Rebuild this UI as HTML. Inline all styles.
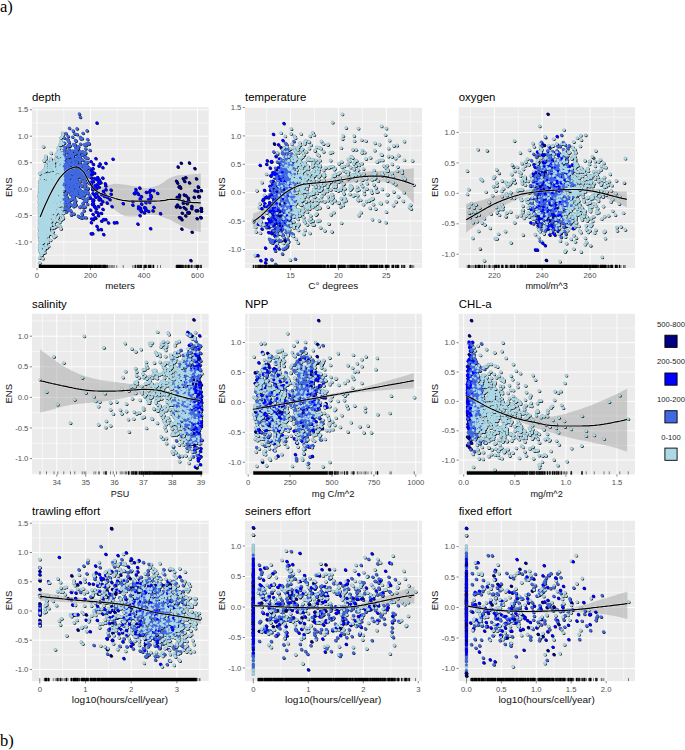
<!DOCTYPE html>
<html><head><meta charset="utf-8"><title>ENS partial effects</title><style>
html,body{margin:0;padding:0;background:#fff;}
body{width:685px;height:750px;overflow:hidden;font-family:"Liberation Sans",sans-serif;}
svg{display:block;}
text{font-family:"Liberation Sans",sans-serif;}
.t{font-size:7.7px;fill:#505050;}
.lg{font-size:7.6px;fill:#222;}
.ti{font-size:11.4px;fill:#000;}
.ax{font-size:9.9px;fill:#111;}
.ay{font-size:9.5px;fill:#111;}
.s{font-family:"Liberation Serif",serif;font-size:16.5px;fill:#000;}
polyline{fill:none;stroke:none;}
.q0{marker-start:url(#n0);marker-mid:url(#n0);marker-end:url(#n0);}
.q1{marker-start:url(#n1);marker-mid:url(#n1);marker-end:url(#n1);}
.q2{marker-start:url(#n2);marker-mid:url(#n2);marker-end:url(#n2);}
.q3{marker-start:url(#n3);marker-mid:url(#n3);marker-end:url(#n3);}
.r0{marker-start:url(#s0);marker-mid:url(#s0);marker-end:url(#s0);}
.r1{marker-start:url(#s1);marker-mid:url(#s1);marker-end:url(#s1);}
.r2{marker-start:url(#s2);marker-mid:url(#s2);marker-end:url(#s2);}
.r3{marker-start:url(#s3);marker-mid:url(#s3);marker-end:url(#s3);}
.p0{marker-start:url(#m0);marker-mid:url(#m0);marker-end:url(#m0);}
.p1{marker-start:url(#m1);marker-mid:url(#m1);marker-end:url(#m1);}
.p2{marker-start:url(#m2);marker-mid:url(#m2);marker-end:url(#m2);}
.p3{marker-start:url(#m3);marker-mid:url(#m3);marker-end:url(#m3);}
</style></head><body>
<svg width="685" height="750" viewBox="0 0 685 750">
<defs>
<marker id="m0" markerUnits="userSpaceOnUse" markerWidth="5" markerHeight="5" refX="2.5" refY="2.5" overflow="visible"><circle cx="3.02" cy="3.02" r="1.5" fill="#000" fill-opacity=".9"/><circle cx="2.45" cy="2.45" r="1.42" fill="#ADD8E6" stroke="#000" stroke-width=".25" stroke-opacity=".6"/></marker>
<marker id="m1" markerUnits="userSpaceOnUse" markerWidth="5" markerHeight="5" refX="2.5" refY="2.5" overflow="visible"><circle cx="3.02" cy="3.02" r="1.5" fill="#000" fill-opacity=".9"/><circle cx="2.45" cy="2.45" r="1.42" fill="#4169E1" stroke="#000" stroke-width=".25" stroke-opacity=".6"/></marker>
<marker id="m2" markerUnits="userSpaceOnUse" markerWidth="5" markerHeight="5" refX="2.5" refY="2.5" overflow="visible"><circle cx="3.02" cy="3.02" r="1.5" fill="#000" fill-opacity=".9"/><circle cx="2.45" cy="2.45" r="1.42" fill="#0000FF" stroke="#000" stroke-width=".25" stroke-opacity=".6"/></marker>
<marker id="m3" markerUnits="userSpaceOnUse" markerWidth="5" markerHeight="5" refX="2.5" refY="2.5" overflow="visible"><circle cx="3.02" cy="3.02" r="1.5" fill="#000" fill-opacity=".9"/><circle cx="2.45" cy="2.45" r="1.42" fill="#000080" stroke="#000" stroke-width=".25" stroke-opacity=".6"/></marker>
<marker id="n0" markerUnits="userSpaceOnUse" markerWidth="5" markerHeight="5" refX="2.5" refY="2.5" overflow="visible"><circle cx="2.5" cy="2.5" r="1.3" fill="#ADD8E6"/></marker>
<marker id="n1" markerUnits="userSpaceOnUse" markerWidth="5" markerHeight="5" refX="2.5" refY="2.5" overflow="visible"><circle cx="2.5" cy="2.5" r="1.3" fill="#4169E1"/></marker>
<marker id="n2" markerUnits="userSpaceOnUse" markerWidth="5" markerHeight="5" refX="2.5" refY="2.5" overflow="visible"><circle cx="2.5" cy="2.5" r="1.3" fill="#0000FF"/></marker>
<marker id="n3" markerUnits="userSpaceOnUse" markerWidth="5" markerHeight="5" refX="2.5" refY="2.5" overflow="visible"><circle cx="2.5" cy="2.5" r="1.3" fill="#000080"/></marker>
<marker id="s0" markerUnits="userSpaceOnUse" markerWidth="5" markerHeight="5" refX="2.5" refY="2.5" overflow="visible"><circle cx="2.5" cy="2.5" r="1.35" fill="#ADD8E6" stroke="#000" stroke-width=".2" stroke-opacity=".35"/></marker>
<marker id="s1" markerUnits="userSpaceOnUse" markerWidth="5" markerHeight="5" refX="2.5" refY="2.5" overflow="visible"><circle cx="2.5" cy="2.5" r="1.35" fill="#4169E1" stroke="#000" stroke-width=".2" stroke-opacity=".35"/></marker>
<marker id="s2" markerUnits="userSpaceOnUse" markerWidth="5" markerHeight="5" refX="2.5" refY="2.5" overflow="visible"><circle cx="2.5" cy="2.5" r="1.35" fill="#0000FF" stroke="#000" stroke-width=".2" stroke-opacity=".35"/></marker>
<marker id="s3" markerUnits="userSpaceOnUse" markerWidth="5" markerHeight="5" refX="2.5" refY="2.5" overflow="visible"><circle cx="2.5" cy="2.5" r="1.35" fill="#000080" stroke="#000" stroke-width=".2" stroke-opacity=".35"/></marker>
</defs>
<clipPath id="c0"><rect x="32.0" y="107.2" width="176.7" height="160.8"/></clipPath>
<rect x="32.0" y="107.2" width="176.7" height="160.8" fill="#EBEBEB"/>
<g clip-path="url(#c0)">
<path d="M63.8 107.2V268.0M117.2 107.2V268.0M170.8 107.2V268.0M32.0 255.2H208.7M32.0 228.8H208.7M32.0 202.3H208.7M32.0 175.9H208.7M32.0 149.4H208.7M32.0 123.0H208.7" stroke="#fff" stroke-width=".6" stroke-opacity=".9" fill="none"/>
<path d="M37.0 107.2V268.0M90.5 107.2V268.0M144.0 107.2V268.0M197.5 107.2V268.0M32.0 242.0H208.7M32.0 215.5H208.7M32.0 189.1H208.7M32.0 162.7H208.7M32.0 136.2H208.7M32.0 109.8H208.7" stroke="#fff" stroke-width=".95" fill="none"/>
<path d="M40.1 213.9L41.6 210.4L43.1 206.9L44.6 203.5L46.1 200.3L47.6 197.2L49.1 194.2L50.6 191.2L52.1 188.4L53.6 185.8L55.1 183.3L56.6 180.9L58.1 178.5L59.6 176.4L61.1 174.4L62.6 172.8L64.1 171.2L65.6 169.8L67.1 168.5L68.6 167.5L70.1 166.8L71.6 166.1L73.1 165.6L74.6 165.2L76.1 164.9L77.6 165.1L79.1 165.8L80.6 166.9L82.1 168.3L83.6 169.8L85.1 172.1L86.6 174.8L88.1 177.4L89.6 179.6L91.1 181.8L92.6 183.7L94.1 184.9L95.6 185.7L97.1 186.2L98.6 186.5L100.1 186.6L101.6 186.6L103.1 186.4L104.6 186.1L106.1 185.7L107.6 185.2L109.1 184.8L110.6 184.5L112.1 184.2L113.6 184.0L115.1 183.8L116.6 183.7L118.1 183.9L119.6 184.1L121.1 184.2L122.6 184.4L124.1 184.6L125.6 184.8L127.1 185.0L128.6 185.3L130.1 185.6L131.6 185.8L133.1 186.1L134.6 186.3L136.1 186.5L137.6 186.8L139.1 187.0L140.6 187.2L142.1 187.5L143.6 187.7L145.1 187.8L146.6 187.9L148.1 187.9L149.6 187.7L151.1 187.5L152.6 187.1L154.1 186.7L155.6 186.3L157.1 185.8L158.6 185.2L160.1 184.4L161.6 183.6L163.1 182.6L164.6 181.5L166.1 180.3L167.6 179.3L169.1 178.4L170.6 177.6L172.1 177.1L173.6 176.6L175.1 176.1L176.6 175.6L178.1 175.3L179.6 175.2L181.1 175.1L182.6 175.1L184.1 175.0L185.6 174.8L187.1 174.7L188.6 174.6L190.1 174.6L191.6 174.4L193.1 174.3L194.6 174.1L196.1 173.9L197.6 173.8L199.1 173.7L200.6 173.6L200.8 173.5L200.8 232.0L200.6 232.0L199.1 231.7L197.6 231.4L196.1 231.1L194.6 230.7L193.1 230.4L191.6 230.0L190.1 229.6L188.6 229.0L187.1 228.4L185.6 227.8L184.1 227.2L182.6 226.5L181.1 225.7L179.6 224.9L178.1 224.0L176.6 223.2L175.1 222.5L173.6 221.7L172.1 220.8L170.6 220.0L169.1 219.3L167.6 218.8L166.1 218.4L164.6 217.8L163.1 217.2L161.6 216.5L160.1 216.0L158.6 215.5L157.1 215.3L155.6 215.2L154.1 215.0L152.6 214.8L151.1 214.7L149.6 214.6L148.1 214.5L146.6 214.5L145.1 214.6L143.6 214.9L142.1 215.2L140.6 215.6L139.1 215.9L137.6 216.2L136.1 216.3L134.6 216.4L133.1 216.5L131.6 216.5L130.1 216.5L128.6 216.5L127.1 216.3L125.6 216.2L124.1 215.7L122.6 215.1L121.1 214.2L119.6 213.3L118.1 212.3L116.6 211.3L115.1 210.1L113.6 208.9L112.1 207.7L110.6 206.5L109.1 205.6L107.6 204.8L106.1 204.0L104.6 203.2L103.1 202.4L101.6 201.3L100.1 200.0L98.6 198.5L97.1 196.7L95.6 194.9L94.1 193.1L92.6 191.0L91.1 188.5L89.6 185.6L88.1 182.8L86.6 179.7L85.1 176.6L83.6 174.1L82.1 172.5L80.6 171.0L79.1 169.9L77.6 169.1L76.1 168.9L74.6 169.1L73.1 169.5L71.6 170.0L70.1 170.6L68.6 171.3L67.1 172.3L65.6 173.5L64.1 175.0L62.6 176.5L61.1 178.2L59.6 180.1L58.1 182.4L56.6 184.8L55.1 187.4L53.6 190.0L52.1 192.8L50.6 195.8L49.1 199.0L47.6 202.2L46.1 205.6L44.6 209.1L43.1 212.7L41.6 216.4L40.1 220.3Z" fill="#999" fill-opacity=".42"/>
<g class="p0"><polyline id="a0" points="63,218.6 54,204.3 59.4,190.1 51.1,199.1 45,228.6 60.3,226.6 46.7,184.3 46.4,209.8 41.9,187.4 47.2,193.6 59.8,160.8 40.5,217.9 41.7,207.6 52.4,193.4 42.2,213.8 50.5,191 60.6,172.9 46.6,210.2 39.9,228.5 40.2,203.1 59,153.6 59.2,151 45.5,214.5 60.4,178.4 59.2,148.5 47.3,211.5 42,214 44.6,183.3 39.9,239.2 47.9,211.4 45.3,221.2 46.1,223 45,205.6 40.7,193.8 47.4,228.1 41.1,177.8 59.1,150.2 43.5,206.8 51.8,177.5 54.3,227.7 42.5,219.5 48.1,209.9 58.7,180 48.8,218.1 54.6,215.8 42.1,214 47.1,232.6 60.7,196.8 52.5,181.4 48.1,191.6 39.8,215.3 39.7,181.5 40.3,222.2 46.2,201.8 42.9,198.5 46.5,216.9 51.4,207.1 43.9,215.4 39.8,221.5 55,220.8 45.6,210.6"/></g>
<g class="p1"><polyline id="a1" points="68,165.1 64.2,153.1 72.2,178.4 79.9,189.8 82.3,197.9 65.8,163 75.1,146.3 76.9,189.9 75.9,204.5 74.3,198 84.3,153.6 87.6,139.4 79.7,191.5 74.1,164.5 80.3,117.2 80.1,169.3 79.1,154.1 72.6,179.7"/></g>
<g class="p2"><polyline id="a2" points="160.4,213.5 146.1,210.2 94.6,206.1 135.8,189.5 99.3,183.1 93.5,200.1 140,198.9 107,202.9"/></g>
<g class="p3"><polyline id="a3" points="199.2,196.4 179.1,197 188.6,200.9"/></g>
<g class="p0"><polyline id="a4" points="40.8,182.7 41.4,210.2 46.6,223.6 47.2,194.9 40.7,225.5 56,183.7 44.6,213.7 40.6,203.1 49.9,192.1 61.7,167 46.1,211.7 58.3,149.3 62.8,167.8 54,218.8 45.4,216.4 54.1,189.4 61.9,158.7 48.5,170.1 43.3,207.7 40.3,220.3 61.2,170.8 50.9,181 42.5,223.7 53.7,192.3 45.2,221.6 58,210.9 44.8,217.9 43.4,221.3 63.5,185.8 43.5,206.7 42.8,212 44.9,186.6 40,216.5 54.6,222 52.4,217.3 39.4,207.8 47.3,216.8 47.3,209.9 53.6,178.8 52,199.5 61,174.1 41,216.9 47.9,196.2 61.1,175.2 41.3,240.6 54.7,196.9 47.7,232 43.9,196.9 52.7,182.1 51.3,176.7 47.8,198.6 40.3,217.7 52.1,216.5 46.7,209.4 39.4,209.8 47.9,189.7 56,214.1 60,183.4"/></g>
<g class="p1"><polyline id="a5" points="64.3,177.4 70.5,186.5 66.1,177 72.5,180.8 76,158.8 83.9,168.4 72.5,163.8 68.5,190.7 69.8,175.1 65.2,175 80.5,144.1 66.4,175.3 84.7,199.3 69.5,145.7 87.5,162.3 64.6,159.6 82.7,170.8 70.8,177.3 70,169.6 65.8,188 63.8,190.8 73.2,189.5 86,163.8 79.7,152.7 68.6,189.1 76.5,174.5"/></g>
<g class="p2"><polyline id="a6" points="90.5,210 111,190 101.5,221.1"/></g>
<g class="p3"><polyline id="a7" points="191.6,208.5 185.6,215.7 186.9,203.6"/></g>
<g class="p0"><polyline id="a8" points="61.3,187.5 62.4,136.8 43.6,176 42.1,205.8 54.3,203.6 50.3,192.9 41,221 39.9,182.7 40.6,226.8 50.5,164.5 58,217.6 39.4,228.5 45.1,190 40.5,204.9 44.7,188.7 58.7,211.7 45.6,203.8 42.5,214.9 41.1,211.3 50.3,206.1 63.2,170.6 60.2,176.4 43.6,205.1 45.2,221.5 48.1,176.7 55.5,171 50.8,167.8 43,216.4 41.6,220.7 54.6,206.9 39.5,220.1 44.8,194.9 49,206.3 63.1,194.1 41,238.8 41.2,201.2 41.4,221.2 53.7,218.2 49.8,206.8 47.4,229.2 57.2,188.9 63,186.9 40.7,223.1 55,210.7 43.2,183 54.9,183.6 43.1,193.7 48.2,178.2 41.6,217.3 50,215.9 59,181.2 50.2,196.2 40.9,200.4 45.7,211.1 45.9,217.5 54.6,194.9 49.1,212.8 61.3,203.6 45.6,210.9 46.5,229.6 56.5,175.6 53.9,174.9 44.2,209.4 46.3,204.9 40.4,188 40.9,209.9 55.5,226.7 54.3,219.2 51.2,201.4"/></g>
<g class="p1"><polyline id="a9" points="67.4,178.1 67.3,181 65.5,158 72.7,156.2 80.8,166.1 65.3,171.8 67.7,146.4 73.9,163.8 74.8,203.2 66.4,199.1 80.4,172.4 71.4,152.2 64.6,203.6 82.5,174.8 68.8,178.4 73.8,168.7 74.5,191.8 63.9,164.8"/></g>
<g class="p2"><polyline id="a10" points="149.2,191.9 151,196.7"/></g>
<g class="p3"><polyline id="a11" points="187.9,212.7 187.9,212.7"/></g>
<g class="p0"><polyline id="a12" points="48.7,229.4 59.1,171.7 62.3,166.1 49.2,214.1 45.1,193.8 46.7,170.4 60.7,190.7 60.4,187.5 42.5,200.7 62.9,148.2 43.4,196.9 52.8,204.8 41.2,191.3 48,204 43.7,224.5 46.4,203 47.3,226.2 50.4,174.6 56.9,199.6 48.8,200 45.6,237.8 43.3,235 48.3,205.7 53.8,190.7 47,241 44.8,202.2 52.3,201.4 44.4,219.9 40.6,217.7 41.2,224.9 40.3,182.5 52.8,210.9 58.1,188.9 44.4,160.3 47.3,188.8 43.7,214.8 48.8,202.6 48.6,182.8 48.6,197.7 52.9,209.2 41.8,206.5 42.1,229.9 45.6,201.1 50.9,217.8 56.1,192 44.7,252.5 47.6,189.6 46.4,194.4 61.7,167.5 59.6,185.4 42,199.1 50.3,175.4 57.3,183.7 48.1,242.2 59,194 59.4,170.1 45.3,229.9"/></g>
<g class="p1"><polyline id="a13" points="70.4,194.4 69.2,161.2 76.4,179.4 75.4,192.3 64,182.2 72.9,156.5 70.8,188.1 80.8,138.8 68.7,177.7 68.1,136.4 66,133.6 77.3,165.8 68.4,156.6 75.5,194.9 79.6,156.2 64.1,198.1 85.7,157.5 67.6,181.5 73.6,144.4 71.2,176.7 75.3,186.3 68.5,203.4"/></g>
<g class="p2"><polyline id="a14" points="138.5,206.7 112.9,159.1 92.6,189.7 144.4,207.6 92.9,193.6 97.9,196.6 96.6,193.3 96.8,184.7 91.8,174.6"/></g>
<g class="p3"><polyline id="a15" points="176.4,181.1 179.3,217.4"/></g>
<g class="p0"><polyline id="a16" points="60.5,152.7 58.5,178.5 48.8,228.4 48.5,204 44.1,204.6 44.3,214.1 45.6,207.2 51.2,206.4 61.8,169.7 42,254.9 57.5,193.7 44.4,200.5 57.2,168.3 55.7,206.5 46.6,214.1 55.2,195.7 41.4,229.1 60.2,177.4 45.8,156.3 43.7,191.9 48.5,215.8 44.9,213.1 42.9,234.3 45.9,189.2 60.6,176.6 52.5,197.9 46.9,189.5 45.2,221.2 57.3,201.1 53.9,224.2 45.5,208.8 43.8,221.8 45.8,225.9 48.2,219.2 43.6,239.2 62.1,186.3 47.5,203.1 61.9,194.4 62.4,153.7 60.1,161 45.3,201.4 44.6,209.7 46.9,190.8 41.7,194.8 42.8,231.1 41.7,201.7 54.3,201.5 46,217.3 48.6,195.5 39.3,197 44.1,228.4 61.3,186 42.6,229.4 48.3,211.7 42.3,181.9 48.5,201.6"/></g>
<g class="p1"><polyline id="a17" points="76,194 74.7,165 68.3,170.5 76,174.4 63.8,165.1 72.9,196.8 66.6,208.4 72.4,172 79.6,166.4 66.5,179.1 67.2,186 70.2,188.7 78.2,216.1 73,167.6 79.6,174.5 88.9,175.8 70.4,169.7 67.3,189.6 69.3,151.5 72.8,180.9 78,159.8 76.1,188.3 76.8,192.3 84.8,191 71.9,153.5"/></g>
<g class="p2"><polyline id="a18" points="145.7,209.8 90.5,198 92.4,187.4 93.2,219.4 132.7,205.1 98.9,199.8 139.9,215.6 105.6,185.7"/></g>
<g class="p3"><polyline id="a19" points="201.2,208.4 201.2,208.4"/></g>
<g class="p0"><polyline id="a20" points="56.8,192.1 43.2,217.9 58,155.2 58.3,191.1 44.4,202.7 41.7,210.6 62.3,216.1 50.9,186.8 53.7,188.7 44.5,202.7 48.7,215.7 47.8,198.2 57.5,191.6 41,225.2 44.5,197.3 40.5,210.4 56.9,204.9 43.6,211 57.9,177.1 46.6,206.4 57.3,199.2 60,194.6 49.7,177 43.4,216.5 50.6,193.3 48.7,198.3 40.9,200.6 44.1,214.5 43.4,146.8 48.2,223.4 49.7,195.4 59.2,148.3 60.3,211.2 46.3,221.5 62.2,196.5 60.9,144.9 56.9,195.6 39.4,210.8 57.2,185.5 40.6,206.4 48.2,162.2 54,194.7 48.2,214.7 46.5,183.3 44,187 43.6,228.6 47.4,176.6 46.6,199.6 40.6,182.4 46.6,210.4 40.4,222.5 59,176.3 46.7,205.8 60.8,162.7 42.4,221.2 56.3,190.8 53.6,184.8 39.5,195.5 44.5,206 40.4,201.2 44.2,227.3 39.5,200.2"/></g>
<g class="p1"><polyline id="a21" points="67.8,139.6 73,168 77.8,174.5 72.1,187.3 73.9,154.2 79.6,166.2 63.9,169.5 78.7,188.6 76.1,192.4 68.1,176 69.8,171.9 70.1,181.3 75.6,190.9 77.1,193.5 72.4,173.8 75.4,185.1 79.7,197"/></g>
<g class="p2"><polyline id="a22" points="96.9,123 93.3,181.6 103.4,191.2 101.5,194.6 95.5,197.2 92.9,203.5 137.4,193 140.9,200.7 94.7,217.9"/></g>
<g class="p3"><polyline id="a23" points="179.4,195 176.2,206.8"/></g>
<g class="p0"><polyline id="a24" points="45.5,206.6 40.8,236.6 44,190.5 47.6,188.9 57.2,189.3 46.2,199.8 39.9,197.8 62.2,172 47.9,215.2 42.6,172.9 49.2,200.8 57.5,192.9 43.3,203.7 41.5,247.5 43.9,235.7 60.8,173.9 44.1,227.3 43.2,212.8 59,171.8 57.7,159.9 58.2,172.1 61.3,195.2 52.5,234.3 61.1,213 50.3,206.3 47.9,179.8 46.4,222.9 53.3,190.6 45.2,224 43,201 42.5,202.3 42.8,201.4 49.5,201.3 49.5,180.6 56.3,204.8 44.2,218.2 46.3,203.5 50.7,214.9 51.6,203.7 44,190.1 42.1,216 47.3,241.7 47.4,210.9 41.3,245.4 46.5,225.9 57.5,162.6 52.3,190.5 44.6,214.8 43.5,206.3 49,174.3 48.3,205.9 56.1,183.5 45.4,195.2 47.8,221.3 42.3,215.6 46,187.9 50.9,221.4 42.1,217.9 54,168.3 53.5,195.3 47.5,184.4 45.9,195.1 44.3,221 59.2,208.8 40.1,223.5 51.6,191.8 46.3,201 58.8,200.6 60.6,184.1 40.7,225.5 40.8,206.1 52.2,193.9 63.5,178.1 45.5,211"/></g>
<g class="p1"><polyline id="a25" points="76.1,184.9 71.6,168.6 77.6,159.6 83.6,164.7 85.9,172.4 66.8,163.9 71.3,186.4 78,166.7 80.7,190.7 67.7,168.2 74.4,179 77,175.2 84.4,172.4 74.4,183.6"/></g>
<g class="p2"><polyline id="a26" points="111.9,206.6 105.7,219.4"/></g>
<g class="p0"><polyline id="a27" points="47.8,192.6 57.4,168.5 42.1,205.3 50,199.8 43,183.8 45.9,222 60.5,197.6 62.8,184.8 54.7,208.1 49.1,222.4 58.5,225.5 46.7,209.2 42.9,205.9 40,249.7 51.2,216.1 48.3,174.6 57.8,184.1 62.8,170.9 40.9,246.5 56,180.7 46.5,193 47.6,193.8 43.5,189.3 52,228.2 48.5,191.4 44.4,213.9 49.9,203.7 40.1,214.7 43.8,212.2 53.1,196.3 54.4,203.7 63.6,182.6 59.7,185.3 55.5,179.6 59.2,151.2 41.7,210.2 50.8,158.8 47.6,181.1 53.2,197 53.5,181.5 49,203.8 46.5,221.9 48.5,202.8 41.1,180.5 50.4,196.3 56.6,193.7 41.4,210.9 45.6,176.3 44.1,210.1 45.9,165.7 44.4,193.3 44.5,182.1 45.4,200.7 40.8,220.8 45.8,178.7 55.9,191.7 41.6,233.3 39.4,215.8 50.2,190.4 47.9,195.5 40.8,219.2 57.3,165.1 43,212.9"/></g>
<g class="p1"><polyline id="a28" points="68.1,175.9 66.3,181.1 72.4,157.3 72.6,179.7 65.4,167.4 74.7,176.3 65,147.5 78.3,183.6 74.8,179.2 71.2,214.9 68.5,175.1 77.1,180.3 82.9,168.7 76.9,176.8 65.8,178.1 77.4,167.4 85.6,200.7 69.4,152.8 82.8,169.6 84.4,200.8"/></g>
<g class="p2"><polyline id="a29" points="139.7,187.9 141.5,204.1 152.9,210.8 94.2,195 91.6,181.9 150.2,198.9"/></g>
<g class="p3"><polyline id="a30" points="200.8,217.5 200.8,217.5"/></g>
<g class="p0"><polyline id="a31" points="43.4,225.6 42.4,209.9 59.5,179.8 42.7,192.2 41.7,220 47,209.9 50.2,216.7 43.4,240.9 47,226.7 43.9,193.2 61,204 59.7,222.3 42.1,235.2 45,193.8 44,227.1 46.4,236.2 53.1,194.9 58,181.6 43.6,219.8 42.6,211.4 51.2,180.5 47.2,201.1 55.6,193.3 49.6,200.7 43.5,217.6 51.8,186.6 43.3,222.5 46.7,196.6 49.4,200.6 45.2,191.4 55.3,172.8 45.2,202.9 43,209.9 56.5,160.7 46.1,212.4 41.6,182.9 42.8,203.2 58.9,167.8 42.8,243 42.2,205.4 46.4,227.8 55.1,203.7 40.9,214.8 40.5,214.9 42.4,232.9 55.9,158.8 48.6,230.8 43.4,205 41,202.1 57.8,183.2 56.7,176.2 39.3,236.4 45.8,194.8 44.2,172 48.6,207.5 55.4,177 53.8,207 56.7,199 60.6,193.7 40.3,252.1 62,179.2 49.8,220.2 41.3,185.2 54.9,206 48.4,239.4 43.1,188.9 43.8,230.2"/></g>
<g class="p1"><polyline id="a32" points="76.5,171.4 72.3,153.5 75.5,173.6 65.4,182.1 65.5,199.7 66.4,152.4 72.2,156.6 81,192.3 73.1,130.9 72.4,155.2 86.5,200.6 64,198.1 72.6,179.2 65.8,175.9 75.1,201 64.4,143 80.3,189.9 65.8,175.8"/></g>
<g class="p2"><polyline id="a33" points="94.5,207 96.7,179.5"/></g>
<g class="p3"><polyline id="a34" points="188.2,200.8 186,195.8 178,166.9"/></g>
<g class="p0"><polyline id="a35" points="59.3,204.6 53.9,205.9 41.3,221.5 50.1,191.2 47.5,195.9 40.1,219 46.4,210.2 50.3,217 42.9,220.1 56.3,208.1 41.3,190.9 52.3,191 39.7,250.8 50.9,205.6 44.5,227.7 59.4,162.2 45.8,244.8 48.9,166.7 46.8,212.5 43.6,206.8 54.4,205.1 57,189.7 42.6,205.2 41.1,202.5 48,206.7 54.5,206.6 39.5,198.7 42.1,213.9 45.5,218.5 59.8,178.5 63,164.7 50.5,240.3 41.7,200.9 57,187.9 39.4,187 41.8,212 42.3,199.5 45,201.1 39.7,201.1 44.4,217.6 41.2,210.4 46.5,196.7 54.4,169.1 47,217.2 63.2,168.4 42.9,181.6 48.8,187.1 45.9,186 55.9,183.3 47.9,198.2 43.4,224.5 44.5,209.4 53.8,203.9 41.9,206.4 60.8,174.9 43.9,216.5 46.1,204 44.4,240.8 52.6,207.1 44.5,187 48.4,210.8"/></g>
<g class="p1"><polyline id="a36" points="69.4,181.9 75.8,186.9 83.3,197.6 86.5,166.4 83.8,152.4 86.9,171.8 81.5,175.3 65.6,173.3 68.7,206.6 69.7,172 68.6,165.2 85.9,199.2 84.5,156.7 88,188.3 89.5,173 65.4,168.7 64,165.7 66.7,182.7 81.2,166.1 65.6,170.6 71.4,151.9 73.8,183 86.5,171.8"/></g>
<g class="p2"><polyline id="a37" points="98.8,166.1 95.6,217.9 100.8,182.6"/></g>
<g class="p3"><polyline id="a38" points="188.1,198 189.3,162.9 194.1,197.3"/></g>
<g class="p0"><polyline id="a39" points="46.4,169.1 47.3,197.4 39.4,224.6 54.2,162.5 40.5,185.3 42.6,232 39.7,226.4 62.2,185.7 52.7,175.9 58.4,164.4 44.3,233.5 57.3,182.4 61.3,180.2 62.2,182 43.2,201.8 57.8,199.1 48.5,215.6 40.1,211.4 51.2,221.2 47,217.7 40.8,205.7 48.9,182.2 51.3,202.2 51,205 55.3,187 49.7,209.8 44.2,200.6 59.8,205.7 53.3,188.2 60.3,199.2 43.4,187.2 46.3,188.1 45.8,193.7 51.7,163.5 45.5,171.1 53.1,200.2 47.4,216.5 41.1,250.9 59,187.8 48.6,202.7 57.2,212.4 45.1,234.9 39.6,248 46.1,201.8 50.2,177.9 46,233.2 43.2,184 42.2,199.7 42.2,201.5 41.3,183.8 42,206.8 48.5,198.3 44.6,196.8 50.5,201.5 58.5,181.8 45.1,196.4 52.3,209 50.4,163.8 43.4,202.3 45.5,219 45,189.5 54.4,218.4 40.1,227.1 44.3,249.9 39.8,189.4 45.4,201.3 54,178.9"/></g>
<g class="p1"><polyline id="a40" points="69.4,156.2 70.2,155.6 64.7,175.1 79.4,191.2 86.1,201.3 79.8,164.8 79.5,160.6 75.1,182.2 79.3,159.4 80.4,137.2 68.4,173 69.3,191.6 82.9,207.1 74.9,192.4 80,162.4 88,198.3 85.3,163.1 72.6,155.9 67.5,160.6 77.6,166"/></g>
<g class="p2"><polyline id="a41" points="96,212 145.3,207.8"/></g>
<g class="p3"><polyline id="a42" points="189,212.4 189,212.4"/></g>
<g class="p0"><polyline id="a43" points="44.7,205.6 43.3,220.6 42,185.9 49.7,180.9 46.4,228.9 54.1,185.1 41.9,228.5 63.4,172.5 61.1,183.4 48.7,232 59.3,176.9 44.7,201.7 42.3,194.5 47.2,210 60.9,194 39.8,221.4 56.5,202.3 56.5,181 43.2,200.9 41.2,218.6 39.8,197.9 57,207.3 61,159.7 48.6,201.1 44.6,247.7 55.9,171.5 39.5,196.1 43.7,197.4 42.2,240.2 45.3,227.3 40.9,207.6 47.3,201.6 39.6,248.2 39.6,258.1 59.1,203.3 43.7,185.2 43.8,177.5 60.4,159.5 48.1,212.8 45.1,189.4 40,210.6 62.8,181.5 51.1,197.7 48.5,228.1 62.6,209.4 41.5,190.4 44.4,189.3 62.3,177.3 48.3,188.6 50.7,201.7 47.7,202.3 41.7,213.5 46.3,184.9 50,183.8 46.7,247.5 53.1,189.2 59.8,188.6 55.4,211.3 51.4,203.8 48.2,195.6 42.2,200.9 44.2,206.3 41.5,226.6 45.4,206.9 47,207.4 44.2,182.3 51.9,205.4 50.9,186.1 46.2,214.9 62.7,185.7"/></g>
<g class="p1"><polyline id="a44" points="67.5,200.1 66.3,180.1 67.3,168.3 75.5,167.6 88.7,174.4 82.1,214.9 70.9,204.8 76.6,173 74.7,191.9 81.8,178.8 69.4,169.3 81.3,196 73.3,189 70.6,168.9 84.9,175.3"/></g>
<g class="p2"><polyline id="a45" points="92.9,168.4 146.3,192.2 99.3,198.1"/></g>
<g class="p3"><polyline id="a46" points="178.9,187 184.6,181.3"/></g>
<g class="p0"><polyline id="a47" points="53.1,197.3 43.4,223.5 46,219.9 46.3,225.8 45.4,221.9 40.4,199.1 42.9,187.2 47.6,220.6 53.8,198.1 52.3,204.6 63,134.9 48.3,186.2 42.5,224.5 44.2,198.6 51.3,198.2 47.5,200 57.1,186.7 44.2,205.8 42.5,195.7 42.9,210.1 41.7,216 59.5,198.1 46.4,216.6 48.5,246.3 51.5,165.9 46.7,204.8 46.1,185.3 48.3,178.3 57.7,166.3 46.5,188.9 54.8,184.2 41.9,205.2 51.2,206.2 41.1,226.5 60.2,187.8 45,192.4 48.1,227.8 40.3,219.7 49,165.2 44.7,237.7 45.3,213.3 50.3,188.7 41.7,211.6 58.1,177.6 47.1,187.1 62.9,182.8 47.6,192.6 43.5,207.1 43.2,222.6 52.3,197.4 56.4,207.1 39.6,200.9 47.2,223.4 49.4,202.4 47.8,200.8 57.3,181.2 54.3,197.3 49.6,181.1 45.5,186.1 62,154 60.8,138.1 59,166.8 40.1,192.5 62.2,154.4 61.6,176.3 48.7,167.7 54.5,213.4 42.3,193.5"/></g>
<g class="p1"><polyline id="a48" points="77.3,174.8 68.5,176.2 66.3,211.7 87.5,204.2 64.4,202.2 69.4,128.3 80,193.4 75.5,200.8 80.1,184.9 71.8,171.6 84.9,193.6 74,196.5 66,204.8 81.3,218 84.1,182.5 74.4,179.3 65.4,175.3 79.6,172.8"/></g>
<g class="p2"><polyline id="a49" points="149.5,202.2 157.5,193.2 93.3,203.6 93.1,200"/></g>
<g class="p0"><polyline id="a50" points="45.5,220.3 45.3,204.4 46.7,209.3 46.9,182.2 47.9,200.9 55.5,235.9 43.4,201.2 44.2,202.2 44.8,199.6 46.9,199.5 57.6,191.4 46.7,206.1 47.9,207.7 62,159.3 40.7,204.6 49.9,216.9 61.6,199.7 61.3,211.6 49.8,203.5 46,207.7 46.9,229.9 44.1,197.4 45.5,236.9 58.3,154.8 41.9,221 53.6,192.2 39.3,233.1 53.2,204.3 53.8,212.4 43.6,223.9 42.2,212.1 42.6,242.7 39.5,213.6 42.9,197.3 53.7,164.4 45.7,200.8 61.3,183.4 62.5,180.8 51.3,215.2 51.7,188.6 53.4,194.6 48.6,180.8 56.7,195.3 48.3,190.6 49.5,196.9 44.5,189.8 41.2,226.1 53.9,224.7 45.4,181.9 53.6,197.5 43.6,241.8 51.2,205.9 43.1,178.2 51.2,225.6 43.5,231.5 43.8,177.7 63.2,205.7 60.6,171.9 45.8,228 40.9,198.4 50.9,209.1"/></g>
<g class="p1"><polyline id="a51" points="84.7,167.5 77,157.4 65.4,196.2 78.1,186.4 70.4,154.7 73.3,171.5 90,150.3 68.4,165.6 84.3,174.9 79.3,114 74.6,162.3 86,217.7 77.2,180.9 71.6,183.4 79.8,171.6 75.4,205.6 68.2,209.8 66.7,196.7"/></g>
<g class="p2"><polyline id="a52" points="91.1,233.8 148.5,211.3 134.2,193.4 96,208.7 105.2,183.8 102.9,209.2 103.6,234.4 95.8,158.6 148.3,199.7"/></g>
<g class="p3"><polyline id="a53" points="177.1,197.2 194.8,190.7"/></g>
<g class="p0"><polyline id="a54" points="62.9,204.1 48.6,232 58.2,199 46.3,208 57.4,153.5 39.6,217.4 46,196.9 43.5,225.3 41.1,191.5 46.6,187.4 39.6,240.2 46.3,183.5 56.6,189 46.7,185.9 45.6,174.7 52.6,206.8 60.1,183.2 40.1,183.4 50.5,178.7 42.4,199.4 40.7,212 49,197.9 61.1,194 44.2,184.7 40.8,237.9 51.1,203.2 52.1,196 46,212.9 47.1,219.1 54.4,161.5 49.2,211.2 53.1,212.5 41.2,214.6 45.3,242 45.5,175 45.7,200.8 52.4,191.7 48.8,206.1 48.8,225.1 40.8,191.2 45.1,209.9 40.6,235.8 57.9,192.2 56.9,196.2 60.2,191.9 60.9,186.9 59.7,192.3 42.6,195.6 44.9,198.9 43.6,220.6 39.3,195.1 47.8,195.7 41,222.6 53.3,193.7 41.4,205.4 42,180.6 55.5,195.5 43.6,213.7 57.7,186.6 48.9,185.8 40.5,209.1"/></g>
<g class="p1"><polyline id="a55" points="65.8,166.8 76.6,182 79.9,151.7 68.1,166.8 81.8,173.6 63.9,161.2 70.6,160.4 69.9,210.1 67.7,170 68.7,168 72.9,190.5 73.3,154.8 86,166 67.3,178.5 85.9,157.6 69,179.7 82.4,192.1 76.2,175.6 73.7,158.8 85.1,182.2 84.9,207"/></g>
<g class="p2"><polyline id="a56" points="91.2,222.6 101.3,213.2 100.3,199.1 114.2,222.8 150.5,228.6 104.3,196.3"/></g>
<g class="p3"><polyline id="a57" points="178.5,199.1 198.6,196.8"/></g>
<g class="p0"><polyline id="a58" points="43.2,225.4 40,222.5 43.4,201.7 60.8,215.3 43.6,200.6 42.6,223.9 45.5,217 46,212.3 46.3,231.4 50.7,208.7 39.7,244.5 40.6,206.6 44.2,195.4 40.9,181.2 42.4,180.3 61.5,196.5 44.4,217.7 44.8,194.1 57.3,154.2 43.8,202.4 45.2,185.5 44.1,221 48.3,218.2 48.2,184 61,174.4 47.1,197.3 56.7,207.9 44.2,229.3 50.8,163 41.7,191.3 52.4,198.3 46.2,184.9 42.5,202.4 46.1,227.8 47.8,191 50.2,197.7 45.3,230.3 51.3,202.2 53.6,208 42.9,201.8 52.6,193.6 40.9,217.4 51.6,191.9 45,207.5 51.3,193.6 45.8,201.1 61.3,178.8 45.3,196.3 46,205.3 41.8,176.6 47.4,220.7 47.5,196.7 61.9,156 57.4,184.2 41.4,189.5 63,172.4 45.5,235.3 57.9,174.8 56.3,207.3 45.3,196.1 52.4,197.2 61.6,143.3 51.4,183.9 62,177.4 45.8,205.9 49.8,220 47.2,178.2 56.2,184.1 47,186.9"/></g>
<g class="p1"><polyline id="a59" points="68.4,184.2 81.7,174.9 68.6,178.2 70,170.2 74,172.8 87.6,191.9 66.4,178.3 77,128.8 89.5,195.5 77.6,172.5 67.8,182.2 81.4,159.9 72.7,198.3 76.8,162.8 68.3,204.3 66.7,202"/></g>
<g class="p2"><polyline id="a60" points="91.6,218.9 95,185.8 99,187"/></g>
<g class="p3"><polyline id="a61" points="180.8,218 197.5,191.2"/></g>
<g class="p0"><polyline id="a62" points="54.8,189.2 49.6,224.3 42,206.3 47,228.1 54.8,216.8 57.7,189.8 45.1,206.2 61.4,219.8 43.3,252.9 45.2,194 45.3,211.4 42.6,183.1 45.2,199.9 46,184.9 44.5,200.6 50,222.9 63,168.7 47.6,209.9 40.4,217.4 51.8,234 49.6,192 44.9,191.3 43,208.2 47.3,211.6 40.6,188.5 40.9,192.4 43.3,247.1 44,208.7 45.2,211.5 56.6,192.8 57.2,188.5 49.1,217.6 61.4,193.1 46.9,220.9 48.8,206.8 42.2,213.5 53.2,194.7 47.9,196.1 55.6,188.3 46.5,197.7 48.1,213.3 51.9,173.1 44.8,218.1 41.6,231.4 55.5,178.8 43.5,210.8 48.9,205.4 55.2,183.4 49.4,192.3 47.7,219.8 55,187.7 39.5,204.5 49.2,171 44.4,190.8 60.3,191.1 50.7,175.5 44.5,170.3"/></g>
<g class="p1"><polyline id="a63" points="72.8,192.7 68.3,166.2 70.3,199.7 70.1,161.2 73.5,176.8 71.1,192.8 84.3,144.8 81.1,165.7 66,175 88.9,183.3 69.6,152.3 63.9,170.8 63.8,170.5 68.5,160 81.6,195 73.4,165.6 64.6,170.4 86.1,169.7 90,171.9 75.6,181.1 68.9,179.1 72.9,160.4"/></g>
<g class="p2"><polyline id="a64" points="107.3,197.2 94.4,173.1 93.3,164.2 91.7,171 91.5,178.1 141.3,196.5"/></g>
<g class="p3"><polyline id="a65" points="183.3,201.1 183.9,207.4 181.1,163.1 180.4,188 187,202.9"/></g>
<g class="p0"><polyline id="a66" points="46.1,239.4 48.7,213.2 48.1,185.3 60.3,184.1 51.1,153.3 46.8,217.2 52.8,167.6 48.5,202.7 40.9,208.4 41.1,214.4 62,173.5 54.2,177.6 47,187.8 57.1,180.8 43.8,249.6 49.3,180.3 39.3,194 61.1,180.2 42.8,218.3 42,235.4 56.7,219.9 42.9,224.5 53.1,235.2 44.5,220 57.9,210 51.3,174.8 48.6,169.5 61.7,161.7 46.8,221.4 45,233 47.9,236.5 47.7,217.7 55,211.4 51.5,170.5 61.5,142.3 62.6,190.4 57.5,187.6 60,169.9 45.4,196.3 57.6,181 56.1,172.3 40.7,231.1 54.9,207.5 50.7,185.1 41.7,211.1 60.5,188.6 40.6,192.3 45.7,213 60.8,173.7 44.4,210.5 41.4,252.9 48.6,179.5 49,227.8 57.5,180.2 42.6,206 49.7,195.7 45.9,207.4 63.3,153.1 39.6,218.5 39.7,225.8 52.6,206.2"/></g>
<g class="p1"><polyline id="a67" points="64.5,147.3 82.4,152.2 83,133.2 77.2,181.5 66.2,173.1 81.2,170.7 68.2,141 82.8,193.6 73.9,213.9 68.1,177.7 70.5,170.3 65.5,165.8 81.5,175.8 72.5,193.8 81.2,171.1 74.4,170.2 67.2,171.7 81,168.4 78.5,146.7 70.2,176.7 75.4,153.9"/></g>
<g class="p2"><polyline id="a68" points="91.3,184 98.3,215.6 99.5,180 101.1,204.1 92.8,201.2 96.1,187.7"/></g>
<g class="p3"><polyline id="a69" points="177.4,182.9 185.8,209"/></g>
<g class="p0"><polyline id="a70" points="49.6,207.8 44.5,176.5 56.3,155.5 40.2,195.5 44.7,249.4 44.7,223.6 54.6,190.3 40.4,197.7 54.8,198.4 41.2,255.3 45,230.2 41.6,221.6 55.2,173.1 48.5,234.5 46.8,202.5 54.6,190.3 47.3,210.3 61,190.1 49.7,209.6 45.5,185.4 46.5,195.6 45.1,194.4 49.8,226.2 45.7,208.3 53,178.6 43.2,197 60,175.7 43.1,214.7 48.8,213.3 45.2,199.1 40.4,230.9 51.2,190.9 40.5,173.5 53.6,175.9 39.4,202.4 62.8,165.1 47.6,216.2 42.4,179.6 50,195.5 62.1,181.5 46,178.1 44.3,218 50.8,208.6 48.3,234.9 49.9,233.8 47.3,208.4 61.8,159.4 42.1,196.4 54.1,191 39.5,207.3 49.8,209.2 40.6,190.6 55,215.7 48.2,211.8 60.9,141.3 55.2,172.1 47.2,177.3 46.6,198.5 48.8,204.1 58.8,210.5 56.6,198 54.4,203.8 57.2,189.9"/></g>
<g class="p1"><polyline id="a71" points="83.8,182.5 72.3,199.1 82.4,155 79.1,196.7 71.9,184.1 64.8,163.4 64.1,154.6 78.1,165.5 72.8,158.3 76.4,158.6 72.7,174.1 66.8,186.4 74.7,203 76.7,151.7 64,175.2 64.1,179.6 72.3,165.3 64.6,149.4 76.5,188.2 65.6,182.2 83.4,217.6 70.6,168.4 89.9,172.9"/></g>
<g class="p2"><polyline id="a72" points="105.8,163.2 97.7,177.4 98.4,206.4"/></g>
<g class="p3"><polyline id="a73" points="198.2,187 198.2,187"/></g>
<g class="p0"><polyline id="a74" points="61.3,160.4 47.3,202.1 47.9,204.9 59.9,213.1 47.4,215.7 52.3,166.2 60.2,196 48.4,233.1 52.6,190 43.4,180.7 55.2,197.4 53.5,183.1 49,201.7 61.5,180.4 46.7,209.9 56.1,194.7 39.7,208.8 53.7,182.5 55.9,191.2 44.9,213.3 45.5,186.6 54.7,175.5 55.7,178.9 43.6,215.8 42.6,209.4 62.4,190 61,172.5 46.7,209.8 56.7,180.9 47.5,207.3 48.3,174.6 52.8,187.5 45.9,165.1 45.6,207 46,175.5 45.9,223.8 45.7,231.9 47.9,193.2 44.7,207.2 51,193.2 40.9,235.8 39.9,195.5 44.1,161 43.2,213.9 46.9,215.7 48.4,193.7 45,210.2 48,219.5 47.3,215.9 53.6,198.8 47.8,187.5 51.6,198.7 60.4,188.4 43,194.2 43.4,203.6 42.3,187.2 50.5,213 50.4,197.7 40.7,196.8 50.7,191.9 57.5,196.9"/></g>
<g class="p1"><polyline id="a75" points="74.3,179.6 69.1,152.9 78.5,156.3 68.3,161.8 72.6,205.2 87.6,193.3 66.3,178.9 73.2,171.3 66.5,169.1 70.5,169 64.3,156.7 80.9,174.2 68,176.6 83.8,169.3 66.7,186.9 68.2,155.7 85.6,162 82.4,177.5 74.1,176.2 72.2,173.2 72.3,177.6 73.4,183.8 80.6,176.7 73.4,162.3"/></g>
<g class="p2"><polyline id="a76" points="99.3,181.1 94.5,178.4 96.9,226.3"/></g>
<g class="p3"><polyline id="a77" points="181.8,219.6 196,210.8"/></g>
<g class="p0"><polyline id="a78" points="53.3,211.6 61,186 42.9,231.6 45.6,177.9 51.3,195.4 49.6,201.8 53.8,211.3 43.2,199.4 50.9,160.4 48.6,206.3 61.1,196.8 52.3,190.6 45.6,213.6 45.6,195.2 46.3,197.2 49,230.8 57.9,190.8 50.5,204.5 60.9,190 46.6,219.7 40.9,242.9 42.7,236.5 40.8,197.3 62.8,171.2 42.1,219.8 58,198.6 43,209.7 43.2,193.5 46.6,228.8 48.5,232.2 62.7,189.3 63.4,182.9 47.9,197.4 51.1,189.1 49.3,163.2 41.5,231.2 45.2,187.1 43,175.8 46.3,192.5 57.7,220.9 41.3,200.4 47.9,233.6 49.9,194.4 45.9,191 55.1,185.8 55.5,192.1 42.5,203.3 53.1,200.7 60.7,204 59.7,144.9 62.1,185.5 41.4,219.8 60.3,177.8 52.9,166.1 48.6,195 53.6,194.6 39.3,197.3 53.1,210.8 46.2,216.5 40,239 53.3,185.6 40.9,246.7 62.6,172.6 58.2,147.9 51.6,209.7 60.2,182.1"/></g>
<g class="p1"><polyline id="a79" points="85.7,191.4 83.5,176.2 87.3,168.2 72.8,160.7 64.9,178.8 70,181.1 86.3,145.3 69.9,183.4 66.9,198.7 71.9,192.6 81.3,194.2 78.1,148.8 87.6,189 85.9,182.3 69,163.3 72.5,137.1 76.8,163.8 64.1,151.4 75.2,151.7 64.9,170.2 79.1,217"/></g>
<g class="p2"><polyline id="a80" points="96.5,188.5 150.5,190.1"/></g>
<g class="p3"><polyline id="a81" points="201.2,211.1 201.2,211.1"/></g>
<g class="p0"><polyline id="a82" points="39.6,220.4 40.8,182.8 40.9,192.4 62.2,164.2 44.1,200.4 42.3,213.1 63.5,160.4 40.9,215.6 44.1,227 51.1,203.3 48.4,201.8 44.7,217.6 45.2,203 51.9,209.6 40.2,187.1 41.2,190.1 51,206.2 49.7,192.4 57.3,189.2 48.5,194.3 61.7,202 43.9,195.6 42.2,211.7 62.4,204 42.3,233.3 50.2,208.5 46.1,200.3 54.9,177.9 45.4,187.2 47.4,219.7 42.5,251.2 56.2,190.1 46.5,192.1 52.6,196.5 58.7,185.8 63.1,181.1 51.7,213.8 43.3,177.5 55.7,181.7 47.5,162.1 42.3,191.8 47.4,207.2 44.6,248.7 58.3,170.2 52.2,173.8 42,222.9 44.2,219.8 40.5,201.8 41.7,196.9 45.6,224.7 46.1,200.3 44.5,204.2 57.1,177.8 55.2,188.8 42.9,237.7 63,173.5 42.4,205.4"/></g>
<g class="p1"><polyline id="a83" points="64.4,168.5 75.8,148.8 68.7,185.7 68.7,165.7 85,153.7 78.1,171.6 74.9,200.3 80.7,173.4 80,181.6 74.2,186.8 82.7,172.4 77.2,134.5 77.6,188.1 68.6,145.3 66.5,189.2 67.4,191.4 76.5,189 69.2,149.5 72.2,194.8 73.6,174.1 78.1,176.1 86.4,166.9 64.5,172.4 74.7,168.1 73.2,195.6 80.1,175.7"/></g>
<g class="p2"><polyline id="a84" points="102.6,201.6 135.6,192.3 92.6,233.6 91.8,172 91.1,170.3"/></g>
<g class="p3"><polyline id="a85" points="190.8,260.5 201.2,190.4"/></g>
<g class="p0"><polyline id="a86" points="56.8,190 39.9,185.9 58.2,198.5 45.1,215.7 59.2,185.2 47.1,206.5 49.5,203.5 45.7,200.2 41.5,236 40.9,202.8 43.5,178.1 45.6,215.5 52.6,204.7 56.6,199.1 45.3,215.4 62.4,180.1 55.2,201.4 46.7,208.8 59.1,182.8 56.7,182.6 48.1,189.3 47.9,201.6 53.9,237.2 54.4,199.2 56.8,185.1 39.5,191.1 42.8,234.5 47.9,193.3 45.7,213.7 47.7,188 63.2,175.7 39.8,229.5 47.3,196.9 50.4,182.3 53.4,178.3 50.7,224.8 41.5,221.8 41.7,231 48.2,187.2 47.7,218.3 58.6,164.6 42.6,212.4 39.5,190 59.7,154.2 42.2,215.3 39.7,206.2 45.3,198 39.6,263 60.9,171 47.4,195.1 43.6,193.3 61.2,160.5 46.2,198.5 62.6,165.7 61.9,174.6 53.1,193.4 47.8,224 44.8,181.6 45.3,232.4 58.2,188.5 44.7,210.6 54.8,178.5 63.5,213.3 62.9,156.5"/></g>
<g class="p1"><polyline id="a87" points="68.8,206.3 66.9,186.9 73.6,180 73.9,172.7 74,166.9 87.4,188.2 76.4,176.4 88.8,143.3 72.8,166.1 63.9,190.6 69.5,156.9 80.5,171 74.6,133.9 89.5,176.8 78.4,183.1 64,166.3 84.2,174.7 73.1,167.4 82.1,170.5 66.8,169.5 82.7,160.2"/></g>
<g class="p2"><polyline id="a88" points="100,163.9 92.3,204.5"/></g>
<g class="p3"><polyline id="a89" points="179.9,207.3 177.5,205 197,218.6"/></g>
<g class="p0"><polyline id="a90" points="53.3,177.6 50.6,197.9 42.9,216 49.4,192.5 62.4,169.3 40.6,184.8 61.2,180.9 62.7,181.4 42.2,216 63.3,185.9 52.8,196.5 45.3,223.2 39.9,205 53,192.4 47.3,202.6 41.9,211.9 44,230.6 51.5,198.5 49.3,212.5 41,244.2 62.4,168.4 42.6,226.1 51.5,211.2 48.9,211.8 43.3,223.6 49.9,185.2 43.6,235.5 51.5,209.6 54.3,191.9 58.8,184.4 63.1,217.9 43,222 62.8,173.3 45.9,210.3 44.4,231.6 41.1,211 61.9,197.4 48.1,178.7 61.5,186.4 43.5,216.6 53.9,179.9 42.9,195.5 60.5,179.1 51,173.7 63.5,159.3 44.1,199.8 47.2,193.2 47.1,199.5 40.8,197.6 39.7,202.5 49.4,205.5 44.1,227.5 47.9,226.3 57.6,189.3 49.4,208.6 49.9,208.9"/></g>
<g class="p1"><polyline id="a91" points="71.3,184.2 70.7,177 78,146.9 65.1,176.3 69.3,161.3 65.3,168.5 84,210.7 75.5,176.1 70.6,165 64.3,173.5 69.3,176 82.2,138.6 64.1,200.8 69.1,142.2 63.8,185.1 70.4,163.3 75.9,181.2 66.5,165.1 64.3,174 64.5,173 68.6,178.3 70.4,173.1 69,182.2 67.7,157.4 66.9,179.4 72.1,185.8 89.1,144"/></g>
<g class="p2"><polyline id="a92" points="138.4,208.6 111,194.1 93,214.2 132.7,201.6 108.3,222.8"/></g>
<g class="p3"><polyline id="a93" points="184.1,194.9 183.1,203.1"/></g>
<g class="p0"><polyline id="a94" points="59.9,155.8 48.8,165.4 62.6,172.6 50.6,202 58.1,204.5 41.5,210.8 62.1,170.9 43.3,209.9 57.9,189.5 45.8,245.4 57.5,178.5 48.5,226 45.9,158.6 61.5,168.2 59.1,156.9 40.8,213 45.8,170.6 59.1,176.8 46.4,215.1 43.4,190.4 50.6,216.4 60.4,168.2 58.2,199.2 43.3,224.4 48.5,203.2 43,199.5 46.9,212.6 46.4,193 49,211.4 57.3,180.4 62.9,208.8 47.7,235.5 43.3,199.7 41.4,235.2 47.7,216.6 39.8,195 40.2,211.5 48.1,181.6 44.9,196.5 50.6,187.7 52.8,231.8 43.3,189.1 40.3,191.6 60.9,228.7 61.2,205.2 49.3,180.3 41.4,196.4 61,180.2 59.5,191.1 39.7,246.3 48.2,186.3 54.2,161.1 61.3,165.8 39.5,228.3 55.1,187.8 48.7,214 63.1,143.8 45,236.8 41,226.1"/></g>
<g class="p1"><polyline id="a95" points="83.9,166.9 86.6,143.8 87.7,158.2 75,144.5 88,172.7 81.7,185.6 74.6,159.5 77.9,171.4 71.1,199.8 84.3,195 82.9,203.4 75.5,140.3 65.9,194 68.1,175.7 71.2,153.3 71.9,193.6 85.2,168.2 82.1,213.6 76.3,166.7 67.3,173.9 68.9,182.6 71.2,177.3 65.4,157.2 85,188.2 75.3,184.4 85.4,185 70.1,145.8 68.6,183.3 81.4,206.2"/></g>
<g class="p2"><polyline id="a96" points="103.6,219.4 98.8,182.3"/></g>
<g class="p0"><polyline id="a97" points="62.6,133.1 46.2,167.5 39.6,221.4 41.6,218.2 60.6,186.2 44.5,169.4 57.1,178.7 42.8,207.3 39.9,231.8 44.5,194.8 48.8,203.5 53.4,204.2 49.5,203 50.3,207.5 43.7,209 55.2,190.4 55.3,196.1 48.6,188.2 50.9,202.4 44,190.1 47.1,188 47,203 57.6,197.6 44.3,202.3 44.2,209.7 43.7,174.9 60.2,183 62.5,171.4 47.8,220.7 42.8,189.9 63,169.3 57.2,179 42.3,231.4 45.4,216.7 57,193.6 46,185.1 57.6,217.1 59.5,200.9 52.9,176.2 43.8,217.7 57.1,200.2 40.3,217.9 49.7,199.2 42.2,215.2 39.5,202.8 40.3,201.2 54,167.9 40.6,182.3 39.6,211.5 47.4,202.2 54,181 44.4,234.2 55.7,185.2 44.4,190.7 57.9,198 45.3,205.3"/></g>
<g class="p1"><polyline id="a98" points="66.2,175.2 70.6,190.3 67.6,187.9 65.6,188.2 70.4,171.5 83.2,169.1 78.5,185 67.6,151.2 71.4,190.1 76.7,162.4 64.2,174.1 79.9,166.4 66.7,166.8 72.6,150.9 64.4,138.1 71.7,182.1 85.3,173.6 88.1,173.9 88.8,167.5 85,180 75,170.2 83.7,178.2 86.5,175.9 74.9,193.3 64.4,183.6"/></g>
<g class="p2"><polyline id="a99" points="104.7,194.6 150.7,195.3 140.3,208"/></g>
<g class="p3"><polyline id="a100" points="189.3,182.8 188.5,201.6 182.1,213.1 181.7,229 194.8,168.5 183.1,178.7"/></g>
<g class="p0"><polyline id="a101" points="42.2,213.7 48.9,192.9 40.7,232.6 50.4,196.8 55.2,208.9 43,196.4 41,225 55.5,170 53.2,189.1 46.2,236.3 49.5,213.8 52.7,199.8 46.6,216.1 56.1,192 51.3,169.9 40.5,199.7 40,215.9 57.4,187.1 52.7,182.6 50.9,232.8 63.2,157.6 39.6,201.7 62.2,196.8 48.3,185.9 42.1,199.6 55.2,187.3 51.8,208.2 42.3,216.4 57,218.9 62,188.6 45.6,209.9 40.4,206.9 41.1,250.2 58.7,202.7 62.5,172.4 57.7,175.9 43.3,213.6 57.6,188.6 60.5,209.1 46.5,220.6 60.3,168.3 49.1,193.6 52.9,189.6 42,200 43.3,230.1 60,159.9 42.8,258.6 40.6,216 57.3,200.4 48.7,194.4 46.7,247.6 39.8,213.7 40,213.5 58.8,206.2 54.6,180.9 50.1,221.1 55.2,192.8 63,171.3 62.2,175.4 40.6,231.4 53.1,200.9"/></g>
<g class="p1"><polyline id="a102" points="67.7,167.2 64.2,161.5 83.8,166.1 80.2,157.7 73.6,206.4 65.6,163.1 78.1,171.9 65.1,165.7 64.8,203.5 68.8,201.4 64.8,194.2 73.2,172.6 81.7,186.3 68.7,183.3 76.9,195.3 67.6,187.3 74.5,179.9 85,186.5 73.1,159.7 68,171.1 67.7,177.5 76.5,180.8"/></g>
<g class="p2"><polyline id="a103" points="145.7,202.4 109.8,199.5 137.8,224 97.9,212.9 141,211.4 153.8,207.2"/></g>
<g class="p3"><polyline id="a104" points="179.8,186.7 179.8,186.7"/></g>
<g class="p0"><polyline id="a105" points="54.6,206.8 43.2,207.3 39.5,235.2 43.3,212.4 47.6,232.6 54.2,216.9 48.9,209.3 46.4,207.7 46.9,191.8 39.5,233.8 48.1,190.5 58,168.1 56.4,154.4 43.4,217.5 40.9,187.8 42.8,222.7 40.4,196.6 49,223.2 49.5,202.5 62.2,191.3 46,216.6 49,186 42.5,171.8 45.6,185.5 44.5,188.6 41.3,186.1 61.9,193.1 46.7,204.2 44.9,184.7 39.7,173.6 45.7,220.7 63.1,201.7 42.5,196.6 48.4,198.9 63.5,158.7 62.6,161.4 57.1,189.6 44.9,203.6 51.8,162.4 60.2,179.4 54.3,165.8 42,233.4 53.9,173.2 58.1,164.5 53.5,191.1 52.9,206.2 59.7,180.6 47.4,233.1 41.9,240.9 40.3,215 63.6,162.2 50.1,213.5 55.5,197.1 49.1,183.7 42.1,216.1 49.4,208.9 42,181 42.7,226.7 63.1,178.6 44.4,214.8 39.5,228.8 44.1,200.4"/></g>
<g class="p1"><polyline id="a106" points="73.5,180.3 70.2,173.2 65.7,208.8 69.5,200.6 65.2,168.5 67.6,187.4 80.4,165.5 67.6,182 87,130.8 70.9,211.2 75.7,159.6 75.3,169.9 78.4,196 87.4,172.2 85.6,152.7 75.7,170.4 85.6,148.8 65.1,169.3"/></g>
<g class="p2"><polyline id="a107" points="102.7,167.6 105.9,189.6 91,161.6 153.6,190.5 91.5,174.3 101.2,229.4 102.7,178"/></g>
<g class="p3"><polyline id="a108" points="185.7,177.6 197.5,210.5 191.8,206.2"/></g>
<g class="p0"><polyline id="a109" points="41.1,187.8 53.6,190.1 53.2,212.6 47.7,214.3 56.2,205.5 40.9,213.1 42.8,246.6 41.9,215.5 48.9,187.3 48.6,228.1 47.7,191.8 42.6,212.9 61.6,156.3 58.8,203.6 57.4,211.6 46.6,210 41.4,252.8 47,198.4 48.1,193.7 53.9,169.9 46.2,242.8 48.4,202 46.6,208.8 47.6,220.9 54.6,206.7 53,219.6 45.6,229.9 40.9,246.4 46.6,185.2 40.7,211.5 44.6,203.3 51,203.2 43.2,213.3 57.7,172.2 54.6,178.5 44.9,196 47.9,200.6 40.1,214.3 53.8,168.6 63.1,197.1 42.2,205 60.3,153.9 44.7,207.5 42.6,201 54.7,168.8 40.5,249.4 40.6,242.2 57.7,181.1 52.3,197.6 59.8,192.7 62.6,159.3 46.9,185.7 57.8,152.6 39.8,227"/></g>
<g class="p1"><polyline id="a110" points="76.8,149.7 87,166 71.2,170.6 66.8,166.5 82.2,155.1 75,193.8 76.7,150.5 73.2,168.2 71.6,193.7 77.6,187.2 78.8,189.1 65.5,184 81.1,173.4 76,141 74.8,177.3 84.1,173.5 82.5,151.6 69.3,151.3 79.7,207.3 73.3,177.7 78.1,177.4 72.7,160.3 68.1,140.2 64.7,208.7 83.3,170.4"/></g>
<g class="p2"><polyline id="a111" points="99.9,199.3 144.1,212.7 138.3,194.3 116.7,222.4 98.1,229.5 94.3,189 94.5,188.9 123.1,203.4 141.1,210.5"/></g>
<g class="p3"><polyline id="a112" points="192,232.1 196.3,178.8"/></g>
<g class="p0"><polyline id="a113" points="63.4,188.9 63.4,188.9"/></g>
<g class="p1"><polyline id="a114" points="78.1,153 78.1,153"/></g>
<use href="#a0" class="q0"/>
<use href="#a1" class="q1"/>
<use href="#a2" class="q2"/>
<use href="#a3" class="q3"/>
<use href="#a4" class="q0"/>
<use href="#a5" class="q1"/>
<use href="#a6" class="q2"/>
<use href="#a7" class="q3"/>
<use href="#a8" class="q0"/>
<use href="#a9" class="q1"/>
<use href="#a10" class="q2"/>
<use href="#a11" class="q3"/>
<use href="#a12" class="q0"/>
<use href="#a13" class="q1"/>
<use href="#a14" class="q2"/>
<use href="#a15" class="q3"/>
<use href="#a16" class="q0"/>
<use href="#a17" class="q1"/>
<use href="#a18" class="q2"/>
<use href="#a19" class="q3"/>
<use href="#a20" class="q0"/>
<use href="#a21" class="q1"/>
<use href="#a22" class="q2"/>
<use href="#a23" class="q3"/>
<use href="#a24" class="q0"/>
<use href="#a25" class="q1"/>
<use href="#a26" class="q2"/>
<use href="#a27" class="q0"/>
<use href="#a28" class="q1"/>
<use href="#a29" class="q2"/>
<use href="#a30" class="q3"/>
<use href="#a31" class="q0"/>
<use href="#a32" class="q1"/>
<use href="#a33" class="q2"/>
<use href="#a34" class="q3"/>
<use href="#a35" class="q0"/>
<use href="#a36" class="q1"/>
<use href="#a37" class="q2"/>
<use href="#a38" class="q3"/>
<use href="#a39" class="q0"/>
<use href="#a40" class="q1"/>
<use href="#a41" class="q2"/>
<use href="#a42" class="q3"/>
<use href="#a43" class="q0"/>
<use href="#a44" class="q1"/>
<use href="#a45" class="q2"/>
<use href="#a46" class="q3"/>
<use href="#a47" class="q0"/>
<use href="#a48" class="q1"/>
<use href="#a49" class="q2"/>
<use href="#a50" class="q0"/>
<use href="#a51" class="q1"/>
<use href="#a52" class="q2"/>
<use href="#a53" class="q3"/>
<use href="#a54" class="q0"/>
<use href="#a55" class="q1"/>
<use href="#a56" class="q2"/>
<use href="#a57" class="q3"/>
<use href="#a58" class="q0"/>
<use href="#a59" class="q1"/>
<use href="#a60" class="q2"/>
<use href="#a61" class="q3"/>
<use href="#a62" class="q0"/>
<use href="#a63" class="q1"/>
<use href="#a64" class="q2"/>
<use href="#a65" class="q3"/>
<use href="#a66" class="q0"/>
<use href="#a67" class="q1"/>
<use href="#a68" class="q2"/>
<use href="#a69" class="q3"/>
<use href="#a70" class="q0"/>
<use href="#a71" class="q1"/>
<use href="#a72" class="q2"/>
<use href="#a73" class="q3"/>
<use href="#a74" class="q0"/>
<use href="#a75" class="q1"/>
<use href="#a76" class="q2"/>
<use href="#a77" class="q3"/>
<use href="#a78" class="q0"/>
<use href="#a79" class="q1"/>
<use href="#a80" class="q2"/>
<use href="#a81" class="q3"/>
<use href="#a82" class="q0"/>
<use href="#a83" class="q1"/>
<use href="#a84" class="q2"/>
<use href="#a85" class="q3"/>
<use href="#a86" class="q0"/>
<use href="#a87" class="q1"/>
<use href="#a88" class="q2"/>
<use href="#a89" class="q3"/>
<use href="#a90" class="q0"/>
<use href="#a91" class="q1"/>
<use href="#a92" class="q2"/>
<use href="#a93" class="q3"/>
<use href="#a94" class="q0"/>
<use href="#a95" class="q1"/>
<use href="#a96" class="q2"/>
<use href="#a97" class="q0"/>
<use href="#a98" class="q1"/>
<use href="#a99" class="q2"/>
<use href="#a100" class="q3"/>
<use href="#a101" class="q0"/>
<use href="#a102" class="q1"/>
<use href="#a103" class="q2"/>
<use href="#a104" class="q3"/>
<use href="#a105" class="q0"/>
<use href="#a106" class="q1"/>
<use href="#a107" class="q2"/>
<use href="#a108" class="q3"/>
<use href="#a109" class="q0"/>
<use href="#a110" class="q1"/>
<use href="#a111" class="q2"/>
<use href="#a112" class="q3"/>
<use href="#a113" class="q0"/>
<use href="#a114" class="q1"/>
<path d="M40.1 217.1L41.6 213.4L43.1 209.8L44.6 206.3L46.1 203.0L47.6 199.7L49.1 196.6L50.6 193.5L52.1 190.6L53.6 187.9L55.1 185.3L56.6 182.8L58.1 180.4L59.6 178.2L61.1 176.3L62.6 174.6L64.1 173.1L65.6 171.7L67.1 170.4L68.6 169.4L70.1 168.7L71.6 168.1L73.1 167.5L74.6 167.1L76.1 166.9L77.6 167.1L79.1 167.8L80.6 169.0L82.1 170.4L83.6 171.9L85.1 174.3L86.6 177.3L88.1 180.1L89.6 182.6L91.1 185.1L92.6 187.4L94.1 189.0L95.6 190.3L97.1 191.4L98.6 192.4L100.1 193.2L101.6 193.9L103.1 194.6L104.6 195.1L106.1 195.6L107.6 196.0L109.1 196.5L110.6 197.0L112.1 197.5L113.6 198.0L115.1 198.5L116.6 198.9L118.1 199.4L119.6 199.7L121.1 200.0L122.6 200.3L124.1 200.5L125.6 200.7L127.1 200.9L128.6 201.1L130.1 201.2L131.6 201.2L133.1 201.2L134.6 201.2L136.1 201.2L137.6 201.2L139.1 201.2L140.6 201.2L142.1 201.2L143.6 201.2L145.1 201.2L146.6 201.2L148.1 201.2L149.6 201.2L151.1 201.2L152.6 201.2L154.1 201.2L155.6 201.1L157.1 201.0L158.6 201.0L160.1 200.9L161.6 200.7L163.1 200.6L164.6 200.4L166.1 200.1L167.6 199.7L169.1 199.5L170.6 199.3L172.1 199.3L173.6 199.3L175.1 199.3L176.6 199.3L178.1 199.5L179.6 199.9L181.1 200.4L182.6 200.8L184.1 201.2L185.6 201.5L187.1 201.8L188.6 202.1L190.1 202.3L191.6 202.5L193.1 202.6L194.6 202.6L196.1 202.7L197.6 202.7L199.1 202.8L200.6 202.8L200.8 202.8" stroke="#fff" stroke-width="2.2" stroke-opacity=".5" fill="none" stroke-linejoin="round"/>
<path d="M40.1 217.1L41.6 213.4L43.1 209.8L44.6 206.3L46.1 203.0L47.6 199.7L49.1 196.6L50.6 193.5L52.1 190.6L53.6 187.9L55.1 185.3L56.6 182.8L58.1 180.4L59.6 178.2L61.1 176.3L62.6 174.6L64.1 173.1L65.6 171.7L67.1 170.4L68.6 169.4L70.1 168.7L71.6 168.1L73.1 167.5L74.6 167.1L76.1 166.9L77.6 167.1L79.1 167.8L80.6 169.0L82.1 170.4L83.6 171.9L85.1 174.3L86.6 177.3L88.1 180.1L89.6 182.6L91.1 185.1L92.6 187.4L94.1 189.0L95.6 190.3L97.1 191.4L98.6 192.4L100.1 193.2L101.6 193.9L103.1 194.6L104.6 195.1L106.1 195.6L107.6 196.0L109.1 196.5L110.6 197.0L112.1 197.5L113.6 198.0L115.1 198.5L116.6 198.9L118.1 199.4L119.6 199.7L121.1 200.0L122.6 200.3L124.1 200.5L125.6 200.7L127.1 200.9L128.6 201.1L130.1 201.2L131.6 201.2L133.1 201.2L134.6 201.2L136.1 201.2L137.6 201.2L139.1 201.2L140.6 201.2L142.1 201.2L143.6 201.2L145.1 201.2L146.6 201.2L148.1 201.2L149.6 201.2L151.1 201.2L152.6 201.2L154.1 201.2L155.6 201.1L157.1 201.0L158.6 201.0L160.1 200.9L161.6 200.7L163.1 200.6L164.6 200.4L166.1 200.1L167.6 199.7L169.1 199.5L170.6 199.3L172.1 199.3L173.6 199.3L175.1 199.3L176.6 199.3L178.1 199.5L179.6 199.9L181.1 200.4L182.6 200.8L184.1 201.2L185.6 201.5L187.1 201.8L188.6 202.1L190.1 202.3L191.6 202.5L193.1 202.6L194.6 202.6L196.1 202.7L197.6 202.7L199.1 202.8L200.6 202.8L200.8 202.8" stroke="#000" stroke-width="1.2" fill="none" stroke-linejoin="round"/>
<path d="M39 268.0v-3.0H88.25v3.0zM88.5 268.0v-3.0H93.75v3.0zM94 268.0v-3.0H97.25v3.0zM97.5 268.0v-3.0H101.75v3.0zM102.25 268.0v-3.0H106.25v3.0zM106.75 268.0v-3.0H107.5v3.0zM108.25 268.0v-3.0M109.75 268.0v-3.0M111 268.0v-3.0M112 268.0v-3.0M113 268.0v-3.0M114.25 268.0v-3.0M116.75 268.0v-3.0M123.25 268.0v-3.0M132.75 268.0v-3.0M134.25 268.0v-3.0M135.25 268.0v-3.0H136v3.0zM137.25 268.0v-3.0H138.75v3.0zM139.5 268.0v-3.0H140.5v3.0zM140.75 268.0v-3.0H141.75v3.0zM143.75 268.0v-3.0H144.75v3.0zM145 268.0v-3.0H146.5v3.0zM148 268.0v-3.0H148.75v3.0zM149 268.0v-3.0H149.75v3.0zM150 268.0v-3.0H151.25v3.0zM152.75 268.0v-3.0H154v3.0zM157.5 268.0v-3.0M160.5 268.0v-3.0M176 268.0v-3.0H176.75v3.0zM177 268.0v-3.0H181.25v3.0zM181.5 268.0v-3.0H182.5v3.0zM182.75 268.0v-3.0H183.5v3.0zM184 268.0v-3.0M184.75 268.0v-3.0M185.25 268.0v-3.0H186.25v3.0zM187 268.0v-3.0M187.75 268.0v-3.0H189.5v3.0zM190.75 268.0v-3.0M191.25 268.0v-3.0H192.25v3.0zM194 268.0v-3.0M194.75 268.0v-3.0M195.75 268.0v-3.0H196.5v3.0zM196.75 268.0v-3.0H197.75v3.0zM198 268.0v-3.0H198.75v3.0zM199.25 268.0v-3.0M200.5 268.0v-3.0H201.5v3.0z" stroke="#000" stroke-width=".5" fill="#000"/>
</g>
<text class="t" text-anchor="end" x="28.4" y="244.6">-1.0</text>
<text class="t" text-anchor="end" x="28.4" y="218.1">-0.5</text>
<text class="t" text-anchor="end" x="28.4" y="191.7">0.0</text>
<text class="t" text-anchor="end" x="28.4" y="165.2">0.5</text>
<text class="t" text-anchor="end" x="28.4" y="138.8">1.0</text>
<text class="t" text-anchor="end" x="28.4" y="112.3">1.5</text>
<text class="t" text-anchor="middle" x="37.0" y="278.2">0</text>
<text class="t" text-anchor="middle" x="90.5" y="278.2">200</text>
<text class="t" text-anchor="middle" x="144.0" y="278.2">400</text>
<text class="t" text-anchor="middle" x="197.5" y="278.2">600</text>
<path d="M32.0 242.0h-2.2M32.0 215.5h-2.2M32.0 189.1h-2.2M32.0 162.7h-2.2M32.0 136.2h-2.2M32.0 109.8h-2.2M37.0 268.0v2.2M90.5 268.0v2.2M144.0 268.0v2.2M197.5 268.0v2.2" stroke="#333" stroke-width=".6" fill="none"/>
<text class="ti" x="32.0" y="101.2">depth</text>
<text class="ax" text-anchor="middle" textLength="29.7" lengthAdjust="spacingAndGlyphs" x="120.0" y="289.1">meters</text>
<text class="ay" text-anchor="middle" transform="translate(11.7 187.2) rotate(-90)">ENS</text>
<clipPath id="c1"><rect x="245.0" y="107.2" width="177.1" height="160.8"/></clipPath>
<rect x="245.0" y="107.2" width="177.1" height="160.8" fill="#EBEBEB"/>
<g clip-path="url(#c1)">
<path d="M266.7 107.2V268.0M314.5 107.2V268.0M362.4 107.2V268.0M410.2 107.2V268.0M245.0 263.7H422.1M245.0 235.3H422.1M245.0 206.9H422.1M245.0 178.5H422.1M245.0 150.1H422.1M245.0 121.7H422.1" stroke="#fff" stroke-width=".6" stroke-opacity=".9" fill="none"/>
<path d="M290.6 107.2V268.0M338.5 107.2V268.0M386.3 107.2V268.0M245.0 249.5H422.1M245.0 221.1H422.1M245.0 192.7H422.1M245.0 164.3H422.1M245.0 135.9H422.1M245.0 107.5H422.1" stroke="#fff" stroke-width=".95" fill="none"/>
<path d="M253.1 213.4L254.6 213.0L256.1 212.5L257.6 211.9L259.1 211.3L260.6 210.5L262.1 209.7L263.6 208.7L265.1 207.5L266.6 206.3L268.1 204.9L269.6 203.5L271.1 202.2L272.6 200.7L274.1 199.3L275.6 197.9L277.1 196.6L278.6 195.3L280.1 194.1L281.6 192.9L283.1 191.7L284.6 190.7L286.1 189.7L287.6 188.7L289.1 187.8L290.6 186.9L292.1 186.1L293.6 185.4L295.1 184.8L296.6 184.1L298.1 183.5L299.6 183.0L301.1 182.4L302.6 182.0L304.1 181.7L305.6 181.4L307.1 181.2L308.6 181.0L310.1 180.8L311.6 180.7L313.1 180.5L314.6 180.3L316.1 180.1L317.6 179.9L319.1 179.7L320.6 179.5L322.1 179.3L323.6 179.1L325.1 178.9L326.6 178.7L328.1 178.5L329.6 178.2L331.1 178.0L332.6 177.7L334.1 177.4L335.6 177.1L337.1 176.8L338.6 176.5L340.1 176.1L341.6 175.8L343.1 175.5L344.6 175.1L346.1 174.8L347.6 174.5L349.1 174.1L350.6 173.8L352.1 173.5L353.6 173.2L355.1 172.9L356.6 172.7L358.1 172.5L359.6 172.3L361.1 172.1L362.6 171.9L364.1 171.7L365.6 171.6L367.1 171.4L368.6 171.3L370.1 171.3L371.6 171.2L373.1 171.2L374.6 171.2L376.1 171.1L377.6 171.1L379.1 171.0L380.6 171.0L382.1 170.9L383.6 171.0L385.1 171.1L386.6 171.3L388.1 171.5L389.6 171.6L391.1 171.6L392.6 171.4L394.1 171.1L395.6 170.8L397.1 170.5L398.6 170.2L400.1 169.9L401.6 169.7L403.1 169.5L404.6 169.3L406.1 169.1L407.6 168.9L409.1 168.8L410.6 168.6L412.1 168.4L413.6 168.3L413.8 168.2L413.8 203.8L413.6 203.5L412.1 201.7L410.6 199.9L409.1 198.2L407.6 196.6L406.1 195.1L404.6 193.7L403.1 192.4L401.6 191.2L400.1 190.1L398.6 189.0L397.1 187.9L395.6 186.8L394.1 185.9L392.6 185.0L391.1 184.2L389.6 183.5L388.1 182.9L386.6 182.4L385.1 182.1L383.6 181.8L382.1 181.5L380.6 181.5L379.1 181.4L377.6 181.3L376.1 181.3L374.6 181.3L373.1 181.2L371.6 181.2L370.1 181.2L368.6 181.2L367.1 181.2L365.6 181.3L364.1 181.4L362.6 181.5L361.1 181.6L359.6 181.7L358.1 181.9L356.6 182.0L355.1 182.1L353.6 182.3L352.1 182.5L350.6 182.7L349.1 182.9L347.6 183.1L346.1 183.3L344.6 183.4L343.1 183.6L341.6 183.8L340.1 183.9L338.6 184.1L337.1 184.3L335.6 184.5L334.1 184.6L332.6 184.8L331.1 184.9L329.6 185.1L328.1 185.2L326.6 185.3L325.1 185.4L323.6 185.4L322.1 185.5L320.6 185.6L319.1 185.7L317.6 185.7L316.1 185.8L314.6 185.9L313.1 186.0L311.6 186.0L310.1 186.1L308.6 186.2L307.1 186.3L305.6 186.5L304.1 186.7L302.6 186.9L301.1 187.3L299.6 187.8L298.1 188.3L296.6 188.9L295.1 189.6L293.6 190.3L292.1 191.0L290.6 191.8L289.1 192.8L287.6 193.8L286.1 194.9L284.6 196.0L283.1 197.2L281.6 198.6L280.1 199.9L278.6 201.4L277.1 202.8L275.6 204.4L274.1 206.0L272.6 207.7L271.1 209.3L269.6 211.0L268.1 212.7L266.6 214.5L265.1 216.3L263.6 218.2L262.1 220.0L260.6 221.6L259.1 223.3L257.6 224.9L256.1 226.4L254.6 227.9L253.1 229.3Z" fill="#999" fill-opacity=".42"/>
<g class="p0"><polyline id="b0" points="282.9,207.5 298.3,196.5 374.1,173.2 288,189.3 283.2,188.4 284.4,203.5 289.1,195.7 313.5,171.9 351.8,176.9 280.6,230.3 293.9,165.6 307.1,178.7 290.5,178.6 297.3,212.6 301.1,186.3 300,196 281.3,181.8 316.8,209.1 364.6,152.5 335,175.1 295.5,203.5 295,158.5 285.8,191.4 308.8,200.7 286.3,193 319,155.6 316.4,169.3 276.1,238 294.8,150.4 358.4,128.4 288.5,176.4 298,225.7 309.1,181.8 332.3,152.2 388.5,148.4 298.3,187.6 306.3,168.6 286.6,205.3 378.1,181.1 356.7,171.3 283.2,194.9 302,196.7 324.6,201.8 301.4,174.4 320.5,227.7 291.7,160.2 302.6,210.1 298,219.3 292.6,197.5 278.6,215.7 290,175.5 331.9,231.8 289.9,185.2 315,150.5 285.3,194.9 283.1,173"/></g>
<g class="p1"><polyline id="b1" points="286.7,144.8 276.6,237.6 277.1,179 286.2,193.1 278,174.2 283,189 284.2,206.3 281.4,210.1 277.3,203.7 284,201.5 289.2,181.6 281.9,197.2 276.1,217.5 282.7,194.7 280.8,227 280.5,205.9 277.6,197.6 287.9,234.9 276.7,215.7 281.9,181.5 285.3,181.7 277.7,188.6 287.1,199.8 288.2,181.6 279.4,178.4"/></g>
<g class="p2"><polyline id="b2" points="276.2,211.3 278.5,144.8 271.8,214.2 275.5,218.7 278.1,167.9 280.4,200.3"/></g>
<g class="p3"><polyline id="b3" points="279.1,205.6 278.5,221.3 278.6,189.2"/></g>
<g class="p0"><polyline id="b4" points="358.3,169.7 298.6,147 309.1,207.1 382.7,175 387.2,171 289.1,180.4 303.8,191.3 320.2,166.5 305.3,179.6 278.5,192.5 280.5,172.2 296.5,213.1 309.9,174.6 292.2,165 354.4,141.1 304.6,144.1 380.1,203.3 282.3,191.3 387.2,165.6 374.7,150.5 305.9,201.9 287.2,203 343.7,201.5 289.9,181.8 283,164 292.1,184.9 287.4,186.4 288.5,194.5 286.7,183.5 295,201.4 281,133.1 311.5,193.1 283.4,163.1 287.7,169.6 302.5,208.5 280.3,172.1 372.3,219.6 288.7,204.1 308.3,141.7 291.8,196.5 291.3,189.7 303.6,217.5 303.1,181.7 297.9,164.9 285.2,230.9 281.5,201.3 335.3,174.2 326.6,190.1 279.5,206.2 328.2,196.6 286.8,178.5 281.6,192.2 288.1,174.7 299.7,204.2 332.5,179 271.2,225.8 279.8,194.4 298.4,153.1 264.5,195.5 297.3,192.5"/></g>
<g class="p1"><polyline id="b5" points="279.6,174.2 284,170 286.3,220.6 288.9,228.3 271.4,208.4 279.6,180.1 284,212 275.8,204.4 284.2,203.9 281.9,189.5 287,193.3 277.1,190.9 286.1,196.9 288.1,220.1 290.4,188.5 283.1,160.3 281.8,193.8 279.4,229.6"/></g>
<g class="p2"><polyline id="b6" points="261.9,229 277.8,180.4 275,241.3 290.9,163.1 283.9,123.4 277,188 277.4,194.2 261.7,208.5 276.4,221.2"/></g>
<g class="p3"><polyline id="b7" points="281.4,223.1 280.1,219.6 282.3,182.9"/></g>
<g class="p0"><polyline id="b8" points="325.4,191.5 317.4,154.5 316.7,147.3 371.7,192.9 388.3,156.4 365.8,141.1 271.5,189.4 364.3,194.2 314.4,176 301.8,195.7 289.6,229.5 286.5,193.6 295.4,159.4 282.3,201.3 287.8,171.3 381.5,126.2 292.6,189.5 303.5,210.6 289.9,154.8 289.2,183.4 286,226.7 409.4,207.4 324.2,174 281.8,189.9 284.4,181.3 347.6,164.5 307.9,159.3 299.9,180.8 281.9,203.8 279,209.5 381.1,154.5 297.5,185.2 285.9,220.6 346.1,127.9 287,190.4 302,196 286.9,217 306.3,151.8 350.6,185.8 289,205.4 330.6,189.8 289.8,182.1"/></g>
<g class="p1"><polyline id="b9" points="283.9,165.4 285.5,220.4 284.4,216.8 287.9,188 281.2,214.5 284.1,220.9 283.7,168.8 284.6,211.2 273.5,187.3 272.6,219.5 277.6,203.8 279.7,205.9 276.7,223 290.9,192.7 283.4,208.3 283.7,182.7 285.2,172.4 278.1,209.8 280.7,189.4 284.8,197.2 282.7,181.3 287.2,227.2 281.9,161.4 273.7,202.1 285.4,211 278,207.5 272.5,212 282.1,184.4 293.1,186.8 291.8,169.1 291.9,182.4 291.2,174.7 285,198.5 278.6,195.8"/></g>
<g class="p2"><polyline id="b10" points="288.8,184.6 274.3,189.3 263.5,199.2 284.3,205.4 287.6,220.4 274.1,197 272.2,211.3 268.8,223.5 281.2,179.3 276.5,220.1 268.6,232.4 272.1,214.3"/></g>
<g class="p3"><polyline id="b11" points="286.7,179.6 283.1,208.3"/></g>
<g class="p0"><polyline id="b12" points="354.1,136 296.2,176.1 330.6,160.4 290.6,170.2 281.1,209 298.1,243 296.4,165.4 281.6,223.5 284.8,151.4 291,191.4 301.5,191.6 313.7,190.4 316.9,168 377.6,191.8 286.9,210.5 308,177.4 302.2,187.4 286.1,199.3 379.2,220.8 362.3,150.5 375.3,177.8 299.8,213.3 305.3,191.5 319.3,169.4 291.3,128.9 374.1,170.5 371.2,190.6 318.4,165.6 351.5,156.8 305.7,206.7 312.6,163.4 283.7,179.7 353.2,195.8 293.8,204.2 282.6,181 287.4,223.3 382.1,172.5 330.3,153 295.8,182.9 363.4,204.6 387,175.4 360.5,200.1 300.5,161.8 285.8,208.6 293.3,182.8 287.1,183.7 296.9,214.4"/></g>
<g class="p1"><polyline id="b13" points="288.7,241.4 283.9,203.4 284.7,186.4 282,195.5 268.9,211.5 287.9,181.8 281.1,180.8 281.3,208.3 281,191.2 275.3,251 286.1,208.7 291,200.5 287,230.5 282.1,163.1 284.6,189 284.3,208.4 274.5,215.4 291,206.1 280.1,172.9 278.3,212 291.9,175 286.3,173 281.2,225.2 283.8,222.7 277.4,207.4 286.4,213.7 275.5,171.3 286.2,169.4 279,181.9 289.1,178.2"/></g>
<g class="p2"><polyline id="b14" points="279.5,176.3 275.5,228.2 282.4,181.6 266.6,164.3 291.8,163.4 273.2,230.5 270.7,175.9 262.8,200.6 275.9,156.5 282.3,190"/></g>
<g class="p3"><polyline id="b15" points="282.9,226 285.2,176 279.6,179.4"/></g>
<g class="p0"><polyline id="b16" points="293,167.4 382.3,174.2 287.5,222.6 335.1,168.6 301.8,171.9 305.5,182.4 312.5,205 299.1,210 335.6,190 278.4,197.1 296.2,177 295.3,158.3 295.5,224.8 292,187 293.3,171.4 282.9,196.1 313.7,175.4 333.3,179.9 306.5,179.5 261.9,182.4 290.5,197.6 306.7,205.4 303.8,234.3 359.2,165.2 343.2,135.9 278.6,184.8 332.6,122.4 288.4,188.3 302.4,178 292.4,195.8 307.3,224.7 370,208.2 288.7,188.8 288,201.7 287.9,242.4 295.9,203.2 302.5,197.6 287.1,151.2 283.5,173.2 286,162.7 289.8,162.9 363.4,168.9 310.1,136.2 292.3,175.9 315.3,184.9"/></g>
<g class="p1"><polyline id="b17" points="283.6,195.6 273.1,240.6 280.1,177.6 278.8,207.6 287.3,163.3 278,197.3 282.9,205.8 287.2,190.1 276.7,210.9 274.9,191 279.4,205.5 281.6,164.2 282.7,173.9 283.2,216.8 284.2,237.9 291.5,203.2 281.1,217.4 273.1,186.8 285.4,205 276.8,228.8 282.6,191.5 276.6,205.5 283.2,193.9 287.1,202.1 287.5,164 279.3,206.3 289.9,218.7 285.6,205 281.1,199.1 290.9,164.2 279.4,186"/></g>
<g class="p2"><polyline id="b18" points="274.8,185.7 277.7,193.1 258.3,224.3 273.1,174.4 277.5,196.9 289.1,160.6 271.7,233.6 278,194.6 276.9,223.1 273.2,208.4"/></g>
<g class="p3"><polyline id="b19" points="277.1,195.4 281.3,175.3 276,213.4 281.9,219.9"/></g>
<g class="p0"><polyline id="b20" points="288.3,187.6 318.6,179.9 338.1,173.9 319.1,147.6 260.3,233.1 387.6,169.5 291.2,179 341.8,167.2 289.6,186 320.9,190.4 314.9,173.7 313.7,181.9 294.7,136.5 293.1,186.7 339.5,177.7 303,152.9 286.8,183 289,194.9 302,212 328.9,183.7 341.3,180.2 294.8,175.2 300.5,197 296.4,159.5 295.4,199.5 352.6,157.9 292.1,180.4 284.3,167.1 277.4,234.2 295.6,176.2 344.8,188.7 311,145.1 286.3,201.8 294,166.3 282.1,215.2 338.4,182.1 314.8,205.4 289.3,209.8 337.9,202.6 286.4,183.6 288.1,174.8 313,221 296.7,187.2 398.4,196.7"/></g>
<g class="p1"><polyline id="b21" points="292.2,205.5 285.9,166.1 288.8,161.4 289.6,174 284.7,194 273.4,213.1 288.6,188.5 282,148.8 292.3,216.2 283.5,205.2 286.3,179.2 277.6,189.3 287,176.1 280.3,205.5 281,221.9 278.4,189.1 293.7,193.2 285.6,189.9 278.1,221.8 280.2,220.9 275.6,176.6 275.9,208.1 279,177.3 295.5,183.1 284.8,210.5 286.5,176.2 278.1,173 275.2,213.8 291.3,207.2 278.8,192.3 278.9,194.7 282.3,203.5 287.9,170.4 278.8,194.1 284,153.9 283.1,169.7"/></g>
<g class="p2"><polyline id="b22" points="284.3,220.9 266,259.5 276.3,173.3 288.5,188.7 267.2,226.6 291.2,180.9"/></g>
<g class="p3"><polyline id="b23" points="281,211.8 283.1,212.2 278.3,176.7 286,200"/></g>
<g class="p0"><polyline id="b24" points="314.7,197 350.7,187.5 295.2,204.5 300.3,145 290,194 300.3,167.4 319.5,190.9 295.1,161 282.7,183.1 323.4,143.9 347.7,179.3 343.1,191.9 299,174.7 280.7,192.5 282.1,207.6 318.5,171.9 283.2,236.8 295,159.1 284.5,181.5 372,199.2 327.3,191.3 313.9,197.3 283.3,215.4 361.2,183.9 386,176.2 347.9,173.6 277.1,194.5 278.7,219.4 291.7,234.9 294.9,181.2 284.8,175.9 312.7,178.1 299.3,160.1 288,235.6 354.8,195 377,162.1 283.8,182.4 308.6,157.9 282.8,200 300,203.1 287.7,227.7 284.1,196 316.2,204.2 288.9,149.9 385.5,167.8 283.5,184.4 316.7,171.5 290.2,167.8 366.4,178.6 296.4,190.2"/></g>
<g class="p1"><polyline id="b25" points="288.2,202.4 271,219.1 275.3,207.5 290.5,199.1 283,204.7 291.3,222.5 290.7,222.7 288.3,172.6 280.6,211 285.7,195.3 287.6,190.8 283.6,172.4 288.1,202.2 285.4,211.1 291.7,155.9 287.1,206.5 295.7,156.5 284.5,169.8 273.9,231.3 282.4,190.1 276.5,232.6 269.3,239.1 282.3,235.3 272.5,230.6 282.8,217.4 287.6,245.6 281.6,233.4 287.7,239.6"/></g>
<g class="p2"><polyline id="b26" points="264.5,190.3 276.4,192.5 281.6,213.8 287.7,203.3 273.4,134.2 257.8,255.5 273.4,213.9 270.1,168 282.9,140.4 269.8,221.5"/></g>
<g class="p3"><polyline id="b27" points="280.1,192.5 280.8,218.9"/></g>
<g class="p0"><polyline id="b28" points="290.9,212.3 286.5,226.4 312.2,166.8 301.6,150.4 313.7,189.2 355.8,175.4 304.9,230.3 284.7,207.4 284.5,180.3 288.8,183.9 293.7,169.4 328.9,223.9 294.6,136.6 307.1,189 295.5,156.6 304.1,154.9 290.2,259.9 293.9,227.1 289.1,175.2 281.4,169.2 266.4,174.2 293.5,199.3 397.3,171.1 334.3,180.6 285.6,217.5 358.2,200.4 319.6,220.5 367.1,183.6 333,197.6 285.5,178.5 284.3,208.8 277.4,231 304.5,192 303.9,181.8 293.9,180.1 256.1,231.8 313.2,165.5 413.7,185 292.8,172.3 265.2,224.2 288.9,179.8 341.4,223.1 323.5,151.7 288.2,202.5 351.4,188.6 283.2,183.6 310.8,218.7 302.3,185.5 341.3,198.6 298.2,175.5"/></g>
<g class="p1"><polyline id="b29" points="277.4,154.3 288.2,196.8 285.9,218.7 277.7,200 278.1,216 290.1,177.1 280.3,207.6 289.5,156.8 285.2,195.6 279.1,173.9 288,180.2 271.2,240.1 275.6,264.2 280.7,208.4 275.1,193.8 275.2,188.5 287.9,167 285.7,177.2 269.5,224.5 272.5,243 274.5,199.8 290.1,188.7 285.8,218.9 280.5,186.4 288,179.2 270.6,207.2 285,200.2 287.3,190 283.6,193.6 280.4,173.7 287.5,196.7 280.9,200.7 280,208.4 278.5,184.8"/></g>
<g class="p2"><polyline id="b30" points="271.7,161.4 281.6,210.1 279.6,199.9 269.9,186.3"/></g>
<g class="p3"><polyline id="b31" points="280,183.2 283.1,192.6"/></g>
<g class="p0"><polyline id="b32" points="280,179.2 260.5,221.1 297,228.2 354,169.4 280.1,177.5 290.3,223.2 338.9,203 342.5,138.9 290.5,172.3 341.6,162 293.5,201.9 320.9,148.6 338.3,190.5 292.3,184.6 298.4,230.2 287.9,182 372.1,179.8 314.6,191.8 386.3,128.5 304.6,177 361.8,153.1 318.7,190.7 357.9,164 307.3,183.9 281.1,167 332.5,194.9 280,204.1 298.9,179 356,165.9 259.2,207.4 285.5,193.4 289.1,174.8 405,178.9 303.8,164.4 281.8,182.6 309.5,208.9 283.6,248.6 293,187.8 286.5,182.9 298.8,224.2 297.3,216.1 319.6,207.5 289.1,179 291.7,198.2 288.4,210.4 321.5,196.4 292.4,168.7 313.6,183 288.5,232.1 284.4,156.3 312,179 291.9,172.5 296.7,164.7"/></g>
<g class="p1"><polyline id="b33" points="274.8,236 272.4,204 283.1,186.2 288,200.6 278.3,177.9 274.1,184.9 280.7,215.1 275.5,206.8 279.2,188.7 284.6,182.7 291.1,194.2 270.5,208.5 287.5,209.7 281.8,198.1 281.9,235.1 289.5,178.6 278.5,200.7 290.9,184.7 274.6,215.7 291.7,198.3 290.9,205.5 287.9,199.2 285.9,198.3 287.7,156.6"/></g>
<g class="p2"><polyline id="b34" points="278.7,199.8 272.3,232.7 275,235.7 266.7,197 270.4,190.5 275.2,219.2 288.9,188.6 281.8,201.4 286.7,213.8 289.2,196 269.8,211.1 271.8,232.1 280.1,205.8"/></g>
<g class="p0"><polyline id="b35" points="283.5,168.6 294.1,165.9 315.9,214.9 303.1,176.8 350.3,189.8 274.9,205.8 393.7,191.9 309.3,148.4 317.6,199.1 331.9,194.3 288.2,181.6 295.7,180.3 292,177.9 287.8,234.8 303.3,211.4 321.4,141.4 281.4,167.7 310.6,179.3 281.5,211.6 282,216.4 304.9,162.6 285,192.9 291.6,158.2 300,175.2 277.4,152.8 319.5,208.3 290.9,201.1 382.2,189.3 302.4,190.4 290.5,149 275.3,200.6 291.2,173.4 327.9,206.9 288.9,196.6 308.4,169 287.5,223.5 295.6,213.8 287.4,213.4 304.9,164.1 284.4,201.7 306.8,206.5 287.8,162.4 266.6,212.9 301.3,171.9 276.8,172.3 308.2,196.5 294.7,201.9 313.9,225 280,197.6 295.9,179.4 327.5,186.9 288.5,196.1 292,200.8 392.2,164.2 293.6,221.8 397.7,167 339.9,178.3 362.4,180"/></g>
<g class="p1"><polyline id="b36" points="279.8,187.9 282.9,195.5 281.9,189.4 290.6,196.8 278.3,202.2 288.2,200.4 287.8,217.9 282.5,202.7 279.7,187.8 283.3,199.6 285.9,213.7 284.3,195 280.7,179 273.4,231 285.2,156.2 283,199.8 289.8,165 283,222.6 276,196.5 278.1,208.7 274.9,186 279.4,174.6 281.3,199.4 288.7,172.5 277.3,162 285.8,213.9 282.5,203.8 289.8,178.2"/></g>
<g class="p2"><polyline id="b37" points="279.8,224.6 281.5,208.5 272.5,195.4"/></g>
<g class="p3"><polyline id="b38" points="285,199.5 285,199.5"/></g>
<g class="p0"><polyline id="b39" points="370.4,157.8 387.4,180.9 314.6,191.1 309.7,159.7 298,177.2 291.3,195.9 373.9,184.9 286.8,147.2 307.8,186.3 366.4,201.5 296.4,185.4 282.6,149.5 283,175.7 301,134.1 291.1,183.2 297.5,177.3 309.3,205.4 266,205.2 348,174.5 304.8,170.3 345.7,171.7 289.3,169.4 292.8,160.8 352.1,187.5 343.8,183.9 312.3,173.1 280.9,170.3 324.3,175.7 349.7,177.8 278.9,204.9 299.5,162.4 296.1,185.2 291.9,190.8 323.9,176.5 295.1,207.7 299.2,198.1 386.3,212 284.5,194.8 315.7,160.3 291.1,225.7 299.4,160.4 283.9,184.7 279.3,160.3 385.4,135 290.8,175.5 281.1,192.8 305.4,164.4 293.9,227.8 356.8,190.4 291,181 281.1,187.1 353.9,174.8 305.5,175.5 333.8,212.6"/></g>
<g class="p1"><polyline id="b40" points="285.8,219.7 289.7,210.2 280.1,188.6 274.5,221.7 288.2,226.3 294.2,216.5 283.8,148 282.1,182.2 279.9,214.2 280.4,158.9 286,215.8 281.5,186 280.3,210.9 285.5,143.3 276,194.7 284.5,217.4 287.3,180.1 293,234.3 293.9,211.6 285.8,214.4 268.3,206.7 283.6,221.9 292.5,199.5 289.2,218.2 288.7,161.8 278.7,225.8"/></g>
<g class="p2"><polyline id="b41" points="280.5,205.6 271.1,161.9 277.6,215.9 265.6,197.4 282.8,221.9 275.4,217.1 271.2,194.7 271.6,219 275.3,172.6"/></g>
<g class="p3"><polyline id="b42" points="285,240.9 285,240.9"/></g>
<g class="p0"><polyline id="b43" points="319.9,160.5 311.7,182.6 395.5,158.4 295,156.8 280.1,159.7 270.4,215.6 300.8,199.9 283.9,165.7 316.9,173 281.4,167.3 307.1,167.6 284.2,208.2 344.3,166.2 376.4,191.7 298.8,179.3 355.8,180.4 331.6,199.5 285.9,177.3 307.6,159.6 307.7,166 331,214.7 340.6,190.1 283.8,176.6 412.4,160.8 293.3,193.6 299.2,210.7 292.6,186.6 284.3,186.9 287.8,160.5 283,203.2 279.7,209.2 296.1,167.1 261.1,221.8 295.5,197.9 410.6,205 292.5,168.5 301.9,173 332.8,166.5 332,202.7 285.8,228.5 283.3,201.1 299.8,179 295.4,181.8 292.7,174.7 305.1,222.6 299,179 301.8,177.3 293.3,213.9 285.9,166.7 333.6,186.8 284.8,173.6"/></g>
<g class="p1"><polyline id="b44" points="285.5,198.6 280.5,196.6 286.8,196.5 282.6,153.6 283.1,199.9 289.8,208.7 279.7,196.3 284.2,208.7 282.7,203.8 285,218.5 283.9,183.3 286.8,209.1 281.6,183.5 290.3,178.4 284.9,193.8 276.4,204.5 289.7,204.1 279.5,198.1 283.1,236 290.8,180.7 279.7,208.4 280.5,219.7 275.2,193.5 275.9,188 271.7,259.7 283.1,200.2 277,176.6 279.9,196.5 286.7,166 283.1,169 275.7,213.5 277.6,184.8 288.4,210.3"/></g>
<g class="p2"><polyline id="b45" points="278.9,248.7 280.5,165.1 276.1,211.8 264.8,203.6"/></g>
<g class="p3"><polyline id="b46" points="282.4,196.5 281.6,209.4"/></g>
<g class="p0"><polyline id="b47" points="305.7,140.8 302.1,163.7 304.5,196.9 333.2,175.8 284.1,191.2 352.1,175.4 356.5,160.8 279.7,233.9 299.2,197.6 313.6,193.8 292.5,189.8 283.5,219 300.1,186.8 345.9,200.6 381.1,203.6 303.2,180.7 302.7,181.1 282.2,164.7 353.5,168.5 330.8,166.8 256.8,190.7 341.2,148.1 304.5,191.7 290.3,165.8 259.1,222.9 288.9,188.7 312.5,224.8 313.7,162.6 379.4,144.6 284.2,198.4 298.5,163.3 357.6,195.5 357.3,187.1 295.7,174.1 293.5,226.1 281.6,193.1 293.6,176.2 344.5,200 283.8,147.7 298.4,200.2 396,201.8 282.6,172.8 293.3,195.9 373.2,174.1 291.3,186.2 357.7,199.5 280.7,234 401.9,170.6 344.8,198.3 291.8,197.4 329,167.8 273.1,185"/></g>
<g class="p1"><polyline id="b48" points="277.6,193.7 283.3,228.1 288.3,203.9 276.5,200.7 282.9,174.6 284,216.4 274.2,194.9 278.5,241.3 289.2,190.7 278.1,173.2 279,179 290.4,155.9 292.4,195.6 282.9,201.8 286.1,197.9 289.4,182.9 284.7,226.8 290.8,201.5 285.4,190.6 281.7,196.5 275.5,168.1 278.4,210.1 288.1,194.2 272.9,218.2 287.4,196.6 290.8,172.9 279.2,220.5 283.3,165.8"/></g>
<g class="p2"><polyline id="b49" points="279.3,167.9 268.6,219.1 279,192.3 264.3,206.1 278.2,211 266.2,223.4"/></g>
<g class="p3"><polyline id="b50" points="282.9,198 273.8,189.3 284.4,203.5 278.9,209.2"/></g>
<g class="p0"><polyline id="b51" points="307.8,184.9 280.5,174.9 341.1,188.2 334.2,169.5 311,160.1 274.1,193.4 284.3,182.6 269.9,214.7 278.7,186 392,173.5 397.1,145.4 299.8,142.9 294.5,147.7 285.4,198.5 294.5,212 296.8,170.1 387.7,171 317.1,193.2 318.7,187.6 338.7,163.8 404.3,141.5 322.2,185.8 307.5,172.4 279.4,190.9 327.5,185.7 316.9,213.8 323.9,180.5 280.4,187.2 280.5,195.6 302.2,175.6 289.5,188.6 284.8,209.7 334.9,200.6 387.7,194.6 295,173.9 296.3,180.6 290.6,162.7 302.7,166.2 315.9,186.7 358.8,215.4 391.9,156.8 301.5,170.5 295.4,193.2 292.3,179.1 379.5,160.5 278.9,200.1 309.1,142.1 304,220.8 303.6,199.8 386.7,201.5 342.9,184.5"/></g>
<g class="p1"><polyline id="b52" points="283.5,174.8 283.1,234.9 280.8,240.8 274.5,184.9 281,190.6 283,171.7 285.5,188.4 288.4,183.9 273.7,151.9 289.1,161.4 292.4,175.9 291.2,181.7 284.2,202.8 281,195.4 280.4,210.1 286.9,188.3 280.4,214.5 282.8,164.6 284.7,179.2 285.5,156.1 269.8,194.9 279.7,217.7 283.5,205.4 278.7,207.5 279.5,226.5 285.4,163.5 279.9,198.3 283.3,216.5 290,172.4 278.8,220.2"/></g>
<g class="p2"><polyline id="b53" points="273.7,200 273.5,217.7 277.8,215.6 273.6,203.1 281.2,194.1 273.5,193.1 279.7,168.9 279.3,220.2 267.2,160.7"/></g>
<g class="p0"><polyline id="b54" points="307.3,212.1 318.8,200.7 288.2,207.2 393.4,205.4 277.7,183.7 291.1,133.8 301.1,175.7 358.6,189.7 283,217.6 283.8,200.9 369,200.9 364.1,191.2 282.6,182.7 293,155.5 288.2,183.6 361.9,163.6 289.5,194.5 310.5,221.7 312.8,132.7 350.6,167.5 292.4,207.4 352.9,175.8 403.3,177.6 278.3,218.7 302.8,188 343.1,205.3 308.6,172.9 282.3,200.6 300.6,189.7 287.3,168.5 281.1,181 351.2,156.9 335.8,184.5 288.9,174 313,173.3 395.6,184.4 314.1,170.9 278.6,184.1 281.7,196.9 288.1,165.5 301.1,158.2 309.1,204.3 282.5,211 302.1,201 352.9,149.7 342.3,114.3 296.4,211.7 283,184.6 312.8,183.8 295.8,163.8 295.6,173.5"/></g>
<g class="p1"><polyline id="b55" points="289.2,203.3 274.5,226.6 285.5,181.9 288.3,208.1 286.5,196 291,203.3 289.1,219.6 276.9,174.8 287.9,201.3 279.4,199.2 278.8,195.6 285.5,248.2 281,169.1 283.8,183.4 281.4,162.8 278.8,219.6 285.1,196 273,192.7 286.9,247.1 280.1,198.8 285.8,187.4 279.1,184.8 284.4,211.6 290.1,210.4 285.4,184.9 288.6,149.8 281.8,229.6 280.1,216.2 281.3,179.7 281.8,204.5"/></g>
<g class="p2"><polyline id="b56" points="277.2,211.8 280.3,164.3 274.6,248.9 290.1,185.1 268.2,197.7 285.5,188.9"/></g>
<g class="p3"><polyline id="b57" points="274.3,215.4 278.3,211.3 276.9,216.5"/></g>
<g class="p0"><polyline id="b58" points="284.7,187.8 301.8,168.4 290.2,176.4 339.6,172.8 284.7,227.3 314.1,135.1 309,220.1 309.8,233.3 284.8,177.7 376,187.7 358.2,174.2 313.4,180.1 348.3,171.7 293.4,190.9 295.4,180.1 285.4,193.8 289,182 323.9,193.5 382.2,175.8 324.1,175.9 398.6,155.5 303.5,177.8 285.6,186.3 382.6,160.2 278.3,193.3 284.4,210.1 276.9,243.4 294.1,157.6 364,174 308.2,159.1 294.1,172.9 290.2,206.6 305.8,186.4 281.3,182.4 282,212.8 298.7,162.5 295.6,172.2 285.4,228.9 348.2,159.4 383.8,166 361.6,140.1 293.3,175.7 288.1,207 287.7,207.4 277.6,238.4 289.6,168.6 335.7,186.8"/></g>
<g class="p1"><polyline id="b59" points="280.3,196 278.5,227.3 286.4,208.3 283.1,249.3 272.5,243.1 291.5,153.8 286.2,225.6 285.9,190 285.7,205.3 283.5,224.2 280.5,201.6 277.4,212.2 300.2,177.8 289.7,216.8 286.2,158.8 284.5,173.7 274.5,197.3 294.5,200.7 279.9,206.4 283.2,174.3 290.5,181.9 279.2,217.8 281.1,218.2 285.7,171 276.4,213.6 281.1,193.6 286.9,158.7 293.9,141.4 279.6,179.4 275.1,209"/></g>
<g class="p2"><polyline id="b60" points="271.1,222.1 275.4,200.6 281.8,187.4 265.4,248 272.8,172.6 276.8,211.5 273,181.1 269.6,202.6 267.2,206.5"/></g>
<g class="p3"><polyline id="b61" points="280.5,179.3 277.4,223.2 282.1,184.1 284.2,210.3"/></g>
<g class="p0"><polyline id="b62" points="290.5,167.3 301.8,182.7 370.8,199.6 255.6,227.3 375.5,173.2 353.9,163.7 362.5,186.4 349.7,194.3 393.2,176.4 294,179.4 298.6,181.5 319.9,165.3 311.2,194.5 294.6,199.4 318.7,176.7 287.6,204.7 286.7,190.4 304.1,185.9 324.3,183.8 293.3,236.3 350.3,187.4 317.5,221.3 263.2,225.3 290.8,187.8 317.7,163 265.7,209.9 312.3,200.9 278.2,246.2 310.6,215.8 307.5,167.3 282.1,173.2 302.3,214.3 304.6,142.5 299.8,165.1 296.1,152.4 375,174.9 293.6,183.9 277.4,183.4 288.9,210.4 334.8,175.8 291.8,187.7 291.6,204.2 283.5,200.2 313.1,159.6 288,204.9"/></g>
<g class="p1"><polyline id="b63" points="278.6,192.4 284.8,183.9 284.7,248.5 277.9,218.1 285.9,169.4 285.7,182.4 285.8,197.4 278.2,209.7 277.4,231 285.3,199.2 283.9,187.8 286.1,232.3 277.9,229.1 278,200.8 285,183 275,185.7 279.1,210.2 277.8,217.6 284.4,181.9 284.9,171.8 284.3,207.6 283.6,222.9 286.1,170.5 283.7,185.5 290.6,186.8 279.2,170.4 293.2,214.9 280.3,219.7"/></g>
<g class="p2"><polyline id="b64" points="290.4,187.1 280.4,210.7 280.7,195.3 281.2,180.9 282.2,191.7 284.1,176.8 276.9,207.4 276.7,174.1 280.8,229.8 268.8,227.4 274.7,177.8 269.4,204.7 276.5,203.2 271.7,221.8 276.4,246.2"/></g>
<g class="p3"><polyline id="b65" points="281.7,197.3 281.8,188.4"/></g>
<g class="p0"><polyline id="b66" points="286.9,193.2 276.7,213.2 318.1,172.6 382,154.9 366.7,189 294.2,179.4 274,176.8 403.9,192.6 292,195.9 292.8,180.3 292.2,177.6 290.1,177 298.1,201.6 385.9,222.5 311.6,173 373.4,204.6 278.6,201.4 321.5,200.4 285.1,199.8 302.5,149.1 305.4,195.2 314.7,184.9 280.1,197.3 286,196.3 312.6,207.3 323.3,175.1 302.2,192.6 302.5,198.5 291.7,144.2 302.9,180.4 297,213.4 294,196.8 403.2,201.2 307,208.4 330.8,181.7 359.3,174.8 291.3,163.5 282.5,188.2 324.7,230.8 293.7,207.1 308,184.1 281.1,208.5 375.6,209 282,222.4 366,159 320.9,183.3 404.3,160.1 282.9,163.5 288.9,160.3 343.9,193.7 293.5,217.1 300.8,203.9 285.2,136.3 294.9,209.9 354.8,161.8 301.7,200.7 286.1,156.7"/></g>
<g class="p1"><polyline id="b67" points="281.1,164.6 284,186.6 289.3,171.7 282.3,222.7 283.1,193.2 282.5,223 284.3,193.1 288,199.6 283.3,211.6 270.8,187.9 282.9,196.3 291.4,233.2 279.2,179.8 279.1,228.2 278,191.4 287.7,216.1 288.2,206.7 281.8,183.7 279.2,225.1 284.2,210.8 272.2,224.4 279.9,185.1 284.2,179.4 295.2,259.1"/></g>
<g class="p2"><polyline id="b68" points="274.2,224.4 284.4,181.4 283.2,210.9 271.9,175 285.7,208.2 260.1,165.3 279.3,159"/></g>
<g class="p3"><polyline id="b69" points="284,223.3 281.4,205.5"/></g>
<g class="p0"><polyline id="b70" points="320.1,174.9 284.5,183.6 295.2,213 253.3,221.5 296.7,198.7 279.7,206.3 294.5,199.2 296.6,158.8 285,215.1 299.8,202.2 411.1,208.9 285.9,165.6 291.4,167.1 315.6,174.2 372.9,198.5 307.2,192.2 283.5,243.2 291,201.8 297.9,189.5 278.5,170.4 297.7,150.1 286.5,192.8 289.2,215.4 276.2,207.4 316,165.5 253.6,220.4 293.8,225.5 323.6,170.3 308.8,177.7 291.3,202.7 294.1,168.9 282.1,193.9 289.4,170 293.1,212.6 285.2,192.7"/></g>
<g class="p1"><polyline id="b71" points="280.7,217.8 276.3,177 283.1,200.9 281.7,172.9 285,189.2 283.6,210.3 285.8,230.1 287.5,177.7 283.3,196.4 285.6,178.5 276.3,196.5 283.2,224.3 276.3,176.4 288.2,193.2 278.4,215.5 287.6,194.9 282.7,222.7 281.2,168.2 286.4,173.9 282,198.5 284.5,225.4 274.4,201.5 288,193.5 285.7,149.9 284.1,193 283.7,174.3 275.2,190.1 275.4,183.2 281.9,200.6 282.4,254 293.8,197.1 279,222.5 271.1,181.6 289.7,191.4 280.7,205.4 278.7,222.6 282.6,202.2 285.5,200.6 285.4,212.5"/></g>
<g class="p2"><polyline id="b72" points="290.8,206.5 283,198.9 274,211.4 287,215.7 283.1,211.4 273.2,210.4 277.6,194.5 265.5,262.7 275.1,174.8 282.5,227.7 279.6,176.5 283.5,177"/></g>
<g class="p3"><polyline id="b73" points="284,203 274.3,143.9 280.9,213.8 280.1,204.3"/></g>
<g class="p0"><polyline id="b74" points="287.6,217.6 291.6,180.9 316.3,190.8 281.8,186.1 287.6,229.4 285.4,208.2 280.9,213.6 328.2,144.3 301,204.8 374.9,143.2 295.4,137.9 293.3,192 299,175.8 288.8,161 340.4,206.7 290.2,167.9 292.5,171.9 361.1,212.5 299.8,215.9 301.6,205 357.3,173.2 260,203.7 282.3,203.4 313,193.7 300.4,186.5 315,150.8 296.8,217.4 303.9,186.7 387.1,194.6 325.6,167.9 319.2,176.2 294.6,158 255.1,255.4 294.1,209.5 279.2,198.8 327.8,144.9 297.3,148.2 283.1,161.2 328.1,200.6 286.9,211.1 296.8,197.7 317.4,203.5 296.2,239.3 316.5,200.2 305.9,177 356.2,149.7 289.9,193.9"/></g>
<g class="p1"><polyline id="b75" points="278.8,215.4 285.2,176.8 294.7,191.4 285.9,222.1 294.7,174.1 280,197.1 290.5,197.6 280.3,171.3 292.4,165.2 282.4,152.8 282.7,195.8 278.1,234.2 277.6,194 273.4,203.9 279.5,197.7 289.2,192.3 289.3,164.8 283,206 286.4,187.9 287.8,153.2 281.7,161 295.5,184.7 288.2,180 278.5,228.1 283.6,211.1 283.3,228 286.3,188.5 275.2,214.3 283.9,172.9 284.8,168.7 293.6,182.9 276.5,177.7 275.7,216.7 272.8,223.7"/></g>
<g class="p2"><polyline id="b76" points="272.4,184.7 262.8,217.6 287.6,196 270.4,195.7 271.8,196.2 275.4,207.7"/></g>
<g class="p3"><polyline id="b77" points="276.9,191.8 280.3,212.1 277.1,170.3"/></g>
<g class="p0"><polyline id="b78" points="286.7,212.6 301,188.6 289.4,198.6 393.8,146 280.4,215.3 402.1,172.9 290.8,185.9 309.5,194.5 322.5,193.2 393,182.4 277.8,180.1 338.2,190.8 260.4,224.4 290.1,200.4 349.6,161.2 297,180 317.5,174.1 288.8,156.6 322,188.9 298.9,199.3 278.9,195.4 303.3,171.3 324.4,184.6 320.7,184.8 283,196.7 303.5,188.4 296.9,209.7 285.1,227.2 298.5,197.8 343.5,170.5 294.3,216.3 302.6,157 374.3,179.1 389.5,140.4 289.2,218.4"/></g>
<g class="p1"><polyline id="b79" points="277.6,197.8 270.4,241.8 283.1,195 276.8,217.8 281.5,169.9 282.7,191.6 279.6,183.5 286.1,173.3 283.6,183.5 280.9,176.3 274.2,204.5 275.9,209.6 266.4,227.4 277.8,179.5 272.2,197.2 272.3,190.5 294.9,201.9 283.4,161.9 289.2,232.5 285.2,177 279.2,224.8 291.7,196.9 280.8,189.7 286.4,178.4 282.7,179.8 285.7,171.5 293.7,168.4 286.5,196.4 282.3,176.3 286.5,193"/></g>
<g class="p2"><polyline id="b80" points="279.4,178.9 282.2,172.3 273.9,225.8 260.7,260.6 278.1,210 279.7,223.3"/></g>
<g class="p3"><polyline id="b81" points="280.1,216.4 278.6,215.7 281,147.6 284,189.6 281.2,215.5 279.9,225.8"/></g>
<use href="#b0" class="q0"/>
<use href="#b1" class="q1"/>
<use href="#b2" class="q2"/>
<use href="#b3" class="q3"/>
<use href="#b4" class="q0"/>
<use href="#b5" class="q1"/>
<use href="#b6" class="q2"/>
<use href="#b7" class="q3"/>
<use href="#b8" class="q0"/>
<use href="#b9" class="q1"/>
<use href="#b10" class="q2"/>
<use href="#b11" class="q3"/>
<use href="#b12" class="q0"/>
<use href="#b13" class="q1"/>
<use href="#b14" class="q2"/>
<use href="#b15" class="q3"/>
<use href="#b16" class="q0"/>
<use href="#b17" class="q1"/>
<use href="#b18" class="q2"/>
<use href="#b19" class="q3"/>
<use href="#b20" class="q0"/>
<use href="#b21" class="q1"/>
<use href="#b22" class="q2"/>
<use href="#b23" class="q3"/>
<use href="#b24" class="q0"/>
<use href="#b25" class="q1"/>
<use href="#b26" class="q2"/>
<use href="#b27" class="q3"/>
<use href="#b28" class="q0"/>
<use href="#b29" class="q1"/>
<use href="#b30" class="q2"/>
<use href="#b31" class="q3"/>
<use href="#b32" class="q0"/>
<use href="#b33" class="q1"/>
<use href="#b34" class="q2"/>
<use href="#b35" class="q0"/>
<use href="#b36" class="q1"/>
<use href="#b37" class="q2"/>
<use href="#b38" class="q3"/>
<use href="#b39" class="q0"/>
<use href="#b40" class="q1"/>
<use href="#b41" class="q2"/>
<use href="#b42" class="q3"/>
<use href="#b43" class="q0"/>
<use href="#b44" class="q1"/>
<use href="#b45" class="q2"/>
<use href="#b46" class="q3"/>
<use href="#b47" class="q0"/>
<use href="#b48" class="q1"/>
<use href="#b49" class="q2"/>
<use href="#b50" class="q3"/>
<use href="#b51" class="q0"/>
<use href="#b52" class="q1"/>
<use href="#b53" class="q2"/>
<use href="#b54" class="q0"/>
<use href="#b55" class="q1"/>
<use href="#b56" class="q2"/>
<use href="#b57" class="q3"/>
<use href="#b58" class="q0"/>
<use href="#b59" class="q1"/>
<use href="#b60" class="q2"/>
<use href="#b61" class="q3"/>
<use href="#b62" class="q0"/>
<use href="#b63" class="q1"/>
<use href="#b64" class="q2"/>
<use href="#b65" class="q3"/>
<use href="#b66" class="q0"/>
<use href="#b67" class="q1"/>
<use href="#b68" class="q2"/>
<use href="#b69" class="q3"/>
<use href="#b70" class="q0"/>
<use href="#b71" class="q1"/>
<use href="#b72" class="q2"/>
<use href="#b73" class="q3"/>
<use href="#b74" class="q0"/>
<use href="#b75" class="q1"/>
<use href="#b76" class="q2"/>
<use href="#b77" class="q3"/>
<use href="#b78" class="q0"/>
<use href="#b79" class="q1"/>
<use href="#b80" class="q2"/>
<use href="#b81" class="q3"/>
<path d="M253.1 221.4L254.6 220.5L256.1 219.5L257.6 218.4L259.1 217.3L260.6 216.1L262.1 214.8L263.6 213.4L265.1 211.9L266.6 210.4L268.1 208.8L269.6 207.3L271.1 205.7L272.6 204.2L274.1 202.7L275.6 201.2L277.1 199.7L278.6 198.4L280.1 197.0L281.6 195.7L283.1 194.5L284.6 193.3L286.1 192.3L287.6 191.3L289.1 190.3L290.6 189.4L292.1 188.6L293.6 187.8L295.1 187.2L296.6 186.5L298.1 185.9L299.6 185.4L301.1 184.9L302.6 184.5L304.1 184.2L305.6 184.0L307.1 183.8L308.6 183.6L310.1 183.5L311.6 183.3L313.1 183.2L314.6 183.1L316.1 183.0L317.6 182.8L319.1 182.7L320.6 182.5L322.1 182.4L323.6 182.3L325.1 182.1L326.6 182.0L328.1 181.8L329.6 181.6L331.1 181.5L332.6 181.3L334.1 181.0L335.6 180.8L337.1 180.6L338.6 180.3L340.1 180.0L341.6 179.8L343.1 179.5L344.6 179.3L346.1 179.0L347.6 178.8L349.1 178.5L350.6 178.2L352.1 178.0L353.6 177.8L355.1 177.5L356.6 177.3L358.1 177.2L359.6 177.0L361.1 176.8L362.6 176.7L364.1 176.5L365.6 176.4L367.1 176.3L368.6 176.2L370.1 176.2L371.6 176.2L373.1 176.2L374.6 176.2L376.1 176.2L377.6 176.2L379.1 176.2L380.6 176.2L382.1 176.2L383.6 176.4L385.1 176.6L386.6 176.9L388.1 177.2L389.6 177.6L391.1 177.9L392.6 178.2L394.1 178.6L395.6 178.9L397.1 179.3L398.6 179.7L400.1 180.1L401.6 180.5L403.1 180.9L404.6 181.4L406.1 181.9L407.6 182.4L409.1 182.9L410.6 183.5L412.1 184.0L413.6 184.6L413.8 184.7" stroke="#fff" stroke-width="2.2" stroke-opacity=".5" fill="none" stroke-linejoin="round"/>
<path d="M253.1 221.4L254.6 220.5L256.1 219.5L257.6 218.4L259.1 217.3L260.6 216.1L262.1 214.8L263.6 213.4L265.1 211.9L266.6 210.4L268.1 208.8L269.6 207.3L271.1 205.7L272.6 204.2L274.1 202.7L275.6 201.2L277.1 199.7L278.6 198.4L280.1 197.0L281.6 195.7L283.1 194.5L284.6 193.3L286.1 192.3L287.6 191.3L289.1 190.3L290.6 189.4L292.1 188.6L293.6 187.8L295.1 187.2L296.6 186.5L298.1 185.9L299.6 185.4L301.1 184.9L302.6 184.5L304.1 184.2L305.6 184.0L307.1 183.8L308.6 183.6L310.1 183.5L311.6 183.3L313.1 183.2L314.6 183.1L316.1 183.0L317.6 182.8L319.1 182.7L320.6 182.5L322.1 182.4L323.6 182.3L325.1 182.1L326.6 182.0L328.1 181.8L329.6 181.6L331.1 181.5L332.6 181.3L334.1 181.0L335.6 180.8L337.1 180.6L338.6 180.3L340.1 180.0L341.6 179.8L343.1 179.5L344.6 179.3L346.1 179.0L347.6 178.8L349.1 178.5L350.6 178.2L352.1 178.0L353.6 177.8L355.1 177.5L356.6 177.3L358.1 177.2L359.6 177.0L361.1 176.8L362.6 176.7L364.1 176.5L365.6 176.4L367.1 176.3L368.6 176.2L370.1 176.2L371.6 176.2L373.1 176.2L374.6 176.2L376.1 176.2L377.6 176.2L379.1 176.2L380.6 176.2L382.1 176.2L383.6 176.4L385.1 176.6L386.6 176.9L388.1 177.2L389.6 177.6L391.1 177.9L392.6 178.2L394.1 178.6L395.6 178.9L397.1 179.3L398.6 179.7L400.1 180.1L401.6 180.5L403.1 180.9L404.6 181.4L406.1 181.9L407.6 182.4L409.1 182.9L410.6 183.5L412.1 184.0L413.6 184.6L413.8 184.7" stroke="#000" stroke-width="1.2" fill="none" stroke-linejoin="round"/>
<path d="M253 268.0v-3.0H253.75v3.0zM255 268.0v-3.0M255.5 268.0v-3.0H256.25v3.0zM256.75 268.0v-3.0M257.5 268.0v-3.0H258.5v3.0zM258.75 268.0v-3.0H259.5v3.0zM259.75 268.0v-3.0H261.25v3.0zM261.5 268.0v-3.0H262.25v3.0zM262.5 268.0v-3.0H263.75v3.0zM264 268.0v-3.0H267.5v3.0zM268 268.0v-3.0H322.75v3.0zM323 268.0v-3.0H325.75v3.0zM326.5 268.0v-3.0M327 268.0v-3.0H329.25v3.0zM330 268.0v-3.0H336v3.0zM337.75 268.0v-3.0H345v3.0zM345.5 268.0v-3.0H346.25v3.0zM347.5 268.0v-3.0H348.5v3.0zM349.25 268.0v-3.0H355v3.0zM355.5 268.0v-3.0H359.5v3.0zM360.25 268.0v-3.0H362.75v3.0zM363 268.0v-3.0H365v3.0zM365.5 268.0v-3.0H367.25v3.0zM369 268.0v-3.0M369.75 268.0v-3.0H372.5v3.0zM372.75 268.0v-3.0H378.25v3.0zM379 268.0v-3.0H380.25v3.0zM380.75 268.0v-3.0H383v3.0zM383.75 268.0v-3.0M385 268.0v-3.0H388.75v3.0zM389.5 268.0v-3.0M391.75 268.0v-3.0H392.5v3.0zM392.75 268.0v-3.0H394v3.0zM395.25 268.0v-3.0H396.25v3.0zM396.75 268.0v-3.0H398v3.0zM398.25 268.0v-3.0H399v3.0zM401.5 268.0v-3.0H402.25v3.0zM403.25 268.0v-3.0M403.75 268.0v-3.0H404.5v3.0zM405 268.0v-3.0M409.5 268.0v-3.0M410.25 268.0v-3.0H411.25v3.0zM412.5 268.0v-3.0M413.75 268.0v-3.0" stroke="#000" stroke-width=".5" fill="#000"/>
</g>
<text class="t" text-anchor="end" x="241.4" y="252.1">-1.0</text>
<text class="t" text-anchor="end" x="241.4" y="223.7">-0.5</text>
<text class="t" text-anchor="end" x="241.4" y="195.3">0.0</text>
<text class="t" text-anchor="end" x="241.4" y="166.9">0.5</text>
<text class="t" text-anchor="end" x="241.4" y="138.5">1.0</text>
<text class="t" text-anchor="end" x="241.4" y="110.1">1.5</text>
<text class="t" text-anchor="middle" x="290.6" y="278.2">15</text>
<text class="t" text-anchor="middle" x="338.5" y="278.2">20</text>
<text class="t" text-anchor="middle" x="386.3" y="278.2">25</text>
<path d="M245.0 249.5h-2.2M245.0 221.1h-2.2M245.0 192.7h-2.2M245.0 164.3h-2.2M245.0 135.9h-2.2M245.0 107.5h-2.2M290.6 268.0v2.2M338.5 268.0v2.2M386.3 268.0v2.2" stroke="#333" stroke-width=".6" fill="none"/>
<text class="ti" x="245.0" y="101.2">temperature</text>
<text class="ax" text-anchor="middle" textLength="49.9" lengthAdjust="spacingAndGlyphs" x="333.2" y="289.1">C° degrees</text>
<text class="ay" text-anchor="middle" transform="translate(224.7 187.2) rotate(-90)">ENS</text>
<clipPath id="c2"><rect x="458.7" y="107.2" width="176.3" height="160.8"/></clipPath>
<rect x="458.7" y="107.2" width="176.3" height="160.8" fill="#EBEBEB"/>
<g clip-path="url(#c2)">
<path d="M470.5 107.2V268.0M518.3 107.2V268.0M566.1 107.2V268.0M613.9 107.2V268.0M458.7 239.0H635.0M458.7 208.5H635.0M458.7 178.1H635.0M458.7 147.6H635.0M458.7 117.2H635.0" stroke="#fff" stroke-width=".6" stroke-opacity=".9" fill="none"/>
<path d="M494.4 107.2V268.0M542.2 107.2V268.0M590.0 107.2V268.0M458.7 254.2H635.0M458.7 223.8H635.0M458.7 193.3H635.0M458.7 162.9H635.0M458.7 132.4H635.0" stroke="#fff" stroke-width=".95" fill="none"/>
<path d="M466.1 203.8L467.6 203.6L469.1 203.3L470.6 203.0L472.1 202.7L473.6 202.3L475.1 202.0L476.6 201.6L478.1 201.2L479.6 200.8L481.1 200.4L482.6 199.9L484.1 199.5L485.6 199.0L487.1 198.6L488.6 198.1L490.1 197.7L491.6 197.2L493.1 196.7L494.6 196.3L496.1 195.8L497.6 195.4L499.1 195.1L500.6 194.7L502.1 194.4L503.6 194.0L505.1 193.7L506.6 193.4L508.1 193.1L509.6 192.9L511.1 192.6L512.6 192.3L514.1 192.1L515.6 191.9L517.1 191.6L518.6 191.4L520.1 191.3L521.6 191.1L523.1 190.9L524.6 190.8L526.1 190.6L527.6 190.4L529.1 190.2L530.6 189.9L532.1 189.7L533.6 189.5L535.1 189.4L536.6 189.2L538.1 189.0L539.6 188.9L541.1 188.7L542.6 188.6L544.1 188.4L545.6 188.3L547.1 188.2L548.6 188.1L550.1 188.0L551.6 187.9L553.1 187.8L554.6 187.7L556.1 187.6L557.6 187.5L559.1 187.4L560.6 187.4L562.1 187.3L563.6 187.3L565.1 187.2L566.6 187.2L568.1 187.2L569.6 187.1L571.1 187.1L572.6 187.1L574.1 187.1L575.6 187.1L577.1 187.1L578.6 187.2L580.1 187.3L581.6 187.4L583.1 187.5L584.6 187.7L586.1 187.8L587.6 188.0L589.1 188.2L590.6 188.4L592.1 188.6L593.6 188.8L595.1 189.0L596.6 189.2L598.1 189.3L599.6 189.5L601.1 189.7L602.6 189.8L604.1 190.0L605.6 190.2L607.1 190.4L608.6 190.5L610.1 190.8L611.6 190.9L613.1 191.1L614.6 191.2L616.1 191.3L617.6 191.4L619.1 191.4L620.6 191.4L622.1 191.4L623.6 191.4L625.1 191.4L626.6 191.4L626.8 191.4L626.8 207.3L626.6 207.2L625.1 206.5L623.6 205.8L622.1 205.1L620.6 204.4L619.1 203.7L617.6 203.0L616.1 202.3L614.6 201.7L613.1 201.0L611.6 200.4L610.1 199.8L608.6 199.2L607.1 198.6L605.6 197.9L604.1 197.4L602.6 196.8L601.1 196.3L599.6 195.7L598.1 195.2L596.6 194.7L595.1 194.3L593.6 193.9L592.1 193.5L590.6 193.2L589.1 193.0L587.6 192.8L586.1 192.6L584.6 192.5L583.1 192.3L581.6 192.2L580.1 192.1L578.6 192.0L577.1 191.9L575.6 191.9L574.1 191.9L572.6 191.9L571.1 191.9L569.6 192.0L568.1 192.0L566.6 192.1L565.1 192.1L563.6 192.1L562.1 192.2L560.6 192.3L559.1 192.3L557.6 192.4L556.1 192.5L554.6 192.6L553.1 192.7L551.6 192.8L550.1 193.0L548.6 193.1L547.1 193.2L545.6 193.3L544.1 193.5L542.6 193.6L541.1 193.8L539.6 194.0L538.1 194.2L536.6 194.4L535.1 194.5L533.6 194.8L532.1 195.0L530.6 195.2L529.1 195.4L527.6 195.7L526.1 196.0L524.6 196.4L523.1 196.8L521.6 197.3L520.1 197.8L518.6 198.5L517.1 199.1L515.6 199.8L514.1 200.6L512.6 201.3L511.1 202.1L509.6 202.8L508.1 203.6L506.6 204.3L505.1 205.1L503.6 205.9L502.1 206.8L500.6 207.6L499.1 208.5L497.6 209.5L496.1 210.4L494.6 211.5L493.1 212.5L491.6 213.6L490.1 214.6L488.6 215.7L487.1 216.8L485.6 217.9L484.1 219.0L482.6 220.1L481.1 221.3L479.6 222.4L478.1 223.6L476.6 224.7L475.1 225.8L473.6 226.9L472.1 228.1L470.6 229.2L469.1 230.3L467.6 231.4L466.1 232.5Z" fill="#999" fill-opacity=".42"/>
<g class="p0"><polyline id="c0" points="567.8,180.4 593.4,157.7 480.1,248.9 590.6,245.8 558.8,160.8 557.8,159.3 556.1,179.2 499,173.3 573.7,191 573,158.4 553,206 565.6,156.4 505.9,216.7 575.5,160.6 559.9,184.1 560.9,188.2 513.5,167 563.3,172.9 577.2,196.3 583.2,171.7 548.1,182.7 469.3,213 562.9,164.4 581.1,182.4 580.2,205.2 487.1,150.8 497.1,212.9 570.8,175.1 624.3,182.9 545.8,221.3 574.9,151.6 551.7,168.2 537.6,226.6 543.8,191.8 572,158.1 569.1,199.2 565.6,226.6 542,204.2 522.5,210.9 549.6,185 543.6,188 542.7,203.8 555.4,229.1 585.6,135.3"/></g>
<g class="p1"><polyline id="c1" points="562,175.3 548.6,219 552.5,199.7 556.6,186.3 539.4,188.1 553.9,197 565,205.6 555.8,196.9 548.5,182.1 548.7,192.1 557.9,145.2 550.7,177.7 537.3,155.7 558.6,230.4 538,203.3 533.7,154.3 547.4,201 549.8,185.7 560.4,180.1 569.4,204.9 552.5,177.1 566.8,174.7 548.2,194.8 539.1,162.3 562.9,207.4 542.9,187.9 545.4,205.2 542.1,225.7 546.1,173.5 550.4,179.7 556,196.6 550.4,195.3 554.5,187 558.2,199.6 545.9,171.2"/></g>
<g class="p2"><polyline id="c2" points="559.9,198.9 561.1,174 553.5,208.3 549.1,203.2 560,180.9 559.4,166.7 561,157 536.4,222.3 553.7,176.1 548.5,197"/></g>
<g class="p3"><polyline id="c3" points="549,186.7 549,186.7"/></g>
<g class="p0"><polyline id="c4" points="527.5,159.1 530.1,205.2 579.8,170.8 573.3,148.9 561.4,211.1 573.9,235.5 604.4,177.5 597.6,208.5 579.8,230.9 568.7,169 543.4,179.7 572.2,203.7 582.2,219.8 518.1,190.3 588,197.4 606.1,195 567.6,155.8 533.6,192.3 567.8,198 520.9,198.4 569.2,216.8 586.2,186.6 619.2,203.9 569.1,206.8 555.3,182.1 541.3,241.1 577.5,199.9 528.1,207.9 527.3,202.2 555.7,176.8 577.3,190.9 585.8,189.8 553.4,180.4 565.1,153.9 575,149.6 550,164.9 538.5,172.9 571.1,196.8 569.7,201.4 553.2,192.1 581.5,182.1 559.3,198.7 553.7,207.4 549.2,160.9 549.6,157 475.8,215.9 601.5,190.9"/></g>
<g class="p1"><polyline id="c5" points="564.6,212.8 541.8,180.3 554.1,208.1 537.6,191.1 554.9,186.9 551.3,190.3 547.4,222.6 567.9,199 550.1,152.7 538.6,179.6 561.5,179.3 556.5,161.7 544.3,207 565.5,171.6 554.9,193.8 541.9,196.4 558.2,165.2 538.1,221.9 537.7,184.4 543.6,188.4 548.3,199.8 566.2,222.1 559.2,196.9 549.1,212.8 559.2,174 556.7,214 561.3,193.4 573.1,182.9 551.8,170.1 541.6,223.4 562.5,200"/></g>
<g class="p2"><polyline id="c6" points="554.1,186.1 547.5,167.2 541.8,143.4 540.5,192 554.9,178.9 549.8,197.3 551.3,175.1 542.9,197.8 555.5,207.2 549.2,196.4 533.2,173.9 552.8,194.6"/></g>
<g class="p0"><polyline id="c7" points="591.6,207.2 574,224.5 520.8,173.3 571.1,182.7 558.2,198 616.3,180.8 591,218.4 535.9,166.2 594,203.7 533.4,184.1 583.9,200.2 575.4,195.9 585.3,238.2 557.1,186.9 520.2,152.9 594.5,233.1 559.3,187.5 569.3,152.8 615.7,193.5 535.1,191.5 546.2,221.3 534.1,146.8 565.4,237 570.7,195.4 583.9,190.1 576.5,194.6 567.4,205.1 610.8,202.1 490.9,214 573.2,189.6 601.3,166.3 546,186.9 485.9,192.1 546.8,177.5 493.5,178.2 523.1,234.9 556.9,176.3 574.7,199.5 547.9,221.3 590.2,182"/></g>
<g class="p1"><polyline id="c8" points="549,178.3 547,227.7 553.3,188.3 548,195.9 557.6,230.5 560.4,190.9 567.9,165.4 554,185.5 557.4,187.2 562.2,156.5 552.4,177.9 551.9,195.9 551.6,176.3 542.6,200.6 556,186.8 555.1,222.7 559.4,225 560.2,157.6 551.7,192 537,188.3 565.4,145.2 543.5,193.5 550,210.7 547,184.5 571.5,196.7 564.2,208.2 554.2,173 550,173.4 540.6,202.6 563.6,169.5 538.7,178.3 550.6,170.8 535.1,193.4 556.4,182.8 562.2,205.6 545.7,205.9"/></g>
<g class="p2"><polyline id="c9" points="554.2,228.2 534.5,176.6 557.6,201.2 556.5,208.3 549.7,211.1 536.5,179.3 560.4,197.6 530.9,185.9 545.1,185.3 558.3,211.1 548.7,177.8"/></g>
<g class="p3"><polyline id="c10" points="551.7,211.1 538.4,208.2 554.1,197.3"/></g>
<g class="p0"><polyline id="c11" points="549.6,214.1 554.2,179.7 533.8,185.3 574.3,227.8 569.7,208.6 582.3,193.1 579.2,204.6 558.7,218.2 553,189 546.8,211.2 523.9,179 471.3,203.5 501.9,196.4 557.2,210 501.6,191.3 512.2,164.9 576.3,225.8 554.2,180.1 578.8,226.3 580.9,232.4 623.4,213.1 531.7,215.2 578.1,199.6 591,183.5 574.1,179.1 576.2,166.6 584.7,179.6 558.4,215.1 576.2,165.3 556.1,196.7 575.9,184.3 582.8,197.2 558.1,186.4 548.7,145.8 579.8,206.4 567.3,208.5 509.8,195.7 587.9,179.3 533,218.8 498.4,209.7 573.7,249.1 541.5,164.7 589.8,210.3 511,242.7 506.2,193.6 513.9,179.8 602.3,180.2 584.6,213.5 549.2,148.2"/></g>
<g class="p1"><polyline id="c12" points="534.3,186 567.8,148.4 557.4,172 554.1,185.7 558.4,196.4 560.7,188.9 547,188.2 549.8,174 540.5,175.4 541.6,184.4 549.6,157.2 536.4,180.7 539.4,194.1 540.9,209.9 540.4,183.7 554.1,187.2 535.5,218.2 538.1,201.5 554.4,202.4 552.7,214.7 546.6,173.1 557.2,203.7 551.8,223 546.9,180 540.8,182.3 531.2,203.5 557.7,154.5"/></g>
<g class="p2"><polyline id="c13" points="545,229.8 547.8,205.6 545,189.4 552.5,215.9 562.9,207.5 540.9,194.4 551.7,224.8 565,186.6 548.9,179.6 550.7,166.6 551.7,166.4 551.9,211.1"/></g>
<g class="p3"><polyline id="c14" points="538.4,197.9 541.4,188.8"/></g>
<g class="p0"><polyline id="c15" points="590.1,225 548.5,206.5 543.8,230.2 604.3,180.9 581.1,252 562.1,187.1 556.4,195.4 591.3,189.6 545.2,214.6 561.6,184.3 522.6,212.5 598.4,200.9 589.8,207.7 584.8,179.4 484.2,218.6 597.5,192.7 467.4,194.3 579.3,214.3 545.8,227.4 574.6,182.1 538.9,197.2 563.6,194.7 552.8,208.8 555.7,176.9 587.2,169.5 547.6,154.5 561.3,197.9 557.2,184.2 594.2,183.4 560,261.4 478.6,231.2 533.8,186.2 608,185.3 588.3,175.3 574.2,165.4 556.6,165.6"/></g>
<g class="p1"><polyline id="c16" points="535.2,176.5 547.7,216 540.5,187.4 563.7,227.3 533.7,164.7 562.6,219.8 538.3,191.5 551.2,163.4 559.9,194.1 550.5,192.1 550.1,167.4 556.4,191 566.9,185.1 536.3,157 547.5,150.9 549.4,226 538.6,181 557.3,196.5 549.4,154.7 547.5,206.8 564.2,191.5 558.2,203.7 545.2,202.3 551.8,196.7 540.2,204.2 541.8,177.8 542.6,173.2 550,183.7 557.8,146.5 564.7,196.8 556.4,188.3 565.7,223 542.9,189.7 567.9,166.4 534.1,213.3 570.9,182.7 547,179.1"/></g>
<g class="p2"><polyline id="c17" points="566.3,226 541,150.6 556.6,173.9 554.1,192.6 547.6,173.8 562.8,169 548.1,193.2 545.6,171.8 538.4,216.4 542.4,154.7 540.8,173.3 560.9,233.4 548.1,182 534.5,198"/></g>
<g class="p3"><polyline id="c18" points="547.5,208.1 550.1,220.5 545.7,225.5"/></g>
<g class="p0"><polyline id="c19" points="583.2,210.8 558.9,160.7 560.6,190.7 562.6,154.4 531.6,179.6 561.6,205.9 552.1,146.2 550.8,196.9 582.2,169.5 572.8,188.4 605.8,167.6 564.5,203 549.8,161.7 570,173.6 608.5,215.8 584,172 561.9,173 555.6,163.1 563.2,184.5 521,199.4 571.7,158.7 590.5,176.3 557.8,183.4 479.6,208 574.7,192.3 563.5,186.5 563.3,159.6 563.9,130.1 587.7,168.5 581.3,140 576.2,203.4 563.4,178.6 580.2,176.8 565.5,186.5 546.6,184 564,151.7 572.6,206.7 529.4,150.2 566.8,170.9 541.7,181.8 540.3,173 571.7,207.4 568.2,201.5 570.8,190.1 575.4,215 598.1,177.3"/></g>
<g class="p1"><polyline id="c20" points="547.1,185.1 550.4,169.9 560.2,164.7 565.5,180.1 534.3,179.5 562.3,171.8 553.1,192.1 540.9,209.1 557,150.7 556.9,203.9 547.5,190.2 552.7,193.8 559.5,159.1 565.5,176.2 552.6,190.1 535.2,185.9 548.4,203.7 553,185.6 553.1,199.6 545.2,176.2 559.3,175.8 566.6,187.2 568.5,175.8 542.9,167.6 554.9,195.2 544.7,189.7 559,152.9 542.2,196.5 550.4,165.5 540.5,198.4 553.5,202.6 558.4,178.9 557.1,207.4"/></g>
<g class="p2"><polyline id="c21" points="548.8,228.1 555.3,185.5 552.8,171.4 562.5,217.3 549.6,147.8 554.5,165 553.7,214.6 553.8,152.9 558.4,213.6 569,211.1"/></g>
<g class="p3"><polyline id="c22" points="559,213.5 559,213.5"/></g>
<g class="p0"><polyline id="c23" points="564.9,252.1 525.2,165.8 528,181.2 582.4,176.3 468.6,207.2 577.3,180.2 570.5,184.5 537,162.8 566.3,211 571.6,197.1 555.6,211 566.9,188.2 579.1,178.2 542.6,188.1 575.2,196.6 555.2,183.8 583.9,171.1 525.2,180.7 552.8,153.3 571,168.9 583,183.5 557.4,231 571,173.6 592.5,198.4 507,195.4 563.9,159.9 585.3,173.9 502.6,209.2 570.7,211 528.9,164.8 559.4,228.1 574.9,180.4 477.1,221.5 572.5,221.1 548.7,199.7 568.7,152.5 560.5,200.7 503.4,188.7 482.3,180.5 580.1,213.3 580.3,146.3 601.6,219.1 595.1,179.1 532,201.3 592.2,156.7 572,178.3 548.7,159.5 547.3,214.5 589.2,177.6 580.8,171.7 556.8,152.2 559.9,183.6 569.7,172.9 482.1,223 535.3,234.5 524.8,178.8"/></g>
<g class="p1"><polyline id="c24" points="548.3,163.7 560.2,192.9 535.8,167.2 549.3,167.1 547.3,186.9 552.9,198.1 546.8,203.8 569.2,188.5 551.6,197.4 538.6,204 541.4,182.7 545.4,175.4 551.5,156.2 560.3,198.4 553.9,194.2 562.4,182.5 566,177.7 550.9,195"/></g>
<g class="p2"><polyline id="c25" points="556.7,220.8 556.6,196.9 544.6,183.2 559.3,193.8 563.3,194.4 547.9,229.1 537.3,152 558.7,220.7 549.2,177.4 548.1,220.2 556.7,165.6 568.5,170.3 546.1,216.9 566.1,174.2"/></g>
<g class="p3"><polyline id="c26" points="538.3,197.9 541,218.8"/></g>
<g class="p0"><polyline id="c27" points="534.6,207 590.9,198.7 592.5,175.7 546.9,183.2 549.6,207.2 537.2,209.3 556.9,194.3 617.2,230.7 560.1,159.1 572,204.8 615.3,214.9 554.9,197.1 565.6,171.8 484.8,224.7 577.8,214.9 470.2,217.4 572.4,216.6 536.7,184.4 576.1,183.8 571,197.4 559,200.5 551.2,202.2 589.5,161.6 558.9,189.1 543.2,160.8 566.2,154 564.9,153.2 561,170.7 537.1,193.1 564.7,179.1 523,206 565.7,216.6 625.2,229.7 553.9,169.7 572.7,194.2 563.8,162.8 545.1,186.9 561.5,200.4 611.8,185.4 565.2,192.9 570,221.8 509.7,184.5 478.9,215.1 573.3,155.4 590.4,210.1 532.1,205.4 571.5,222.1 529.2,216.9 556.4,211.8 525.7,161.9 551.5,190.1"/></g>
<g class="p1"><polyline id="c28" points="546,190 546.8,186.7 572.4,191.6 563.9,186.9 546.5,173 571.3,201.4 561.2,237.3 545.6,165.7 548.9,160.8 559.9,222.1 554.7,163.7 541.6,174.3 545.9,228.4 544.1,165 549.3,180.8 552.9,176.4 557.4,198.7 545.5,158.6 568.6,174.8 562.3,180.1 565.9,167.9 551.4,205.7 569.3,145.8 566.3,182.7 547.9,181.7 539.1,201.4 567.8,179"/></g>
<g class="p2"><polyline id="c29" points="553.9,195.6 538.8,177.5 543.9,185.9 550.8,178.4 538.1,225.6 542,184 552.5,198.9 558.6,162.5 557.7,231 558.5,155.6"/></g>
<g class="p3"><polyline id="c30" points="544.3,145.3 551.6,190.6"/></g>
<g class="p0"><polyline id="c31" points="612.5,199.6 595.9,206.2 573.4,226.1 577.4,186.5 611.2,190.8 540.7,190.7 606.8,191.9 559.8,175.8 596.1,173.9 575.4,217 588,170.5 562.2,207.9 612.6,211.1 538.6,229.7 526,199.6 568,178.6 540.4,180.5 579.9,209.9 539.6,197.4 575.5,207.1 525.1,177.1 569.2,180.1 544.7,167.6 567.8,169.4 559.8,192.3 564.9,221.2 571.2,218.5 489.2,202.5 544.7,193.6 572.3,168 567.8,190.1 552.8,203.8 575.9,192.9 530.9,175.7 555.3,168.2 603.8,163.2 517.5,190.6 575.9,152.6 579.7,209.7 576.3,237.9 537.5,160.7 548.3,157.9 556.7,195.9 602.9,197 563,184.5 534,171.4 561.9,143.9 579.7,176.1 573.7,141.9 538.4,204.6 569.8,196.5 551.9,179.4 570.7,181.2 569.2,217.6"/></g>
<g class="p1"><polyline id="c32" points="548.5,179 557.5,184.8 554,227.4 561.7,168.6 556.9,177.8 540.7,197.5 546.5,206.4 556.8,215.4 566.8,156.9 556.3,163.5 555,204.4 559.2,174.7 556.5,195.2 554.3,168 541.6,146.3 565.9,174.5 562.1,176.5 533.5,209.7 556.4,175.4 541.5,202.4"/></g>
<g class="p2"><polyline id="c33" points="550.6,166.6 557.9,176.1 554.4,173.4 553.1,227.7 552.4,193 537,207.3 538.5,202 554.1,219.4 545.4,167.3 557.3,185.2 550.3,194.2 546.5,169 563.2,171.4 533.1,212 566.8,173.2"/></g>
<g class="p3"><polyline id="c34" points="550,188 550,188"/></g>
<g class="p0"><polyline id="c35" points="605.3,238.6 570.3,209.7 564.9,175.4 605,231.3 556.1,191.1 559.6,202.9 579.3,182.7 563.9,206.9 585.1,244.6 543,208.7 569.6,190.8 514.6,222.8 584.9,160.7 548.1,193.6 576.4,222.6 591.4,181.7 545.6,227 498.4,234.1 496.9,238.7 566.1,204.4 610.1,174.3 575.3,162.2 539.4,181.6 562.9,218.8 568,169.8 587.2,203.6 562,155.9 563.2,200.3 550.7,152.9 587.1,178.7 561.6,168.6 570.7,198.1 548.1,198.4 585,188.2 574.8,189.3 560.3,185.8 568.7,174.5 568,211.2 553.1,164.8 547.4,199.5 563.7,158.6 604,167.2 584,201.6"/></g>
<g class="p1"><polyline id="c36" points="562.6,171.3 544.3,195.5 555.2,188 563.8,201.4 539.7,200.2 560.8,205.3 546.1,186 543.5,201 552.7,200.3 557.5,178.9 566.6,161 563.3,142.5 566,203 558.8,190.4 555.9,195.5 570.1,182 555.4,188.2 545.3,226.4 554.7,211.5 553.4,172.9 567.5,165.6 551.5,195 539.3,194.5 538.5,172.1 544.6,161.1 545.8,202.6 556,176.4 557.4,168.9 554.9,210 545.5,159.1 552.5,195.7 545.5,183.2 546,221.4"/></g>
<g class="p2"><polyline id="c37" points="530.8,222.7 555.4,215.3 552.6,215.7 554.1,191.6 549.8,210.1 550.8,197.1 541.2,222.8 550.2,162.7 546,179 553.5,189.5 547.8,201.6 551.8,190.1"/></g>
<g class="p3"><polyline id="c38" points="543.7,163 544.1,190.9"/></g>
<g class="p0"><polyline id="c39" points="564,191.1 602.1,257.3 543.1,180.3 496.6,182.8 564.4,167.9 524.8,177.7 553.2,145.7 574.1,194.9 541,213.3 552.9,173.1 496.8,185.9 494.5,176.5 574,194.4 583.3,171.8 574.5,214.9 586.5,242.5 490.1,228.2 493.5,186.5 571.7,194.9 537,193.3 568.4,179.6 573.4,157.1 591.2,177.8 550.7,217.9 532.9,143.5 527.9,191.4 562.3,202.7 511.1,182.6 569.1,222.9 588.6,182.8 514.4,140.9 556,163.6 575.2,241.8 501.4,209.3 557,200.6 546.3,206.1 564.1,193.5 535.2,179.1 559.8,213.5 521.8,163.5 521.5,200.3 545.4,211.2 563.3,181 572.9,192.1 565,154.8 544.2,226.2 566.3,176.5 595.7,151 561.6,219.1 522,180.9 586.7,182.4 575.6,219.8 548.8,201 590.6,226.3 543.2,187 543.1,170.2"/></g>
<g class="p1"><polyline id="c40" points="557.2,186.5 562.3,181.7 541.4,214.3 543.4,188.5 544.9,209.4 565,179.5 561.3,207.8 550,208.5 541.7,185.6 544.8,189.9 540.9,181.6 549.5,170.9 551.7,165.3 548.8,164.8 532.4,211 552.1,193.1 552.6,151.5 561.2,164.3 532.9,206.8 542.9,219.4 542.7,203 553.6,166 567.2,160 567.7,203.4"/></g>
<g class="p2"><polyline id="c41" points="550.2,226.8 544.9,173.2 546.6,173 551.7,171.5 545,194.7 540.5,189.4 548.7,208.6"/></g>
<g class="p3"><polyline id="c42" points="542.8,212.4 546.3,260.3 544.4,173.7"/></g>
<g class="p0"><polyline id="c43" points="569,205.4 568.7,183.6 555,159.5 557.3,183.8 566.5,195.7 577,207.3 553.9,233.1 539.5,199.9 547.5,169 496.2,207.2 549.4,207.9 560.7,232.4 593.6,171.6 559.2,167.7 562,214.1 556.9,197.8 541.3,150.4 569.6,204.8 542.4,211.1 595.2,166.2 554.3,191.7 589.8,230.8 571.4,180.7 568.9,208.7 576.8,201.9 541.6,167.6 540.3,147.9 522.3,183.6 502.1,181 557.5,209.4 539.4,213.9 571.4,169.2 582.8,194.4 574.8,191.7 589.4,164.3 550.6,228.1 542.4,195.8 587.3,203.8 550.1,191.9 591.6,224.8 549.6,194.7 592.9,185.7 539.5,183.9 595.2,204.3 556.9,163.3 575.2,182.1 550.1,175.7 553.2,186.7 549.6,199.7 545.1,206.3 569.6,186.7 534.7,218.4 566.7,169.1 547.1,215.4"/></g>
<g class="p1"><polyline id="c44" points="557.5,195.5 570.7,217.9 545.8,186.6 548.3,190.6 539.8,169.4 559,186.1 559.3,187.8 559.8,177.8 540.4,191.6 549.9,195.6 549.2,200.1 561.6,162.4 553.3,172.6 559.5,172.2 545.6,137.4 551.9,170.5 572,172.6 549.1,181.7 543.4,199.4 545.4,207.4 541.8,187.1 544.1,187.6"/></g>
<g class="p2"><polyline id="c45" points="537.3,249.9 549.8,234.9 569,221.4 554.8,234.9 551.5,200.1 554.2,189.6 562.7,201.2 546.1,180.1 551.3,205 545.5,175.2 557.4,197.7 553.4,233.1"/></g>
<g class="p3"><polyline id="c46" points="551.7,193.2 546.1,180.5"/></g>
<g class="p0"><polyline id="c47" points="577.1,164 616.9,227.5 574.6,179.3 556.9,227.7 547.3,193.1 534,213.9 523.3,169.3 559.6,216.9 571.8,202.4 570.9,195.3 588.3,171.1 576.4,171.6 577,201.7 589.5,175.7 553.1,179.9 507.4,186.3 587,217 572.5,218 544.4,209 554.8,175.6 557,204.4 468.8,189.5 547.4,172.4 575.8,218 550.5,152.7 473.8,208 559.9,192.6 572.4,191 541.8,169.9 571.1,188.2 599.6,196.4 566.6,179.6 568,188.8 549.2,177.4 562,196.1 532,180.5 561,179.6 514.8,182.8 569.7,220.2 565.5,193.8 541.2,180.8 517.4,167.3"/></g>
<g class="p1"><polyline id="c48" points="544.1,192.3 560.5,160.4 542.6,205.2 540.8,198.3 574.6,184.8 540.4,177.4 541.3,169.7 543.3,175.4 544.6,191 555,224.5 566.7,202.8 548.2,161.9 544.7,201.4 543.8,184.8 538.9,209.6 544.7,198.5 555.3,197.2 573.1,205.1 562.5,223.3 556.5,177.2 559.8,180.3 538.6,202 554,196.8 555.4,186.6 569.3,190.9 548.9,157.9 565.2,222.2 562.6,183.8 569.9,179.4 547.5,220.6 554,173.8 557.3,212.3"/></g>
<g class="p2"><polyline id="c49" points="534.1,164.6 547.3,196.2 549.1,190.8 564.4,200.6 552,207.8 549.9,183.5 556.4,185.2 535.3,249.9 542.7,183.9 554.3,183 542.6,243.1 551.7,163.8 541.9,172.1 548.2,225.2"/></g>
<g class="p3"><polyline id="c50" points="544.3,189.5 546.7,184.8"/></g>
<g class="p0"><polyline id="c51" points="586.9,198.3 475.9,204.7 601.8,179.5 578.5,211.7 575.3,163.2 580.7,135.6 528.5,213.3 600.9,184.9 565.6,250.7 567,225.5 576.1,222.6 625.3,158.6 484.3,260.7 525.2,185 575.8,171.2 544.3,228.3 590,161.1 520.8,215.6 545.6,174.2 619.6,196.4 570.4,186.3 575.2,193.1 559.5,210.1 554,174.1 528.2,202.6 568.4,212 570.6,208.5 575.3,170.4 574.1,187.8 542.4,197.2 544.4,168.7 516.8,216.5 571.5,202.3 572.7,147.2 513.4,179.7 553,163.5 532.5,205.6 598.2,199.2 600.8,170.1 548.9,198.1 578.7,201.1 598.6,212.4 574.5,270.1 531.2,211.9 578.5,194.6 545.7,157.5 577.1,209.2 566.5,186 604,232.2 550.6,216.6 506.7,184 565.9,170.6 569.5,152.3 590.9,182.6"/></g>
<g class="p1"><polyline id="c52" points="554.3,181.8 534.5,179 535.3,197.7 552.5,195.8 559.2,169.4 543.1,192.5 547.7,203.3 562.5,199.6 554,187.6 554.5,177.3 554.8,212.6 535.6,194.6 545.7,169.2 540.9,205.1 550.2,195.5 553,229.7 566.6,187.5"/></g>
<g class="p2"><polyline id="c53" points="559.9,205.5 548,181.6 551.6,226.5 563,167.4 554.3,209.1 554.1,186 554.5,178 545.1,245.4 551,178.6 547.1,163.1 547.1,190.3 562.1,176.9 561.2,181.5 541.7,187.1 563.4,218.8 548.4,165.3 550.5,215.7"/></g>
<g class="p3"><polyline id="c54" points="539.8,175 548.2,163.9"/></g>
<g class="p0"><polyline id="c55" points="541.3,157.8 492.5,195.5 575.1,163.2 505.4,231.4 565.1,219.5 556.1,223.3 566.4,155.5 544.9,197.6 559.8,163 538.4,160 567.2,213.8 571,202.5 554.5,174.9 596.7,213.2 592.8,186.3 557.4,205.6 598.2,192.5 546.5,167.1 578.9,188 545.7,191.1 582.5,216.5 560.3,186.3 528.7,193.1 588.2,232.2 546.8,179.2 560.2,241.1 570.2,172.7 598.5,162.1 575.2,167.8 563.3,194.3 578,192.4 562.8,182.5 545.4,158.6 585.1,211.1 570,222.9 573.6,205.3 543.9,217.3 577.6,165.7 585.5,186.1 597.9,190.6 573.4,190.4 551.6,173.4 581.9,193.2 546.4,216.7 552.7,208 545.6,180.7 510.7,192.5 556.3,179.5"/></g>
<g class="p1"><polyline id="c56" points="558.6,182.6 556.3,200.5 547,154.4 552.8,220.4 558.5,213.5 537.7,164 560.1,187 564,186.6 561.5,180.9 533,209.6 574.4,176.1 550.1,194.5 556,184.3 563.1,176.1 554.6,204.2 552.6,191.2 556.6,211.4 544.1,191.2 552.2,192.5 564.8,231.1 546.6,181.7 534.8,190.2 539.4,207.7 562.8,178.3 554.6,167.8 561.4,189.2 553.4,165.3 554.8,219.3 542.2,211.1 545,216.2 548.7,193.4 561.6,135.3 560.5,190.9"/></g>
<g class="p2"><polyline id="c57" points="531.2,209.9 536.6,182.5 538.8,219.6 533.9,183.1 551.4,209.3"/></g>
<g class="p3"><polyline id="c58" points="547.6,186.8 544.9,220.4 542.3,186 543.7,188.9"/></g>
<g class="p0"><polyline id="c59" points="539.9,187 565.5,166.9 564.6,162.2 574.6,215.9 596.2,198.3 552.4,188.4 550.1,161.4 549.3,212.2 577.8,181.4 549.6,185.7 550.4,191 534.8,214.5 495.7,190.9 581.1,216.6 559.2,199.5 533.3,186.3 525.5,216.2 581,188.8 556.7,144 546.8,224.2 558.3,178.5 562.8,161.2 538.7,237.4 574.4,193.9 562.4,172 570.9,198.7 499.3,215.1 546.3,196.6 575.4,159.1 568.9,187.5 520.4,176.1 569.2,203.4 558.6,217.3 590.8,197.1 548.9,177 564,158.5 510.6,212 578.4,186.2 547.9,194.5 556.4,211.6 537.5,183.3 569.6,208.4 595.8,194.2 598.4,172.1 570.2,190.3"/></g>
<g class="p1"><polyline id="c60" points="539.1,189.5 552.4,211.8 551.5,180.9 557.7,190.8 564.6,168.5 551.7,161.2 565.3,223.8 562,189.9 567.6,203.4 550.2,201.1 558.8,169 566.3,219.8 565.4,197.3 559.1,181.5 542,187.3 535.6,214.7 552.4,165.7 546.5,195 546.1,200.4 548.9,184.3 565.2,212 567,164.7 545.7,200.4 546.5,177 552.1,178 549.7,161.1 555.9,192.8 555.7,194.2 531.5,198.8 554.8,180.6 548.8,214.8 556.7,230 549.6,184.4 547,210"/></g>
<g class="p2"><polyline id="c61" points="543,155.6 561.6,195.2 556,198.1 568.4,171.6 545.6,193.9 543.7,213.8 539.6,220.4"/></g>
<g class="p3"><polyline id="c62" points="540.5,190.9 537.8,175.8 544.7,206.1 544.4,173.6"/></g>
<g class="p0"><polyline id="c63" points="559.2,191.1 571.1,239.2 537.2,203 547.5,173.2 589.5,203 569.5,216.4 599.4,196.1 537.7,205.4 496.6,169.7 471.4,212.3 558.9,203.2 579.4,190 578.8,181.4 587.2,220.9 586.2,225.6 596.5,193.2 574.9,182.6 548.6,194.7 543.4,196.2 544.8,180.5 558.6,194.9 564.4,144 565.4,169.1 562,209.2 467.3,171 561.7,192.2 575.3,199 557,199.3 564.5,199.4 600.4,159.9 557.5,177.6 546.4,187.1 566,208 552.4,208 590.7,176.2 601.6,183.5 576.4,213.1 563.7,217.4 560.5,162.5 531.3,212.6 539.6,126.2 563.4,214.5 567.7,221.6 572.4,171.1 556,185.1 575.1,156.5"/></g>
<g class="p1"><polyline id="c64" points="541.7,198.3 545.9,187.7 561.1,172.2 551.5,196.4 551.2,194.5 556.3,219.3 545.5,177.8 553,202.3 557.1,170.8 539.5,167.5 545.5,202.9 559.2,175.9 545.1,205.7 563.2,156.4 545.2,230.7 561.6,202.9 543.3,196.5 539.1,183.6 569.3,197.6 557.4,215 552.9,203.9 557.6,191.7 555.8,199.7 570.3,223.8 553.4,201.4 538.1,177.2 533.1,207.7 530.3,186 566,233.9"/></g>
<g class="p2"><polyline id="c65" points="561.3,183.4 560,185.4 547.1,185 569.6,166.6 542,219 561,205.9 547.5,186.2 558.5,154.6 543.5,207.4 554,165.2 537.9,187.8 555.3,170 552.3,192.7"/></g>
<g class="p3"><polyline id="c66" points="550.1,204.5 554.9,203.2"/></g>
<g class="p0"><polyline id="c67" points="577.9,201.5 574.9,177.4 577.4,138.1 556,165.5 514.7,171.2 528.2,213.2 547.3,184.6 539.6,151.6 556.3,212.5 543.9,234 548.9,185 566.1,220.2 561.9,179.7 572.3,189.2 569,226.3 546.3,173.1 537.7,164.1 540,231.6 550.8,196 546.4,222.1 576.4,165.2 564.9,150.4 590.3,202.5 541.7,149.6 593.5,216.8 542.8,169.8 523.1,210 557.1,226 541.4,216.3 556.5,193.3 520,189.9 480.8,179.3 590.4,211.5 541.2,198.2 522.3,189.7 514.3,198.3 478,149.5 595.8,230.2 556.5,228.6 546.4,164.2 544.9,136.6 589.4,181.7 535.1,197 575.2,191.4 583,191.8 545.8,182.7"/></g>
<g class="p1"><polyline id="c68" points="559.4,195.4 549,182 572.2,185.4 554.1,206.9 533.3,180.7 545.9,187.1 560,196.2 557.7,166.1 555.9,211.4 547.1,191.9 551.3,159.9 563.8,219.3 536,183.1 539.8,154.8 557.8,191.6 557.8,196.5 542.4,194.4 558.2,185.5 542.8,169.1 572.9,171.2 560.9,212.3 542.9,199.2 552.1,190.8 558.2,184.8 561.1,212.9 559.2,203.9 536.4,175.4 565.7,177.3"/></g>
<g class="p2"><polyline id="c69" points="544,200.9 559.9,202 556.6,213.8 556.4,191.1 555.4,167.4 542.4,211.2 535.8,172.3 556.7,183.4 538.4,193.9 564.6,206"/></g>
<g class="p3"><polyline id="c70" points="539.3,174.2 553.4,212.5 557.4,208.4 557.8,159.7 544.7,199.8 539,173.9"/></g>
<g class="p0"><polyline id="c71" points="586.5,229.7 527.9,199 582.1,219.1 602.7,194.5 547.8,163.9 573.4,213.8 582,187.1 566.4,220.1 555.6,219.4 538.7,211.3 472.9,222.5 472.7,238.3 559.6,172.2 561.8,165.7 590.1,177.3 556.8,200.6 501.7,204.6 555.4,189.8 587.8,185.7 561,165.4 554.6,198 562.1,170.9 556.8,169.3 553.8,165.3 595.5,195.6 489,202.1 562.2,231.3 549.8,176.1 572.6,208.6 558,193.9 589.7,206.9 572.2,201.7 578.1,186.3 585.2,191.8 519.3,171.9 559.5,185.2 547.8,203.2 584,212 523.9,218.3 540.1,143.7 596.8,174.9 606.7,182.9 534.1,184.6 571.1,227.4"/></g>
<g class="p1"><polyline id="c72" points="549.3,201 538.4,175.3 541.2,198 556.4,166.2 555.2,179.1 540.1,241.3 550.8,199.5 566.6,200.7 536,194.2 558.4,182.5 549.8,191.8 555.2,164.9 541.1,182.8 567.1,205.7 548.3,192 541.2,229.8 544.5,196.7 563.9,181.7 533.3,223.8 571.2,186.1 550.6,159.5 552.8,221.2 554.8,195.2 540.4,198.5 551.8,203.6 551.5,178 566.3,221.3 547.2,220.6 542.8,213.7 572.3,171 560.1,213.2"/></g>
<g class="p2"><polyline id="c73" points="539.6,202.5 537.3,184 547.7,211.6 559.3,188.5 558.4,215.7 549.6,189.4 551.9,203.1 545.3,199.5 557.1,136.5 554.6,183.9 556.4,186.2 557,181 558.5,186.3"/></g>
<g class="p3"><polyline id="c74" points="544.4,192.6 551.7,198.6"/></g>
<g class="p0"><polyline id="c75" points="581.3,167.8 506.6,213.1 560.9,168.5 564.1,171 541.7,177.6 532.5,178.5 510.9,197.5 532.4,197.4 561,196.3 502.8,206.7 557.7,159.7 559.6,179.7 561.8,195.2 548.5,163.3 595.7,171.3 606,186.5 561.8,166.7 553.8,154.2 566,177 548.7,181.8 505.8,182.3 565.2,213.7 592.6,195.6 579.3,186.7 566.2,183.8 577.5,189 572.2,176.3 604.2,187.2 578.1,172.3 582.2,207.7 574.2,189.6 563.1,182.3 596.8,211.5 595.1,161.4 495.1,238.6 551.2,190.4 564.9,204.9 577.6,175.5 592.6,197.2 588.2,219.2 567.7,212.3 559.1,234.3 549.7,168.3"/></g>
<g class="p1"><polyline id="c76" points="550.3,173.5 554.7,200.1 556.5,174.5 569.4,221.2 548.2,177.5 563.5,201.8 538,169.1 552.3,197.5 543.6,196.3 543.6,220.1 552.1,211.9 531.4,160.6 542.7,174.3 552.1,181.2 536,199.8 557.2,194.2 555.7,194.7 555,170.4 567.2,183.5 539.9,224.7 549.7,216 532.1,203.9 541.4,142.1 541.4,201.2 553.7,202.6 543.8,210.2 554.4,211.9 540.8,188 544,191.8 574.7,189 573.3,197.1 541,203.3 553.3,179.4 549.7,213.4 563.4,149.6 556.5,169.7 557.6,167.7"/></g>
<g class="p2"><polyline id="c77" points="543,161.8 543.8,216.5 557.7,171.4 572.2,164.9 541,189.9 544.3,166.5"/></g>
<g class="p3"><polyline id="c78" points="544.9,175.4 551.6,174.1 543.9,181.5 547.2,219.8"/></g>
<g class="p0"><polyline id="c79" points="582.6,210.2 558.8,224.9 584.4,188.2 567.2,171.9 621.1,226.7 559.3,196.6 564.9,218.2 550.6,208.3 580.5,193.3 562.5,186.1 545.6,218.6 556.3,213.4 604.5,216.6 550.9,232 529.9,192.3 577.1,178.5 546.8,184.1 574.1,189.4 508.3,184.1 567.6,230.6 540.7,152.6 589.4,177.1 475.1,211.9 552,201.5 563.5,167.8 565.7,189.2 554.2,171.1 567,161.7 511.7,174.4 574.4,176.2 575.4,188.3 553.2,156.7 567.7,189.1 556.2,173 563.7,167.6 531,190.3 565.8,221.6 589.5,186.5 603.4,206.6 541.8,215.4 568.4,194.1 561.3,155.5 558.1,160.9 557.2,196.9 544.4,197.5 598.4,181.4 577,186.9 567.5,183.2"/></g>
<g class="p1"><polyline id="c80" points="532.9,186.1 544.9,201.9 552.1,195.2 571.4,205.6 546,208.7 552.3,175.2 552.1,202.7 553.4,187.9 568.4,177.6 562.8,173.3 562.8,186.4 553,209.4 570.6,183.1 561.2,213.5 544.9,180.7 563.4,185.1 563.5,208.7 560.1,146.4 546.5,174.3 538.1,187 562.3,190.6 546.3,175.5 561.8,191.5 557.4,168.1 555.3,196.5 549,172.7 557.9,220.2"/></g>
<g class="p2"><polyline id="c81" points="544.2,154.6 561.4,190.1 552.3,160.2 535,167.2 556.3,205 561.7,158.5 564.6,180 543.1,209.7 545.3,163.1 547.1,179.8 538.6,205.7 573.1,228.4"/></g>
<g class="p3"><polyline id="c82" points="547.9,114.1 555.6,193.7 545.7,172.4"/></g>
<g class="p0"><polyline id="c83" points="553.3,176.1 551.4,203.1 556.9,184.7 560.5,206 592.6,221.2 609.3,181.4 584,216.7 575.1,160.8 541.3,221.2 554.5,182.4 572.5,213.7 566.5,243.6 577.9,199.3 577.2,192.6 560.9,207.9 573.1,194.6 555.9,172.2 553.6,139.1"/></g>
<g class="p1"><polyline id="c84" points="537.5,201.9 552,186 563.4,186.6 558.9,174.3 540.2,226.2 555.7,194.2 547.1,188.7 550.1,179.9 557.9,227.4"/></g>
<g class="p2"><polyline id="c85" points="559.3,191.6 549.4,202.9 557.3,183.4 560.2,215.1"/></g>
<g class="p3"><polyline id="c86" points="540.3,186.8 540.3,186.8"/></g>
<use href="#c0" class="q0"/>
<use href="#c1" class="q1"/>
<use href="#c2" class="q2"/>
<use href="#c3" class="q3"/>
<use href="#c4" class="q0"/>
<use href="#c5" class="q1"/>
<use href="#c6" class="q2"/>
<use href="#c7" class="q0"/>
<use href="#c8" class="q1"/>
<use href="#c9" class="q2"/>
<use href="#c10" class="q3"/>
<use href="#c11" class="q0"/>
<use href="#c12" class="q1"/>
<use href="#c13" class="q2"/>
<use href="#c14" class="q3"/>
<use href="#c15" class="q0"/>
<use href="#c16" class="q1"/>
<use href="#c17" class="q2"/>
<use href="#c18" class="q3"/>
<use href="#c19" class="q0"/>
<use href="#c20" class="q1"/>
<use href="#c21" class="q2"/>
<use href="#c22" class="q3"/>
<use href="#c23" class="q0"/>
<use href="#c24" class="q1"/>
<use href="#c25" class="q2"/>
<use href="#c26" class="q3"/>
<use href="#c27" class="q0"/>
<use href="#c28" class="q1"/>
<use href="#c29" class="q2"/>
<use href="#c30" class="q3"/>
<use href="#c31" class="q0"/>
<use href="#c32" class="q1"/>
<use href="#c33" class="q2"/>
<use href="#c34" class="q3"/>
<use href="#c35" class="q0"/>
<use href="#c36" class="q1"/>
<use href="#c37" class="q2"/>
<use href="#c38" class="q3"/>
<use href="#c39" class="q0"/>
<use href="#c40" class="q1"/>
<use href="#c41" class="q2"/>
<use href="#c42" class="q3"/>
<use href="#c43" class="q0"/>
<use href="#c44" class="q1"/>
<use href="#c45" class="q2"/>
<use href="#c46" class="q3"/>
<use href="#c47" class="q0"/>
<use href="#c48" class="q1"/>
<use href="#c49" class="q2"/>
<use href="#c50" class="q3"/>
<use href="#c51" class="q0"/>
<use href="#c52" class="q1"/>
<use href="#c53" class="q2"/>
<use href="#c54" class="q3"/>
<use href="#c55" class="q0"/>
<use href="#c56" class="q1"/>
<use href="#c57" class="q2"/>
<use href="#c58" class="q3"/>
<use href="#c59" class="q0"/>
<use href="#c60" class="q1"/>
<use href="#c61" class="q2"/>
<use href="#c62" class="q3"/>
<use href="#c63" class="q0"/>
<use href="#c64" class="q1"/>
<use href="#c65" class="q2"/>
<use href="#c66" class="q3"/>
<use href="#c67" class="q0"/>
<use href="#c68" class="q1"/>
<use href="#c69" class="q2"/>
<use href="#c70" class="q3"/>
<use href="#c71" class="q0"/>
<use href="#c72" class="q1"/>
<use href="#c73" class="q2"/>
<use href="#c74" class="q3"/>
<use href="#c75" class="q0"/>
<use href="#c76" class="q1"/>
<use href="#c77" class="q2"/>
<use href="#c78" class="q3"/>
<use href="#c79" class="q0"/>
<use href="#c80" class="q1"/>
<use href="#c81" class="q2"/>
<use href="#c82" class="q3"/>
<use href="#c83" class="q0"/>
<use href="#c84" class="q1"/>
<use href="#c85" class="q2"/>
<use href="#c86" class="q3"/>
<path d="M466.1 219.8L467.6 218.9L469.1 218.1L470.6 217.2L472.1 216.4L473.6 215.5L475.1 214.6L476.6 213.8L478.1 212.9L479.6 212.0L481.1 211.2L482.6 210.3L484.1 209.4L485.6 208.6L487.1 207.7L488.6 206.9L490.1 206.1L491.6 205.3L493.1 204.5L494.6 203.8L496.1 203.1L497.6 202.4L499.1 201.7L500.6 201.1L502.1 200.5L503.6 199.9L505.1 199.4L506.6 198.9L508.1 198.3L509.6 197.8L511.1 197.3L512.6 196.8L514.1 196.3L515.6 195.8L517.1 195.4L518.6 195.0L520.1 194.5L521.6 194.2L523.1 193.9L524.6 193.6L526.1 193.3L527.6 193.0L529.1 192.8L530.6 192.6L532.1 192.4L533.6 192.2L535.1 192.0L536.6 191.8L538.1 191.6L539.6 191.4L541.1 191.3L542.6 191.1L544.1 191.0L545.6 190.8L547.1 190.7L548.6 190.6L550.1 190.5L551.6 190.4L553.1 190.3L554.6 190.1L556.1 190.1L557.6 190.0L559.1 189.9L560.6 189.8L562.1 189.8L563.6 189.7L565.1 189.7L566.6 189.6L568.1 189.6L569.6 189.6L571.1 189.5L572.6 189.5L574.1 189.5L575.6 189.5L577.1 189.5L578.6 189.6L580.1 189.7L581.6 189.8L583.1 189.9L584.6 190.1L586.1 190.2L587.6 190.4L589.1 190.6L590.6 190.8L592.1 191.0L593.6 191.3L595.1 191.6L596.6 191.9L598.1 192.3L599.6 192.6L601.1 193.0L602.6 193.3L604.1 193.7L605.6 194.1L607.1 194.5L608.6 194.9L610.1 195.3L611.6 195.7L613.1 196.1L614.6 196.5L616.1 196.8L617.6 197.2L619.1 197.6L620.6 197.9L622.1 198.3L623.6 198.6L625.1 198.9L626.6 199.3L626.8 199.3" stroke="#fff" stroke-width="2.2" stroke-opacity=".5" fill="none" stroke-linejoin="round"/>
<path d="M466.1 219.8L467.6 218.9L469.1 218.1L470.6 217.2L472.1 216.4L473.6 215.5L475.1 214.6L476.6 213.8L478.1 212.9L479.6 212.0L481.1 211.2L482.6 210.3L484.1 209.4L485.6 208.6L487.1 207.7L488.6 206.9L490.1 206.1L491.6 205.3L493.1 204.5L494.6 203.8L496.1 203.1L497.6 202.4L499.1 201.7L500.6 201.1L502.1 200.5L503.6 199.9L505.1 199.4L506.6 198.9L508.1 198.3L509.6 197.8L511.1 197.3L512.6 196.8L514.1 196.3L515.6 195.8L517.1 195.4L518.6 195.0L520.1 194.5L521.6 194.2L523.1 193.9L524.6 193.6L526.1 193.3L527.6 193.0L529.1 192.8L530.6 192.6L532.1 192.4L533.6 192.2L535.1 192.0L536.6 191.8L538.1 191.6L539.6 191.4L541.1 191.3L542.6 191.1L544.1 191.0L545.6 190.8L547.1 190.7L548.6 190.6L550.1 190.5L551.6 190.4L553.1 190.3L554.6 190.1L556.1 190.1L557.6 190.0L559.1 189.9L560.6 189.8L562.1 189.8L563.6 189.7L565.1 189.7L566.6 189.6L568.1 189.6L569.6 189.6L571.1 189.5L572.6 189.5L574.1 189.5L575.6 189.5L577.1 189.5L578.6 189.6L580.1 189.7L581.6 189.8L583.1 189.9L584.6 190.1L586.1 190.2L587.6 190.4L589.1 190.6L590.6 190.8L592.1 191.0L593.6 191.3L595.1 191.6L596.6 191.9L598.1 192.3L599.6 192.6L601.1 193.0L602.6 193.3L604.1 193.7L605.6 194.1L607.1 194.5L608.6 194.9L610.1 195.3L611.6 195.7L613.1 196.1L614.6 196.5L616.1 196.8L617.6 197.2L619.1 197.6L620.6 197.9L622.1 198.3L623.6 198.6L625.1 198.9L626.6 199.3L626.8 199.3" stroke="#000" stroke-width="1.2" fill="none" stroke-linejoin="round"/>
<path d="M467.25 268.0v-3.0M468.25 268.0v-3.0H469.5v3.0zM470.25 268.0v-3.0M471.25 268.0v-3.0M472.75 268.0v-3.0M473.75 268.0v-3.0M475 268.0v-3.0H476.25v3.0zM477 268.0v-3.0M477.75 268.0v-3.0H480.25v3.0zM480.75 268.0v-3.0M481.75 268.0v-3.0H482.5v3.0zM484 268.0v-3.0H485v3.0zM486 268.0v-3.0M487 268.0v-3.0M488.75 268.0v-3.0H489.5v3.0zM490.25 268.0v-3.0M491 268.0v-3.0M492.5 268.0v-3.0M493.5 268.0v-3.0M494.25 268.0v-3.0H495.25v3.0zM495.5 268.0v-3.0H497.25v3.0zM498 268.0v-3.0H499.5v3.0zM501.25 268.0v-3.0H503v3.0zM503.5 268.0v-3.0M505.25 268.0v-3.0H507.5v3.0zM508.25 268.0v-3.0M509.75 268.0v-3.0M510.25 268.0v-3.0H511.25v3.0zM511.5 268.0v-3.0H512.5v3.0zM513.25 268.0v-3.0H515v3.0zM516.75 268.0v-3.0M517.25 268.0v-3.0H518.25v3.0zM519.25 268.0v-3.0M519.75 268.0v-3.0H523.5v3.0zM524 268.0v-3.0M524.5 268.0v-3.0H526.25v3.0zM527 268.0v-3.0H583.5v3.0zM583.75 268.0v-3.0H588.75v3.0zM589 268.0v-3.0H591.75v3.0zM592 268.0v-3.0H597v3.0zM597.25 268.0v-3.0H598.75v3.0zM599.5 268.0v-3.0M600 268.0v-3.0H606.25v3.0zM606.75 268.0v-3.0M607.75 268.0v-3.0H608.75v3.0zM609.25 268.0v-3.0M610 268.0v-3.0M610.5 268.0v-3.0H612v3.0zM612.25 268.0v-3.0H613v3.0zM615 268.0v-3.0H616.5v3.0zM616.75 268.0v-3.0H617.5v3.0zM619 268.0v-3.0H620v3.0zM621 268.0v-3.0M623.5 268.0v-3.0M624.25 268.0v-3.0M625.25 268.0v-3.0" stroke="#000" stroke-width=".5" fill="#000"/>
</g>
<text class="t" text-anchor="end" x="455.1" y="256.8">-1.0</text>
<text class="t" text-anchor="end" x="455.1" y="226.3">-0.5</text>
<text class="t" text-anchor="end" x="455.1" y="195.9">0.0</text>
<text class="t" text-anchor="end" x="455.1" y="165.5">0.5</text>
<text class="t" text-anchor="end" x="455.1" y="135.0">1.0</text>
<text class="t" text-anchor="middle" x="494.4" y="278.2">220</text>
<text class="t" text-anchor="middle" x="542.2" y="278.2">240</text>
<text class="t" text-anchor="middle" x="590.0" y="278.2">260</text>
<path d="M458.7 254.2h-2.2M458.7 223.8h-2.2M458.7 193.3h-2.2M458.7 162.9h-2.2M458.7 132.4h-2.2M494.4 268.0v2.2M542.2 268.0v2.2M590.0 268.0v2.2" stroke="#333" stroke-width=".6" fill="none"/>
<text class="ti" x="458.7" y="101.2">oxygen</text>
<text class="ax" text-anchor="middle" textLength="42.4" lengthAdjust="spacingAndGlyphs" x="546.6" y="289.1">mmol/m^3</text>
<text class="ay" text-anchor="middle" transform="translate(438.4 187.2) rotate(-90)">ENS</text>
<clipPath id="c3"><rect x="32.0" y="313.8" width="176.7" height="160.6"/></clipPath>
<rect x="32.0" y="313.8" width="176.7" height="160.6" fill="#EBEBEB"/>
<g clip-path="url(#c3)">
<path d="M42.4 313.8V474.4M71.2 313.8V474.4M100.1 313.8V474.4M128.9 313.8V474.4M157.8 313.8V474.4M186.6 313.8V474.4M32.0 473.9H208.7M32.0 443.3H208.7M32.0 412.7H208.7M32.0 382.1H208.7M32.0 351.5H208.7M32.0 320.9H208.7" stroke="#fff" stroke-width=".6" stroke-opacity=".9" fill="none"/>
<path d="M56.8 313.8V474.4M85.7 313.8V474.4M114.5 313.8V474.4M143.4 313.8V474.4M172.2 313.8V474.4M201.1 313.8V474.4M32.0 458.6H208.7M32.0 428.0H208.7M32.0 397.4H208.7M32.0 366.8H208.7M32.0 336.2H208.7" stroke="#fff" stroke-width=".95" fill="none"/>
<path d="M40.1 349.5L41.6 350.6L43.1 351.7L44.6 352.8L46.1 353.8L47.6 354.9L49.1 356.0L50.6 357.0L52.1 358.1L53.6 359.2L55.1 360.3L56.6 361.4L58.1 362.5L59.6 363.6L61.1 364.6L62.6 365.6L64.1 366.5L65.6 367.4L67.1 368.2L68.6 369.1L70.1 369.9L71.6 370.6L73.1 371.3L74.6 372.0L76.1 372.7L77.6 373.3L79.1 373.9L80.6 374.5L82.1 375.1L83.6 375.7L85.1 376.2L86.6 376.7L88.1 377.1L89.6 377.6L91.1 378.0L92.6 378.3L94.1 378.7L95.6 379.0L97.1 379.3L98.6 379.6L100.1 379.9L101.6 380.2L103.1 380.4L104.6 380.6L106.1 380.9L107.6 381.0L109.1 381.2L110.6 381.4L112.1 381.5L113.6 381.7L115.1 381.9L116.6 382.1L118.1 382.3L119.6 382.5L121.1 382.7L122.6 382.9L124.1 383.1L125.6 383.3L127.1 383.6L128.6 383.8L130.1 384.0L131.6 384.1L133.1 384.3L134.6 384.4L136.1 384.6L137.6 384.7L139.1 384.8L140.6 385.0L142.1 385.1L143.6 385.3L145.1 385.5L146.6 385.8L148.1 386.0L149.6 386.3L151.1 386.6L152.6 386.9L154.1 387.2L155.6 387.4L157.1 387.7L158.6 388.0L160.1 388.4L161.6 388.8L163.1 389.3L164.6 389.9L166.1 390.4L167.6 390.9L169.1 391.4L170.6 391.9L172.1 392.4L173.6 392.9L175.1 393.3L176.6 393.8L178.1 394.2L179.6 394.6L181.1 395.1L182.6 395.5L184.1 395.8L185.6 396.2L187.1 396.6L188.6 396.9L190.1 397.2L191.6 397.5L193.1 397.8L194.6 398.1L196.1 398.3L197.6 398.6L199.1 398.8L200.0 398.9L200.0 402.1L199.1 402.0L197.6 401.8L196.1 401.5L194.6 401.3L193.1 401.0L191.6 400.7L190.1 400.4L188.6 400.1L187.1 399.8L185.6 399.4L184.1 399.0L182.6 398.6L181.1 398.2L179.6 397.8L178.1 397.4L176.6 397.0L175.1 396.5L173.6 396.1L172.1 395.6L170.6 395.2L169.1 394.8L167.6 394.4L166.1 394.1L164.6 393.7L163.1 393.3L161.6 393.0L160.1 392.8L158.6 392.6L157.1 392.6L155.6 392.5L154.1 392.6L152.6 392.6L151.1 392.7L149.6 392.8L148.1 392.9L146.6 393.1L145.1 393.2L143.6 393.5L142.1 393.7L140.6 394.1L139.1 394.4L137.6 394.8L136.1 395.2L134.6 395.7L133.1 396.0L131.6 396.4L130.1 396.7L128.6 397.1L127.1 397.4L125.6 397.7L124.1 398.0L122.6 398.3L121.1 398.6L119.6 398.9L118.1 399.1L116.6 399.4L115.1 399.6L113.6 399.9L112.1 400.1L110.6 400.4L109.1 400.6L107.6 400.9L106.1 401.1L104.6 401.3L103.1 401.5L101.6 401.7L100.1 401.8L98.6 402.0L97.1 402.1L95.6 402.2L94.1 402.4L92.6 402.5L91.1 402.7L89.6 402.8L88.1 403.0L86.6 403.1L85.1 403.3L83.6 403.4L82.1 403.5L80.6 403.7L79.1 403.8L77.6 404.0L76.1 404.2L74.6 404.4L73.1 404.6L71.6 404.8L70.1 405.1L68.6 405.3L67.1 405.6L65.6 405.9L64.1 406.2L62.6 406.6L61.1 407.0L59.6 407.4L58.1 407.8L56.6 408.3L55.1 408.7L53.6 409.2L52.1 409.6L50.6 410.0L49.1 410.4L47.6 410.8L46.1 411.1L44.6 411.5L43.1 411.8L41.6 412.2L40.1 412.5Z" fill="#999" fill-opacity=".42"/>
<g class="p0"><polyline id="d0" points="169.9,401.3 196,385.9 180.3,400.3 123,377.4 116.6,401.9 177.8,418.2 173.2,385.5 189.7,388.7 193.5,380.7 190.2,392.3 189.6,413.7 187,451.1 195.3,415.8 182.4,371.7 120.3,410.1 195.5,332.6 187.1,393.9 188.4,369 188.6,419.9 175.7,403.8 193,397.6 181.1,375 170.8,404.2 186.8,372.6 200.5,415.1 197.6,396.8 179.7,368.5 186.5,354.3 183.1,390.6 199.1,387.6 192.2,429 178.9,426.8 189.1,425.7 189.6,352.9 183.2,395.3 170.2,402.1 188.2,435 181.3,402.8 198.7,397.2 195.4,389.2 177.2,415.5 180.1,370.4 178.9,429.2 182.6,385.3 188.4,390.3 190.8,385.4 200.2,413.8 171.8,423.2 161.8,408.8 193.1,428.1"/></g>
<g class="p1"><polyline id="d1" points="196.3,386.1 193.4,441 197.1,383.8 192.8,406.8 196.2,438.2 193,429.2 192.9,428.3 198.5,397.7 199.2,429.3 194.8,375.5 185.1,355.4 188.8,396.9 198.2,373.1 192.8,418.1 198,390.5 175,402 192.3,393.3 189,393.8 190.8,335.5 181.7,403.6 181.4,404 201,409.3 184,377.2 192.5,428.6 193.9,428.6 198.6,428.8 195.6,405.1 190.2,419.5"/></g>
<g class="p2"><polyline id="d2" points="199.5,382.3 193.6,393.5 196.8,419.5 198.7,378.1 195.6,418.6 190.7,407.6"/></g>
<g class="p3"><polyline id="d3" points="200.2,413.4 195.6,400.6 196.4,406.1 190.4,412.6 191.6,444 193.9,417.7"/></g>
<g class="p0"><polyline id="d4" points="144.6,369.7 196.7,429.1 149.3,403 155.2,377.5 153.1,370.6 188.1,417.6 164.2,419.9 185.8,455.7 159.8,384.1 196.4,391.3 192.4,426.2 169.6,364.7 159.9,362.3 185.1,382.1 174.1,362.2 187.5,413.2 173.5,393 190.4,421.8 147.5,399.3 185.3,409.2 189.6,420.7 198,371.4 182.6,374.5 190,443.1 187,408.6 196.7,378.8 170.3,386.8 188.8,416.7 185.9,441.5 155.2,371.3 153,394.4 187.1,405.2 195.3,420.2 133.3,386.4 190,401.6 181.1,363.5 162.7,390.4 184.5,408.8 185.1,404 176,370.2 164.8,385.8 170.1,404.9 174.9,405 176.4,424.5 188.1,403.4 191.6,371.2 189.9,458.9 187.2,392.3 166.4,410.4 192.7,369.2 200.4,391.5 183.5,417.5 137,381.7 146.7,379 188.5,404.8 195,409.4"/></g>
<g class="p1"><polyline id="d5" points="193.7,393.5 198.2,366.9 188.7,392.2 192.7,412.6 189.4,423.1 192.8,430.2 194.6,392.7 198.3,411.2 196.4,438.7 196.3,438.4 174.1,405.4 194.8,340.1 195.4,359.9 190.6,428.2 191.9,428.5 189.8,432.3 197.1,386.6 199.1,395.8 191.6,401.5"/></g>
<g class="p2"><polyline id="d6" points="199.2,382.9 191.6,395.4 187.8,332.2 199.1,394.3 199.2,434.1 200.8,448.2 199.6,335.7 198.4,430.9 189.5,383.9 198.8,375.8 193.5,390.5 198.2,364.9"/></g>
<g class="p3"><polyline id="d7" points="194.2,424.5 196.9,437.2 196.2,402.3"/></g>
<g class="p0"><polyline id="d8" points="191.6,412 198.4,436.2 197.4,392.9 157.2,378.4 193.5,415.2 182.3,361.1 171.2,413.7 194.3,431 143.2,369.7 184.2,402.3 191,371 139.1,377.7 151.8,394.6 176.3,414.7 193.5,412.2 198.5,402.7 173.1,453.9 189.2,442.7 190.3,350.4 183.4,430.6 173,393.9 201.1,407.4 175.6,359.4 187.3,380.1 136.6,413.7 173.8,424 159.4,395.2 187.3,414.8 187.6,377.9 185.7,359.6 189.2,361.2 171.4,381.9 159.4,354.1 163.9,383.6 169.7,369.8 169.6,397.1 184.1,415.5 200.1,375.1 193.4,418.1 174.5,383.4 182.5,395.6 197.5,439 196.2,429.1 199.7,395.8 169.4,381 187.9,390.7 192.3,339 181.1,373.6 190,358.8 188.1,397.3 155.4,370.2 182.7,405.4"/></g>
<g class="p1"><polyline id="d9" points="197.9,393.3 188.4,398.9 195.5,426.8 199.2,388.8 191.1,386.5 189,402.5 176.7,387 187.5,383.8 196.4,427.4 186,380.6 192.5,403.2 195.2,398.5 185.6,394.2 199.5,397.4 198.9,438.1 193.6,372 190.3,378.4 185.2,408.6 195.7,422.6 187.5,444.7 197.9,416.2 197.9,393.4 191.8,420.8 193.1,423.1 198.4,407.3"/></g>
<g class="p2"><polyline id="d10" points="197.3,347.6 191.9,382.3 195.8,378.4 194.7,366.8 200.9,399.4 185.5,408.9 196.4,351.9 193.2,404.6 189,421.9 195,378.7 196.4,349.5 195.9,418.4"/></g>
<g class="p3"><polyline id="d11" points="199.7,387.2 199.7,387.2"/></g>
<g class="p0"><polyline id="d12" points="199.6,419.2 198.2,394.6 163.4,367.4 179.6,422.3 188.2,374.8 144.1,417 158.8,399.2 179.8,414.5 152.2,378 196.4,373.5 197.6,429.3 121.7,389.4 170.7,383.1 195.6,359.3 190.3,356.1 199.1,413.4 85.8,392.8 159.9,406.9 189.8,389.5 195.5,377.2 182.6,439.6 153.5,385.7 191.1,405.3 192.4,378.1 157.9,374.2 158.5,408.7 180.7,395.7 173.3,371.4 160.1,386 171,367.4 182.3,392.1 147.4,388.7 164.6,427.6 192.2,371 191.3,425.1 159.1,394.4 126.4,404 193.6,369.5 166.5,443.4 173.8,451.2 196.5,399.6 196.8,422.3 181.5,399.3 162.5,364.8 191.5,406.6 175,428 189.3,426.3 173.8,411.4 156.9,385.9 121.7,413.8 185.3,430.9 170.7,356.3 177.5,401.1"/></g>
<g class="p1"><polyline id="d13" points="201.2,424.5 190,427.7 174.5,383.4 195.5,384.5 194.6,420.2 184.6,367.7 200.6,384.6 183.7,380.8 190.3,361.1 174.9,379.5 198,395.6 195.1,441 190.8,417.6 198.4,402.5 198.9,385.2 197.9,369.7 175.1,401.3 193.9,388.9 199.4,369 198.7,367.7 197.5,379.6 193.5,450.5 189.5,390.2"/></g>
<g class="p2"><polyline id="d14" points="197.2,396.1 196.7,405.4 200.5,399.3 196.7,408.2 197.1,377.2 197.3,401.7 194.8,407.8 194.9,383.9 196.4,353.4 199.7,402.1"/></g>
<g class="p3"><polyline id="d15" points="195.9,409.7 193.8,417.2 193.8,319.7 197.8,382.9"/></g>
<g class="p0"><polyline id="d16" points="187.8,408.2 189.1,394.9 182.9,415.1 180.5,402.2 195.9,380.9 151.7,418.6 172.5,404.5 199.2,408.1 173,386.2 187.7,398.2 169.4,403.3 199,399.3 145.8,395.1 162.1,389.5 199.4,424 134.2,412 167.7,372.9 164.2,408.1 156.2,400.8 167.5,342.1 198.3,424 180.4,378.3 188.6,413.7 194.1,356.5 191.3,426.6 143,373.9 106.3,421.3 193.5,402.1 185.7,386.2 176.7,355.8 180,378.8 192.6,395 194.3,403.1 185,389.1 166.4,345.4 163.1,382.3 199,429.3 154.8,390.8 152.9,387.5 189.7,404.2 171.9,429.2 181.4,409.1 196.3,382.3 189.1,381.8 180.9,407.5 172.1,451.8 191.2,415 193.4,381.1 186.8,370.6 183.8,382.8 198.6,394.4"/></g>
<g class="p1"><polyline id="d17" points="196.7,372.7 193.9,360.4 188.6,388.7 191.8,376.8 196.4,418 200.7,391.2 193.8,380.9 190.3,391.8 194,417.7 178.1,352.5 198.1,429.5 191.1,389.2 196.2,400.7 196.1,402.6 177.2,407.1 194.7,439.3 191.9,348.3 177.5,394.6 197.5,379.7 186.3,420.1 194.9,401.8 187.5,441.7 192.3,426.4 185.1,417.3 195.9,406.7"/></g>
<g class="p2"><polyline id="d18" points="200.3,353.2 200.8,423.9 199,386.6 197.1,405 198.2,427.8 194.5,391.1 195.9,418.3 196.6,367.7 198.1,460.8 195.9,410.4 199.9,409.1 197.7,370.3 193,409.4 194.6,450.2"/></g>
<g class="p0"><polyline id="d19" points="183.5,445.1 169.2,402.2 195.3,415.4 157.3,423.2 178.8,420.3 141.7,391.2 196.1,357.1 195.5,405.9 182.1,383.2 167.7,373.7 186.3,393.6 156.7,384.1 197.1,383.2 188.4,382.3 184.4,404.9 192.7,405.8 155.7,386.7 156.8,376.5 192.1,456.4 174.5,354.4 167.3,394.1 175.1,355.2 170.9,383.7 172.1,434.8 164.2,374.5 196.1,368.5 180.2,397.1 189.3,416.7 193.4,371.8 174.3,423.5 194.8,380 180,372.3 189.8,426 110.5,409.8 192.4,372 186.8,420.1 201.3,415.2 181.3,363.1 167.9,393.7 187.5,422.1 154,393 193.7,407.7 179.7,397.3 195.1,406.6 180.6,391 198.5,419.2 157.5,332.1 157.4,411 192.4,391 197.1,378.6 46.5,392 194.7,403.1 170.9,367.7"/></g>
<g class="p1"><polyline id="d20" points="173.2,447.1 188.3,443.8 195.8,341.3 190.9,444.3 195.7,416.7 199.7,413.6 200,414.3 197.4,373.7 192.8,391.4 181.3,395.3 196.3,369.7 198.4,402.6 188.5,382.7 177.4,393.8 191,352.4 196.7,395.4 193.4,382.3 183.2,435.8 192,426 199.6,417.3 197.8,352.6 179.2,456.7 195.2,439.4 197.9,354.1 189.5,405 186.7,362.4 194.7,387.2 196.7,389.7"/></g>
<g class="p2"><polyline id="d21" points="189.2,345.3 200.5,420.4 196.9,395.6 197.8,398.4 191.2,390 199.6,425.5 191.3,374.8 197.8,402.2 196.9,417.7"/></g>
<g class="p0"><polyline id="d22" points="151.9,384.6 161.5,398.8 172.1,366.4 199.6,376.1 168.7,398.6 190.1,417.8 173.9,450.9 163.4,341.8 191.6,374.1 189.2,406.8 183.7,379 172.1,357.2 154.5,373.4 181.7,403.5 195.2,371.8 190.2,391.8 187.8,407.5 182.6,420.2 186.9,397.6 193.4,381.6 182.5,424.6 158.9,388.6 185.6,432.9 187,405.6 181.7,404.4 172.9,433.8 192.3,426.3 132.3,398.7 189.4,407 186.3,373.7 188.9,373.8 173.2,375.5 148.5,390.5 179.6,390.6 165.8,424.2 165.2,370.3 188.8,369.8 186.3,432 141.6,386.3 136.5,375.8 192.9,359.2 156.5,373.4 194.7,425.8 193.6,402.4 177.5,381.8 178.7,405.1 185,390.9 152,397.1 189.8,358.9 149.5,382.4"/></g>
<g class="p1"><polyline id="d23" points="196.3,404 191,344.1 188,419.8 198,403.7 190.4,334.2 194.7,388 196.8,426.7 191.9,395.4 191.8,400 191.3,397 200.7,360.9 192.1,437.5 185.8,424.3 199.1,405.2 195.2,404.9 193.1,405.9 187.9,389 195.6,391.4 198.1,414.7 187.6,379.7 195.4,398.5 194.6,391.6 193.7,405.7 192.6,393.9 186.7,392.2 197.3,437.1 182.1,386.6 187.6,404.4 196.9,401.8 188.7,397.8 194.4,373.1 188.7,335.2"/></g>
<g class="p2"><polyline id="d24" points="200.9,408.5 192.7,409.3 197.6,395.9 198.8,370.2 195.9,355.1 193.7,377.9"/></g>
<g class="p3"><polyline id="d25" points="191.9,398.6 196.7,411.6"/></g>
<g class="p0"><polyline id="d26" points="194.9,339.3 182.4,440.6 175.5,369.3 192.4,420.3 174.3,403.4 192.1,420.8 195.4,419.3 194.7,381.7 183.6,414 171.6,367.2 176.9,384.3 174,359.1 177.1,398.2 178.9,418.5 192.8,391.2 200.3,412.4 180.7,373.2 136.6,372 171,383.4 177.1,376.4 173.5,379.4 198,405.7 179.2,393.8 171.2,372.6 183.9,404.3 180.6,382.7 128.3,419.4 191.2,403 166.5,397.4 84.2,336.2 189.1,406.1 182.3,406.7 172.9,396.7 198.9,456.5 177.7,383.8 185.1,394.7 197.8,372.6 183.4,399.8 157,385.6 189.4,379.2 171.4,404.4 175.7,418.9 198.4,389.9"/></g>
<g class="p1"><polyline id="d27" points="174.5,403.9 193.4,404.7 197.1,447.8 193.9,365 188.3,410.8 191.8,417.9 190.2,407.2 174.5,400 196.4,368.3 193.2,411.9 189,399.3 191,397.2 193.7,381.6 193,402.9 195.7,388.2 190,364.3 183.1,355.3 180.3,375.5 192.9,390.3 194.4,419.1 196.1,430.2 189.9,358.2 196.5,424 198.2,411.4 189.5,381.2 179.2,394.4 190.5,429.5 190.9,412.7 188.8,388.8 199,404.1 197.5,418.6 196.1,411.8 199,395 199.5,404.9 197.5,401.2 198.1,377.5 196.8,434.7"/></g>
<g class="p2"><polyline id="d28" points="199.2,416.2 196.6,398.9 198,458.6 198.3,356.1 198.2,409.9 193.2,397.3 199,415.9 199.1,399.1 194.3,433.4 199.8,393"/></g>
<g class="p0"><polyline id="d29" points="154.4,389 193.6,371.6 184,417.2 182.6,376.2 167.4,392.7 173.7,394.7 159.9,356.3 188.8,423.9 195,391.8 180.6,405.7 184.6,400.6 198.1,452.9 197.1,442.6 189,403.1 192.7,427.7 176.1,386.5 187.3,378.4 184.5,390.9 196.9,411.2 193.6,440 189.1,404.5 191.2,379.6 171.9,363.4 192.3,412.3 94,396.6 131,386.7 179.8,396.4 166.2,347.1 186.7,412.2 189.5,412.1 193.4,400.3 186.9,416.1 180.1,395.4 178.3,404.5 188,348.9 193,405.3 196,404.8 182.6,393.6 181.4,371.8 189.1,367.7 70.4,422.9 186.3,408 165,370.8 142.4,417.8 193.7,410.4 196.4,345.1 163.9,415.4"/></g>
<g class="p1"><polyline id="d30" points="189.3,371.3 191.3,413.9 178,405.9 194.4,394.2 193.3,387.3 188.7,358.3 200.9,418 195,393.8 201,411.6 193.7,392.1 199.1,394.8 187,397.7 191,380.4 189.6,404.1 192.9,398.9 199.1,441.2 196.2,411.1 185.6,411.4 200.4,410.7 189.2,372.3 198.6,423.5 197.9,363.6 198.2,344.8 195.9,401.1 195.9,406.1 194.2,406 191.2,431.5 196.1,348.8 193.9,413.6"/></g>
<g class="p2"><polyline id="d31" points="197.4,347.9 197.7,390.2 195.2,467 191.3,406.4 193,410.3 200,382.7 199.9,408.6 201.2,421.2 201,415.8 197.4,388.6 194.3,391.9 198.7,398.4"/></g>
<g class="p3"><polyline id="d32" points="193.6,376.4 195.1,438.4"/></g>
<g class="p0"><polyline id="d33" points="147.4,367.7 169.4,420.2 161.4,374.1 135.5,393.3 158.8,399.1 193.6,419 113.2,414.1 171.9,435.2 178.7,401.6 164.9,410.4 143.6,377.5 166.7,398.1 126.4,411.4 180.1,413.6 186.1,384.3 149.7,394.1 185.7,393.1 166.2,424.3 187.2,405.9 183.7,398.2 171.3,394.7 175.6,382.7 165.3,368.2 169,376.7 185.2,397.1 189.1,421.1 145.7,383.9 151,385.6 181.9,378.7 192.9,399 191.9,378.9 196.1,392.4 192,381.8 179.1,445 196.9,372.9 194.1,410.1 183.8,426.7 170.9,376 166.3,373.2 143.5,409.8 167.5,406.4 176.6,414.2 177.7,409.6 198.5,373.7 194.8,386.9 192.4,452 158.9,392.6 197.6,441 188.4,369.5"/></g>
<g class="p1"><polyline id="d34" points="178.2,391.6 195.8,412.3 199.2,436.9 199.4,435.4 196,353.2 195.7,394.1 177,375.7 185.8,386.9 198,414.1 197.9,430.3 189.2,410.4 189.2,402.1 194.7,350.5 196.4,421.8 188,422.1 194.1,389.5 199.8,389.6 196.6,438.9 192.5,386.5 199.7,438.7 186.9,433 180.6,423.6 197.2,414.7 191.8,425 193.9,401.4 192.8,408 188.1,424.4 189.4,409.9 175.5,410.3 194.5,404.4"/></g>
<g class="p2"><polyline id="d35" points="197.1,368.7 197.5,442.3 190.9,369 197.2,417.2 195.8,425.2 198.2,399.3 194.7,365 198.7,419.7 198.6,383.6 190.6,394.3"/></g>
<g class="p3"><polyline id="d36" points="193.5,391.8 193.5,391.8"/></g>
<g class="p0"><polyline id="d37" points="191.5,381.1 195.9,382.1 177.4,418.3 190.6,387.8 195.3,414.8 163.1,372.6 149.7,380.9 174,387.5 169.2,384.9 176.3,435 176.6,390.4 178.6,362.2 162.7,417.7 171.5,404.9 199.8,428.2 188.2,362.2 183.5,390.7 175.5,367.3 183.1,412.8 185.8,357.4 175,392.7 179.4,392.4 183.7,358.6 199.8,411.3 185.1,391.3 98.5,406.6 195.3,409.3 186.2,373.4 152.3,419.1 129.1,431.9 176.4,342.7 175.3,361.5 152.9,375.3 190.2,426.3 189.2,432.7 173.5,416.4 179.7,423 161,414.8 175.5,423.7 184.5,414.5 170.8,355.1 161.8,392 183,413 173.4,446.1 110.5,402.7 173.7,394.9"/></g>
<g class="p1"><polyline id="d38" points="194.6,372.6 198.7,411.8 180,364.1 200.5,370.3 177.5,395.9 193.3,456.5 198.2,406 193,412.4 185.2,371.2 190.7,363.1 179.6,378.5 178.5,401.2 194.4,402.7 186.9,399.5 190.2,428.9 195.5,377.5 179.9,366.6 191.2,439 194.5,400.2 199.1,386.3 199,440.5 200.1,346.6 192.8,427.2 190.6,392.4 179.4,424.6 188.2,434.7 199.1,403.6 181.2,394 188.7,409.5 197.5,432 196,381"/></g>
<g class="p2"><polyline id="d39" points="198.6,387.4 199.3,428.4 200.3,393.8 197.1,442.9 195.7,388.3 200.9,420.5 196.2,396.1 197,407.1 195.6,402.8 200.4,451.2 194,393.3 194,365.7"/></g>
<g class="p3"><polyline id="d40" points="194.1,404.4 194.1,404.4"/></g>
<g class="p0"><polyline id="d41" points="197.2,397.3 174.2,362.5 177.9,371 189.6,387.4 174.5,402.4 187.2,430.3 187,422.4 159.5,374.8 167.4,385.7 164.4,378.1 184.5,418.2 190.5,413.4 155.6,352.3 174.9,418.1 150.5,345.2 172.5,424.4 125.1,343.4 188.6,378.7 195.4,368.7 166.3,409.3 103.9,347.7 176.9,421.3 177.8,397.8 175.4,403.2 179.1,397.4 153.1,393.6 187.1,405.1 176.5,422.2 189.4,369.7 164.5,381.6 186.2,396.6 188,430.8 178.8,425.5 154.2,409.3 128.8,390.7 173,396.4 104.9,393.4 192.7,418.3 176,388.8 183.4,425.3 196.3,374.6 194.7,404.6 63.7,363.1 193.5,413.7 196.1,394.2 183.4,364.4 177.4,392.9 189.6,431.6 196.2,386.7 134.9,382.7 133.6,419.1 195.5,392.9 174.8,423.5 187.3,431.2 173,414.7 192.6,438.3 180.3,392.9 196.2,443 195.4,398.3 191.4,362.5 158.2,410.7 183.9,436.1"/></g>
<g class="p1"><polyline id="d42" points="197.2,403.4 199.1,406.2 192,437.7 192.7,413.2 184,422.5 198,398.5 194.3,410.7 189.4,413 192.7,375.1 194.8,411.6 184.5,397.7 196.8,419.5 197.9,374.1 195,409.9"/></g>
<g class="p2"><polyline id="d43" points="200.8,456.4 199.2,408 197,383.3 198,385.7 198.8,408.6 196.2,386.1 194.5,396.6 198.1,387.6 197.8,382.5"/></g>
<g class="p3"><polyline id="d44" points="194.8,438.5 196.7,467.8 197.4,392.9 192.4,336.2 194.7,398.6"/></g>
<g class="p0"><polyline id="d45" points="179.9,409.9 167,375 191.6,401.9 175.8,376 198.1,348.4 178.3,373.4 195.2,416.9 196.4,384.7 186.7,428 190.2,386.7 188.4,397.2 192.7,384 180.8,384 183.2,380.6 192.1,404.9 181.1,397.8 195.5,379.4 196.5,378 40.1,380.1 146.3,362.2 189.7,404.3 105.7,427.4 162.7,385.2 197.6,374 185.4,393.6 191.3,433.4 179.4,419.4 193.6,399 161.1,436.7 195.5,421.6 172.3,412.9 178.4,376.7 185.7,393.1 184.4,411.2 179.1,341.5 197.8,427.4 179.8,419.4 178.8,380.9 164.8,420.3 198.6,422.3 191.2,405.4 184.9,433.7 186.7,417.5 149.7,401.1 197.7,436.1 160.7,347.1 186,395.7 193,374.6 194.3,400.8 194.1,415.7"/></g>
<g class="p1"><polyline id="d46" points="179,390.2 188.3,357.4 173.7,400.5 193.7,388.2 189.9,417.9 197.5,403.4 200.6,406.4 190.1,370 186.7,433 183.5,393.4 181.9,386.6 194.8,378.5 183.7,411.8 194.4,402.1 198.1,414 181,420.9 199.3,457.8 196.5,400.5 190.5,412.4 194,409 197.5,417.3 199.2,415.9 196,398.6 194.2,394.5 198.8,383.5 200.1,375.6 195.8,392.8"/></g>
<g class="p2"><polyline id="d47" points="199.1,391.8 194.8,382.2 189.7,404.5 198.7,421.4 200.9,373.6 184.7,382 196.6,428.2 199.4,397.1 197,409 201.2,426.4"/></g>
<g class="p3"><polyline id="d48" points="193.7,408 192.1,378.9 193.1,357.1"/></g>
<g class="p0"><polyline id="d49" points="168.5,375.1 180.4,382.6 182.7,382.8 193.4,383 189.9,426.8 162.3,413.3 181.6,394.7 189.3,448.4 192.2,443.8 188.6,411.3 74.6,399.7 182.8,397.3 183.9,413.9 192.5,438.9 179.5,461.5 191.5,387.2 188.5,438.8 171.7,379 171.2,363.2 196.3,395.2 137,384.1 161.4,344.2 189.1,423.1 190.1,376 148.3,402.9 177,385.5 178.6,390.2 188.8,463.3 135.7,351.7 148.3,397.7 195,426 181.9,366.3 190.7,373.1 183.3,412.3 182.8,432.8 191.8,449.1 190.7,431 181.4,375.4 182.9,408.7 195.1,393.5 159.8,405.5 175.2,367 136,383.1 181.5,428.8 188.3,379.9 163.1,389.9 165.7,350.3"/></g>
<g class="p1"><polyline id="d50" points="193.6,368 193.1,415 185.4,362.4 199.4,400.1 185.1,362.5 196.4,433.5 197,395.8 184.6,419.8 198.3,435.8 193.3,358.6 185.7,384.3 182.8,410.9 200.1,365 195.7,402.1 193.5,430.7 193.6,402.7 186.2,403.3 193.3,411.9 173.2,413.1 200.2,369.5 194.9,435.7 184.7,392.6 187.4,380.7 192.1,381.3 193.3,391.4 190,388.1"/></g>
<g class="p2"><polyline id="d51" points="191.8,430.6 199.4,425.7 198.4,434.7 195.2,422.3 199.4,384.8 193.3,424.8 198.4,455.2 189.9,394.3 201.6,402.3 193.1,381.4 195.6,426.7 200.4,464.6"/></g>
<g class="p3"><polyline id="d52" points="197.1,400.8 197.1,402.2 196.2,388.1 195.2,397.6 193.6,380.7"/></g>
<g class="p0"><polyline id="d53" points="182.2,414.8 168,408.2 178.5,408.5 179.5,398.1 192.6,374.5 194.9,419.2 194.8,386.4 180.5,390.4 188.3,379.2 190.8,412.3 176,452.6 157.8,405 198.9,394.9 164.4,364.5 182,395.7 192.8,396.4 196.1,421.9 176.4,415.7 82.3,377.7 194.1,386.3 194,387.4 193.7,357.7 187,403.3 188.3,439.1 161.8,381.8 177.7,389.8 201.1,406.8 189.2,371.7 192.3,387.5 191.1,372 175.9,368.2 141.9,393.4 176.8,397.2 183,366.1 156.5,398 163.7,421.1 194.8,364.1 188.1,404.2 189.7,437 197.8,392.4 189.5,372.6 177.3,434 194,443.3 176,413.3 185.2,399.3 172.7,409.5 180.3,438.8 179.2,402.3 198.1,388.4 185.4,354.5 144.6,396.4"/></g>
<g class="p1"><polyline id="d54" points="195.8,401.3 191.4,396.4 191.5,436.8 198.3,441.8 191.4,384.1 195.5,384.5 187.2,354.9 192.8,399.5 198.9,418.5 176.4,440.7 196.3,422.7 193.6,393 198.9,375.1 188.6,444.1 183.2,403.9 175.1,386.8 187.4,403.6 195.3,412.9 176.4,391.1 198.7,427 173.8,359.6 195.8,415.9 185.5,426.3 192.3,442.5 192.7,399.6"/></g>
<g class="p2"><polyline id="d55" points="201.6,440.2 199.7,440.8 194.1,380 191.2,424.5 196,392.9 194.8,369.1 196.8,356.2 198.3,433 199,393.4 201.5,396.2 197.3,431.9 200,407.6 196.6,382.4"/></g>
<g class="p3"><polyline id="d56" points="196.4,380.2 196.4,380.2"/></g>
<g class="p0"><polyline id="d57" points="190.5,392.3 176.4,374.8 150.8,398 145.3,383.7 175,395.6 157.2,390.8 201.7,373.5 183.9,373.4 186.9,402.6 185.9,382.1 181.4,378.4 198.8,438.8 181.4,419.4 110.5,425.8 156.8,355 187.9,371.8 165.2,362.9 190.6,387.8 156,402.7 181.6,388.6 186.7,405.2 139.4,412.9 180.7,383.2 168,371 187.9,416.8 99.6,401.9 57.6,404.5 191.3,441.1 170.8,388.7 164.7,383.1 198.5,441.1 173.4,434.1 200.8,419.2 173.2,432.7 190.4,418.7 162.5,413.1 196.7,436.4 190.8,387.4 192,427.9 168.3,423.1 192.7,439 182.5,432.5 192.9,415.6 186.7,402.1 192.4,370.8 187,334.3 188.6,359.8 183.8,389.4 166.3,438.4 196,382.8 149.7,343.4 189.7,401.7 170,381.1 192.8,394.6 191.3,432.2 180.8,395.7 165.6,356.6 174,434.9 175.5,389 179.8,398.6 183.2,407.5 175.8,409.2 191.1,387.8"/></g>
<g class="p1"><polyline id="d58" points="185.8,420.8 196.9,396.8 193.1,378.9 188.1,419.3 189.7,365.2 185.3,410.3 191.7,406.4 198.7,400 181.8,390.1 189.9,380.8 190.9,440 193.9,384.6 191.3,417.3 194.1,346 190.5,391 193.5,403.7"/></g>
<g class="p2"><polyline id="d59" points="194.7,392.3 188.6,399.9 197.6,417.4 201.6,409.4 197.7,367.8 198.1,394"/></g>
<g class="p3"><polyline id="d60" points="197.9,386.4 196.5,402.1 194.4,444.9 193.8,379.7 195,447.3"/></g>
<g class="p0"><polyline id="d61" points="194.3,430 195.9,363.2 190.8,406.2 184.9,409.6 197.7,387.9 190.4,402.4 197.2,371.5 181.7,416 180.5,382.5 170.2,409.7 164.4,387.6 181.2,411.7 164.8,347.9 188.3,368.6 151.9,383.7 197.1,422.6 187.7,411.5 194.8,438.9 53.9,356.7 163.1,439.1 174.9,352.8 183.3,436.4 176.4,376.2 189.9,400.4 182,442.5 182.7,392.1 186.6,410.9 176.4,431.1 196.1,396.6 171.1,368.3 198.9,409.2 193.2,429.5 194.7,391.4 182.3,389.2 170.6,363.9 173,386.6 140,400.3 191.6,388.8 183.5,406 185.4,363.8 199.6,373.2 174.9,395.9 163.4,365.3 178.3,433.5 194,381.2 195.7,414.5 157.1,393.6 197.5,421 181.8,368 175,418.1 152.1,343.1"/></g>
<g class="p1"><polyline id="d62" points="197.6,387.9 189.9,422 191.7,379.5 197.4,399.6 197.8,391.9 196.7,424.1 191.2,388.1 186.6,378.5 197.1,455.3 188.5,352.5 194,382.8 191.4,425.1 184.4,402.3 199.1,430.8 198.9,421.4 191,391.5 194.5,401 195.2,370.4 193.9,385.2 195.5,360.8 190,402.1 193.6,393.1 191.5,370.5 195.7,417.5 196.8,417 197.5,378.4"/></g>
<g class="p2"><polyline id="d63" points="188.8,365 198.8,404.1 198.8,359.5 199.9,387.6 194.7,429.6 199.1,384.3 199.3,365.3 195.1,354"/></g>
<g class="p3"><polyline id="d64" points="199.5,358.4 197.4,397 195.8,391.8 193.6,394.8 195.5,434.9"/></g>
<g class="p0"><polyline id="d65" points="187.4,401.4 173.2,398.2 178.3,455 186.7,415.3 179.1,355.1 190.2,393.5 184,431.2 168.2,417.8 178.4,368.7 198.6,382.7 162.5,345.1 156.8,354 166.9,402.2 193,391.7 194.2,422 179.1,394.8 197.6,372.1 163.1,417.6 196.1,385.7 143.4,408 194.8,438.4 184.4,422.7 174.4,361.6 199.9,423.4 189.8,359.7 176.2,382.3 176.7,420.3 193.5,379.8 189.9,392.1 184.9,396 194.7,337.5 193.5,418.4 189.6,384.2 164.7,394.6 187.1,388.7 197.1,418.7 200.4,443.5 183.7,406.8 146.4,365.7 162.3,394.5 125.6,371.6 194.3,352 194.3,402.4 187.4,378.1 195.3,384 188.3,400.6 179.1,380 174.6,361.2"/></g>
<g class="p1"><polyline id="d66" points="192.4,384.3 194.7,436.3 185.1,430.1 191.4,400.5 195.7,414.7 195.2,360.8 191.7,428.7 194.8,377.7 200.6,353.3 189.8,384.9 187.1,427.3 193.4,412.8 199.8,396.2 194.5,415.6 183.5,412.9 193.9,387.7 195,391.5 184.5,406.3 191.4,414.6 198.2,396.8 191.3,407.8 194.4,417.7 197.3,414.6 193.8,386 196,404.7 196.4,413.4"/></g>
<g class="p2"><polyline id="d67" points="195.8,391.8 196,406.9 197.6,366.2 196.6,417.9 199.3,412.4 199.3,382.9 198.2,404.9 195.2,401.5 199.5,403.6 201,405.8 198.1,401.9 199,364.4 201.1,384.7 196.3,362.3"/></g>
<g class="p3"><polyline id="d68" points="196.2,383.9 196,411.1"/></g>
<g class="p0"><polyline id="d69" points="170.7,367.2 131.8,349 181.2,435.1 192.8,392.6 191.8,407.7 135.6,368.5 191.2,383.8 174.8,378.5 196.5,386.2 178.4,351.8 191.5,390.8 192.4,404.4 181.1,378.8 179.5,413.3 196.8,417.5 167.5,362.8 187.5,391.8 169.9,392.5 164.8,422.9 186.6,367 188,395 187.3,383.4 185.1,366.1 190.2,406.6 172.1,388.8 145.2,375.8 158.1,400 188.4,408.3 153.8,408.7 184.3,408.7 141,349.5 190.4,416.6 134.9,386.6 182.2,424.4 181.9,386 154.3,362.9 196.2,403 161.3,391 188.6,383.7 197.6,351.9 186.7,381.5 183.6,379.9 194.8,396.3 195.2,379.7 189.3,399.5 172,386.7 167.2,394.9 170.4,373.4 177,399.5 190.9,392.6 187.8,363.6 182.6,391.9 164.7,407 176.9,414.6 185,403.8 98.5,424.7 146.4,428.2"/></g>
<g class="p1"><polyline id="d70" points="193,374.4 181.3,435.9 191,380.4 198.4,407 194,401.5 196.6,409.4 192.7,412 199.2,380.6 187,448.3 192.3,427.3 196.6,412 187.3,406.8 193.7,407.1 191.7,433.6 191,412.5 196.3,368.1 187.2,366.6 198.5,399.8 194.7,451.8 178.8,417.8 195.5,448.3"/></g>
<g class="p2"><polyline id="d71" points="198.1,408.5 200.7,392.1 197.4,428.7 198.5,348.8 199.5,443.6 201,423.2 195.5,406 197.1,396.6"/></g>
<g class="p3"><polyline id="d72" points="194,380 195.9,386.2 193,384 199.5,382"/></g>
<g class="p0"><polyline id="d73" points="172,364 189.3,402.7 186.4,396.4 155.4,395.4 176.8,356 177.3,381.1 182,456.2 180.6,418.4 149.5,376.5 177.7,401.7 196,412.5 174.9,345.6 187.5,361.5 184.2,395.4 184,390.7 182.4,378.9 170.9,425.4 197.4,425.4 177.5,379 166,430.6 185.5,415.8 161.9,382.1 199.2,443.5 164.8,363.8 185.9,417.6 171.4,386.9 178.4,421.1 198.5,436.5 196.8,420 168.9,334.5 179.9,385.8 197,465.8 168.1,332.9 168.1,392.9 153.6,386.4 190,424.4 175.1,407.7 186.3,441.6 145.3,394.4 194.7,395.4 171.1,361.8 163.2,394 173,402.8 167.3,383 187.4,381.3 175.8,428.6 188.9,369.1 184.7,439.6 190,335.9 160.8,383.2 187.4,382.3 183.4,413 163.4,380.9"/></g>
<g class="p1"><polyline id="d74" points="193.7,413.8 182.3,405 191.1,397.5 199,428.3 188.3,399.2 196.1,405.5 187.1,360.7 189.9,365.1 200.8,404.6 188.8,425 182.5,384.8 194.7,376.7 177.9,393 186,376.1 189.1,392.6 186.4,382.6 189,394.8 192.4,347.9 180.9,350.2 200.4,345.8 196.6,434.6 201.8,440.1 177.9,386.4 198.2,378.5 189.7,447.5 178.2,403.2 186.2,363.9 195.9,405.3 198.2,414 197.2,415.6"/></g>
<g class="p2"><polyline id="d75" points="198.4,423.4 196,387 194.5,388.8 199,458.2 194.6,402 199.9,407.6"/></g>
<g class="p3"><polyline id="d76" points="198.8,394.9 198.8,394.9"/></g>
<g class="p0"><polyline id="d77" points="95.6,401.3 190,398.5 171,377.6 181.2,393 188.3,437.4 159.6,384.6 176,385.2 148.5,400.8 171.2,358.2 147.6,383.3"/></g>
<g class="p1"><polyline id="d78" points="185.9,387.3 190.1,410"/></g>
<g class="p2"><polyline id="d79" points="196,390.3 196,390.3"/></g>
<g class="p3"><polyline id="d80" points="193.7,429.5 193.8,379.8"/></g>
<use href="#d0" class="q0"/>
<use href="#d1" class="q1"/>
<use href="#d2" class="q2"/>
<use href="#d3" class="q3"/>
<use href="#d4" class="q0"/>
<use href="#d5" class="q1"/>
<use href="#d6" class="q2"/>
<use href="#d7" class="q3"/>
<use href="#d8" class="q0"/>
<use href="#d9" class="q1"/>
<use href="#d10" class="q2"/>
<use href="#d11" class="q3"/>
<use href="#d12" class="q0"/>
<use href="#d13" class="q1"/>
<use href="#d14" class="q2"/>
<use href="#d15" class="q3"/>
<use href="#d16" class="q0"/>
<use href="#d17" class="q1"/>
<use href="#d18" class="q2"/>
<use href="#d19" class="q0"/>
<use href="#d20" class="q1"/>
<use href="#d21" class="q2"/>
<use href="#d22" class="q0"/>
<use href="#d23" class="q1"/>
<use href="#d24" class="q2"/>
<use href="#d25" class="q3"/>
<use href="#d26" class="q0"/>
<use href="#d27" class="q1"/>
<use href="#d28" class="q2"/>
<use href="#d29" class="q0"/>
<use href="#d30" class="q1"/>
<use href="#d31" class="q2"/>
<use href="#d32" class="q3"/>
<use href="#d33" class="q0"/>
<use href="#d34" class="q1"/>
<use href="#d35" class="q2"/>
<use href="#d36" class="q3"/>
<use href="#d37" class="q0"/>
<use href="#d38" class="q1"/>
<use href="#d39" class="q2"/>
<use href="#d40" class="q3"/>
<use href="#d41" class="q0"/>
<use href="#d42" class="q1"/>
<use href="#d43" class="q2"/>
<use href="#d44" class="q3"/>
<use href="#d45" class="q0"/>
<use href="#d46" class="q1"/>
<use href="#d47" class="q2"/>
<use href="#d48" class="q3"/>
<use href="#d49" class="q0"/>
<use href="#d50" class="q1"/>
<use href="#d51" class="q2"/>
<use href="#d52" class="q3"/>
<use href="#d53" class="q0"/>
<use href="#d54" class="q1"/>
<use href="#d55" class="q2"/>
<use href="#d56" class="q3"/>
<use href="#d57" class="q0"/>
<use href="#d58" class="q1"/>
<use href="#d59" class="q2"/>
<use href="#d60" class="q3"/>
<use href="#d61" class="q0"/>
<use href="#d62" class="q1"/>
<use href="#d63" class="q2"/>
<use href="#d64" class="q3"/>
<use href="#d65" class="q0"/>
<use href="#d66" class="q1"/>
<use href="#d67" class="q2"/>
<use href="#d68" class="q3"/>
<use href="#d69" class="q0"/>
<use href="#d70" class="q1"/>
<use href="#d71" class="q2"/>
<use href="#d72" class="q3"/>
<use href="#d73" class="q0"/>
<use href="#d74" class="q1"/>
<use href="#d75" class="q2"/>
<use href="#d76" class="q3"/>
<use href="#d77" class="q0"/>
<use href="#d78" class="q1"/>
<use href="#d79" class="q2"/>
<use href="#d80" class="q3"/>
<path d="M40.1 380.6L41.6 381.0L43.1 381.3L44.6 381.7L46.1 382.1L47.6 382.4L49.1 382.8L50.6 383.1L52.1 383.5L53.6 383.8L55.1 384.1L56.6 384.5L58.1 384.8L59.6 385.1L61.1 385.5L62.6 385.8L64.1 386.1L65.6 386.4L67.1 386.7L68.6 387.1L70.1 387.4L71.6 387.7L73.1 388.0L74.6 388.3L76.1 388.6L77.6 388.8L79.1 389.1L80.6 389.3L82.1 389.6L83.6 389.8L85.1 390.0L86.6 390.3L88.1 390.4L89.6 390.6L91.1 390.7L92.6 390.8L94.1 390.9L95.6 391.0L97.1 391.0L98.6 391.1L100.1 391.2L101.6 391.2L103.1 391.2L104.6 391.2L106.1 391.2L107.6 391.2L109.1 391.2L110.6 391.2L112.1 391.1L113.6 391.1L115.1 391.1L116.6 391.0L118.1 391.0L119.6 390.9L121.1 390.8L122.6 390.7L124.1 390.6L125.6 390.5L127.1 390.4L128.6 390.3L130.1 390.2L131.6 390.1L133.1 390.0L134.6 389.9L136.1 389.8L137.6 389.7L139.1 389.6L140.6 389.5L142.1 389.4L143.6 389.4L145.1 389.4L146.6 389.4L148.1 389.5L149.6 389.5L151.1 389.6L152.6 389.7L154.1 389.9L155.6 390.0L157.1 390.1L158.6 390.3L160.1 390.6L161.6 390.9L163.1 391.3L164.6 391.8L166.1 392.2L167.6 392.7L169.1 393.1L170.6 393.5L172.1 394.0L173.6 394.5L175.1 394.9L176.6 395.4L178.1 395.8L179.6 396.2L181.1 396.6L182.6 397.0L184.1 397.4L185.6 397.8L187.1 398.2L188.6 398.5L190.1 398.8L191.6 399.1L193.1 399.4L194.6 399.7L196.1 399.9L197.6 400.2L199.1 400.4L200.0 400.5" stroke="#fff" stroke-width="2.2" stroke-opacity=".5" fill="none" stroke-linejoin="round"/>
<path d="M40.1 380.6L41.6 381.0L43.1 381.3L44.6 381.7L46.1 382.1L47.6 382.4L49.1 382.8L50.6 383.1L52.1 383.5L53.6 383.8L55.1 384.1L56.6 384.5L58.1 384.8L59.6 385.1L61.1 385.5L62.6 385.8L64.1 386.1L65.6 386.4L67.1 386.7L68.6 387.1L70.1 387.4L71.6 387.7L73.1 388.0L74.6 388.3L76.1 388.6L77.6 388.8L79.1 389.1L80.6 389.3L82.1 389.6L83.6 389.8L85.1 390.0L86.6 390.3L88.1 390.4L89.6 390.6L91.1 390.7L92.6 390.8L94.1 390.9L95.6 391.0L97.1 391.0L98.6 391.1L100.1 391.2L101.6 391.2L103.1 391.2L104.6 391.2L106.1 391.2L107.6 391.2L109.1 391.2L110.6 391.2L112.1 391.1L113.6 391.1L115.1 391.1L116.6 391.0L118.1 391.0L119.6 390.9L121.1 390.8L122.6 390.7L124.1 390.6L125.6 390.5L127.1 390.4L128.6 390.3L130.1 390.2L131.6 390.1L133.1 390.0L134.6 389.9L136.1 389.8L137.6 389.7L139.1 389.6L140.6 389.5L142.1 389.4L143.6 389.4L145.1 389.4L146.6 389.4L148.1 389.5L149.6 389.5L151.1 389.6L152.6 389.7L154.1 389.9L155.6 390.0L157.1 390.1L158.6 390.3L160.1 390.6L161.6 390.9L163.1 391.3L164.6 391.8L166.1 392.2L167.6 392.7L169.1 393.1L170.6 393.5L172.1 394.0L173.6 394.5L175.1 394.9L176.6 395.4L178.1 395.8L179.6 396.2L181.1 396.6L182.6 397.0L184.1 397.4L185.6 397.8L187.1 398.2L188.6 398.5L190.1 398.8L191.6 399.1L193.1 399.4L194.6 399.7L196.1 399.9L197.6 400.2L199.1 400.4L200.0 400.5" stroke="#000" stroke-width="1.2" fill="none" stroke-linejoin="round"/>
<path d="M40 474.4v-3.0M46.5 474.4v-3.0M54 474.4v-3.0M57.75 474.4v-3.0M63.75 474.4v-3.0M70.5 474.4v-3.0M74.75 474.4v-3.0M82.25 474.4v-3.0M84.25 474.4v-3.0M85.75 474.4v-3.0M94 474.4v-3.0M95.75 474.4v-3.0M98.5 474.4v-3.0M99.5 474.4v-3.0M103.75 474.4v-3.0M105 474.4v-3.0M105.5 474.4v-3.0H106.5v3.0zM110.5 474.4v-3.0M113.25 474.4v-3.0M116.5 474.4v-3.0M120.25 474.4v-3.0M121.75 474.4v-3.0M123 474.4v-3.0M125 474.4v-3.0M125.75 474.4v-3.0M126.5 474.4v-3.0M128 474.4v-3.0H129.25v3.0zM131 474.4v-3.0M131.5 474.4v-3.0H132.5v3.0zM133 474.4v-3.0H133.75v3.0zM134.25 474.4v-3.0M134.75 474.4v-3.0H137.25v3.0zM138.75 474.4v-3.0H140.25v3.0zM140.75 474.4v-3.0H142v3.0zM142.25 474.4v-3.0H144.75v3.0zM145 474.4v-3.0H148.75v3.0zM149 474.4v-3.0H150v3.0zM150.25 474.4v-3.0H151.25v3.0zM151.5 474.4v-3.0H152.5v3.0zM152.75 474.4v-3.0H160.25v3.0zM160.5 474.4v-3.0H202v3.0z" stroke="#000" stroke-width=".5" fill="#000"/>
</g>
<text class="t" text-anchor="end" x="28.4" y="461.2">-1.0</text>
<text class="t" text-anchor="end" x="28.4" y="430.6">-0.5</text>
<text class="t" text-anchor="end" x="28.4" y="400.0">0.0</text>
<text class="t" text-anchor="end" x="28.4" y="369.4">0.5</text>
<text class="t" text-anchor="end" x="28.4" y="338.8">1.0</text>
<text class="t" text-anchor="middle" x="56.8" y="485.0">34</text>
<text class="t" text-anchor="middle" x="85.7" y="485.0">35</text>
<text class="t" text-anchor="middle" x="114.5" y="485.0">36</text>
<text class="t" text-anchor="middle" x="143.4" y="485.0">37</text>
<text class="t" text-anchor="middle" x="172.2" y="485.0">38</text>
<text class="t" text-anchor="middle" x="201.1" y="485.0">39</text>
<path d="M32.0 458.6h-2.2M32.0 428.0h-2.2M32.0 397.4h-2.2M32.0 366.8h-2.2M32.0 336.2h-2.2M56.8 474.4v2.2M85.7 474.4v2.2M114.5 474.4v2.2M143.4 474.4v2.2M172.2 474.4v2.2M201.1 474.4v2.2" stroke="#333" stroke-width=".6" fill="none"/>
<text class="ti" x="32.0" y="307.8">salinity</text>
<text class="ax" text-anchor="middle" textLength="18.5" lengthAdjust="spacingAndGlyphs" x="120.0" y="496.7">PSU</text>
<text class="ay" text-anchor="middle" transform="translate(11.7 393.7) rotate(-90)">ENS</text>
<clipPath id="c4"><rect x="245.0" y="313.8" width="177.1" height="160.6"/></clipPath>
<rect x="245.0" y="313.8" width="177.1" height="160.6" fill="#EBEBEB"/>
<g clip-path="url(#c4)">
<path d="M269.1 313.8V474.4M311.1 313.8V474.4M352.9 313.8V474.4M394.9 313.8V474.4M245.0 447.3H422.1M245.0 417.4H422.1M245.0 387.4H422.1M245.0 357.5H422.1M245.0 327.6H422.1" stroke="#fff" stroke-width=".6" stroke-opacity=".9" fill="none"/>
<path d="M248.2 313.8V474.4M290.1 313.8V474.4M332.0 313.8V474.4M373.9 313.8V474.4M415.8 313.8V474.4M245.0 462.2H422.1M245.0 432.3H422.1M245.0 402.4H422.1M245.0 372.5H422.1M245.0 342.5H422.1" stroke="#fff" stroke-width=".95" fill="none"/>
<path d="M253.1 407.4L254.6 407.2L256.1 406.9L257.6 406.7L259.1 406.4L260.6 406.2L262.1 405.9L263.6 405.7L265.1 405.4L266.6 405.1L268.1 404.9L269.6 404.6L271.1 404.4L272.6 404.1L274.1 403.8L275.6 403.6L277.1 403.3L278.6 403.1L280.1 402.8L281.6 402.5L283.1 402.3L284.6 402.0L286.1 401.7L287.6 401.5L289.1 401.2L290.6 401.0L292.1 400.7L293.6 400.4L295.1 400.2L296.6 399.9L298.1 399.6L299.6 399.4L301.1 399.1L302.6 398.8L304.1 398.6L305.6 398.3L307.1 398.1L308.6 397.8L310.1 397.5L311.6 397.3L313.1 397.0L314.6 396.7L316.1 396.5L317.6 396.2L319.1 395.9L320.6 395.7L322.1 395.4L323.6 395.1L325.1 394.9L326.6 394.6L328.1 394.3L329.6 394.1L331.1 393.8L332.6 393.5L334.1 393.3L335.6 393.0L337.1 392.7L338.6 392.4L340.1 392.2L341.6 391.9L343.1 391.6L344.6 391.4L346.1 391.1L347.6 390.8L349.1 390.6L350.6 390.3L352.1 390.0L353.6 389.7L355.1 389.4L356.6 389.0L358.1 388.7L359.6 388.3L361.1 387.9L362.6 387.5L364.1 387.1L365.6 386.7L367.1 386.3L368.6 385.9L370.1 385.5L371.6 385.1L373.1 384.7L374.6 384.3L376.1 383.9L377.6 383.5L379.1 383.1L380.6 382.7L382.1 382.3L383.6 381.8L385.1 381.4L386.6 381.0L388.1 380.6L389.6 380.2L391.1 379.7L392.6 379.3L394.1 378.9L395.6 378.4L397.1 378.0L398.6 377.6L400.1 377.2L401.6 376.7L403.1 376.3L404.6 375.9L406.1 375.4L407.6 375.0L409.1 374.6L410.6 374.1L412.1 373.7L413.6 373.2L413.8 373.2L413.8 388.6L413.6 388.6L412.1 388.6L410.6 388.6L409.1 388.7L407.6 388.7L406.1 388.8L404.6 388.8L403.1 388.9L401.6 388.9L400.1 389.0L398.6 389.1L397.1 389.2L395.6 389.3L394.1 389.4L392.6 389.5L391.1 389.6L389.6 389.7L388.1 389.8L386.6 389.9L385.1 390.0L383.6 390.2L382.1 390.3L380.6 390.4L379.1 390.5L377.6 390.7L376.1 390.8L374.6 391.0L373.1 391.1L371.6 391.2L370.1 391.4L368.6 391.5L367.1 391.6L365.6 391.7L364.1 391.9L362.6 392.0L361.1 392.2L359.6 392.3L358.1 392.5L356.6 392.6L355.1 392.8L353.6 393.0L352.1 393.3L350.6 393.5L349.1 393.8L347.6 394.0L346.1 394.3L344.6 394.6L343.1 394.8L341.6 395.1L340.1 395.4L338.6 395.6L337.1 395.9L335.6 396.2L334.1 396.4L332.6 396.7L331.1 397.0L329.6 397.2L328.1 397.5L326.6 397.8L325.1 398.1L323.6 398.3L322.1 398.6L320.6 398.9L319.1 399.1L317.6 399.4L316.1 399.7L314.6 399.9L313.1 400.2L311.6 400.5L310.1 400.7L308.6 401.0L307.1 401.3L305.6 401.6L304.1 401.8L302.6 402.1L301.1 402.4L299.6 402.6L298.1 402.9L296.6 403.2L295.1 403.5L293.6 403.7L292.1 404.0L290.6 404.3L289.1 404.5L287.6 404.8L286.1 405.1L284.6 405.4L283.1 405.6L281.6 405.9L280.1 406.2L278.6 406.5L277.1 406.7L275.6 407.0L274.1 407.3L272.6 407.6L271.1 407.8L269.6 408.1L268.1 408.4L266.6 408.7L265.1 408.9L263.6 409.2L262.1 409.5L260.6 409.8L259.1 410.0L257.6 410.3L256.1 410.6L254.6 410.9L253.1 411.2Z" fill="#999" fill-opacity=".42"/>
<g class="p0"><polyline id="e0" points="260.2,391.5 293.6,408.4 262.6,382.6 329.7,406.4 286,418 303.3,424.7 282.6,408 323.8,360.4 311.9,402.3 271.8,390.3 259.4,439.3 258.3,381.1 284.2,421.7 320.3,434.7 308.1,411.4 322.4,380.9 319.6,389.5 270.2,459.9 298.9,434.5 277.8,433.3 258.7,416.9 272.7,427 323,466.7 257.2,392.4 340.3,427.3 318.6,373.6 309.4,415.4 311.1,415.8 264,401.2 335.6,378.8 293.7,345.8 271.4,369.9 258,432.3 300.6,414.6 302.4,460.1 272.6,415.8 285.3,392.4 287.6,398.8 357.2,363.6 290.9,373 266,380 288.4,415.4 295.2,410 284.9,386.5 306.8,398.5 334.7,425.2 269.1,385.2 311.2,380 307.3,421.7 289.3,395 308.4,467.3 267.9,384.4 262.1,444.2 298.4,426.2 296.1,415 304.9,407.5"/></g>
<g class="p1"><polyline id="e1" points="298.7,414.4 301.5,351.9 298.5,417.5 313.3,408.6 294.8,401.8 306.5,383.9 304.4,400.8 311.3,422.8 298.1,424.6 293.8,370.4 298.9,386.4 317.8,400.2 313.5,408.9 304.2,401.9 282.3,417.2 305.3,416 321.7,364.7 295.8,412.9 314.9,428.5 303.1,390.3 278.9,439.3 278.8,436.3"/></g>
<g class="p2"><polyline id="e2" points="303.8,410 310,376.3 277.5,428.6 318.2,375.2 319.2,376.1 257.8,395.6 269.1,407.2 306.5,421.1 299.1,397.7"/></g>
<g class="p3"><polyline id="e3" points="323.6,380.8 303.6,432.9 261.3,432.6"/></g>
<g class="p0"><polyline id="e4" points="263.3,416.5 260.4,411.4 283.7,366.3 307.3,404.8 344.8,383.3 253.8,414.5 307.4,359.1 309.2,401.9 293.1,383.2 282.1,350.3 338.1,353.5 322.8,420.1 258.7,395.5 282.2,438.3 282.4,380.4 274.4,415.6 296.8,395.3 258.8,392 279.9,359.7 287.4,446.9 284.2,439.8 312.6,380.8 276,430.5 308.8,385.5 313.9,416.8 276.7,424.2 284.5,393.9 313.3,411.9 305.4,393 272.8,406.2 283.9,427.4 282.9,418.8 303.2,397.4 279.1,361.2 309.8,419.3 305.5,440.1 310.9,401.2 259.9,415.5 282.6,376.5 265.5,438.4 264.4,421.9 285,404.9 299.3,427.3 391.3,396"/></g>
<g class="p1"><polyline id="e5" points="313.8,400.2 313,402.9 313.1,424 270.8,412.5 298.7,414.9 294.8,406.7 310,405.9 296.3,363.3 307.3,371.7 304.7,392.6 278.4,395.3 317,398 311.8,428.9 291.4,400.1 300,373.1 280.9,420.4 303.6,383.6 302.5,440.2 294.9,412.9 298.9,376.5 281.1,403.6 308,402.5 308.7,357.9 311,410.2 259.5,378.7 304.4,377.3 279.3,430.3 277.8,407.5 304.5,403.7 314.1,374 313.3,404.7"/></g>
<g class="p2"><polyline id="e6" points="266.8,370.2 314,425.3 262.3,390.3 258.8,362.8 277.2,414.2 257.7,430.5 309.1,407.4 286.2,390.8 276.8,369.7 313.9,404.9 278.5,430"/></g>
<g class="p3"><polyline id="e7" points="303.9,369.9 317.6,362.9 306,385.7 266.9,379.6"/></g>
<g class="p0"><polyline id="e8" points="276.6,442 311.1,410 303.8,385.7 307.8,402.8 305.7,379 294.9,413.1 257.6,391.1 297.6,435.3 266,427.5 264.4,374.3 301.3,403 347.2,393.4 273.2,406.1 306.1,414.1 280.1,395.6 297.3,393.6 257.7,391.7 305.8,399.4 288.2,391.6 264.4,434.3 276.8,427.5 309.9,393.1 307.3,464.1 268.8,408.8 307.4,406.1 329.3,425.4 260.1,401.6 307.6,396.5 321.1,413.9 274.6,418.2 303,386.9 257.4,440.4 283.1,429.1 315.5,402.3 281.5,423.2 302.3,458.4 281.5,387.6 332,396.5 301,406.8 273.5,358.1 300.9,372.1 304.4,415.4 304.6,360.3 281.8,454.5 260,382.9 299.8,377.7 306.7,426 271.7,411.1"/></g>
<g class="p1"><polyline id="e9" points="304,444.8 279.1,414.9 301.1,436 303.1,392.4 305.9,419.8 305.7,402.1 301.1,440.2 314.5,400.8 302.6,439.5 309,403.5 307.6,373.3 301.2,366.7 300.5,425.1 304.4,401.7 269.2,409.5 259.1,411 302.2,371.1 297.6,419.5 309,399.9 312.5,402.3 302.5,381 302.3,399.8 303.9,407.3 300.6,367.1 308.1,362.9 311.1,404.2 307.2,386.7 297.9,354.1"/></g>
<g class="p2"><polyline id="e10" points="307.6,390.1 306.4,435.3 278,380.3 262.3,352.2 314.9,393.4 278.5,409.2 307.4,414.9 295.3,454.6 289.1,399 308.3,371.1 318.8,378.7"/></g>
<g class="p3"><polyline id="e11" points="319.9,385.6 326,403.5 322.3,428.5"/></g>
<g class="p0"><polyline id="e12" points="265.7,430 280.1,402.5 300.6,437.8 305,421.7 295,378.3 290.4,393.4 322.9,362.7 289.9,383.3 263.8,366.8 280.9,407 291.6,404.7 332.4,421.7 284.3,414.3 312.9,400.5 274.6,394.4 312.7,411.4 262.7,425.1 315.3,390.1 272.9,422.8 312.7,431.6 272.8,400.7 311.8,420.3 271,422.3 254,357.1 306.1,423.4 275.4,377.8 261.4,438.1 354.6,372.1 320.2,402.5 321.5,364.9 291.8,406 303.5,441.6 279.8,351.4 310.8,381.3 265.9,431.8 281,432 283.1,362.8 283.7,397.8 265.8,441.6 319,346.6 256,435.1 313.4,365.6 260.5,414 314,403.5 282.4,418.8 274.8,415 269.2,405.5"/></g>
<g class="p1"><polyline id="e13" points="306.8,386.9 307,391.1 299.4,378.4 312.7,445.5 311.6,397.7 311.3,404 296.5,393 303.7,374.3 307.9,397 305.1,398.7 308.4,380.5 280.8,404.5 277.6,406.1 316.6,400.6 298.6,404.5 306,422.4 306.9,395.4 304.3,356.4 295.6,400.2 275.1,437.1 302.3,370 274.7,413.2 296.8,414.2 312.9,383.1 322.8,423.3 290.9,404.1 266.5,402.7 309.5,418.5 260.2,409.8 305.1,348.1 301,421.4"/></g>
<g class="p2"><polyline id="e14" points="287.3,402.8 270.2,389 266.1,364.2 278.8,431.1 264.4,393.2 300.1,404.6 276.4,400.7 277.8,395.8 280.5,401.2 316.1,375.6"/></g>
<g class="p3"><polyline id="e15" points="303.6,402.8 267.7,353.3"/></g>
<g class="p0"><polyline id="e16" points="298.9,418.4 263,404.7 276.9,439 263.5,366.6 260.2,380.6 296.5,427.7 259.4,420.4 334.5,410.3 311.4,422 274.6,409.7 269,412 275.4,363.6 277.8,391.8 266.8,382.4 260.1,406.7 255.6,427.6 296.6,383 285.9,417.4 269.4,360.4 291.4,394.1 276.7,360 313.6,435.5 258.8,412.2 261.2,381 286.7,407.1 280.4,405 281.2,404 313.7,422.4 307.4,402.9 255,439.3 311.2,410.1 302.6,435.7 265.6,428.1 280.3,410.4 276.4,409.8 318.9,416.5 264.4,411.7 281.8,411 303,431.4 286.8,412.7 258.1,410 313.6,402.5 299.8,430.4 311.8,359.3 260,418.8 271.2,422.5 259,413 329.2,424.3 331.7,382.3 255.8,388.9 305,376.7 273.6,395.2"/></g>
<g class="p1"><polyline id="e17" points="262.3,369.8 306.8,409.9 267.2,374.3 299.6,397.9 310.4,417.4 278.8,398.1 281.4,414.6 309.2,389.7 273.8,413.8 278.5,441 256,414.3 302.7,424.4 258.3,401.5 308.8,403.8 279.5,389 301.5,397.1 256.6,423 303.1,398.4 307.6,390.2 289.7,428.3 296,397.1 299.1,368.4 296.8,396.3 307.5,382.7 303.8,435.8 309.2,391.8 297.2,412.4 303.8,368.9 314.9,391.8 306,386.3 320.2,386.1"/></g>
<g class="p2"><polyline id="e18" points="322.1,393.4 271.8,420.2 307.7,406.1 289.6,394.8 311.8,446.7 265.4,400.5"/></g>
<g class="p3"><polyline id="e19" points="259.3,430.2 259.3,430.2"/></g>
<g class="p0"><polyline id="e20" points="361.8,383.3 301.9,406.7 330.1,400.5 275.8,375.6 309.9,356.5 286.6,420.7 295.8,433.7 264.3,391.5 375.8,369.5 300.1,353.3 317.4,416.6 300.8,411.4 314.4,370.6 307.3,420.7 325.8,380.8 265.6,397.5 314.8,390.9 338.7,385.3 299.2,370.2 254.7,417.2 308.5,404.7 315.5,424.7 262.2,399.3 352.5,388.1 281.4,419.2 263.6,390.6 304.1,377.2 314.3,424.7 277.9,351.5 309.2,412.5 294.9,356.4 274.3,399.5 255,406 297.8,447 265.6,409.3 275.5,364 264.7,418.3 261,384.9 300.8,398.6 274.4,442.3 316.3,362.8 307.3,393.6 290.6,373.3 315.3,396.5 274.3,427.9 274.3,393.3 294.5,378.3"/></g>
<g class="p1"><polyline id="e21" points="308.5,421.4 267.7,402.9 311,398 258.8,422.6 266,384.1 303,434.6 257.4,413.7 280.7,412.1 300.6,379.2 303.2,385.6 306.2,400.1 301.3,366 312.1,361.7 297.2,390.2 272.1,394.5 306.5,387.4 268.1,380.5 308.7,432.3 301.2,414.6 302.1,381.3 257.5,420.1 323.5,382.3 301.3,373.6 316.2,406.1 307.4,432.4 306.6,370.9 306.9,409.3 296.8,401.8 311.7,395 308.6,359.9 262.7,425.3 299.2,397.8 301.1,418.4"/></g>
<g class="p2"><polyline id="e22" points="276.9,424.5 279,417.3 273.1,411.6 301.5,413.5 283.3,403.3 262.8,386 270.9,402 303.6,372.8"/></g>
<g class="p3"><polyline id="e23" points="255.6,431.9 320.1,428.4"/></g>
<g class="p0"><polyline id="e24" points="268.7,393.6 310.1,418.8 320.2,411.9 312.7,362 308,419.7 258.4,405.1 305.7,434.4 292.2,352.6 300.2,394.1 307.1,431.8 263.8,439 414.4,397.6 279.3,368.4 359.9,426.8 336.3,378.6 262.1,370.4 306.4,413.2 305.4,342.2 301.5,379.4 271.3,412.7 274.3,424.1 301.2,362.6 285,393.9 310.7,369.9 277.8,357.1 330.5,400.1 301.4,393.1 268.7,416.5 276.8,395.8 263.8,428.8 281.5,397.9 259.5,439.3 282.3,431.1 299.9,386.7 277.5,435.2 308.3,366.5 299,420.3 263.9,387.2 353.3,355.1 272.2,407.5 305,418.9 262.9,410.7 322.6,390.5 275.5,415.7 306.1,390.8"/></g>
<g class="p1"><polyline id="e25" points="275.1,417.6 304.8,416.7 323,345.4 272.5,427.7 296.2,422.6 304.9,397.5 299.7,394.2 302.3,386.5 304.5,382.4 294.2,418.7 304.4,428.9 272.1,417.3 306.7,418.3 301.2,351.4 303.6,351.2 297.1,385.7 321.2,422.6 311.3,399.1 281.7,413.7 261.5,415.4 313.1,386.4 316.1,408.8 292.2,390.6 271.3,356.1 302.4,416.9 262.8,422.3 303.7,394.1 296.2,397.1 277.4,425"/></g>
<g class="p2"><polyline id="e26" points="308.6,391.3 279.6,430.2 307.6,389.7 301.5,409.4 305.8,416 299.3,391.8 266.8,411.3 269.8,398.7 315.8,372 319.7,418.4 280.3,428.2 263.8,408 311.7,410.2"/></g>
<g class="p3"><polyline id="e27" points="308.4,359.7 304.6,413.1 255.1,383.4"/></g>
<g class="p0"><polyline id="e28" points="255.9,415.4 275,416.8 302.4,378.7 326.6,391.3 278.8,407.1 268.8,399.7 353.6,379.3 278.9,398.6 296.4,372.8 309.1,391.7 255.9,384.8 274.3,389 300.3,411 282.4,421.2 266.2,361.9 253.7,397.3 300.7,381.1 272.9,380.9 259.2,373.2 310.8,406.2 263,423.5 265.7,408 312.4,423.7 341.8,415.5 263.5,403.2 307.1,428.2 290.8,406.6 311.9,447.4 323.7,391.5 365.2,408 377.7,414.6 311.4,428.5 315.8,434.6 321.2,439.4 278.1,401.2 310.7,389.8 320.1,426 313.6,392.7 254.2,409.6 303.6,449.4 263.8,454 266.5,439.7 302.7,405.6 299.1,388.9 284.5,439 269.1,394.8 308.7,420.9 297.1,341.4 261.9,382.8 287.4,384.6 278.9,395.5 267.8,445.1"/></g>
<g class="p1"><polyline id="e29" points="313.5,361.9 305.5,400.1 264.4,438.3 279,423.6 303.9,417 307.3,409.7 257.3,380.4 299.6,424.9 299.4,397.9 302,397.5 305.6,370.5 266.1,403.7 298,363.7 310.5,402.5 264.5,392.1 320.3,439.6 296.4,458.4 283.3,419.1 275.4,399.9 301.5,421.2 309.4,399 265.4,422.1 295.1,409.5"/></g>
<g class="p2"><polyline id="e30" points="296.6,442.9 315.3,393.9 276.5,414.3 312.2,424.1 277.8,375 265.2,401 314.3,394.5 325,397.7 274.1,450.2 302.9,395.3 299.5,402.7 312.5,430.1"/></g>
<g class="p3"><polyline id="e31" points="266.9,430.4 318.2,387.7 267.1,420"/></g>
<g class="p0"><polyline id="e32" points="304.5,394.5 301.9,396.8 266,423.7 283.3,437.3 256.8,409.6 311,386.3 278.6,363.8 313.1,350.4 314.4,407 264.9,388 286.9,429.3 265.5,410.3 265.8,426.3 287,408.5 278.2,362.6 274.3,414.5 295.1,412.7 321.7,427.1 314.4,401.2 299.1,371.5 302.3,390.6 271.3,389.7 302.6,396.8 268.1,398.5 259.8,380.7 287.1,410.9 263.7,385.8 274.1,388.6 265.7,381.3 304.5,445.5 311.7,405.4 302.1,418.4 347.9,408.5 308.7,417.7 280.7,386.8 287.4,384.8 324.5,369.5 336,418.1 310.7,379.4 298.1,385.1 319.4,414.9 274.9,383.6 283.5,360.3 300.9,393.9 344.4,400.5 263.8,423.6 283.9,366 295,394.2 329.7,384.5 297.1,442.7 325,380 347.9,431.9 271,377.4 268,412.1 287.3,420.3 263.5,405.2"/></g>
<g class="p1"><polyline id="e33" points="279.8,401.5 300.8,413.8 297.4,381.3 269.1,358 294.1,407 308.1,424.8 301.1,401.7 310.4,368.3 274.9,426.3 318.4,402.9 294.4,365.1 309.6,447.1 320.7,376.5 300.4,402.4 305.5,428.2 269.6,435.6 309.7,394.8 298.5,373.6 315.6,404.7 307.2,418.3"/></g>
<g class="p2"><polyline id="e34" points="308.1,388.9 281.5,386.1 312.3,456.2 261,406.1 264.3,372.5 260.7,398.4 274.8,383.6 299,401 258,377.9 304.6,359.5 319.9,405.3"/></g>
<g class="p3"><polyline id="e35" points="263.8,418 268.4,364.8 309.6,402.7"/></g>
<g class="p0"><polyline id="e36" points="262.6,380.7 275.6,410.7 278.9,391 377.2,358.3 329.4,423.9 268.7,390.1 278.2,399.6 315.3,415.2 315.5,342.4 329.8,462.3 269.3,355.5 284.8,390.7 267.4,380.4 275.3,381.5 299.4,379.9 293.5,355.4 282.5,412.1 278.9,435.1 317.4,414.6 263,353.8 299.4,366.8 297.3,407.3 257,424.7 367.9,426 257.7,409.5 261.5,400.9 285.5,354.3 301,389.1 258.8,387.1 329.4,430.6 308.2,403.5 285.3,425.3 352.5,376.9 303.4,391.5 303.5,360.5 270,388.6 280.4,401.9 274.8,450.6 332.8,429.6 281.4,388.2 287.7,382.9 264.2,374.5 299.8,418.4 298.8,391.1 266.9,411.4 277.8,443.3 279.5,408.1 322.7,377.5 296.1,368.1 267.2,389 307.7,392.1"/></g>
<g class="p1"><polyline id="e37" points="302.9,399.3 302.7,395.5 305,418.9 256.2,415.9 301.6,377.1 264.2,433.7 302.3,420.4 313.7,400.7 256.6,447.5 284.5,379.7 308.3,409.8 285.8,372.5 318.1,408.2 305,382.5 307.1,428.1 294.8,410.4 305.1,416.3 299.4,391.4 306.3,441.3 299.6,411.6 300.4,412.7 278.4,423.8 302.5,408.2 306.5,434 258.3,401.4 300.3,389.9 297.5,390.4 295.1,405.3"/></g>
<g class="p2"><polyline id="e38" points="304.2,391.3 274,443.8 306.5,409.2 282.6,435.5 259.6,431.9 310.6,402.2 302.6,392.9 261.8,395.3 280.4,410.9"/></g>
<g class="p3"><polyline id="e39" points="274.2,368.6 276.1,434.8"/></g>
<g class="p0"><polyline id="e40" points="299.3,385 286.1,430.1 259.2,402.2 306.8,393.9 314.9,364 371.3,432.7 265.5,446 258.2,435.9 319.2,415.1 279.4,428.8 262.8,423.7 296.9,399.2 273.2,377.4 316,402.8 270.2,429 310.3,393.5 261.8,404.4 273.6,387.2 279.8,396.5 282.2,411 268.6,427 307.1,420 306,411.9 295.4,393.1 265.3,414.9 306.1,391.9 317.7,407.2 275.6,388.2 296.4,403.5 263.9,392.9 270.3,410.4 282.1,429.5 305.9,352.9 310,398.9 314.5,365.1 264.7,343.4 256.8,390.3 304.9,384.4 265.2,451 307.2,382.1 255.1,405.3 255.4,409.9 314.5,367.7 264,365.6 266.4,375.8 273.1,388.9 288.4,415.9 283.1,404.4"/></g>
<g class="p1"><polyline id="e41" points="304.7,392.3 278.4,394.3 309.9,457 257.2,372.1 303.4,391.5 310.4,387.2 312,411.4 298.8,426.1 264.4,404.5 306.6,429 301.9,416 275.8,362.5 255.7,391.8 300.2,420.9 301.3,374.9 313,383.6 292.7,396.2 304.9,402.2 310.2,371.3 304.3,404.1 311.4,384.8 269.3,417.3 304.1,384.4 316.6,409.8 298.2,368 274.4,402 319.3,417.4 307.4,398.3 299.9,377.1 313.3,403.7"/></g>
<g class="p2"><polyline id="e42" points="277.3,398.8 312.9,390.7 273.4,369.4 315.7,409.5 286,428.5 302,397 284,405.2 323.1,384.7 313.7,380 282,414.3"/></g>
<g class="p3"><polyline id="e43" points="309.1,416.6 262.3,462"/></g>
<g class="p0"><polyline id="e44" points="301.1,425.6 308.8,368.8 325,404.4 363.9,432.7 304.2,395.8 255.3,407.1 389.9,413.3 299.8,402.8 269.7,421.4 286.6,385.1 365.2,411.4 279,365.6 267,427.5 262.5,398.3 288.4,380 261.4,374.8 256.2,422 281.3,409.9 269.6,359.7 313,399.1 308,382.6 303.7,418.4 358,371.4 273.9,440.4 314.6,367.8 284.4,443.8 256,452.1 283.6,353.9 265.7,393.7 277.4,351.6 317.9,431.4 317.3,432 297.6,412.7 298.3,403.4 304,417.8 304.6,427.9 297.2,396.5 298,391.2 318.7,373.2 310.2,390.9 278.2,379.1 297.8,418.8 274.9,435.4 325.2,439.3 316.8,409 311.9,412 276.7,380.1 291.1,402.3 316.6,400.9 282.3,416.7"/></g>
<g class="p1"><polyline id="e45" points="311.9,409.4 302.1,374.3 308.3,421.1 303.2,372.8 309.5,434.1 297.9,392.4 269.4,394.7 256.5,412.1 312.4,393.8 295.5,430.2 309.4,374.7 304,369.9 312.8,368.8 304.6,424.8 304.4,422.1 305.2,417.3 304.7,449.1 306.8,382.4 292.8,417.1 304.4,367.7 298.3,380.3"/></g>
<g class="p2"><polyline id="e46" points="264.5,368.1 267.2,415.8 276.8,394.6 278.7,375.5 256.6,380.1 285,400.7 319.4,390.7 264.7,414.9 265,413 274.4,407.2 265.5,431 280.2,381.4 309.1,404.6 309.3,413.1 310.2,394 281.6,401.3 299.8,359.5 268.6,393.7 267,419"/></g>
<g class="p0"><polyline id="e47" points="268.6,394.7 337.9,401.3 308.9,399.5 324.3,413.2 268.7,432.5 267.2,400.1 305.3,422.8 300.7,392.7 262.3,379.8 261.5,391.6 295.3,385.3 294.8,388.1 266.6,398.5 305.6,417.2 269.9,410.2 329,418.4 282,405.8 329.1,419.9 289.2,399.7 281.2,393.8 307.6,422.4 262,402.6 274.1,408.3 302.2,427.7 274.9,418.7 283.9,424.9 366,356.7 304.9,434.7 286.5,376.7 262.3,460.5 261.5,414.4 257.3,429.5 292,365.2 302.2,371.8 275.3,410.2 310.4,411.6 264.3,409.1 290.9,419.8 361.9,366.6 313.9,400.9 286.3,427.2 271.3,380.4 287.6,333.6 261.5,401.9 301.8,400.6 258.3,389.3 312.3,382.2 278.3,422 299,419.4"/></g>
<g class="p1"><polyline id="e48" points="295.2,372.3 313.5,374.7 307.8,404.7 297.3,416.6 305.9,405.7 302.3,436.8 311.6,383.8 309.7,413.7 314.7,395.8 305.4,414.1 303.9,385.4 270.8,421.7 300.9,426 299.7,403.6 305.2,389.6 278.2,371.7 301.9,427.2 285.9,418.7 297.1,401 299.5,384.9 309.2,381.9 310.7,404.5 274.1,376.4 273.9,372.3 312.2,389.4 267.4,398.7 297,390.9 307.2,406.4 257.9,401.4 298.8,385.1 285.4,407.2"/></g>
<g class="p2"><polyline id="e49" points="265.8,430.5 271.6,392.5 308.4,446.7 311.1,370.7 276,407.3 324.9,406.5 283.4,385.4 269.4,367.6"/></g>
<g class="p3"><polyline id="e50" points="274.4,405.1 282.1,406.7"/></g>
<g class="p0"><polyline id="e51" points="285.2,395.5 312.4,413.1 309.5,364.9 269.7,433.5 301.5,393.2 281.8,377.2 312.5,390.6 324.8,407.7 273.1,374.1 275.9,386.2 320.7,380.4 307,402.9 318.7,361.1 262.9,404.2 299.7,425.6 267.1,401.6 309.5,376.5 269.6,398 313,413 305.2,396.4 257.2,404.6 294.7,385 308.4,445.5 327.6,415.7 277.1,379.7 326.6,430.4 263.5,371.2 286.8,381.2 278.5,444.8 299.1,395.4 322.5,381.3 313.8,403.8 315,416.5 321.4,367.8 309.8,416.8 270.1,385.1 274.7,425.9 285.5,415.9 264.4,360 259.1,448.9 289.7,401.7 344.8,396 288.7,381.1 257.6,429.3 308.7,427.5 277.1,425.7 256.7,384.6 281.6,387.8 278.8,369.1 278.5,420.1 329.7,357.9"/></g>
<g class="p1"><polyline id="e52" points="311,401.9 292.5,396.2 302,394.5 284.4,389.7 323,381.7 296.8,389.8 319,409 302.6,392.9 299.8,367.5 266.6,376.3 306,439.1 298.3,388.7 256.8,401.6 284.8,416.7 275,370.8 306.2,418.5 298.2,429.8 308.5,416.8 260.5,400.8 269.3,371.6 302.4,416.2 268.9,400.7 308.4,463.3 317.6,408.8 264.8,403.3 308.2,413.7 267.5,399.6"/></g>
<g class="p2"><polyline id="e53" points="317.6,380.6 277.9,456 311.2,381.8 302.6,421.1 263.1,374.6 265.4,401.7 285.2,437.1 294.3,400.8 307.4,385.6 308,391.6 315.4,379.4"/></g>
<g class="p3"><polyline id="e54" points="299.7,398.6 299.7,398.6"/></g>
<g class="p0"><polyline id="e55" points="269.7,355.9 282.3,399.6 305,405.1 271.8,426.1 295.4,398.7 273.9,417.3 269.3,406.1 302.1,396.8 293.6,423.8 279.8,428.1 305.1,396.8 315.6,427.4 319.6,436.1 260.3,388 325.2,374.9 305.2,407 274.7,434.2 322.5,394.3 306,429.7 265.1,425 276.6,392.5 301.7,431.8 265,371.1 274.8,392.2 268.8,428.7 262.5,402.4 275.5,446.5 319,391.4 296,414.9 262,377.2 269,419.4 283.2,440.5 260.5,386.9 269.2,448.7 308.9,404.3 276.9,406.9 272.5,443.1 342.7,393.8 322.1,392.6 307.2,366 258.3,427.3 296.3,439.1 308.2,370.4"/></g>
<g class="p1"><polyline id="e56" points="310.9,446.3 318.8,405.5 305.3,373.6 305.2,367.6 305.3,377.6 309.2,386.8 261.4,432.3 305.5,422.7 306.3,393.6 282.8,402 314.3,402.9 298.8,398.2 268.9,395.4 282.6,411.7 297.4,401 311.2,422.8 314.8,377.6 304,454.1 308.8,392.8 287.6,401.7 306.4,405.9 312.6,360 309.8,403 258.3,408.6 313.5,398.8 307.6,393.9 307.1,357.1 302.8,382.8 298.5,394.7 285.6,441 299,375.7 303.5,387.4"/></g>
<g class="p2"><polyline id="e57" points="258.1,429.6 268.2,437.3 276.2,387 267.9,372.3 314.3,420.6 273.7,380.1 300.9,422.2 279.3,406.5 321.6,396.9 271.2,441.6"/></g>
<g class="p3"><polyline id="e58" points="255.1,372.8 261.7,400.6 275.2,385.2 317.1,356.4 255.6,412.6"/></g>
<g class="p0"><polyline id="e59" points="311.3,397.9 278.5,372.1 306.4,418.8 299.5,406.3 288.2,431 276.3,356.6 268.9,445 263,411.2 278.3,436.7 272.3,423.9 352.5,368.1 280.2,372.5 266.2,409.1 308.7,361.6 262.9,417.4 281.4,410.4 276.7,417.4 335.4,409 315.5,376.4 267.4,388 276.2,416.4 276,430 325.3,393.1 268.2,442 270.9,418.8 288.3,378.4 262,439 321,373.9 269.3,392.3 307.6,379.1 266.5,396.5 277.8,420.6 315.4,414.5 310.9,420.8 273.6,387.2 280.4,377.3 304,394.9 295.8,433.6 321.3,424.5 307.6,439.6 290.9,406.2 275.4,420.3 284.3,361.2 283.9,395.2 313.1,380.9 266.6,365.7 296.6,373.2 279.1,423.5 279.2,384.5 323.8,385.8 301.7,376.6 296.3,392"/></g>
<g class="p1"><polyline id="e60" points="261.7,410.2 300.3,426.3 294,394.2 316.9,387.4 306.9,436.9 296.4,460.6 304.3,383.3 305.1,388.2 268.3,410.7 303,378.9 301.4,382.8 276.6,409.3 298.8,430.4 265.4,391.4 299.5,393.6 284,412.2 281.2,387.9 316.4,391.1 268.2,437.1 297.2,361.1 307,426.1 270.8,417.9 274.8,385.5 306.6,376 313.3,406.8 304.8,382 290.9,405.9 311.9,365.5 310.2,423.9"/></g>
<g class="p2"><polyline id="e61" points="326.9,406.9 294,431.1 269.8,404.2 312.6,417.7 310.3,386.3 260.3,410.9"/></g>
<g class="p3"><polyline id="e62" points="308,410.1 279.7,412.7 280.4,411.5"/></g>
<g class="p0"><polyline id="e63" points="289.4,427.2 303.7,453.6 361.8,359.6 264,452 284.7,393.9 310,421.1 318.4,405.8 283.4,425 274.9,394.1 291,435.9 286.8,417.6 300,386.4 303.6,366.9 282,401.3 310.1,388.1 254.2,414.5 269,409.3 301.4,426.7 264.5,424.2 298.7,367.5 313.4,378.6 308.2,396 277.7,391.2 299.2,406 262,410.1 285.7,422.1 284.8,436.8 286.7,436.5 281.7,388.9 309.4,409.9 256.7,466.2 260,409 269.4,458.7 308.4,416.4 312.8,386.2 307.8,388.2 312.4,439.6 285.5,374.9 308.9,372.7 270.3,440.3 306.7,393.5 314,396.9 318.9,397.5 295.1,384.9 295,393.8 298.7,366.4 310.3,391.4 283.3,356.5 330.9,377.2 306.8,412.2 292.3,466.3 261,343.7"/></g>
<g class="p1"><polyline id="e64" points="299.9,429.2 262.2,399 268.1,441.7 309.5,430 302.8,392.3 304.7,384.8 264.9,446 291.6,399.1 303,390.6 301.2,390.4 269.8,392.7 299.9,412.8 271.9,357.2 301.8,417.1 304.8,386.3 295.6,371.8 302.9,394.6 302.3,408.2 272,375.3 301.5,382.6 305.4,420.3 302.6,421 256.9,376.9"/></g>
<g class="p2"><polyline id="e65" points="318.1,408.6 311.2,371.6 307.6,394.6 261.7,408.5 263.7,403.1 319.3,385.9 268.1,422.9 265.6,387.8 312.4,382 273.5,406.7 308,446.1 281,418.7 316,421.6"/></g>
<g class="p3"><polyline id="e66" points="265.5,388.2 311.6,386.3"/></g>
<g class="p0"><polyline id="e67" points="260.9,414.6 297.7,396.8 275.7,457.6 255.6,398.5 254.8,418.8 286.1,375.5 269.2,419.4 267.1,422.5 259.9,397.9 284.6,395.8 302.1,390.4 259.1,418.6 303.8,386.4 260.5,401.9 265.4,454.6 301.7,374.6 306.8,398.7 354.6,405.9 262.8,382 280.5,387.8 267.4,388 290.7,367.4 263.4,428.2 303.6,368.9 258.3,418.9 271.6,429.1 269.6,424.3 258.9,392.4 272.4,412 351.1,422.6 284.2,394.3 277.7,382.3 298.7,364.8 260.6,373.6 346.7,405.8 266.5,465.8 309.7,398.2 330.5,365.2 274.9,438.3 347.9,365.5 305.9,392.3 301.5,434 261.2,407.4 307.1,399.4 303.6,448.9 296.6,416.6 301.4,392.4 275,403.1 319.5,429.6"/></g>
<g class="p1"><polyline id="e68" points="302.7,389.2 266.6,424.2 307,446.3 260,374.7 313.5,420.7 309,370.5 296.3,384.3 260,406.7 273.9,430.4 305.7,421.3 308.2,397.9 309,421.1 306,427.8 276.1,428 307.2,389.3 313.7,415.4 296.8,394.9 299.8,363.6 301.9,388.7 258.1,408.2 309.6,377.9 313.4,393.8 305.9,378.6 301.5,357 307.8,361.5"/></g>
<g class="p2"><polyline id="e69" points="294.2,438.7 269.9,423.9 302.2,441.3 312.6,401.9 286.9,382.6 313.1,431.2 267.9,407.2 274.6,411.8"/></g>
<g class="p3"><polyline id="e70" points="318.6,320.4 323,397.5 268.6,418.6 317.7,344.4 303,426.4 268.9,426 300.5,401.2 314.3,396.2"/></g>
<g class="p0"><polyline id="e71" points="261.1,418.4 273,405 299.9,412.2 266.8,392.7 310.5,376.5 347.9,380.6 287.8,411.7 314.4,441.1 314.3,413 265,390.4 276.9,390.9 282.8,400.5"/></g>
<g class="p1"><polyline id="e72" points="307.5,428.4 308.5,387.2 299,422.5 303.8,407.4 301.6,386.6 306,410.3"/></g>
<g class="p2"><polyline id="e73" points="266.4,406.9 314.6,404.7 315.4,390.5 266.7,396.7 314.5,400.2"/></g>
<g class="p3"><polyline id="e74" points="311.1,375 282.1,412.3"/></g>
<use href="#e0" class="q0"/>
<use href="#e1" class="q1"/>
<use href="#e2" class="q2"/>
<use href="#e3" class="q3"/>
<use href="#e4" class="q0"/>
<use href="#e5" class="q1"/>
<use href="#e6" class="q2"/>
<use href="#e7" class="q3"/>
<use href="#e8" class="q0"/>
<use href="#e9" class="q1"/>
<use href="#e10" class="q2"/>
<use href="#e11" class="q3"/>
<use href="#e12" class="q0"/>
<use href="#e13" class="q1"/>
<use href="#e14" class="q2"/>
<use href="#e15" class="q3"/>
<use href="#e16" class="q0"/>
<use href="#e17" class="q1"/>
<use href="#e18" class="q2"/>
<use href="#e19" class="q3"/>
<use href="#e20" class="q0"/>
<use href="#e21" class="q1"/>
<use href="#e22" class="q2"/>
<use href="#e23" class="q3"/>
<use href="#e24" class="q0"/>
<use href="#e25" class="q1"/>
<use href="#e26" class="q2"/>
<use href="#e27" class="q3"/>
<use href="#e28" class="q0"/>
<use href="#e29" class="q1"/>
<use href="#e30" class="q2"/>
<use href="#e31" class="q3"/>
<use href="#e32" class="q0"/>
<use href="#e33" class="q1"/>
<use href="#e34" class="q2"/>
<use href="#e35" class="q3"/>
<use href="#e36" class="q0"/>
<use href="#e37" class="q1"/>
<use href="#e38" class="q2"/>
<use href="#e39" class="q3"/>
<use href="#e40" class="q0"/>
<use href="#e41" class="q1"/>
<use href="#e42" class="q2"/>
<use href="#e43" class="q3"/>
<use href="#e44" class="q0"/>
<use href="#e45" class="q1"/>
<use href="#e46" class="q2"/>
<use href="#e47" class="q0"/>
<use href="#e48" class="q1"/>
<use href="#e49" class="q2"/>
<use href="#e50" class="q3"/>
<use href="#e51" class="q0"/>
<use href="#e52" class="q1"/>
<use href="#e53" class="q2"/>
<use href="#e54" class="q3"/>
<use href="#e55" class="q0"/>
<use href="#e56" class="q1"/>
<use href="#e57" class="q2"/>
<use href="#e58" class="q3"/>
<use href="#e59" class="q0"/>
<use href="#e60" class="q1"/>
<use href="#e61" class="q2"/>
<use href="#e62" class="q3"/>
<use href="#e63" class="q0"/>
<use href="#e64" class="q1"/>
<use href="#e65" class="q2"/>
<use href="#e66" class="q3"/>
<use href="#e67" class="q0"/>
<use href="#e68" class="q1"/>
<use href="#e69" class="q2"/>
<use href="#e70" class="q3"/>
<use href="#e71" class="q0"/>
<use href="#e72" class="q1"/>
<use href="#e73" class="q2"/>
<use href="#e74" class="q3"/>
<path d="M253.1 409.3L254.6 409.0L256.1 408.8L257.6 408.5L259.1 408.2L260.6 408.0L262.1 407.7L263.6 407.4L265.1 407.2L266.6 406.9L268.1 406.6L269.6 406.4L271.1 406.1L272.6 405.8L274.1 405.6L275.6 405.3L277.1 405.0L278.6 404.8L280.1 404.5L281.6 404.2L283.1 404.0L284.6 403.7L286.1 403.4L287.6 403.1L289.1 402.9L290.6 402.6L292.1 402.3L293.6 402.1L295.1 401.8L296.6 401.5L298.1 401.3L299.6 401.0L301.1 400.7L302.6 400.5L304.1 400.2L305.6 399.9L307.1 399.7L308.6 399.4L310.1 399.1L311.6 398.9L313.1 398.6L314.6 398.3L316.1 398.1L317.6 397.8L319.1 397.5L320.6 397.3L322.1 397.0L323.6 396.7L325.1 396.5L326.6 396.2L328.1 395.9L329.6 395.7L331.1 395.4L332.6 395.1L334.1 394.8L335.6 394.6L337.1 394.3L338.6 394.0L340.1 393.8L341.6 393.5L343.1 393.2L344.6 393.0L346.1 392.7L347.6 392.4L349.1 392.2L350.6 391.9L352.1 391.6L353.6 391.4L355.1 391.1L356.6 390.8L358.1 390.6L359.6 390.3L361.1 390.0L362.6 389.8L364.1 389.5L365.6 389.2L367.1 389.0L368.6 388.7L370.1 388.4L371.6 388.2L373.1 387.9L374.6 387.6L376.1 387.3L377.6 387.1L379.1 386.8L380.6 386.5L382.1 386.3L383.6 386.0L385.1 385.7L386.6 385.5L388.1 385.2L389.6 384.9L391.1 384.7L392.6 384.4L394.1 384.1L395.6 383.9L397.1 383.6L398.6 383.3L400.1 383.1L401.6 382.8L403.1 382.5L404.6 382.3L406.1 382.0L407.6 381.7L409.1 381.5L410.6 381.2L412.1 380.9L413.6 380.7L413.8 380.6" stroke="#fff" stroke-width="2.2" stroke-opacity=".5" fill="none" stroke-linejoin="round"/>
<path d="M253.1 409.3L254.6 409.0L256.1 408.8L257.6 408.5L259.1 408.2L260.6 408.0L262.1 407.7L263.6 407.4L265.1 407.2L266.6 406.9L268.1 406.6L269.6 406.4L271.1 406.1L272.6 405.8L274.1 405.6L275.6 405.3L277.1 405.0L278.6 404.8L280.1 404.5L281.6 404.2L283.1 404.0L284.6 403.7L286.1 403.4L287.6 403.1L289.1 402.9L290.6 402.6L292.1 402.3L293.6 402.1L295.1 401.8L296.6 401.5L298.1 401.3L299.6 401.0L301.1 400.7L302.6 400.5L304.1 400.2L305.6 399.9L307.1 399.7L308.6 399.4L310.1 399.1L311.6 398.9L313.1 398.6L314.6 398.3L316.1 398.1L317.6 397.8L319.1 397.5L320.6 397.3L322.1 397.0L323.6 396.7L325.1 396.5L326.6 396.2L328.1 395.9L329.6 395.7L331.1 395.4L332.6 395.1L334.1 394.8L335.6 394.6L337.1 394.3L338.6 394.0L340.1 393.8L341.6 393.5L343.1 393.2L344.6 393.0L346.1 392.7L347.6 392.4L349.1 392.2L350.6 391.9L352.1 391.6L353.6 391.4L355.1 391.1L356.6 390.8L358.1 390.6L359.6 390.3L361.1 390.0L362.6 389.8L364.1 389.5L365.6 389.2L367.1 389.0L368.6 388.7L370.1 388.4L371.6 388.2L373.1 387.9L374.6 387.6L376.1 387.3L377.6 387.1L379.1 386.8L380.6 386.5L382.1 386.3L383.6 386.0L385.1 385.7L386.6 385.5L388.1 385.2L389.6 384.9L391.1 384.7L392.6 384.4L394.1 384.1L395.6 383.9L397.1 383.6L398.6 383.3L400.1 383.1L401.6 382.8L403.1 382.5L404.6 382.3L406.1 382.0L407.6 381.7L409.1 381.5L410.6 381.2L412.1 380.9L413.6 380.7L413.8 380.6" stroke="#000" stroke-width="1.2" fill="none" stroke-linejoin="round"/>
<path d="M253.5 474.4v-3.0H327.75v3.0zM328.75 474.4v-3.0H331.25v3.0zM331.5 474.4v-3.0H333v3.0zM334.25 474.4v-3.0H335v3.0zM335.25 474.4v-3.0H336.5v3.0zM337.5 474.4v-3.0H338.25v3.0zM338.75 474.4v-3.0M340.25 474.4v-3.0M341.75 474.4v-3.0M342.75 474.4v-3.0M344.25 474.4v-3.0H345v3.0zM346.5 474.4v-3.0H347.5v3.0zM348 474.4v-3.0M351.25 474.4v-3.0M352.5 474.4v-3.0M353 474.4v-3.0H353.75v3.0zM354.5 474.4v-3.0M357.25 474.4v-3.0M358 474.4v-3.0M360 474.4v-3.0M361.75 474.4v-3.0M364 474.4v-3.0M365.25 474.4v-3.0M366 474.4v-3.0M368 474.4v-3.0M371.25 474.4v-3.0M375.75 474.4v-3.0M377 474.4v-3.0H378v3.0zM390 474.4v-3.0M391.25 474.4v-3.0M414.25 474.4v-3.0" stroke="#000" stroke-width=".5" fill="#000"/>
</g>
<text class="t" text-anchor="end" x="241.4" y="464.9">-1.0</text>
<text class="t" text-anchor="end" x="241.4" y="434.9">-0.5</text>
<text class="t" text-anchor="end" x="241.4" y="405.0">0.0</text>
<text class="t" text-anchor="end" x="241.4" y="375.1">0.5</text>
<text class="t" text-anchor="end" x="241.4" y="345.1">1.0</text>
<text class="t" text-anchor="middle" x="248.2" y="485.0">0</text>
<text class="t" text-anchor="middle" x="290.1" y="485.0">250</text>
<text class="t" text-anchor="middle" x="332.0" y="485.0">500</text>
<text class="t" text-anchor="middle" x="373.9" y="485.0">750</text>
<text class="t" text-anchor="middle" x="415.8" y="485.0">1000</text>
<path d="M245.0 462.2h-2.2M245.0 432.3h-2.2M245.0 402.4h-2.2M245.0 372.5h-2.2M245.0 342.5h-2.2M248.2 474.4v2.2M290.1 474.4v2.2M332.0 474.4v2.2M373.9 474.4v2.2M415.8 474.4v2.2" stroke="#333" stroke-width=".6" fill="none"/>
<text class="ti" x="245.0" y="307.8">NPP</text>
<text class="ax" text-anchor="middle" textLength="42.7" lengthAdjust="spacingAndGlyphs" x="333.2" y="496.7">mg C/m^2</text>
<text class="ay" text-anchor="middle" transform="translate(224.7 393.7) rotate(-90)">ENS</text>
<clipPath id="c5"><rect x="458.7" y="313.8" width="176.3" height="160.6"/></clipPath>
<rect x="458.7" y="313.8" width="176.3" height="160.6" fill="#EBEBEB"/>
<g clip-path="url(#c5)">
<path d="M489.2 313.8V474.4M540.4 313.8V474.4M591.5 313.8V474.4M458.7 445.4H635.0M458.7 416.1H635.0M458.7 386.7H635.0M458.7 357.4H635.0M458.7 328.0H635.0" stroke="#fff" stroke-width=".6" stroke-opacity=".9" fill="none"/>
<path d="M463.7 313.8V474.4M514.8 313.8V474.4M565.9 313.8V474.4M617.0 313.8V474.4M458.7 460.1H635.0M458.7 430.8H635.0M458.7 401.4H635.0M458.7 372.0H635.0M458.7 342.7H635.0" stroke="#fff" stroke-width=".95" fill="none"/>
<path d="M466.1 393.6L467.6 394.4L469.1 395.2L470.6 396.0L472.1 396.7L473.6 397.5L475.1 398.3L476.6 399.1L478.1 399.9L479.6 400.8L481.1 401.6L482.6 402.5L484.1 403.3L485.6 404.1L487.1 404.9L488.6 405.7L490.1 406.4L491.6 407.1L493.1 407.8L494.6 408.4L496.1 409.1L497.6 409.7L499.1 410.3L500.6 410.9L502.1 411.5L503.6 412.1L505.1 412.7L506.6 413.2L508.1 413.7L509.6 414.2L511.1 414.7L512.6 415.2L514.1 415.6L515.6 415.9L517.1 416.3L518.6 416.6L520.1 416.9L521.6 417.2L523.1 417.4L524.6 417.5L526.1 417.6L527.6 417.6L529.1 417.6L530.6 417.5L532.1 417.4L533.6 417.3L535.1 417.3L536.6 417.3L538.1 417.3L539.6 417.2L541.1 417.2L542.6 417.2L544.1 417.2L545.6 417.1L547.1 417.0L548.6 416.8L550.1 416.6L551.6 416.4L553.1 416.2L554.6 416.0L556.1 415.8L557.6 415.6L559.1 415.3L560.6 415.0L562.1 414.7L563.6 414.3L565.1 413.9L566.6 413.4L568.1 413.0L569.6 412.5L571.1 412.0L572.6 411.6L574.1 411.1L575.6 410.6L577.1 410.2L578.6 409.7L580.1 409.2L581.6 408.7L583.1 408.1L584.6 407.6L586.1 407.1L587.6 406.6L589.1 406.0L590.6 405.5L592.1 404.9L593.6 404.2L595.1 403.6L596.6 402.9L598.1 402.3L599.6 401.6L601.1 401.0L602.6 400.3L604.1 399.7L605.6 399.1L607.1 398.4L608.6 397.8L610.1 397.1L611.6 396.5L613.1 395.8L614.6 395.1L616.1 394.4L617.6 393.6L619.1 392.9L620.6 392.1L622.1 391.3L623.6 390.5L625.1 389.7L626.6 388.9L627.1 388.6L627.1 451.8L626.6 451.6L625.1 451.1L623.6 450.5L622.1 450.0L620.6 449.4L619.1 448.9L617.6 448.5L616.1 448.0L614.6 447.6L613.1 447.2L611.6 446.8L610.1 446.5L608.6 446.1L607.1 445.8L605.6 445.4L604.1 445.1L602.6 444.8L601.1 444.4L599.6 444.1L598.1 443.7L596.6 443.4L595.1 443.1L593.6 442.8L592.1 442.4L590.6 442.1L589.1 441.8L587.6 441.4L586.1 441.1L584.6 440.8L583.1 440.6L581.6 440.3L580.1 440.0L578.6 439.7L577.1 439.4L575.6 439.1L574.1 438.7L572.6 438.4L571.1 438.0L569.6 437.7L568.1 437.3L566.6 436.9L565.1 436.6L563.6 436.2L562.1 435.8L560.6 435.4L559.1 435.0L557.6 434.5L556.1 434.0L554.6 433.5L553.1 433.0L551.6 432.6L550.1 432.2L548.6 431.8L547.1 431.4L545.6 431.0L544.1 430.6L542.6 430.1L541.1 429.7L539.6 429.2L538.1 428.7L536.6 428.2L535.1 427.7L533.6 427.1L532.1 426.5L530.6 425.9L529.1 425.3L527.6 424.6L526.1 424.0L524.6 423.4L523.1 422.8L521.6 422.3L520.1 421.8L518.6 421.2L517.1 420.7L515.6 420.1L514.1 419.6L512.6 419.0L511.1 418.5L509.6 418.0L508.1 417.5L506.6 416.9L505.1 416.4L503.6 415.8L502.1 415.3L500.6 414.7L499.1 414.1L497.6 413.4L496.1 412.8L494.6 412.2L493.1 411.5L491.6 410.8L490.1 410.1L488.6 409.4L487.1 408.6L485.6 407.9L484.1 407.0L482.6 406.2L481.1 405.3L479.6 404.5L478.1 403.7L476.6 402.8L475.1 402.0L473.6 401.2L472.1 400.5L470.6 399.7L469.1 398.9L467.6 398.1L466.1 397.4Z" fill="#999" fill-opacity=".42"/>
<g class="p0"><polyline id="f0" points="494.2,391.6 472.1,405.6 476.6,426.5 546,424.8 478.6,401.8 476.6,408.7 516.2,371.1 493.6,394.9 545.9,455.7 475,350.7 518,421.4 473.5,381.1 473.7,419.2 485.1,428.7 498,426.9 479.6,405.6 501.1,406.5 478.1,397.2 499.8,448.9 472.8,394.9 494.5,416.4 514.7,414.1 486.9,398 517.8,409.6 471.9,419.4 474.6,396.7 519.7,412 507.4,408.3 531.3,418.6 495.7,443.2 493.5,399 505.2,406.9 473.1,398.3 504.3,439.6 473.8,378.1 474.7,431.7 504.9,415.5 475.6,438 498.6,440.2 500.7,436.5 486.8,386.4 471.8,418.6 471.1,366.8 537.5,410.6 497.5,366.9 500.2,428 498.2,455.2 485.2,436.1"/></g>
<g class="p1"><polyline id="f1" points="469.4,423.2 484.7,442.7 469.9,400.1 472.1,419.4 480.4,420.2 470.7,357.7 478.3,414.3 470.3,413.6 471.3,417 474,417.5 469.5,366.2 472,362.6 475.6,413.3 474.6,406.4 470.8,390.9 475.2,420.4 470.2,373.3 472,417.3 474.4,411.8 481.5,367.9 481,387.6 475.4,406.8 472.6,400.6 468.4,432.4 475.9,430.5 475.3,398.5 469.7,377.4 477.5,375.1 472,410.5"/></g>
<g class="p2"><polyline id="f2" points="468.9,417.8 469.1,381.2 469.6,405.6 473.2,395.3 469.2,416.1 470.6,377.7 470.5,408 467.5,406.8 470.6,366.6 467.8,407.2"/></g>
<g class="p3"><polyline id="f3" points="469.8,405 469.4,402 471.6,410.2"/></g>
<g class="p0"><polyline id="f4" points="491,404.1 560.9,391.5 518,429.8 472.2,410.6 477.2,428.2 487.6,434.3 488.8,397.7 494.1,374.3 505.5,421.8 495.6,424.5 474.2,412.1 628.2,419.1 529.9,397.6 473.7,387.4 474.5,412.3 493.7,389.1 529.8,415.5 475.9,402.8 483.6,411.3 539.1,455.5 586.2,435.9 509.1,410.4 472.6,396.8 471.6,404.3 500.4,413.6 472.4,367.5 594.2,435.3 522.7,413.8 482.7,399.7 505.6,418.8 472.6,404.6 475.7,399.8 474.9,400.1 486.5,349.6 500.3,428.8 511.9,421.6 472.4,395.2 479.9,427.1 539.3,390.9 543,416.1 488.2,415.9 481,396.5 516.2,448.2 472.1,372.2 494.3,418.4 478.1,389 534.4,450.9 494.8,433.8 472.7,380.2 511.3,404.6"/></g>
<g class="p1"><polyline id="f5" points="475.4,391.9 474.1,411.7 469,409.1 470.7,374.2 469.7,380.9 473.1,380.6 468.5,388.3 469.1,392.4 475.9,407 476.2,401.1 474.7,431 477.3,409.6 476.8,395 473.2,403.6 484.6,369.3 473.2,347.9 471.9,403.7 478.3,387.4 469.1,399.9 474.1,429.3 468.6,405.4 473,420.7 472.2,405.6 474.3,392.6 474,409.3 470.9,351.1 471.5,400.4"/></g>
<g class="p2"><polyline id="f6" points="473.4,420 468.9,367.4 470.5,346.3 469.4,377.4 470.9,449.1 471.3,385.5 471.5,361.2 469.3,414 467.4,366.6 468.1,390.2 468.7,374.6"/></g>
<g class="p3"><polyline id="f7" points="468.1,388.9 470.3,439"/></g>
<g class="p0"><polyline id="f8" points="471,373 489.9,415.8 472.4,393 474.7,398.9 476.3,414.4 504.5,417.4 471,373.2 491.5,454.4 554.5,400.2 520.3,402.7 490.9,397 491.1,435.6 477.1,381.4 472.2,376.5 487.5,439.4 484.3,403.8 485.4,386.4 485.2,415.2 474.4,393.9 489.5,391 489.8,419.6 472.3,391.7 494.1,398.1 480.2,392.2 494.4,420.7 520.5,404 526.4,392.4 571.6,448.6 488.9,405.7 476.4,396.7 481.5,401 539.4,442.9 493.8,386.4 497.2,392.7 478.6,392 491.3,404.1 492.6,407.8 540,465.2 504.8,451.3 477.4,421.8 471.4,381.9 494.2,401.3 479.4,395.6 495.8,432.8 496.4,377.8 502.1,392.1 515.6,401.9 473,385.7 492.2,416.5 500,445.2 543.9,429.7 485.8,404.4"/></g>
<g class="p1"><polyline id="f9" points="468.8,408.1 473.4,391.8 469.1,416.4 475.1,372.7 469,415.8 471,398.5 478.7,370.6 470.1,408.9 474.7,390.4 470.7,356.8 472.8,389.4 476.1,377.5 470.3,405 468.1,415 477,394 471,420.6 470.3,406.1 468.4,397.3 471,402.8 476.5,413.1 470.6,430.9"/></g>
<g class="p2"><polyline id="f10" points="468.9,393.1 470.3,438.5 468,402.7 469.6,368 469.5,388.2 471.6,398.8 471.9,407.7 472,379.6 467.4,411.7 469,424.5 472.2,380.3 471.4,369.5"/></g>
<g class="p3"><polyline id="f11" points="469,408.9 468.9,374.4 467.4,445.5 471.2,416.6 468.3,407.4"/></g>
<g class="p0"><polyline id="f12" points="471.8,394.8 491.8,410.1 480.4,355.3 477.1,383.5 511.2,376 522.8,438.3 521,435.3 482.6,431.5 472.3,367.5 495.5,401.5 486.7,400.3 475.7,414.3 531.7,406.3 477.3,411.2 494.9,383.6 492.1,422.1 478.3,408.3 488.9,374 519.3,439.5 480.3,370.6 518.2,408.5 507,441.6 506.7,428.6 498.3,412.8 478.4,440.9 518.7,434.5 477.2,431.4 486.5,366.7 477.6,376.8 488.8,456.5 504.5,415 489.6,390.9 474.9,413.8 474.4,424.7 498,432.7 539.2,434.2 557.8,465.4 502,378.2 524.5,409.5 477,445.3 481,432.4 503.1,434.9 511.9,412.2 479.3,435.4 513.1,437.6 474.7,393.6 494.4,404.6 487.3,384.7 484.3,392.5 493.9,415.2"/></g>
<g class="p1"><polyline id="f13" points="470.5,412.9 471.2,342.5 470.4,384.3 471.1,396.3 475.4,362.4 470.1,410.3 475.2,396.7 480.3,407.3 471.4,408.6 469.1,427.9 477.7,390.6 478.2,364.8 469.9,388.8 469.6,405.6 477.5,436.3 471.6,429.4 475.6,407 474.7,411.6 477.5,390.3 479.6,397.1 473.9,354.3 469.1,408 470.4,390.4"/></g>
<g class="p2"><polyline id="f14" points="468.7,395.6 468.6,398.7 471.9,420.4 468.2,417.1 468.4,423.4 468.3,421 469.7,371.7 473,375.2 470.4,391.4 469.5,347.4 473.4,413.5 469.4,418.7 470.5,394.7 467.7,413.1 472.3,413.9"/></g>
<g class="p3"><polyline id="f15" points="469.6,386.2 469.7,385.8"/></g>
<g class="p0"><polyline id="f16" points="510.3,425.1 480,391.2 479.2,421.7 498.2,391.6 485.7,383.7 494.1,425.9 513.4,364.4 516,400.9 485,426.9 499.5,458.1 478,393.4 479.1,452.7 488.3,411.3 556.1,428.2 502.8,401.6 475.9,393.8 491.1,409.8 484.3,401.1 486.8,390.7 520.4,373.4 498.4,393.9 514.7,431.3 476.8,371.1 475,399.4 483,419 478.3,429.4 474.3,416.2 475,367.8 475.9,372.3 491.6,410.3 491.9,417.6 503.5,428.9 502.2,431.4 472.3,420.4 488.7,409.7 523,447.2 508.3,401.7 494.6,392.2 501.9,458.6 494.9,469.9 477.8,371.1 530.7,395.5 486.8,386.3"/></g>
<g class="p1"><polyline id="f17" points="474,397 473.4,368.4 478.7,405.1 479.6,403.5 469.9,369.1 468.4,398.6 473.3,425.2 468.8,343.4 477,399.3 474.5,394.4 469.4,417.3 473.3,416 477.1,411.6 477.3,410.3 469.5,381.7 471.8,373.4 480.8,400.4 473.6,378.6 470.3,378 473.6,376 470.9,383.6 475.5,412 473.6,366.6 478.9,390.4 471.1,414.5 471.2,400.7 472.1,421.8 468.3,393.9"/></g>
<g class="p2"><polyline id="f18" points="471.7,403.2 467.9,396.4 472.1,364.4 470.4,388.9 470.4,407.5 471.1,385.1 467.7,401.1 469.6,410.8 469.5,363.3 470.6,377 469.1,369.4 468.2,419.1 467.4,392.5 467.8,375.9"/></g>
<g class="p3"><polyline id="f19" points="468.9,419.2 469.6,420.4 468.5,376.8 468.2,392.6 469,365.6"/></g>
<g class="p0"><polyline id="f20" points="491.1,392.2 498.9,404.4 545.1,439.4 497.8,409.4 479.6,400.8 486.2,410.2 482.8,418.9 483.1,403 550.9,451.3 483,375.5 497.7,450.7 496.3,412 488.6,364.4 519.1,434.7 495.8,449.1 482.1,399.3 496.1,427.8 555,391.6 493.8,419 489.9,416.3 502.7,426.5 471.8,408 504.7,451.4 478,380.2 506.3,418.3 536.2,433.3 476,420.9 477.3,389 490.7,436.2 491.9,414 504,452.4 505.8,423.2 492.1,449.8 473.4,395.4 504.1,426.6 473.9,364.6 571,429.2 497.3,420.9 537.9,450.4 541.9,415.8 517,425 492.3,395.4 484.2,392.9 509.6,412.8 512.7,413.9 474.4,412.4"/></g>
<g class="p1"><polyline id="f21" points="472.5,422.3 484.5,431.5 473.4,410.6 468.8,414.9 472.4,389.4 472.8,424.2 472.8,394.3 470.5,387 469.9,393.7 470.3,430.1 470.7,383.4 483.9,402.6 470.1,411.1 472.4,402.9 476.8,396.8 470.2,395.8 473.1,405.3 477.9,427.9 474,428.6 471.5,379.1 471.3,384.3 471.6,398.2 476,405.4 470.3,413.8 468.9,385.8 469.6,403.7 468.3,371.5 474.4,404.9"/></g>
<g class="p2"><polyline id="f22" points="469.3,405.5 470.5,356.8 467.3,393.4 468.4,375.2 471.8,428.5 468.3,391.6 470.6,388.8 468.1,381 468.1,386.4 469.4,372.3 469.4,368.5 470,402.9 467.5,386.8"/></g>
<g class="p3"><polyline id="f23" points="469.8,408.8 470.4,386.2 469.5,425"/></g>
<g class="p0"><polyline id="f24" points="497.2,414.9 483.5,403.6 517.7,383.3 476.3,366.9 477.9,404.3 511.8,406.9 609.3,401.9 504.5,439.8 534.2,450.3 496.6,402.8 539.1,464.9 513.2,399.4 517.5,400.4 619.7,395.5 485.1,386.2 487.9,414.4 470.4,393.6 483.5,386.9 488.1,414.6 512.9,435.5 524.8,442.1 471.5,420.1 474.7,382.7 507.9,449.4 481.3,438.3 510.1,434.1 497.9,395.5 473.4,374.5 472.7,412.7 486.3,439 510,413.6 495.3,404.1 485.4,405.5 486.8,386.5 486.6,439.7 496.7,392.6 491.4,411.8 511.4,434.4 487.2,397.6 499.4,403.2 544.5,454.9 474.4,372.6 480.4,378.9 485.1,412.9 491.2,364.2 481.6,405.2 494,428.7"/></g>
<g class="p1"><polyline id="f25" points="471,386.7 474,397.8 471.2,414.1 470.6,405.1 475.2,386.6 470.2,362 482.3,380.7 472.2,409.9 470.4,400 477.5,379.9 473.5,434.3 472.1,363.3 472.3,391.1 480.2,404.6 469.3,396.6 469.3,402.9 469.3,385.2 471.4,423.4 474.6,373.6 475.4,414.4 470.3,419 480.5,405.1 474.6,395 476.3,362.7 469.2,392.9 473.1,378.7 476.8,407.7 473.5,423.4 470.8,380.6 471.7,416.6"/></g>
<g class="p2"><polyline id="f26" points="468.8,370.1 471.2,434.5 468.1,404.3 469.1,378.1 468.7,371.9 470.7,379.4 469.5,388.2 472.5,342.1 469.9,413 467.4,389 474.1,390.8 468.9,424.6"/></g>
<g class="p3"><polyline id="f27" points="471.9,411.5 471.9,411.5"/></g>
<g class="p0"><polyline id="f28" points="531.9,431.9 525.8,418.2 490.3,427.7 511.9,403.9 510.5,408.3 558.3,393 477.9,406.3 474.6,408.9 542.2,462.1 501.1,388.8 472.9,397.4 482.7,415.7 516.9,405.8 488.5,400.2 484,403.8 472.3,395.6 486.6,411.8 491.7,397.1 533,375.4 490.5,394.5 478.2,386.2 527.6,417 510.2,433.5 477.8,402.6 502.2,415.2 537.7,439 471.2,391.7 509.8,417.1 565,426.9 509.3,385.6 483.6,430.4 473,400 523.8,430.6 483.5,386.2 549.9,426.7 485.4,439.2 481.3,411.4 529.9,434.9 488.6,447.7 526.2,435.6 486,380.3 512.8,412.4 539.3,467.8 518.9,412.2 482.9,431.7 501.1,380.2 475.3,405.6 487.9,405.3 547.6,410.5 477.9,346.1 472.1,365.2 497.5,412.9"/></g>
<g class="p1"><polyline id="f29" points="470.8,389.3 469.1,370.9 471.1,390.6 477,389 470.5,388.7 473,394.9 470,429.9 470.6,367.1 477,380.3 472.4,412.2 468.8,393.9 472.6,401.1 471,393.2 474,399.2 474.9,358.9 477.3,378.8 472.3,396 471,359 471.7,397.7 473.9,358.4 471.8,387 473.9,411 476.7,387.2 471.6,414.5 473.3,429.8 476.7,435.7 473.1,388.7"/></g>
<g class="p2"><polyline id="f30" points="472.8,398 470.3,392.9 472.7,404.7 467.8,419.2 469.3,413.6 468.9,429.5 469.9,385.1 476,398.7 473.3,393.3"/></g>
<g class="p3"><polyline id="f31" points="468,378.8 470.7,435.9"/></g>
<g class="p0"><polyline id="f32" points="501.8,398.8 497.9,418 493.5,393.3 491.4,439.5 521.2,431.4 484.1,427.6 493.5,408.4 487.3,390.1 511.7,440.9 547.4,434.2 471.7,416.7 524.8,452.1 484,431.9 526.2,455.8 538.5,422.5 475.4,395.2 503.2,386.5 481.5,409.7 519.2,430.2 493.4,403 479.2,406.5 477.7,426.8 554,460 488.2,405.1 535.4,380 493.2,398.5 485.2,424.2 521.4,427.8 492.4,406.9 532.8,429.4 482.6,395.8 549.1,440.8 481.5,412.4 488,424.6 488.9,437.2 556.1,423.9 492.8,404 485.5,425.7 501.3,430.5 491.1,383.5 501.1,408.9 486.3,383 486.5,423 479.7,393.8 472.3,415.8 472.9,386.6 512.1,407.8 479.3,403.4 527.3,417.6 472.1,376.6 488.6,417.3 502.6,418.6 507.2,440.7 488.6,384.4 481.2,414.3 519.2,414.7 470.8,379.3 472.4,397.6"/></g>
<g class="p1"><polyline id="f33" points="471.7,433 470.4,409.7 470.7,429.5 476.7,384.2 469.1,417.4 477.3,376.8 481.4,343.7 472.1,395.7 471.3,424.7 473.7,381.2 471.9,391.1 475.3,426.1 473.6,402.9 479,385.7 469.8,407.2 473.4,420.2 471.3,412.4 471.4,345.1"/></g>
<g class="p2"><polyline id="f34" points="467.7,407.9 468.8,417.8 469.2,396.6 470.4,391.7 471.9,392.1 475.8,402 469.2,359.9 468.6,393.5 471.4,443 472,404.2 468.1,382.3 471.3,381.6"/></g>
<g class="p3"><polyline id="f35" points="470.2,411 467.6,415.4"/></g>
<g class="p0"><polyline id="f36" points="529.8,448.8 489.9,414.9 493.8,423 511.2,422.8 504.1,420.7 519.4,428 471.8,385.6 480.3,425.3 485.2,366.6 473.8,386.3 473.9,400 508.9,453.2 477.3,412.1 552.7,420.2 499.3,417.7 492,408 497.4,420 476,394.1 482.3,411.6 494.2,426.5 486.2,421.6 488.4,389.4 480.4,424.2 478.7,421.4 496,428.3 470.9,400.3 526.5,413.4 474.5,420.5 529.5,428 530.1,429.9 473.5,407.7 552.3,406.2 549.7,440.1 481.7,409.3 502.8,403.7 473.5,356.1 561.6,405.2 506.8,431.5 475.2,378.5 490.8,424.7 550.9,407.8 488.9,417.5 472.5,394.2 496.3,415.1 499.6,397.3 493.5,398 489,409.6 489.1,433.2 514.8,416.7 480,397 473.5,467.3 473.4,402.7 475.4,417.7"/></g>
<g class="p1"><polyline id="f37" points="471.2,392.9 473.2,407.1 473.2,398.3 474.6,401.2 471.8,402.8 476.9,368.3 472.1,386.1 479.9,443.7 469.7,381.8 471.3,393.6 474.2,382.5 479.9,414.2 470.4,413.8 479.7,371.1 473.3,429.7 469.7,393.9 478,402.7 473.2,394 469.4,416.1 481.3,390.9 473.8,428 469.4,431.2"/></g>
<g class="p2"><polyline id="f38" points="472.7,425.3 469.8,370.5 467.2,384.2 474.1,395 467.7,375.4 468.9,395.5 469.9,404.7 469.2,413.9 467.7,392.8"/></g>
<g class="p3"><polyline id="f39" points="469.1,407.2 470.9,442.2 467.9,424.4 469.3,384.7 469.8,394.8 470.4,387.9"/></g>
<g class="p0"><polyline id="f40" points="486.7,381.9 473.7,407.1 514.7,416.8 509.2,422.2 475.2,404.2 489.3,388.9 498.9,395.1 476.3,384.7 472.8,387.1 495.8,407.8 492.6,390.4 481.6,400.8 480.6,400.4 503.6,410.6 495.8,417.8 478.8,390.6 476.3,384.3 478.8,442.8 503.8,450.3 477.5,442.3 488.9,411 487.5,404.5 473.4,435.4 471.6,385.3 531.1,403.1 495.8,420.7 494.4,409 479.3,395 475.8,406.6 481.1,404 498.1,417.9 476.1,387.2 483.1,459.3 491,397.6 533.2,437.6 506.7,429.8 471.3,386.2 497.4,429.7 475.6,425.3 519.4,423.6 531.9,432.9 484.4,408.3 480.4,391.1 472.3,393.1 491.1,434.4 473.2,383.5 498.6,404.8 498.8,407.5 484.4,405.1"/></g>
<g class="p1"><polyline id="f41" points="479,418 473.1,409.4 476.1,411.7 478.1,395.3 469.9,372.8 474,388.4 482.2,401.2 475.1,370.4 468.9,383.7 473,411 473.2,392.2 481,399.5 469.4,397.3 478.2,414.4 470.4,396.3 473.7,401.2 474.1,385.2 471.8,400 471.6,429.9 472.1,403.6 472.4,400.6 470.1,415.9 471.9,412.6 477,373.3 479.6,379.3 472.8,414.6 469.1,390.6 468,391.4 472,412.1 471.7,403.2"/></g>
<g class="p2"><polyline id="f42" points="469.5,377.4 468.9,391.8 468.6,366.8 471.4,355.7 471.5,375.4 469.2,375.9 471.7,390.9 467.6,410.5 467.3,390.5 474.4,403.1 468.8,394.4"/></g>
<g class="p0"><polyline id="f43" points="547.6,438.6 475.1,425.9 473.7,347.5 475.7,394.1 473.2,394.5 485.7,384.3 489.4,396.3 481.6,411.5 520.2,432.2 503.9,437.7 470.6,415.8 470.7,379.8 494.9,388.8 521.5,446.1 472.5,438.4 481.5,412.4 480.9,393.2 475.4,399.4 477.8,449.6 487.5,384.2 475.2,439.4 486.1,406.8 489.3,413.5 491.8,432.6 472.7,414.4 497.8,398.6 490.1,395.8 483.4,452.6 485.3,378.6 478.1,380.9 515.2,398.6 536.2,436.7 485.8,443 484.5,427 520.8,429.8 488,408.6 507.9,403.3 510.4,434.5 506,358.3 524.6,433.3 532.2,438.9 498.9,376.2 563.3,408 473.4,376.7 514.7,426.5 493.7,407.7"/></g>
<g class="p1"><polyline id="f44" points="470.7,394.1 469.3,384 470.9,390.1 470.6,439.4 471.6,406.9 469.3,390.7 474,411.5 474.7,382.3 476,373.1 470.6,396.1 472.3,370 468.7,395.8 469.4,385.2 471.1,406.9 479.3,401.5 479.6,428.2 471,388.1 471.5,380.6 475.5,402.2 469.7,391.2 474.4,451.4 468.6,400.2 472.7,417.2 470.4,423.3 472,418.6 471.5,373 469.8,380.7 468.9,364.5 469.5,380.7 476.5,393.4 468.7,444.2"/></g>
<g class="p2"><polyline id="f45" points="469.1,359.4 470.3,413.9 471.3,404.3 468.4,399.5 467.3,395.3 472,387.2 468.1,361.2 468.1,401.6 467.6,402.8 468.5,375.9"/></g>
<g class="p3"><polyline id="f46" points="468.9,438.6 471.5,415.4 471.3,416.7"/></g>
<g class="p0"><polyline id="f47" points="473.8,386.3 559,417.8 494.5,444.1 506,406.8 506.9,433.5 497.1,415.2 558.4,432.6 519.5,401.4 508.3,421.4 527.3,433.8 536.3,415.5 501.9,351.5 512.6,404.4 530,405.7 496.1,420.9 513.6,435.4 475.3,408.5 479.7,422.2 504.3,423.8 470.8,383.7 502.4,393.4 495.4,388.9 477.3,411.2 481.9,379 488.5,393.9 475,379.6 500.3,440.3 471.6,418.5 479.2,458.7 470.7,411.4 476.5,385.3 504.3,435 477.9,385.1 479.3,408.3 501.6,448 503.4,420.9 495.6,406.2 478.1,424.8 542.6,455.9 499.4,400.5 482.6,375.7 493.7,411.1 482.2,408.5 525.3,400 475.3,387.9 478.4,405 486.3,425.3 473.3,398.2 491.4,378.2 501.9,406.9 473.5,402.1 503,342.9 471.2,386.4 504.2,419.1"/></g>
<g class="p1"><polyline id="f48" points="471.3,410.8 469.8,382.1 469.1,418.1 468.7,386.2 471.1,399.5 475.3,389.1 475.4,381.8 472.3,395.4 471.4,394.5 470.4,418.9 470.3,375.9 474.1,390.3 470.4,400.9 469,417.7 475.5,380.8 474.7,397.1 471.4,401.1 471.7,419.2 473.9,431.5 474.5,374.3 473.7,426.2 477.6,398.3 472,389.8 470.1,386.5 477.9,396.1 471.7,419.7 472.5,403.7 469.7,424.4"/></g>
<g class="p2"><polyline id="f49" points="468.2,374.3 474.3,381.6 469.1,416.2 470.5,426.3 469.4,402 467.6,385.9"/></g>
<g class="p3"><polyline id="f50" points="467.8,427.3 470.1,408.8"/></g>
<g class="p0"><polyline id="f51" points="479.2,391.1 537.4,403.5 481.7,401.9 491.2,411.9 519.4,458.2 472.2,425.2 493.6,436.9 510.8,390.3 497.1,430.7 523.9,413.3 490.6,371.9 559.1,444.8 488.6,441.3 479,429.3 490.5,421 482.6,390.6 499.6,411.5 477.4,430.4 503,426.9 547.4,416.5 515.4,399.5 471.4,408.5 477.8,405.6 482.7,439.1 505.8,420.2 525.6,385.7 488.6,403.8 480.4,412 476.2,416.8 513.2,396.2 483.8,422.5 502.7,421.3 512.6,379.6 494.9,382.3 586.2,431.1 490.3,408.2 536.5,412.3 478.3,386.7 517.9,437.7 508.3,421.6 477.4,374.8 472.3,386.9 480.4,421.8 524.3,407.5 509.3,420.6 482.8,377.5"/></g>
<g class="p1"><polyline id="f52" points="470.8,424.2 473.4,424.5 469.9,391.4 474.5,370.5 469.2,421.8 471.5,357 481.5,405.5 475.2,406.2 473.5,380.6 477.4,412.6 471.2,413.4 471.2,385.5 475.3,387.5 472.1,420.2 473.7,417.5 475.3,394.3 473.8,402.7 476.6,434.8 472.1,417.7 468.6,443.2 471.6,392 472,407.5 474.3,437.1 470.7,401.4 472.9,395.9 470.5,395.1 470.6,417 471.7,416.5 477.6,411.8 475.7,390.4"/></g>
<g class="p2"><polyline id="f53" points="469,342 470.5,378.2 475.3,372.9 467.5,412.4 470.1,369 472.9,429.3 470.1,382.4 468.5,417.8 471.3,370.6 467.9,399.7 472.2,372.3"/></g>
<g class="p3"><polyline id="f54" points="470.9,375.2 469.7,447.7 470,402"/></g>
<g class="p0"><polyline id="f55" points="477.5,431.8 505.1,430 488.6,399.9 491.1,403.8 482.8,426.4 490.6,399.3 491.5,400.3 581.7,446 471.9,407.5 479.6,400.2 500.8,372.2 509.4,398.4 476,403.3 476.3,416.4 489.1,447.7 505.3,429.4 488.4,394.8 505.1,405.1 502.3,418.4 470.6,384.5 513.4,390.5 539.5,400.9 480.4,397.8 483,378.7 474.6,402.7 479.7,419.3 482,447.3 478.5,403.7 472.3,398 492.1,394.1 474.9,423.1 471.6,418.4 484.5,375.3 507.1,404.2 476.2,413.2 480.2,425.1 472.5,408.5 502.6,426.9 566.3,375.6 472.2,386.4 502.8,380.8 528.5,415.7 482.3,381.2 519,425.3 479.2,397.3 491.6,427.6 500.3,386.1"/></g>
<g class="p1"><polyline id="f56" points="470.5,411.8 476.8,419.5 477.4,376 470.9,427.5 477.4,396.3 475.6,360.7 472,414.4 475,398.7 470.7,370.9 469.5,415.3 471.6,428.2 470.9,373 468.8,395.5 475.6,384.9 473.3,403.4 470,394.1 478.5,420.4 473.6,367.4 473.4,402.2 469.8,410.8 474.3,420.3 474.8,373.8 472.4,411 479.8,389.2 469,366.6 472.5,388.3 469,391.8"/></g>
<g class="p2"><polyline id="f57" points="469.3,381.8 471.3,436.2 468.3,399.5 469.7,393.1 469.8,413 468,396 471.7,381.8 468.9,403.6 470.5,396.8 469.5,387.3 472.4,393.9 470.2,351.1 473.5,361.5 468.8,375.9"/></g>
<g class="p3"><polyline id="f58" points="469.9,402.9 469.7,389.9"/></g>
<g class="p0"><polyline id="f59" points="504,433.1 487.8,399.5 470.5,425.4 492.5,391.3 509.7,456 471.8,435.3 486.3,427 487.3,384.8 476.7,401 476.2,403.6 514.2,406.4 480.7,404.1 473,430.4 479.2,408.7 470.5,389.6 582.2,415.9 493.4,423.8 486.4,381.9 536.4,432.2 478.5,402.7 521.1,426.1 492.3,421.2 496.4,395.1 503.8,381.6 493.9,395.8 499.1,397.2 532.9,446.9 474.9,397.6 479.1,402.4 484.9,391.6 494.7,352.7 495.3,455.1 486.9,377.4 478.5,453 533.5,458.7 474.9,437.3 480.5,440.7 541.2,400.9 473.8,414.1 488.6,419.2 533.2,420.4 538.1,439.2 496.1,412 472.4,384.3 491.5,436.5 494.4,429.2"/></g>
<g class="p1"><polyline id="f60" points="470.4,382.6 475.1,395.6 472,415.6 469.2,434.1 470.4,388.5 472.6,367.1 478.1,368.5 470.1,373.3 471.4,380 474.2,380.2 473.6,394.6 473.3,423.4 468.5,394.2 479.8,441.8 468.6,391.8 472.4,354.7 472.6,413.3 480.8,426.9 473.8,421.8 468.9,384.9 470.2,405.6 472.7,435 471.6,379 475.7,438.3 471.5,436.4 470.8,385.3 469.5,398.9 469.4,380.9 471.3,381.8 470.6,424.4 469.6,397 469.5,393.4 481.8,390.9 481.6,394.3 469.3,389.8 473.9,395.9"/></g>
<g class="p2"><polyline id="f61" points="468.2,404.2 469.2,390.9 468.1,411.2 469.1,394.5 470.7,387.5"/></g>
<g class="p3"><polyline id="f62" points="469.7,402.3 471.4,320.4 469.6,388.6"/></g>
<g class="p0"><polyline id="f63" points="476,388.7 506.6,412.9 536.4,450.8 473.1,369.7 479.7,418.9 496.3,424.3 522.2,412.2 498.5,451.3 504.6,437.3 475.2,392.6 489.7,393.4 488.1,409 490,404.2 470.5,413.3 567,461.5 513.5,407.4 472,391 483.9,390.9 508.6,415.9 490,391.3 478.3,416.9 472.9,454.2 513,453 493.3,439.1 604,439.1 504.9,407.8 494.3,434.1 525.9,405.4 477.1,426.7 476.1,391.3 481.5,409.9 470.4,390.9 480.4,402.3 479,365.6 473.4,424.2 474.8,411.8 485,415 547.4,412.7 483.2,368.3 490.5,398.8 483,398.5 488.2,404.8 479.9,429.4 504.2,426.3 487.5,409.3 564.3,421.3 479.4,392.1 476,388.8"/></g>
<g class="p1"><polyline id="f64" points="472.6,349.9 476.4,381.2 471.5,351.1 471.5,411.4 470.2,373.2 469.8,394 468.1,390.6 474.5,384 482.5,385.5 469.1,385.4 477.7,376 471,424.7 482.9,390.8 480.6,428.1 474.8,363.2 474.5,371 472,432.2 477.6,401.8 472.5,398.5 474.5,402.9 472.9,411.9 470.7,366.3 470.6,449.5 468.6,407.6 470.4,372.1 475.9,394.2 469.2,362.6 475.9,388.1 481.8,397.7 471.8,434.6"/></g>
<g class="p2"><polyline id="f65" points="467.6,412.3 469.5,384.1 469.2,403.9 468.1,398.1 471.2,383.6 467.3,401.7 470.8,379.1 469.6,379.6 468.8,428"/></g>
<g class="p3"><polyline id="f66" points="469.3,335.7 467.8,397.7 469.4,437.9"/></g>
<g class="p0"><polyline id="f67" points="519.7,416.8 493.2,407.6 480.9,422.2 516.6,411.2 477.7,423.5 488.1,407.3 487.3,407.6 491.3,421.2 482.2,421.9 495.3,366.1 471.6,395.7 478.2,368.3 494.1,392.6 490.9,386.2 507.8,393.3 492.3,419.6 473.2,409.9 475.8,402.8 501.9,409.3 485.4,420.2 483.6,429.8 482.8,395.8 479.8,386.6 504.6,404.5 485.7,391.6 498.8,415.5 480.5,420.4 473.7,409.5 477.5,408.9 480.6,398.8 481.8,383.6 473.3,420.1 481.8,427.8 517.7,387.3 485.8,419.2 519.6,414.8 487.9,405.8 503.5,407.2 474.7,415.6 497.1,403 499.2,429.8 544.2,416.5 471.2,373.5 485.2,428.9 526,438.3 494.3,411.9 556.5,441.1 474,389.7 532.4,425.4 483.4,425.2 473.5,418.1 503.8,380 488.7,385.4 474.1,416.7 534.3,436 472.7,413.1 488.5,436.2"/></g>
<g class="p1"><polyline id="f68" points="470.9,434 478.3,408.1 474.7,381.3 471.3,349.5 478.2,395 474.3,371 473.6,391 477.6,421.2 468.1,390.5 478.5,411.1 470.1,375.7 472.9,395.1 469.7,397.8 474.9,390.8 474.6,375.9 469.6,393.6 467.9,408.9 470.9,398.7 474.6,403.4 476.5,413.8 472.5,404.3"/></g>
<g class="p2"><polyline id="f69" points="470.7,386 468.1,383.5 470.8,414.8 470.3,398.3 471.4,382.4 472.1,398.9 468.1,378.8 469.7,403"/></g>
<g class="p3"><polyline id="f70" points="469.1,354.6 469.7,419.5 467.4,437 470.1,413.2"/></g>
<g class="p0"><polyline id="f71" points="504.4,435.6 564.9,383.3 525.1,431.3 477.5,420.6 483.6,414.1 470.8,379 479.8,399.6 538.1,411.7 540.8,417.5 470.8,402.7 470.9,408.1 489,431.8 474.9,419.9 473.8,389.7 513.5,438.3 478.2,375.8 500.9,407.3 502.8,441.7 477.7,368 491.7,418.8 490.2,380.9 473.9,404.9 470.9,387.3 480.4,419.6"/></g>
<g class="p1"><polyline id="f72" points="472.5,382.9 471,391.3 468.2,372 472.1,345.3 471.3,391 467.9,418.7 475.9,415.8 470,398.9 470.7,387.5 469.1,383.8 469.3,404.2 470.5,410.8 472.2,400.4 468.3,383.2"/></g>
<g class="p2"><polyline id="f73" points="470.6,387.3 468.3,425.7 473.2,373.1 469,403.7 467.7,371 470.9,408.1 470.2,408.6 470.6,415.4 469,413.2"/></g>
<g class="p3"><polyline id="f74" points="468.3,366.7 468.3,366.7"/></g>
<use href="#f0" class="q0"/>
<use href="#f1" class="q1"/>
<use href="#f2" class="q2"/>
<use href="#f3" class="q3"/>
<use href="#f4" class="q0"/>
<use href="#f5" class="q1"/>
<use href="#f6" class="q2"/>
<use href="#f7" class="q3"/>
<use href="#f8" class="q0"/>
<use href="#f9" class="q1"/>
<use href="#f10" class="q2"/>
<use href="#f11" class="q3"/>
<use href="#f12" class="q0"/>
<use href="#f13" class="q1"/>
<use href="#f14" class="q2"/>
<use href="#f15" class="q3"/>
<use href="#f16" class="q0"/>
<use href="#f17" class="q1"/>
<use href="#f18" class="q2"/>
<use href="#f19" class="q3"/>
<use href="#f20" class="q0"/>
<use href="#f21" class="q1"/>
<use href="#f22" class="q2"/>
<use href="#f23" class="q3"/>
<use href="#f24" class="q0"/>
<use href="#f25" class="q1"/>
<use href="#f26" class="q2"/>
<use href="#f27" class="q3"/>
<use href="#f28" class="q0"/>
<use href="#f29" class="q1"/>
<use href="#f30" class="q2"/>
<use href="#f31" class="q3"/>
<use href="#f32" class="q0"/>
<use href="#f33" class="q1"/>
<use href="#f34" class="q2"/>
<use href="#f35" class="q3"/>
<use href="#f36" class="q0"/>
<use href="#f37" class="q1"/>
<use href="#f38" class="q2"/>
<use href="#f39" class="q3"/>
<use href="#f40" class="q0"/>
<use href="#f41" class="q1"/>
<use href="#f42" class="q2"/>
<use href="#f43" class="q0"/>
<use href="#f44" class="q1"/>
<use href="#f45" class="q2"/>
<use href="#f46" class="q3"/>
<use href="#f47" class="q0"/>
<use href="#f48" class="q1"/>
<use href="#f49" class="q2"/>
<use href="#f50" class="q3"/>
<use href="#f51" class="q0"/>
<use href="#f52" class="q1"/>
<use href="#f53" class="q2"/>
<use href="#f54" class="q3"/>
<use href="#f55" class="q0"/>
<use href="#f56" class="q1"/>
<use href="#f57" class="q2"/>
<use href="#f58" class="q3"/>
<use href="#f59" class="q0"/>
<use href="#f60" class="q1"/>
<use href="#f61" class="q2"/>
<use href="#f62" class="q3"/>
<use href="#f63" class="q0"/>
<use href="#f64" class="q1"/>
<use href="#f65" class="q2"/>
<use href="#f66" class="q3"/>
<use href="#f67" class="q0"/>
<use href="#f68" class="q1"/>
<use href="#f69" class="q2"/>
<use href="#f70" class="q3"/>
<use href="#f71" class="q0"/>
<use href="#f72" class="q1"/>
<use href="#f73" class="q2"/>
<use href="#f74" class="q3"/>
<path d="M466.1 395.5L467.6 396.3L469.1 397.0L470.6 397.8L472.1 398.6L473.6 399.4L475.1 400.2L476.6 401.0L478.1 401.8L479.6 402.6L481.1 403.5L482.6 404.3L484.1 405.2L485.6 406.0L487.1 406.8L488.6 407.5L490.1 408.3L491.6 409.0L493.1 409.6L494.6 410.3L496.1 411.0L497.6 411.6L499.1 412.2L500.6 412.8L502.1 413.4L503.6 414.0L505.1 414.5L506.6 415.1L508.1 415.6L509.6 416.1L511.1 416.6L512.6 417.1L514.1 417.6L515.6 418.0L517.1 418.5L518.6 418.9L520.1 419.3L521.6 419.7L523.1 420.1L524.6 420.4L526.1 420.7L527.6 421.0L529.1 421.3L530.6 421.6L532.1 421.9L533.6 422.2L535.1 422.5L536.6 422.8L538.1 423.1L539.6 423.5L541.1 423.8L542.6 424.2L544.1 424.5L545.6 424.8L547.1 425.0L548.6 425.2L550.1 425.3L551.6 425.5L553.1 425.6L554.6 425.7L556.1 425.8L557.6 425.9L559.1 426.0L560.6 426.0L562.1 426.0L563.6 426.0L565.1 426.0L566.6 426.0L568.1 426.0L569.6 426.0L571.1 426.0L572.6 426.0L574.1 426.0L575.6 426.0L577.1 426.0L578.6 426.0L580.1 426.0L581.6 426.0L583.1 425.9L584.6 425.9L586.1 425.9L587.6 425.8L589.1 425.8L590.6 425.7L592.1 425.6L593.6 425.5L595.1 425.3L596.6 425.1L598.1 425.0L599.6 424.8L601.1 424.6L602.6 424.4L604.1 424.2L605.6 423.9L607.1 423.7L608.6 423.4L610.1 423.1L611.6 422.8L613.1 422.5L614.6 422.2L616.1 421.9L617.6 421.6L619.1 421.3L620.6 421.0L622.1 420.6L623.6 420.3L625.1 419.9L626.6 419.5L627.1 419.4" stroke="#fff" stroke-width="2.2" stroke-opacity=".5" fill="none" stroke-linejoin="round"/>
<path d="M466.1 395.5L467.6 396.3L469.1 397.0L470.6 397.8L472.1 398.6L473.6 399.4L475.1 400.2L476.6 401.0L478.1 401.8L479.6 402.6L481.1 403.5L482.6 404.3L484.1 405.2L485.6 406.0L487.1 406.8L488.6 407.5L490.1 408.3L491.6 409.0L493.1 409.6L494.6 410.3L496.1 411.0L497.6 411.6L499.1 412.2L500.6 412.8L502.1 413.4L503.6 414.0L505.1 414.5L506.6 415.1L508.1 415.6L509.6 416.1L511.1 416.6L512.6 417.1L514.1 417.6L515.6 418.0L517.1 418.5L518.6 418.9L520.1 419.3L521.6 419.7L523.1 420.1L524.6 420.4L526.1 420.7L527.6 421.0L529.1 421.3L530.6 421.6L532.1 421.9L533.6 422.2L535.1 422.5L536.6 422.8L538.1 423.1L539.6 423.5L541.1 423.8L542.6 424.2L544.1 424.5L545.6 424.8L547.1 425.0L548.6 425.2L550.1 425.3L551.6 425.5L553.1 425.6L554.6 425.7L556.1 425.8L557.6 425.9L559.1 426.0L560.6 426.0L562.1 426.0L563.6 426.0L565.1 426.0L566.6 426.0L568.1 426.0L569.6 426.0L571.1 426.0L572.6 426.0L574.1 426.0L575.6 426.0L577.1 426.0L578.6 426.0L580.1 426.0L581.6 426.0L583.1 425.9L584.6 425.9L586.1 425.9L587.6 425.8L589.1 425.8L590.6 425.7L592.1 425.6L593.6 425.5L595.1 425.3L596.6 425.1L598.1 425.0L599.6 424.8L601.1 424.6L602.6 424.4L604.1 424.2L605.6 423.9L607.1 423.7L608.6 423.4L610.1 423.1L611.6 422.8L613.1 422.5L614.6 422.2L616.1 421.9L617.6 421.6L619.1 421.3L620.6 421.0L622.1 420.6L623.6 420.3L625.1 419.9L626.6 419.5L627.1 419.4" stroke="#000" stroke-width="1.2" fill="none" stroke-linejoin="round"/>
<path d="M467 474.4v-3.0H521.75v3.0zM522 474.4v-3.0H523.25v3.0zM523.5 474.4v-3.0H526.75v3.0zM527 474.4v-3.0H527.75v3.0zM528.5 474.4v-3.0M529.25 474.4v-3.0H530.25v3.0zM530.5 474.4v-3.0H533.75v3.0zM534 474.4v-3.0H534.75v3.0zM535.25 474.4v-3.0M536 474.4v-3.0H536.75v3.0zM537.25 474.4v-3.0H538.75v3.0zM539 474.4v-3.0H540.25v3.0zM540.5 474.4v-3.0H541.5v3.0zM541.75 474.4v-3.0H543.25v3.0zM543.75 474.4v-3.0H545.25v3.0zM546 474.4v-3.0M547 474.4v-3.0H548v3.0zM549 474.4v-3.0M549.5 474.4v-3.0H550.25v3.0zM550.75 474.4v-3.0M552 474.4v-3.0H553v3.0zM553.75 474.4v-3.0H555.25v3.0zM556 474.4v-3.0H556.75v3.0zM557.5 474.4v-3.0H559.25v3.0zM560.75 474.4v-3.0H561.75v3.0zM563.25 474.4v-3.0M564.25 474.4v-3.0M565 474.4v-3.0M566.25 474.4v-3.0M567 474.4v-3.0M570.75 474.4v-3.0H571.75v3.0zM581.5 474.4v-3.0H582.5v3.0zM586.25 474.4v-3.0M594.25 474.4v-3.0M604 474.4v-3.0M609.25 474.4v-3.0M619.75 474.4v-3.0M628.25 474.4v-3.0" stroke="#000" stroke-width=".5" fill="#000"/>
</g>
<text class="t" text-anchor="end" x="455.1" y="462.7">-1.0</text>
<text class="t" text-anchor="end" x="455.1" y="433.4">-0.5</text>
<text class="t" text-anchor="end" x="455.1" y="404.0">0.0</text>
<text class="t" text-anchor="end" x="455.1" y="374.6">0.5</text>
<text class="t" text-anchor="end" x="455.1" y="345.3">1.0</text>
<text class="t" text-anchor="middle" x="463.7" y="485.0">0.0</text>
<text class="t" text-anchor="middle" x="514.8" y="485.0">0.5</text>
<text class="t" text-anchor="middle" x="565.9" y="485.0">1.0</text>
<text class="t" text-anchor="middle" x="617.0" y="485.0">1.5</text>
<path d="M458.7 460.1h-2.2M458.7 430.8h-2.2M458.7 401.4h-2.2M458.7 372.0h-2.2M458.7 342.7h-2.2M463.7 474.4v2.2M514.8 474.4v2.2M565.9 474.4v2.2M617.0 474.4v2.2" stroke="#333" stroke-width=".6" fill="none"/>
<text class="ti" x="458.7" y="307.8">CHL-a</text>
<text class="ax" text-anchor="middle" textLength="32.3" lengthAdjust="spacingAndGlyphs" x="546.6" y="496.7">mg/m^2</text>
<text class="ay" text-anchor="middle" transform="translate(438.4 393.7) rotate(-90)">ENS</text>
<clipPath id="c6"><rect x="32.0" y="520.7" width="176.7" height="160.4"/></clipPath>
<rect x="32.0" y="520.7" width="176.7" height="160.4" fill="#EBEBEB"/>
<g clip-path="url(#c6)">
<path d="M62.6 520.7V681.1M108.4 520.7V681.1M154.1 520.7V681.1M199.8 520.7V681.1M32.0 654.9H208.7M32.0 625.6H208.7M32.0 596.4H208.7M32.0 567.1H208.7M32.0 537.9H208.7" stroke="#fff" stroke-width=".6" stroke-opacity=".9" fill="none"/>
<path d="M39.8 520.7V681.1M85.5 520.7V681.1M131.2 520.7V681.1M176.9 520.7V681.1M32.0 669.5H208.7M32.0 640.2H208.7M32.0 611.0H208.7M32.0 581.8H208.7M32.0 552.5H208.7M32.0 523.2H208.7" stroke="#fff" stroke-width=".95" fill="none"/>
<path d="M40.1 592.1L41.6 592.4L43.1 592.7L44.6 592.9L46.1 593.2L47.6 593.4L49.1 593.7L50.6 593.9L52.1 594.2L53.6 594.4L55.1 594.6L56.6 594.9L58.1 595.1L59.6 595.3L61.1 595.5L62.6 595.7L64.1 595.9L65.6 596.1L67.1 596.3L68.6 596.5L70.1 596.7L71.6 596.9L73.1 597.1L74.6 597.2L76.1 597.4L77.6 597.6L79.1 597.8L80.6 597.9L82.1 598.1L83.6 598.2L85.1 598.4L86.6 598.6L88.1 598.7L89.6 598.9L91.1 599.0L92.6 599.2L94.1 599.3L95.6 599.5L97.1 599.6L98.6 599.8L100.1 599.9L101.6 600.1L103.1 600.2L104.6 600.4L106.1 600.5L107.6 600.6L109.1 600.8L110.6 600.9L112.1 601.1L113.6 601.2L115.1 601.4L116.6 601.6L118.1 601.7L119.6 602.0L121.1 602.2L122.6 602.4L124.1 602.7L125.6 603.0L127.1 603.3L128.6 603.6L130.1 603.9L131.6 604.2L133.1 604.6L134.6 604.9L136.1 605.3L137.6 605.7L139.1 606.2L140.6 606.6L142.1 607.0L143.6 607.4L145.1 607.8L146.6 608.1L148.1 608.5L149.6 608.9L151.1 609.3L152.6 609.6L154.1 610.0L155.6 610.3L157.1 610.6L158.6 610.9L160.1 611.2L161.6 611.4L163.1 611.7L164.6 611.9L166.1 612.1L167.6 612.4L169.1 612.6L170.6 612.8L172.1 613.1L173.6 613.3L175.1 613.5L176.6 613.8L178.1 614.0L179.6 614.2L181.1 614.4L182.6 614.6L184.1 614.8L185.6 615.0L187.1 615.2L188.6 615.3L190.1 615.5L191.6 615.6L193.1 615.8L194.6 615.9L196.1 616.1L197.6 616.2L199.1 616.4L200.6 616.5L200.8 616.6L200.8 624.0L200.6 623.9L199.1 623.5L197.6 623.0L196.1 622.6L194.6 622.2L193.1 621.7L191.6 621.3L190.1 620.9L188.6 620.5L187.1 620.1L185.6 619.7L184.1 619.4L182.6 619.0L181.1 618.8L179.6 618.5L178.1 618.2L176.6 618.0L175.1 617.8L173.6 617.5L172.1 617.3L170.6 617.1L169.1 616.8L167.6 616.6L166.1 616.4L164.6 616.2L163.1 615.9L161.6 615.7L160.1 615.4L158.6 615.2L157.1 614.9L155.6 614.6L154.1 614.3L152.6 613.9L151.1 613.5L149.6 613.2L148.1 612.8L146.6 612.4L145.1 612.0L143.6 611.6L142.1 611.2L140.6 610.8L139.1 610.4L137.6 610.0L136.1 609.6L134.6 609.2L133.1 608.8L131.6 608.5L130.1 608.2L128.6 607.8L127.1 607.5L125.6 607.2L124.1 607.0L122.6 606.7L121.1 606.4L119.6 606.2L118.1 606.0L116.6 605.8L115.1 605.6L113.6 605.5L112.1 605.3L110.6 605.2L109.1 605.0L107.6 604.9L106.1 604.8L104.6 604.7L103.1 604.5L101.6 604.4L100.1 604.3L98.6 604.2L97.1 604.1L95.6 604.0L94.1 603.9L92.6 603.8L91.1 603.7L89.6 603.6L88.1 603.5L86.6 603.5L85.1 603.4L83.6 603.3L82.1 603.2L80.6 603.1L79.1 603.0L77.6 603.0L76.1 602.9L74.6 602.8L73.1 602.7L71.6 602.6L70.1 602.5L68.6 602.4L67.1 602.3L65.6 602.2L64.1 602.1L62.6 602.0L61.1 601.9L59.6 601.8L58.1 601.7L56.6 601.6L55.1 601.5L53.6 601.4L52.1 601.4L50.6 601.3L49.1 601.2L47.6 601.1L46.1 601.0L44.6 600.9L43.1 600.8L41.6 600.7L40.1 600.6Z" fill="#999" fill-opacity=".42"/>
<g class="p0"><polyline id="g0" points="146.6,619.8 144.4,615.8 75,585.5 146.9,581.3 107.5,586.7 108.1,595 152.5,608.7 176.6,651.2 71.5,590.9 191.7,605.3 159.7,607.2 123.2,617.1 114,576.1 179.3,637.8 125.5,598.8 98.1,582.6 133.5,591.5 125.8,619 99.4,602.2 145.9,651 175.5,630.7 176.4,607.5 166.7,625.8 128.5,611.6 169.3,595.6 167.7,635.9 130.2,641.3 39.8,595.2 123.3,580.3 64.2,587.7 48.8,608.4 119.4,569.8 135.3,617.1 125.4,608.6 177.5,610.3 160.2,613.3 150.9,652.6 138,561.3 170.5,623.5 141.9,587.5 117.7,565.7 122.2,616.9 167,639.6 182,628.6 188.5,626 99.3,586 106,571.7 172,623.1 56.5,596.5 181.4,625.3 123.1,593.7 39.8,559.5 172.5,631 127.1,611.8 149.5,610 45.2,605.8 141,584.4 148.8,632.9 137.5,626.3 176.9,644.1"/></g>
<g class="p1"><polyline id="g1" points="132.1,592.4 178.3,636.6 132.3,589.2 155.5,638.2 149.6,580.3 127.5,616.2 165.9,611.8 143.9,604 139.7,603.1 159.5,637.7 134.6,613.7 157.1,586.4 152,588.4 83.8,566 140.7,599.1 164.4,587.1 145.9,627.7 116.5,608.6 119.7,625.1"/></g>
<g class="p2"><polyline id="g2" points="102.7,613.9 97.3,606.1 99.3,574.3 168.9,649.7 112.6,640 129.5,624.1 39.8,567.6 48.3,581.7 150.5,637.2"/></g>
<g class="p3"><polyline id="g3" points="122.2,621.7 39.8,589.4"/></g>
<g class="p0"><polyline id="g4" points="186.9,619.8 125.3,580.2 153.7,602.2 169.8,604.2 185,619.6 145.2,618.2 46.6,604.7 66.7,635.8 178.8,615.2 143.6,596.9 85.8,626.4 186.6,636.1 39.8,621.5 175.1,612.6 70.4,614.8 147.4,595 174.7,622.3 145.9,652.3 180,600.1 169.6,590.9 126.4,625.7 162,592.5 97.5,583.5 184.8,607.6 189,583.5 124.6,602.1 149.9,626.4 150.6,589.6 185.1,581.5 189.8,614.2 149,620.4 134.8,593.9 156.9,583.6 110.7,604.3 178.3,622.5 191.6,615.1 87.2,591.9 125.4,564.9 162.3,640.8 168.1,630.1 121.3,604.3 175.5,628 154.8,629 151.2,603.8 148.6,620 171,621.6 157.1,600 134.8,597.9 106.1,613.2 144.4,607.8 168.6,611.9"/></g>
<g class="p1"><polyline id="g5" points="139.8,598 156.2,616.2 137.1,595.4 155.4,660.1 185.2,604.1 166.5,594.8 139,609.5 162.3,636.3 183.4,599.6 157,625.9 148.2,583.9 134.7,613.7 39.8,604.5 152.1,621.6 144.1,581.5 120.8,582.5 159,623 124.6,571.3 155.3,616.5 86.8,573.8 179.9,591.8 167.1,664.6 147.4,574.5 124.2,624.4 175.8,626.2 158.6,589.9 151.4,607.9"/></g>
<g class="p2"><polyline id="g6" points="134.2,562.5 122.5,585.1 145.1,650.7 126.3,611.4 113,616.7 128.9,621.2 105.8,554.3"/></g>
<g class="p3"><polyline id="g7" points="77.5,584.7 107.6,585.9 115.6,605.5 97.1,591.4 71.7,575.8"/></g>
<g class="p0"><polyline id="g8" points="172.1,624.6 170.3,590.7 152.8,632.1 181,617.3 139.3,639.8 66.2,587.3 139.4,618.7 110.9,629 108.6,623.2 160.9,604.4 188.8,607.2 136.4,601.3 170,640.7 165.8,626 160.9,624.3 178,619.4 167.1,627.2 169.2,638.3 146.7,593.8 139.1,600.5 123.5,611.5 113.1,600.5 123.8,586.2 151.3,564.6 179.7,568.8 165.5,624.2 109.5,570.1 157.2,596.3 48.6,582.9 159.4,578.3 158.9,603.1 184.7,632.8 39.8,579.6 100.6,646.1 44.3,612.5 151.6,578.7 171.3,644.7 168.6,614.9 139.1,641.6 200,618 165.5,610.8 91.5,616.1 169.4,622.1 127.4,614.1 187.1,645.7 81.5,628.1 156.9,608 170.7,601.3"/></g>
<g class="p1"><polyline id="g9" points="140.9,604.7 157.7,656.3 156.4,600.8 142.4,602.9 150.9,592.9 143.8,649 155.6,617.8 168.2,624.9 149.6,622.1 156.2,616.8 158.5,620.3 165,605 146.6,590.9 163.7,569.6 130.8,641.9 162.4,605.6 144.1,592.1 183.1,591.4 158.7,621.9 108.4,630 155.3,613 169.3,660.8 153.7,628.9 124.3,588.8 131.8,627.5 165.3,613.2 137.4,622 161,585.5 119.7,597.8 174.1,618.4 178.7,636.2"/></g>
<g class="p2"><polyline id="g10" points="148.9,622.5 39.8,625.6 163.5,595.1 140.5,602 134.9,610.7 97.2,620.2"/></g>
<g class="p3"><polyline id="g11" points="136.4,611.7 39.8,613.3 133.1,598.9 92,597 112.8,633.3"/></g>
<g class="p0"><polyline id="g12" points="154.2,582.9 167.7,635.8 165.4,613.9 175.2,606.6 136,595.8 191.6,606.6 142.6,605.3 155.9,624.8 153.4,606.3 159.9,608.2 148.7,640.3 105.4,623 168.2,601.1 148.8,588.3 131.6,630.1 162.8,616.7 190.3,621.2 84.9,581.8 159.7,616.4 159.3,614.9 143.5,603.5 102.2,592.5 94.9,603.2 82.4,627.1 154.8,613 163,595.7 175.8,646.2 145.9,590.8 185.3,637.3 136.9,604.7 144.3,589.7 183.8,584.1 169.8,629.6 115.3,617.5 160.6,623.5 57.9,578.9 154.8,617.5 81.2,641.9 135.6,616.7 181.1,629.1 133.5,579.3"/></g>
<g class="p1"><polyline id="g13" points="93.9,645.3 158,639.4 143.8,602.3 173.7,648.6 115.2,623.7 173.7,581.1 178.1,602.9 155.2,612.2 143.8,608 135.1,609.9 184.3,625.5 158.2,617.6 137.2,608.3 171.9,594.1 94.8,579.2 149.1,623 148.2,631.9 151.6,603 156.2,642.7 148.2,613.1 140.7,611.9 163.4,619.7 142.3,635.2 155.7,594.7 90.7,597 163,605.9 158.2,626.1 123.9,638.8 148,588.2 143.7,585.6 168.1,639.5 130.4,609.9 155.6,616.3 160.9,627.8"/></g>
<g class="p2"><polyline id="g14" points="143.4,598.5 127.6,613.9 153.1,616.1 126.4,608.7 148.4,596.1 73.2,614.9 126.2,552.7 125.8,599.3 151.6,607.4 141.4,623.4 84.9,599.1 154.4,615.3"/></g>
<g class="p3"><polyline id="g15" points="39.8,571.4 39.8,580.7 120.6,574.9"/></g>
<g class="p0"><polyline id="g16" points="167.1,607.6 109.6,600 159.8,603.5 145,631.2 132.8,626.5 173.3,634.8 71.6,616.4 154.5,635.4 158.6,619 96.2,609.8 165.3,597.3 146.4,578.4 184,606.9 183.1,627.5 157.6,631.1 112.2,599.5 79.3,575.1 168.7,595.2 176.8,643.8 150,639.9 143.3,622 157.6,587.6 117.9,579.2 130.9,559 138.1,615.5 156.8,631.9 157.7,613.5 129.7,587.6 156.7,611 190.9,631 152.7,631.9 100,624 169.3,587.1 178.2,600.6 162.8,621.7 195.9,623.8 93.2,593.5 105,646.8 163.8,615.1 160.5,620.4 174.3,575.5 170.2,654.5 141,596.4 139.6,585.3 184.5,637.6 95,590 139.6,631.4 167.7,606.1 162.5,610 174,599.5 174.8,624.1 148.6,585"/></g>
<g class="p1"><polyline id="g17" points="155.9,602.4 164.5,574.6 152.7,594.5 134.6,608.8 126.8,646.7 175.4,654.6 173.7,621.1 149.5,635.4 147.9,610.6 146.7,656.6 162,631.3 140.4,629.1 137.6,623.2 148.9,564.3 151.1,623.3 158.6,623.4 147.3,655.5 137.5,619 87.5,562.7 109.6,600.1 113.1,607.3 140.1,599.6 157,620.7 132.6,593.8 181.7,580.4 162,632.4 161.2,626.5"/></g>
<g class="p2"><polyline id="g18" points="133.6,585 151.6,588 141.2,621.6 173.8,608.1 39.8,609.1 126.6,609.9 155.8,607.6 95.1,576.7"/></g>
<g class="p3"><polyline id="g19" points="115.5,594 131.6,607.7 98.2,593.9"/></g>
<g class="p0"><polyline id="g20" points="119.7,608 118.2,575.9 162.2,621.5 158.1,592.8 159.3,629.2 178.4,653.1 153.5,635.7 125.6,651.2 141.3,604 131.7,570.5 156.9,621.8 148.4,598.6 135.4,594.4 155.4,628.7 154.3,630.2 167.4,619.6 185.2,572 131.1,602.1 162.5,652.8 182,639.7 180.3,596.3 176.7,629.5 81.6,589.6 169.6,607 179.5,623.1 141,599.4 182.9,615.5 151.3,577.9 171.7,645.4 157.5,613.4 105,585.7 189.2,618.4 166.2,607.4 57.6,591.5 117.8,616.9 126.6,626.1 176.2,606.9 158.4,594.2 141.8,601.8 189.1,614.1 99.5,627.7 120.2,608.7 114.4,574.7 115.5,615.1 142.6,598.3 149.4,611.5 154.6,602.1 123.1,564.3 142.9,595.6 160.2,619.1 188.2,599.5 180.1,644.5 56.5,605.5 179.3,610.7 147.2,625.2 136.9,607.1 152,599.7 195.9,598.6"/></g>
<g class="p1"><polyline id="g21" points="130.2,595.7 141.1,616.3 142.6,604.3 120.7,607.7 156.3,625.8 174.4,615 148.9,638.4 165.9,609.8 138.3,595.7 156.1,624.6 163.1,615.6 161.7,619.3 133.3,590.7 167.1,626.1 154.9,609.7 169.3,622.3 158.6,630.2"/></g>
<g class="p2"><polyline id="g22" points="160.8,608.2 71.2,592.2 148.3,606 93.1,584.1 111.8,571.6 129.3,619 145.3,619.7 105.7,575.6 156.5,635.2 145.3,643.3 103.4,578.8"/></g>
<g class="p3"><polyline id="g23" points="111,655.7 39.8,620.3 132,616.1 112.4,589.4"/></g>
<g class="p0"><polyline id="g24" points="120,616.8 135.6,603.6 123.7,594.3 39.8,625.6 168.9,627.5 163.6,596.4 169.4,607.2 169.8,604.3 144.7,625.9 176.9,620.7 46.2,596.3 164.8,613 153.4,628 184.7,603.7 135.6,619.6 156.1,575.5 164.1,599.7 114.7,565.2 156.2,616.2 178.7,659.9 162.8,611.3 74.7,614.7 178.1,622.3 173.7,632.4 172.9,634.5 137.6,585 172.8,596 116.5,590.7 181.3,643.7 129.9,617 131.4,632.9 109.9,610.9 154.4,628.4 167.8,606.6 151.9,637.7 147.2,609.9 176.4,593.3 144.4,581.3 155,571.3 102.6,623.8 159.3,626.4 172.6,620.8 170.8,594.3 140.8,595.5 146.4,631.1 174.4,597 162.1,625.6 136.4,592.7 103.7,606 133.8,623.8 179.2,600.3 131.5,562.6 158.5,594.7 170.3,661"/></g>
<g class="p1"><polyline id="g25" points="137,619.3 145.7,619.8 146.5,580.9 143.4,631.2 141.4,611.9 122.1,584.9 151.1,589.6 140.7,612.1 127.3,603.1 165.6,624.8 143.9,594.4 143.7,585.2 146.4,608.5 144.5,605 137.3,608.4 183.9,604.5 134.7,613.9 134.6,630.1 160.7,621 143.3,648.5 159.4,630.1 173,603.4"/></g>
<g class="p2"><polyline id="g26" points="86,620.1 151.5,607.1 160.3,610.5 98.9,608.9 173.2,630.6 164.1,597.2 39.8,574.8 59.2,557.3 134.1,604.5 177.5,626.9 106.3,585.4 125.3,597.5"/></g>
<g class="p3"><polyline id="g27" points="68.1,598.6 145.3,639.6"/></g>
<g class="p0"><polyline id="g28" points="82.7,644.1 186.8,641.3 146.3,642.3 147.6,598 39.8,608 119.1,616 163.9,622.3 136.7,604 180.7,613.8 167.8,588.3 159.1,628.8 159.6,644.7 120.1,646.2 126.9,627.6 160.9,654.6 194.2,616.6 167.6,627.5 168.9,600.5 133.3,602.7 190.1,586.1 156.3,580.8 137.3,626.1 152.9,600.5 130.8,584.8 74.2,622.8 179.8,621.1 128.8,609.8 178.9,630.8 125.9,633.4 115.4,602.5 142.2,584.3 106.4,581.7 137.7,577.5 178.5,633.9 192.9,615.2 181.6,609.2 86.7,631.4 141.4,595.1 153.4,568.7 126.3,606.8 187.6,591.5 105.3,602.8 158.5,584.9 162.8,621.1 186.8,611.6 178.4,607.6 139,590.4 123.4,554.3 60.5,582.5 143.4,624.9 149.5,584"/></g>
<g class="p1"><polyline id="g29" points="80.4,592.2 162.1,614.2 145.1,602.4 111.5,594.6 148.8,654.7 169.1,636.9 179.1,614.5 140.4,589 154.2,612 142.6,652 118.6,608.3 165.9,614.2 169.3,601.7 141.8,615.5 142.6,625.5 168.8,600.2 142.1,606.2 165.1,607.2 161.7,602.5 148,574.3 130.9,571.5 142.9,608.6 176.1,599.5 147.8,600.8 161.8,612.2 142,588.7"/></g>
<g class="p2"><polyline id="g30" points="122.8,641.8 139.6,580.3 106,612.9 130.9,646.1 126.4,630.4 131.3,558.8 160.7,614.4 153.1,598.2 140,635.2 104.9,586.8"/></g>
<g class="p3"><polyline id="g31" points="145.3,645.4 107.2,649.6 130.9,587.3"/></g>
<g class="p0"><polyline id="g32" points="180,612.7 186.4,625.8 177.1,639.6 176.3,647 134.6,610.7 113.7,596.8 168.4,592.9 155.4,570.2 171.6,614.7 160,641.7 184.9,602.2 163.7,609.2 174.4,571.9 186.4,597.3 157.8,618.8 186.5,597.3 158.7,587.4 189.8,636 132.7,593.5 90.8,601.2 151.9,587.9 157.1,627.6 169.1,607.7 175.2,587.3 136.9,606.8 167.1,623.1 126.7,606.6 177.2,645.6 175,599.3 99.6,593.8 136.4,602.9 172.6,611.8 169.7,629.3 160.2,626.4 162.1,626.7 146.9,597.4 161.4,601.6 160.4,634.7 153.9,586.3 114.2,590.5 181,596.6 164.5,586.5 62.7,592.1 169.4,593.3 160,563.5 192,606.9 83.4,588.8 135.6,608.2 140.5,631.8 164.8,648.6 165.8,648.1 175,624 166.6,608 161.1,592.4 134.4,608.9 141.7,633.4"/></g>
<g class="p1"><polyline id="g33" points="178.5,618.6 155.5,632.1 133.5,582.5 158.2,592.7 148,570.8 155.6,623.3 135.2,630.4 145.2,615.4 141.8,623 153.8,612.8 164.1,619.6 171,605.7 174.1,617.3 165.5,600.9 156.5,611.8 140.5,588.2 133.1,648.7 154.5,624.4 112.1,597 149.8,590.7 154.3,637.6"/></g>
<g class="p2"><polyline id="g34" points="138.5,607.7 140.5,624.8 110.2,617.8 155.9,609.3 72.5,604.9 167,593.4 155.5,629.9 39.8,615 151.6,590.9 151,602.2 112.2,640.4"/></g>
<g class="p3"><polyline id="g35" points="132.9,586 118.3,627.5"/></g>
<g class="p0"><polyline id="g36" points="150.4,617.9 145.8,635 117.7,617 195.6,602.8 107.5,616.3 49.5,582.9 167.4,631.6 139.5,614.3 105.1,572.9 172.6,610.8 147.4,597.9 147.1,646.6 168,610.1 165.3,634.7 106.7,616.5 128.7,603.9 116.2,588.6 114,591.7 120.6,599.8 45,609.2 142.9,592.3 134.4,627.7 144.1,663.2 95.7,601.1 179,607.7 152.2,609.9 141.4,613.2 124.8,563.5 108,648.5 137.4,632.9 171.3,622 39.8,596.5 192.1,616.5 151.2,608.4 170.5,614.9 178.7,640.6 151.4,600.3 148,589.3 165.1,607.3 114.4,628.4 91.9,590.3 144.5,608.4 143.2,613.8 160.4,592.7 160.1,586.9 167.2,627.1 142.4,611.4 183,615.2"/></g>
<g class="p1"><polyline id="g37" points="136.6,618.9 174.5,623.3 139.4,616.7 151.3,598.7 110.1,577.7 168.7,590 131,614 164.7,623.3 165,621.3 169.6,570 154.3,626.2 143,621.8 136.1,619.1 128.4,576.4 161.3,596.2 123.4,625.3 168.1,591.7 120.8,563.6 161.1,618.3 152.8,623 152.7,581.1 137.3,628.5 150.2,618.7 141.4,613.1 152.4,605.4 146.5,635.2"/></g>
<g class="p2"><polyline id="g38" points="100.9,577.8 128.4,566.9 149.5,579.2 139,603.4 157.7,640.7 144.6,600.4 101.2,579.7 132.5,585.1 39.8,623.7 153,591 97.6,585.8 102.9,598.4 122.2,632.7"/></g>
<g class="p3"><polyline id="g39" points="107.3,580 115.8,592.4 130.4,618.4"/></g>
<g class="p0"><polyline id="g40" points="172.5,569.3 113,609.7 75.3,604.4 188.1,628.3 132.6,606.5 148.1,616.9 116,572.6 118.7,606.6 175.6,614.7 48.1,596.2 164.8,595.8 192.8,640.5 87.9,560.2 180.8,616.9 184.5,640.9 126.3,635.6 162,616.7 166.4,584.4 124.6,617.4 125.8,580.2 141.3,628.1 144.2,604.3 151.5,599.4 159.6,605.8 170.8,619.6 110.3,572.7 176.6,610 140.4,617.5 163,597.6 149.6,580.3 137.2,621 107.8,633.2 145.7,617.2 84.2,593.6 158.1,629.9 195.1,623.2 77.6,589.3 167.8,608.4 178.2,654.1 162.2,627.8 182.8,615.8 142,613.5 143.6,629.4 142.4,595.6 127.7,634.4 113.4,643.8 127.3,627.5 112.7,563.5 194.8,622.2 169.4,598 180.6,643.5 169.4,650.3"/></g>
<g class="p1"><polyline id="g41" points="138.8,604.5 156.6,604.6 175.3,646.8 116.5,606.5 176.1,585.3 143.4,562.4 160.9,612.6 166.8,584.8 158.8,593.1 114.4,621.2 137.2,628.7 167,602.9 132.3,604.5 164,633 147.3,609.2 159.5,648.6 176.1,583.3 142.7,599.6 182.7,646.1 181.8,602 124.9,610.2 163.7,608.7 127.8,572.6 137.3,597.2 170.2,632.3 149.8,644.5 126.4,589.1 125,587.3"/></g>
<g class="p2"><polyline id="g42" points="180.5,621 117.6,581.2 75.6,598.3 144,634.2 170,587.9 168,606.9 156.3,612 147.9,638.7 142,596 39.8,606.5"/></g>
<g class="p0"><polyline id="g43" points="161.4,610.1 165.1,610.2 153.7,576.5 124.3,582.5 101.4,597.8 174.4,653.4 175.5,656.9 173.1,636.5 174.4,582.1 154.6,595.7 158,602.6 157.5,589.7 159.7,646.2 170.2,623.5 113,608.3 99.2,562.5 131.8,599.1 162.7,656.2 179.9,629.3 96.1,592.2 159.3,602.4 124.2,608.9 164,605.8 155.1,605 195.1,626.5 180.1,652.9 170.1,615.8 147.4,599.5 150.3,635 145.9,609.2 161.5,635.3 125,602.2 128.5,617.3 132.3,616.8 176.3,625.7 124.2,612.8 144.5,632.3 110.9,598.8 146.9,596.7 138.4,613.4 140.7,580.7 164.1,606 189.4,649.3 143.9,604 197.2,614.8 145.6,610.7 177.9,593 155.6,608.2 39.8,595.5 138.6,594.7 167.4,615.5 162.8,573.3 136.4,572.2 108.3,585.7 109.5,572.2 161.3,600.6 60.9,588"/></g>
<g class="p1"><polyline id="g44" points="95.7,610.7 139.2,617.2 157.9,599.9 161.3,608.8 169.1,592.6 128.2,613.8 151.4,614 78.9,569.7 145.8,607.7 127.7,576.7 159.2,628.8 149.5,578.6 137.2,609.7 176.7,605.5 177.9,622.1 163.5,607.5 150.1,612.9"/></g>
<g class="p2"><polyline id="g45" points="135.9,632.2 140.2,601.5 137,587 140.3,610.5 170.3,601.5 89.1,583.8 126.6,635.3 160.6,664.3 134,618.5 154.6,639.2 106.9,638.7"/></g>
<g class="p3"><polyline id="g46" points="148.2,605.1 140.1,589.4 99.8,601.9 133.3,605.9 111.6,606.5"/></g>
<g class="p0"><polyline id="g47" points="134.7,641.2 149.8,614.9 107.3,575.4 168.2,644.6 175,656.1 189.7,622 109,602.5 149.5,605.1 132.5,604.7 158.8,632.3 120.6,598.5 171.7,607.8 167,624.1 165.8,579.3 171.6,634.8 149.9,567.8 127.8,611.1 93.8,574.8 176.9,621.1 143.8,596.2 179.3,610 153,627.3 129.1,638.6 126.6,614.3 106.5,602.7 119,591.9 170.3,568.8 97.7,591.3 191.5,634.4 172.2,610.9 110.6,609 99.4,590.5 135.5,604.6 157.6,598.7 148.6,588.6 117.6,649.4 94,576 131.6,592.7 152.3,597 172.3,623 127,585.4 165.4,606.2 190.4,652.4 92.8,595.5 177.7,612.2 148.2,615.4 199.2,613.3 195.4,628.4 174.2,617.1 175.7,614.4 114.5,562.2 154.4,591.7 166.2,613.7 146.4,611.1 162.1,666.8 144.3,638.6 94.6,613.4 174.9,591.8"/></g>
<g class="p1"><polyline id="g48" points="164.7,654.4 171.7,619 147.3,613.3 147.1,591.8 160.1,619.9 125,597.4 159.6,577.5 153.2,632.7 134,626.4 137.9,590.1 150.8,585 125,607.7 172.6,605.4 142.3,594.4 121.8,559.5 170.4,605.7 167.4,621.3 130.5,571 107.4,580.7"/></g>
<g class="p2"><polyline id="g49" points="156.8,611.3 146.5,624.5 155,618.4 102,584.1 116.5,589.8 143.8,602.4 139,560.5 138,627.2 117.2,617.7 135.7,634.5 158.6,631.1"/></g>
<g class="p3"><polyline id="g50" points="130,578.5 107,596.9"/></g>
<g class="p0"><polyline id="g51" points="175.2,631.3 118.7,602.6 76.7,614.5 152.8,634.7 93.8,611.2 112.4,609 170.1,634.6 180.4,627.9 152.6,605.1 115.9,605.9 165.1,594 186.7,598 45.7,611.8 161.3,624.7 143.2,619.8 166.3,626.4 83.4,613.7 153.9,629.7 46.4,603.2 114.5,626.8 182.8,619.4 179.7,611.3 162.2,607.3 145.1,573.8 165.2,591.5 116.9,617 149.2,630.1 89.3,619.4 153.9,626.6 148.6,591.5 177.1,618 136,588.1 129.7,598.7 171.5,614.9 169.2,592.2 75.2,605.3 131,585.1 106.7,592.7 123.5,625.8 157,578.2 146.6,596.1 123.2,588.5 157.8,590.2 146.4,623.9 108.5,619.3 160.2,598.4 155,591 177.5,590.6 154.1,654.6 195.9,612.8 146.3,621.3 190.2,615.5 173.3,623.5 60.7,591.7 144.3,589.1 138.1,639.7"/></g>
<g class="p1"><polyline id="g52" points="134.4,589.7 163,644 150.4,589.9 140,651 163.3,604.2 156.8,634.8 166.3,632.3 169.6,629.9 142.9,611.9 168,612.7 112.8,562.4 144.2,619.8 176.5,591.1 103.8,601.7 155.8,614 160.7,583.6 154.7,618.7 152.1,590.3 180.1,608.2 128.7,589.3 177.6,594.2 159.3,603.2"/></g>
<g class="p2"><polyline id="g53" points="137.2,610.4 158.1,646.4 167.9,581.8 138.3,609.5 144.2,611.1 136.1,574.9 132.8,644 142.5,634.5 144.9,591.3 104.8,609.6 109.5,593.9"/></g>
<g class="p3"><polyline id="g54" points="111.5,528.5 111.5,528.5"/></g>
<g class="p0"><polyline id="g55" points="164.8,643.2 39.8,567.6 104,594.8 183.3,595.3 182.3,634.3 172.1,637.2 152.9,616.4 103.3,586 174.6,588.4 55.3,649.7 167.8,632.4 121.4,608.2 148.3,636 179.6,619.3 142.8,600.2 150.6,608.9 118.7,564.3 151.1,589.2 148.9,596.5 119.2,625.6 166.1,588.6 130.8,585.1 155.9,623.6 130.4,599.9 126.4,618.4 124.5,590.2 61.6,618.8 177.8,585.8 147.2,595.5 184,650 187,629 60.4,625 84.5,606 120.1,569.3 120.2,580.1 175.1,623.2 108.1,585.4 186.4,609.8 135.1,609.4 151.8,598.7 137.7,609.4 101.6,609.2 166,598 192,611.7 176.7,618.2 109.9,600.7 160.5,615.4 98.4,612.3 176.7,610.4 95.6,615.3 187.8,612.9 161,616 147.8,618.9 148.6,596.6 149.5,607.7 132.6,634 145.6,597.9"/></g>
<g class="p1"><polyline id="g56" points="159.7,626.4 158.9,589.4 165.8,628.5 145.6,656.7 150.9,625.5 156.6,608.2 116.4,618 144.1,593.7 184.1,647.9 151.3,623.2 150.3,617.3 145.8,628.2 157.7,583.3 142,616.9 170.5,620.3 169.8,632.4 176.8,650.9 159.9,592.3 146.2,614.2 166.3,622.2 162.5,627.3 156.7,612.7 180.4,651.7"/></g>
<g class="p2"><polyline id="g57" points="112.4,610.1 129.4,605.9 173.5,617.5 179.8,576.8 119.8,591.5 122.9,624.9 153.9,613.8 107.1,638.4"/></g>
<g class="p3"><polyline id="g58" points="170.2,584.5 134.5,617.2"/></g>
<g class="p0"><polyline id="g59" points="143.5,598.3 194,598.4 106.8,592.7 169.7,580.5 140.5,613 170.5,629.9 150.5,592 98.6,609.1 91.4,606 143,587.6 154.3,607.7 126.1,591.2 194.1,651.6 133.2,592.6 137.6,639.8 154.2,599.6 172.1,634.6 122,608 170.4,631.3 182.4,621.9 169,609.6 148.3,605.8 107.2,585.6 169.4,645 149.3,620.3 126.3,607.6 181.3,609.9 157.2,573.2 190.2,604.4 73.9,580.7 172.2,619.4 147.4,617.6 147,619.2 111.8,630.8 116.2,630 173,598.1 84.6,579.1 170.2,586.7 137.8,596.6 152.1,631.4 171.5,616.9 153.1,572.4 175.2,610.5 156.3,584 186.5,652 179.9,660.9 166.7,629.4 173.2,582.6 174.8,613.1 179.8,592.2 156.3,652.5 94.7,576.4 165.1,600.6 117,627.2"/></g>
<g class="p1"><polyline id="g60" points="137.3,637.3 114.4,585.8 133.8,629.3 150.8,629.3 157.9,619.2 168.8,619.6 181.9,645.7 106.8,612.5 182.7,612.4 164.9,631.1 110.1,597.9 107.4,654 142.4,591.5 142.7,634.5 126.3,612.8 140.5,631.6"/></g>
<g class="p2"><polyline id="g61" points="117.8,580.7 118.8,633.7 95.5,565.9 140.7,584 123.8,658.4 150.7,612.1 137.5,567.4 143.4,613.7 124,580.6 169.3,616.5 152.6,632.4 173.1,618.4 112.4,598.4 90.1,631.6 123.8,617.6 112.3,623.5"/></g>
<g class="p3"><polyline id="g62" points="163.5,585.5 130.8,560.8 114.8,612.2 86.2,614.8"/></g>
<g class="p0"><polyline id="g63" points="161.2,596.7 139.3,589.7 190.9,616.2 175.7,618 174.8,638 73.7,583.3 144.4,628.6 154.3,622.9 111,598.9 173.4,635.2 161.8,600.3 113.7,630.8 145,612.2 154.3,629 104.9,590.4 59.3,621.1 152.5,614.2 108.3,608.6 163.5,625.7 105.8,597.2 134.4,636.5 81.9,612.2 167.5,601.2 155.2,613.9 139.2,629.4 122.6,621.6 174.3,602.5 134.9,613.2 180.7,625.7 77.1,620.3 121.8,588.1 119.7,607.7 176.9,630.7 185.4,617.2 147.8,636.6 126.4,611 123.9,570.6 175.7,597.1 110.1,580.1 88.6,621.6 46.8,600.7 65.1,594.6 147.4,617.6 176.8,626.8 151.2,624.3 118.1,616.1 112,619.2 140.7,590.8 177,624.4"/></g>
<g class="p1"><polyline id="g64" points="133.6,585.4 125.3,619.4 167.7,600.7 142.7,612.9 155.7,639.2 171,620.6 143.1,602.7 148.1,643.5 158,613.9 141.2,577.1 166.5,622 100,567.4 154.3,625.1 163.4,619.7 153.4,587.2 138.1,619.9 178.1,599 158.8,604.6 163.6,613 160.1,615.6 166.5,633.5 155.2,656.6"/></g>
<g class="p2"><polyline id="g65" points="151.1,585.4 145.9,593.1 109.2,623.2 77.8,614.6 162.3,601.3 137.7,571.7 133.4,603.6 96.1,572.8 115.6,585.3 130.3,618.2 71.3,599.6 148.5,604.5 148.3,586 157,642.7 99.5,591.2"/></g>
<g class="p3"><polyline id="g66" points="138.2,592.8 39.8,595.4 139.8,608 155.7,585.1"/></g>
<g class="p0"><polyline id="g67" points="113.9,635.5 167.9,610.1 159.5,607.5 148.3,598 166.3,596.3 144.5,582.9 148.5,621.8 112.2,625 146.3,628.5 133.1,618 100,612.2 164.2,616.1 193.6,616.1 128.6,612.7 160.5,623.8 135.5,619 151.6,610.2 158.5,618.3 164.5,621.5 195.2,603.9 179.2,594 185.3,647.4 146.8,621.2 117.8,583.2 165.9,604.8 181.9,642 173.8,587.6 173.1,624.8 135.8,595.2 165.2,607.1 164.1,595.7 111.3,598.1 53.1,601.3 186.2,589.2 166.9,623.8 194,644.6 139.8,606.9 144.1,600.2 193.8,624.3 163.6,608.5 39.8,613.4 124.7,621.7 157.7,625 179.9,592.2 129.5,621.3 134,601.3 196.5,617.8 154.5,643.7 176.9,624.7 118.1,616.7 144.6,614.4"/></g>
<g class="p1"><polyline id="g68" points="116.2,571.1 114.3,566.7 158.6,607 155.6,605.3 39.8,609.6 135.2,585.3 150.6,631.1 165.8,613 152.9,607.2 171.6,628.3 153,611.6 100.9,546.5 167,626.6 163.3,608.8 119.7,646.2 148.3,646.6 183.2,585.4 162.3,602.4 108.9,635.8 156,619.9 159.8,647.9 152.5,626.7 138.1,611.1 127,580.8 155,646.1 138.7,603.5 144.4,600"/></g>
<g class="p2"><polyline id="g69" points="134.5,601.6 109.9,629 171.9,627.3 157.6,619.2 118,610.5 155.9,614.3 172.3,629.9 135.5,591.9 80.3,582.5 129.9,614.5 75.9,593"/></g>
<g class="p3"><polyline id="g70" points="39.8,611.2 39.8,611.2"/></g>
<g class="p0"><polyline id="g71" points="166.9,608.1 104.6,612.3 167.8,637.7 171.3,619.5 151,632.7 189.9,598 172.6,604.2 162.7,621.9 173.5,589.2 150,605.5 123.4,622.1 39.8,596.1 135,597.5 98.1,601.3 124,586.8 150.4,627.6 185.7,597.8 174.1,665.3 147.9,638.2 183.9,611.9 121.5,571.6 188.8,584.1 168.5,641.2 172.4,623.9 159.2,615.3 162.3,624.8 139.3,590.7 193.4,626 158.9,617.2 121.9,602.3 114.8,560.5 149.5,595.4 163.7,639.2 192.3,622.4 162.1,600.7 147.3,623.5 160.4,593.5 171.7,614.4 136.2,636.9 177,619.5 188.1,603.7 176,577.6 132.8,615.4 175.9,606.7 116.1,630.5 193.7,616.8 162,619.7 188.9,589.5 39.8,612 145.7,597 139.3,645.3 189.4,625.6 170.4,617.3 119.1,637.8 122.4,631 107,590.4 145.1,610.5 178.3,629 180.6,596 139,629.3 176.4,638.1"/></g>
<g class="p1"><polyline id="g72" points="159.5,612.5 174.6,626.8 137,598.2 131,618.5 157.2,597.7 157.1,605.7 117,582.8 156.4,625.9 152.8,598.1 162.7,612 134.8,590 147.2,629.8 151.3,594.8 144.1,597.5 154.9,618 182.5,632.1 155.4,591.3 134.7,582.7 155.8,588.8 172,600.8 163.4,591.3 179.1,622 152,614.1"/></g>
<g class="p2"><polyline id="g73" points="117.9,555.4 134,613.7 137.8,583.3 129.3,605.1"/></g>
<g class="p3"><polyline id="g74" points="107,590.2 112.3,623.2"/></g>
<g class="p0"><polyline id="g75" points="160.7,579.3 159.5,583.6 147.1,604.6 114.2,618.1 105.1,620 175.2,634.6 121.2,589.8 135,581.2"/></g>
<g class="p1"><polyline id="g76" points="133.9,613.9 163,605.7 173.8,634.5"/></g>
<g class="p2"><polyline id="g77" points="111.7,582.4 109.8,612 39.8,610.6 120.9,629.4"/></g>
<g class="p3"><polyline id="g78" points="39.8,603.7 77.9,629.9 136.9,624.1"/></g>
<use href="#g0" class="q0"/>
<use href="#g1" class="q1"/>
<use href="#g2" class="q2"/>
<use href="#g3" class="q3"/>
<use href="#g4" class="q0"/>
<use href="#g5" class="q1"/>
<use href="#g6" class="q2"/>
<use href="#g7" class="q3"/>
<use href="#g8" class="q0"/>
<use href="#g9" class="q1"/>
<use href="#g10" class="q2"/>
<use href="#g11" class="q3"/>
<use href="#g12" class="q0"/>
<use href="#g13" class="q1"/>
<use href="#g14" class="q2"/>
<use href="#g15" class="q3"/>
<use href="#g16" class="q0"/>
<use href="#g17" class="q1"/>
<use href="#g18" class="q2"/>
<use href="#g19" class="q3"/>
<use href="#g20" class="q0"/>
<use href="#g21" class="q1"/>
<use href="#g22" class="q2"/>
<use href="#g23" class="q3"/>
<use href="#g24" class="q0"/>
<use href="#g25" class="q1"/>
<use href="#g26" class="q2"/>
<use href="#g27" class="q3"/>
<use href="#g28" class="q0"/>
<use href="#g29" class="q1"/>
<use href="#g30" class="q2"/>
<use href="#g31" class="q3"/>
<use href="#g32" class="q0"/>
<use href="#g33" class="q1"/>
<use href="#g34" class="q2"/>
<use href="#g35" class="q3"/>
<use href="#g36" class="q0"/>
<use href="#g37" class="q1"/>
<use href="#g38" class="q2"/>
<use href="#g39" class="q3"/>
<use href="#g40" class="q0"/>
<use href="#g41" class="q1"/>
<use href="#g42" class="q2"/>
<use href="#g43" class="q0"/>
<use href="#g44" class="q1"/>
<use href="#g45" class="q2"/>
<use href="#g46" class="q3"/>
<use href="#g47" class="q0"/>
<use href="#g48" class="q1"/>
<use href="#g49" class="q2"/>
<use href="#g50" class="q3"/>
<use href="#g51" class="q0"/>
<use href="#g52" class="q1"/>
<use href="#g53" class="q2"/>
<use href="#g54" class="q3"/>
<use href="#g55" class="q0"/>
<use href="#g56" class="q1"/>
<use href="#g57" class="q2"/>
<use href="#g58" class="q3"/>
<use href="#g59" class="q0"/>
<use href="#g60" class="q1"/>
<use href="#g61" class="q2"/>
<use href="#g62" class="q3"/>
<use href="#g63" class="q0"/>
<use href="#g64" class="q1"/>
<use href="#g65" class="q2"/>
<use href="#g66" class="q3"/>
<use href="#g67" class="q0"/>
<use href="#g68" class="q1"/>
<use href="#g69" class="q2"/>
<use href="#g70" class="q3"/>
<use href="#g71" class="q0"/>
<use href="#g72" class="q1"/>
<use href="#g73" class="q2"/>
<use href="#g74" class="q3"/>
<use href="#g75" class="q0"/>
<use href="#g76" class="q1"/>
<use href="#g77" class="q2"/>
<use href="#g78" class="q3"/>
<path d="M40.1 596.4L41.6 596.6L43.1 596.7L44.6 596.9L46.1 597.1L47.6 597.3L49.1 597.4L50.6 597.6L52.1 597.8L53.6 597.9L55.1 598.1L56.6 598.2L58.1 598.4L59.6 598.6L61.1 598.7L62.6 598.9L64.1 599.0L65.6 599.2L67.1 599.3L68.6 599.5L70.1 599.6L71.6 599.7L73.1 599.9L74.6 600.0L76.1 600.1L77.6 600.3L79.1 600.4L80.6 600.5L82.1 600.6L83.6 600.8L85.1 600.9L86.6 601.0L88.1 601.1L89.6 601.3L91.1 601.4L92.6 601.5L94.1 601.6L95.6 601.7L97.1 601.9L98.6 602.0L100.1 602.1L101.6 602.2L103.1 602.4L104.6 602.5L106.1 602.6L107.6 602.8L109.1 602.9L110.6 603.1L112.1 603.2L113.6 603.3L115.1 603.5L116.6 603.7L118.1 603.9L119.6 604.1L121.1 604.3L122.6 604.6L124.1 604.8L125.6 605.1L127.1 605.4L128.6 605.7L130.1 606.0L131.6 606.3L133.1 606.7L134.6 607.1L136.1 607.5L137.6 607.9L139.1 608.3L140.6 608.7L142.1 609.1L143.6 609.5L145.1 609.9L146.6 610.3L148.1 610.6L149.6 611.0L151.1 611.4L152.6 611.8L154.1 612.1L155.6 612.5L157.1 612.8L158.6 613.1L160.1 613.3L161.6 613.6L163.1 613.8L164.6 614.0L166.1 614.3L167.6 614.5L169.1 614.7L170.6 614.9L172.1 615.2L173.6 615.4L175.1 615.7L176.6 615.9L178.1 616.1L179.6 616.4L181.1 616.6L182.6 616.8L184.1 617.1L185.6 617.4L187.1 617.6L188.6 617.9L190.1 618.2L191.6 618.5L193.1 618.7L194.6 619.0L196.1 619.3L197.6 619.6L199.1 619.9L200.6 620.2L200.8 620.3" stroke="#fff" stroke-width="2.2" stroke-opacity=".5" fill="none" stroke-linejoin="round"/>
<path d="M40.1 596.4L41.6 596.6L43.1 596.7L44.6 596.9L46.1 597.1L47.6 597.3L49.1 597.4L50.6 597.6L52.1 597.8L53.6 597.9L55.1 598.1L56.6 598.2L58.1 598.4L59.6 598.6L61.1 598.7L62.6 598.9L64.1 599.0L65.6 599.2L67.1 599.3L68.6 599.5L70.1 599.6L71.6 599.7L73.1 599.9L74.6 600.0L76.1 600.1L77.6 600.3L79.1 600.4L80.6 600.5L82.1 600.6L83.6 600.8L85.1 600.9L86.6 601.0L88.1 601.1L89.6 601.3L91.1 601.4L92.6 601.5L94.1 601.6L95.6 601.7L97.1 601.9L98.6 602.0L100.1 602.1L101.6 602.2L103.1 602.4L104.6 602.5L106.1 602.6L107.6 602.8L109.1 602.9L110.6 603.1L112.1 603.2L113.6 603.3L115.1 603.5L116.6 603.7L118.1 603.9L119.6 604.1L121.1 604.3L122.6 604.6L124.1 604.8L125.6 605.1L127.1 605.4L128.6 605.7L130.1 606.0L131.6 606.3L133.1 606.7L134.6 607.1L136.1 607.5L137.6 607.9L139.1 608.3L140.6 608.7L142.1 609.1L143.6 609.5L145.1 609.9L146.6 610.3L148.1 610.6L149.6 611.0L151.1 611.4L152.6 611.8L154.1 612.1L155.6 612.5L157.1 612.8L158.6 613.1L160.1 613.3L161.6 613.6L163.1 613.8L164.6 614.0L166.1 614.3L167.6 614.5L169.1 614.7L170.6 614.9L172.1 615.2L173.6 615.4L175.1 615.7L176.6 615.9L178.1 616.1L179.6 616.4L181.1 616.6L182.6 616.8L184.1 617.1L185.6 617.4L187.1 617.6L188.6 617.9L190.1 618.2L191.6 618.5L193.1 618.7L194.6 619.0L196.1 619.3L197.6 619.6L199.1 619.9L200.6 620.2L200.8 620.3" stroke="#000" stroke-width="1.2" fill="none" stroke-linejoin="round"/>
<path d="M39.75 681.1v-3.0M44.25 681.1v-3.0M44.75 681.1v-3.0H47v3.0zM47.75 681.1v-3.0H49v3.0zM49.5 681.1v-3.0M53.25 681.1v-3.0M55.25 681.1v-3.0M56.5 681.1v-3.0M57.25 681.1v-3.0H58.25v3.0zM59.25 681.1v-3.0M60.25 681.1v-3.0H61v3.0zM61.75 681.1v-3.0M62.75 681.1v-3.0M64.25 681.1v-3.0M65.25 681.1v-3.0M66 681.1v-3.0H67v3.0zM68 681.1v-3.0M70.5 681.1v-3.0M71 681.1v-3.0H72v3.0zM72.5 681.1v-3.0M73 681.1v-3.0H76.25v3.0zM76.5 681.1v-3.0H78.25v3.0zM78.75 681.1v-3.0H79.5v3.0zM80.25 681.1v-3.0M81 681.1v-3.0H85.25v3.0zM85.5 681.1v-3.0H88.75v3.0zM89.25 681.1v-3.0M90 681.1v-3.0H92.25v3.0zM92.5 681.1v-3.0H96.5v3.0zM97 681.1v-3.0H100.25v3.0zM100.5 681.1v-3.0H196.75v3.0zM197.25 681.1v-3.0M199.25 681.1v-3.0M200 681.1v-3.0" stroke="#000" stroke-width=".5" fill="#000"/>
</g>
<text class="t" text-anchor="end" x="28.4" y="672.1">-1.0</text>
<text class="t" text-anchor="end" x="28.4" y="642.9">-0.5</text>
<text class="t" text-anchor="end" x="28.4" y="613.6">0.0</text>
<text class="t" text-anchor="end" x="28.4" y="584.4">0.5</text>
<text class="t" text-anchor="end" x="28.4" y="555.1">1.0</text>
<text class="t" text-anchor="end" x="28.4" y="525.9">1.5</text>
<text class="t" text-anchor="middle" x="39.8" y="691.7">0</text>
<text class="t" text-anchor="middle" x="85.5" y="691.7">1</text>
<text class="t" text-anchor="middle" x="131.2" y="691.7">2</text>
<text class="t" text-anchor="middle" x="176.9" y="691.7">3</text>
<path d="M32.0 669.5h-2.2M32.0 640.2h-2.2M32.0 611.0h-2.2M32.0 581.8h-2.2M32.0 552.5h-2.2M32.0 523.2h-2.2M39.8 681.1v2.2M85.5 681.1v2.2M131.2 681.1v2.2M176.9 681.1v2.2" stroke="#333" stroke-width=".6" fill="none"/>
<text class="ti" x="32.0" y="514.7">trawling effort</text>
<text class="ax" text-anchor="middle" textLength="96.4" lengthAdjust="spacingAndGlyphs" x="120.0" y="703.1">log10(hours/cell/year)</text>
<text class="ay" text-anchor="middle" transform="translate(11.7 600.5) rotate(-90)">ENS</text>
<clipPath id="c7"><rect x="245.0" y="520.7" width="177.1" height="160.4"/></clipPath>
<rect x="245.0" y="520.7" width="177.1" height="160.4" fill="#EBEBEB"/>
<g clip-path="url(#c7)">
<path d="M280.8 520.7V681.1M335.8 520.7V681.1M390.8 520.7V681.1M245.0 652.8H422.1M245.0 622.2H422.1M245.0 591.8H422.1M245.0 561.2H422.1M245.0 530.8H422.1" stroke="#fff" stroke-width=".6" stroke-opacity=".9" fill="none"/>
<path d="M253.3 520.7V681.1M308.3 520.7V681.1M363.3 520.7V681.1M418.3 520.7V681.1M245.0 668.0H422.1M245.0 637.5H422.1M245.0 607.0H422.1M245.0 576.5H422.1M245.0 546.0H422.1" stroke="#fff" stroke-width=".95" fill="none"/>
<path d="M253.1 604.1L254.6 604.1L256.1 604.2L257.6 604.2L259.1 604.3L260.6 604.3L262.1 604.3L263.6 604.4L265.1 604.4L266.6 604.5L268.1 604.6L269.6 604.6L271.1 604.7L272.6 604.7L274.1 604.8L275.6 604.9L277.1 605.0L278.6 605.1L280.1 605.2L281.6 605.2L283.1 605.3L284.6 605.4L286.1 605.5L287.6 605.6L289.1 605.6L290.6 605.7L292.1 605.7L293.6 605.8L295.1 605.8L296.6 605.9L298.1 605.9L299.6 606.0L301.1 606.0L302.6 606.1L304.1 606.1L305.6 606.1L307.1 606.2L308.6 606.2L310.1 606.2L311.6 606.2L313.1 606.2L314.6 606.2L316.1 606.2L317.6 606.2L319.1 606.2L320.6 606.2L322.1 606.2L323.6 606.2L325.1 606.2L326.6 606.2L328.1 606.2L329.6 606.2L331.1 606.2L332.6 606.2L334.1 606.2L335.6 606.2L337.1 606.1L338.6 606.1L340.1 606.0L341.6 605.9L343.1 605.9L344.6 605.8L346.1 605.6L347.6 605.5L349.1 605.4L350.6 605.3L352.1 605.1L353.6 605.0L355.1 604.8L356.6 604.5L358.1 604.2L359.6 603.9L361.1 603.6L362.6 603.2L364.1 602.8L365.6 602.4L367.1 602.0L368.6 601.6L370.1 601.1L371.6 600.6L373.1 600.2L374.6 599.7L376.1 599.2L377.6 598.8L379.1 598.3L380.6 597.8L382.1 597.3L383.6 596.8L385.1 596.3L386.6 595.7L388.1 595.2L389.6 594.7L391.1 594.2L392.6 593.6L394.1 593.1L395.6 592.6L397.1 592.1L398.6 591.5L400.1 591.0L401.6 590.5L403.1 590.0L404.6 589.5L406.1 589.0L407.6 588.6L409.1 588.1L410.6 587.7L412.1 587.2L413.6 586.8L414.4 586.5L414.4 603.6L413.6 603.5L412.1 603.5L410.6 603.4L409.1 603.4L407.6 603.4L406.1 603.4L404.6 603.4L403.1 603.4L401.6 603.5L400.1 603.6L398.6 603.7L397.1 603.8L395.6 603.9L394.1 604.0L392.6 604.1L391.1 604.2L389.6 604.3L388.1 604.4L386.6 604.6L385.1 604.7L383.6 604.8L382.1 605.0L380.6 605.2L379.1 605.3L377.6 605.5L376.1 605.7L374.6 605.8L373.1 606.0L371.6 606.2L370.1 606.3L368.6 606.5L367.1 606.6L365.6 606.8L364.1 606.9L362.6 607.1L361.1 607.2L359.6 607.4L358.1 607.6L356.6 607.7L355.1 607.9L353.6 608.1L352.1 608.3L350.6 608.5L349.1 608.6L347.6 608.7L346.1 608.8L344.6 608.9L343.1 609.0L341.6 609.1L340.1 609.2L338.6 609.3L337.1 609.3L335.6 609.4L334.1 609.4L332.6 609.4L331.1 609.4L329.6 609.4L328.1 609.4L326.6 609.4L325.1 609.4L323.6 609.4L322.1 609.4L320.6 609.4L319.1 609.4L317.6 609.4L316.1 609.4L314.6 609.4L313.1 609.4L311.6 609.4L310.1 609.4L308.6 609.4L307.1 609.4L305.6 609.3L304.1 609.3L302.6 609.3L301.1 609.2L299.6 609.2L298.1 609.1L296.6 609.1L295.1 609.0L293.6 609.0L292.1 608.9L290.6 608.9L289.1 608.8L287.6 608.7L286.1 608.7L284.6 608.6L283.1 608.5L281.6 608.4L280.1 608.3L278.6 608.3L277.1 608.2L275.6 608.1L274.1 608.0L272.6 607.9L271.1 607.9L269.6 607.8L268.1 607.7L266.6 607.7L265.1 607.6L263.6 607.6L262.1 607.5L260.6 607.5L259.1 607.4L257.6 607.4L256.1 607.4L254.6 607.3L253.1 607.3Z" fill="#999" fill-opacity=".42"/>
<g class="p0"><polyline id="h0" points="388.2,585.8 343.2,609.2 269.9,615.4 330.4,603.5 372.2,596.7 273.4,610.4 346.2,581.3 378.7,612.3 269.9,575.6 332.9,618.7 351.8,585.1 301.7,611 281,622.5 297,587.9 342.9,598.5 278.5,593.1 324.3,634.8 326.1,587.1 283.8,615.2 376.8,630.5 313.3,605.1 345.8,623 263.3,598.7 304.7,607.4 321.4,598.1 366.7,649 346.5,587 353.3,647.5 294.3,592.8 319.5,592.8 274.4,606.4 338.8,629.7 409,585.8"/></g>
<g class="p1"><polyline id="h1" points="287.9,584.6 278.6,627.2 356.8,592.9 398.2,605.6 376.4,574.5 383.8,605.4 343.3,609.7 335.3,624 306.4,608.1 363.4,614.6 283.5,609.4 377.6,563.8 282.4,602.7 367.8,576.3 377.5,594.7 341.8,633.3 387.6,604.7 364.6,593.4 260.5,621.2 323,592.8 310,590 274.8,571.8 317.3,596.6 278.8,593.7 314.8,635.3 342.6,616.7 356.6,598.7 286.7,599 258.9,603.6"/></g>
<g class="p2"><polyline id="h2" points="319.9,616.8 358.6,574.4 297.1,605.3 294.8,603 266.9,629.8 314.8,589 288.8,565.3 386.9,609.7 309.4,597.4 324.7,595.4 279.4,624.5 271.8,618.6 356.9,599.3 298.9,633 336,628.3 340.2,583.1 369.5,606.4 324.9,586.6 323.6,624.9 389.6,562.9 350.8,604.3 325.2,610.4 370.6,600.4"/></g>
<g class="p3"><polyline id="h3" points="267,619.7 271.2,612.7 277.7,610.6 331.4,608.3 272,593.1"/></g>
<g class="p0"><polyline id="h4" points="339.3,646.7 259.1,588.9 342.3,597 390.1,653.9 374.1,595.7 259.2,591.3 273.9,614.7 394.1,602.1 281.4,587.3 361.4,616.5 346.5,582.9 361.5,608.1 371.4,584.8 291.8,579.4 361.5,595.6 339.2,606.1 269.3,605.9 330,610.8 281.8,560.3 285.7,635.7 284.8,630.9 384.8,612.2 393.1,556 293.1,621.7 349.4,608 358,619.5 275.2,598.9 399.4,622 296,619.6 375,569.8 374.5,605.6 286.9,616.7 286.3,620.1 293.3,597.9 396.5,592.7 280.6,610.1"/></g>
<g class="p1"><polyline id="h5" points="329.6,587.4 271.7,592.3 343.9,613.4 368.6,559.3 391.6,601.8 389,582.8 355.7,589.5 345.2,613.1 359,590.6 315.6,594.5 303.6,637.6 378.6,582.9 363.8,582.5 372.7,577.1 259.2,565 289.7,621.1 356.5,611.6 365.9,612 393,613.1 270.2,630.8 287.2,585.9 380.8,616.5 395.2,579.5 361.6,582.3 278.1,592.9 340,656.3 347.1,621.6 278.2,633.7 291.8,589.5 318.1,593.6 287.4,601.6 305.6,651.5 372.2,618.2"/></g>
<g class="p2"><polyline id="h6" points="348.2,622.8 387.9,607.5 325.8,622.3 300.2,581.3 260.3,569.6 345.8,585.1 347.2,583.5 297.4,592.4 262.9,594.9 274.5,619.4 292,610.2 382.8,592.8 313.7,619.6 370.7,609.6 346.8,598.3 269.6,604.6 350.7,625.2 276.6,603.9"/></g>
<g class="p3"><polyline id="h7" points="325.8,564.8 286.7,609.6 259.2,631.3"/></g>
<g class="p0"><polyline id="h8" points="350.2,624 261.6,629.1 391.7,635.8 382.2,585.1 346.2,603.9 339.8,590.9 283.9,590.4 261.5,631.9 307.4,632 376.1,591.2 368.5,623.2 261.6,607.2 284.9,623.4 267.1,585.3 306.6,632.1 355.9,626.2 343.3,606.3 338,626.9 300.4,612.4 283.9,590.5 358.6,609 275.5,601.8 279.8,597.2 285.2,625.6 271.1,564.7 317.7,594 312.1,619.9 272.8,605 364.9,557.4 320.9,612.5 295.6,654.7 367.1,609.5 287,595.4 344.1,610 363.1,635.3 345.6,591.4 372,606.2 336.9,625.5 391.7,593.7 358.7,598.2"/></g>
<g class="p1"><polyline id="h9" points="316.4,614.5 378.9,588 384.6,624.3 259.3,589.6 307.7,654.2 304.5,610.3 378.9,620.3 278.8,602.7 266.2,626 285.6,592.8 331.1,619.7 353.4,615.6 262.7,596 286.5,650.2 292.9,595.3 349.2,629.7 338,592.3 322,585.9 279.5,616.9 280.7,621.3 380.9,579.8 346.6,637.4 365.3,628.7 309.1,599 277.2,605.6 321,594.9 349.9,594.1 351.4,597.5 331.2,651.4 290.3,618.5"/></g>
<g class="p2"><polyline id="h10" points="301.6,629.3 338,610.5 347.5,603.2 314.8,615.9 299.9,622.4 377.7,613.1 276.8,635.5 282.3,620.1 278.4,604.5 358.3,616.4 392.3,622.7 293,600.3 322.1,613.3 361.1,627.2 292,592.5 292.6,564.5 392.7,616.2 331.8,618.4"/></g>
<g class="p3"><polyline id="h11" points="273.1,626.6 311.7,641.7"/></g>
<g class="p0"><polyline id="h12" points="290.5,613.8 301.1,620.6 345.1,601.5 342.6,595.7 305.7,594 268.8,645.3 309.8,599.7 261.2,593 305.6,606.4 358,609.1 315.6,594.8 291.6,605.1 261.1,594.4 331.7,574.4 303,627.2 264.6,626.9 357.3,620.2 287.8,579.9 356.4,588.4 300,612 339.3,592.2 304.3,599.7 258.6,603.9 315.2,587.4 264.4,589.2 322.6,608.1 305.3,610.9 292.5,607.9 341.4,626.2 362.4,599.3 347.9,633.1 329.4,589.9 386.1,589.8 333.3,591.5 405.8,626.2 320.6,623.2 301.2,639.2 298.7,570.6 308.5,587.8 397.6,587.3 403.9,571.2 315.1,601.5 313.2,605.4"/></g>
<g class="p1"><polyline id="h13" points="282.8,604.5 339.2,592.9 259.4,641.3 377.9,620.2 327.1,631.1 352,636.5 267.6,632.3 301.5,649.5 362.3,584.6 353.5,653 391.2,563.4 290.7,584 343.8,607.9 348.5,589 304.1,616.1 347.1,609.9 350.8,610.2 352.6,606.9 329.6,578.8 308.7,604 302.7,609.1 356.8,596.7 379.1,588.9 390.2,592.1 294.1,605.4"/></g>
<g class="p2"><polyline id="h14" points="355.3,603.6 263.2,613.2 358.1,599 346.2,644.3 319.3,575.7 343.1,618 271.4,585.1 281.5,619 315.5,622.8 361.5,599.1 321.9,569.6 262.9,587.4 327.3,595.8 345.4,569.9 280.2,604 308.3,669.8 372,553.7 286.8,632.5 359.8,634 260,584.7"/></g>
<g class="p3"><polyline id="h15" points="318.6,600.6 261.6,602.9"/></g>
<g class="p0"><polyline id="h16" points="289.7,571.4 311.1,625.6 353,586.3 287.2,568.5 408.3,616.2 349.1,596.4 284.8,591.2 333.8,629.2 302.9,663.7 345.8,591.3 375.9,608.3 315.6,575.1 361.8,618 309.2,593.5 363.6,572.4 326.5,590.8 344.5,592.7 296.6,594.4 338.6,654.9 316.1,639.4 290.2,593.9 307,583.9 380.4,562.7 273.4,619.2 364.4,589.5 269.1,599.7 363,615.3 317.6,613.5 373.4,587.5 266.7,604.6 293.5,599.4 325.7,574.2 338.6,587.8 269.9,610.7 320.7,603.2 350,600.2 271.3,647.4 276.9,617.6 268.6,594.4 391.6,602.2"/></g>
<g class="p1"><polyline id="h17" points="265,630.1 300.1,597.5 268.2,598.1 342.8,606.7 328.4,614.6 316.3,638.2 279.8,628.6 295.7,629 308.1,597.4 333.6,583.6 375,581.2 287.3,566.1 360.3,625.8 275.8,611.2 270.3,618.3 312.7,606.6 269.3,586.9 271.7,632.6 384,618.8 370.2,597.6 308.8,607.3 388.8,577.1 291.2,551.5 300.2,644.3 344.3,612.9 296.4,630.6 283.4,620.7 315.2,611.8 369,609.9 295.6,630.1 321.6,616.5"/></g>
<g class="p2"><polyline id="h18" points="326.1,592.9 332.6,630.7 335.5,608.5 342.9,624 303.2,593.4 377.9,605 288.4,602.9 269.1,596.3 364.9,609.2 266.3,626.3 303.9,634.6 380.1,580.9 335.6,606.8 317.3,603.4 312.4,593.1 376.2,590.9 282.1,586"/></g>
<g class="p3"><polyline id="h19" points="314.7,612.2 285,638.4"/></g>
<g class="p0"><polyline id="h20" points="273.5,590.1 360,621.7 406.5,625.5 354.5,570.8 360,633.1 359.7,582.1 288.1,607.9 322.3,621.7 405.2,578.9 327.6,646.3 308.3,613.4 349.9,608.6 299.5,609.6 309.3,596.1 341.1,623 346.9,604.8 298.3,581.5 297.9,589.1 291.9,606.9 327.4,598.4 289.2,582.6 258.1,593.1 372.6,620.3 358.8,622.1 402,602.4 308.6,631.2 273,616 284.8,638.5 384.5,589.9 293.2,574.2 340.9,614.5 406.9,591.6 352.8,623.7 285.9,619.2 334.3,569.4 325.1,604 308.4,628.3 308.1,619.3 353,605.6 367.3,602.1 281.2,621.6 367.8,593 280.8,611.8 352.3,618.3 334.6,608.8 260.1,577.3"/></g>
<g class="p1"><polyline id="h21" points="342.6,585.8 340.8,654.6 300.7,595.5 321.2,590.8 274.4,609.4 375.4,610.5 292.1,617.8 291.9,596.3 301.4,595.8 301.2,586.5 380.6,593.8 289.4,576.5 262.5,612.1 259.2,578 295.1,607.5 304.7,578.5 305.3,581.4 337.5,637.8 286.1,632.6 317.1,631.4 298.4,609 398.6,621.2"/></g>
<g class="p2"><polyline id="h22" points="267.2,614.6 265.2,631.9 297,611.9 267.4,614.2 264.5,568 355.1,620.7 304.3,623.5 378.4,605.8 326,620.6 279.8,585.2 286.9,635.7 289.3,594.6 319,622.5 269,608.1 340.5,635.5 273.6,597.6 347.9,580.5 385.5,571.1"/></g>
<g class="p3"><polyline id="h23" points="301.9,617.8 291.5,594.8 277.2,626.3 309.4,604.3"/></g>
<g class="p0"><polyline id="h24" points="317.8,614.8 337,607.7 329.1,575 295.9,589.2 290.7,570 284,618.8 330.8,577.7 324.1,611.7 306.1,628.2 337.1,593.7 295.3,624.4 333.7,580.6 306.3,600.3 276.1,618.4 320.7,563.9 394.4,645.5 304.4,591.4 274.3,629.9 336.5,591.6 289.9,593.1 360,594.9 408.2,602.5 345.6,622.1 304,637.3 404.6,604.6 314,581 302.8,604 314,599.2 358.5,611.4 313.6,604.8 327.1,604.3 326,594.2 302.4,580.1 409.5,596 309.8,578.4 268.4,633.9 398.8,582.9 300.3,596.7 323.1,576 291.2,570.6"/></g>
<g class="p1"><polyline id="h25" points="261,595.2 356.7,607.2 329.3,617.9 317.4,607.8 295.1,578.9 316.1,587 375.9,603.5 389.5,591.6 323.4,614.8 274.2,584 330.8,610.6 279.2,618.1 283.7,644.7 345.9,623.6 353,608.5 269.4,602.6 271.3,641.5 391.9,631.9 332.6,629.8 291.1,620.8 321.4,629.4 316.5,575.2 269.2,619.6 291.3,598.2 310.8,645.6 307,582.4 346.2,612.3 282.5,617.2 372.1,640.6 259.5,622.4"/></g>
<g class="p2"><polyline id="h26" points="265.7,600.1 344.1,623 304.5,575.4 340.7,596.1 263.3,579.9 373.6,598.7 275.6,621.7 285.9,626.4 311.2,587.8 277,620.5 324.8,602.1 354.6,603.2 296.4,590.2 377.7,620.8 320.5,611.3"/></g>
<g class="p3"><polyline id="h27" points="325.8,610.9 340.4,628.2 329.4,569.6 296.2,599 313.6,583.5"/></g>
<g class="p0"><polyline id="h28" points="281,609 368.4,609.5 288.1,588.9 262.6,587.9 285.6,606.2 360.6,587 270.8,622.7 372.9,607.6 377.6,604 335.6,630.2 268.6,576.9 377.9,559.4 304.1,578.1 397.4,588.1 264.8,592.5 267.7,602 261.4,597.1 343.2,595 281.5,589.2 337.2,590.2 342.2,599.8 324.4,647 415.6,591.8 308.3,600.6 364.2,604.6 343.8,629.6 354.9,581.3 296.6,619.7 273.7,584.8 339.5,608.6 286.2,550.9 317.4,622.8 326.7,599.2"/></g>
<g class="p1"><polyline id="h29" points="394.9,614.3 333.7,617.8 261.8,571.9 314.5,629.1 314.9,585.6 311.6,593.6 323.3,614.8 261.3,574.1 264.8,628.8 331,605.8 392.2,621.6 393.3,637.4 289.4,608.5 312.2,617.4 394.1,619.9 264.2,590.6 345.4,618.7 283.8,657.9 342.5,620 382.4,595.9 379,579 296.8,604.5 344.5,589.9 275.6,636.1 335.7,640.5 361.1,565.3 373.8,621.2 271.9,607.6 327.2,632.6 320.7,586.8 276.4,618.7 287.9,606 336.4,593.9 359.4,634.9 353.4,601.2 320.3,632.5 375.7,581.3 316.7,596.8 363.3,599.9 282.7,603"/></g>
<g class="p2"><polyline id="h30" points="325.2,601.1 305.1,616.9 262.7,598 360.9,615.4 390.5,585.2 322.7,638.9 338,612.3 322.3,602.3 277.8,587.3 366.2,587.9 293.6,617.7 290.6,602.6 303.1,612.2"/></g>
<g class="p3"><polyline id="h31" points="374.1,605.9 343.5,621 290.2,597.9 288,592.9"/></g>
<g class="p0"><polyline id="h32" points="377.1,622.7 336.8,583.4 278.3,592.4 365.5,607.4 313.4,586.3 261.9,607.1 262.9,589.9 356,565.3 383,609.3 397.7,598.6 367.1,576.7 370.7,594.7 325.8,581.7 382.1,614.1 266.7,598.6 318.8,574 288.1,643.4 315.3,581.7 289.9,588.4 326.3,631.8 270.8,632.3 263.1,596.3 346.6,614.9 362.6,639.9 328,621.4 271,611.6 401.4,620.6 318.9,623 361.2,584.9 276.2,577.6"/></g>
<g class="p1"><polyline id="h33" points="357,625.5 282.5,586.2 282.7,612.6 281.7,599.9 300.2,590.2 326.6,648.6 322.1,611.3 292,575.8 344.1,634.1 381.4,614.5 382.7,595.2 266.8,567.7 338.6,593.6 302,606.6 326.3,629.6 392.1,627.7 314.4,633 361.6,621.4 351.7,578.4 362.2,614.9"/></g>
<g class="p2"><polyline id="h34" points="336.1,613.2 286.9,561.4 353.1,598.1 261.3,585.9 259.3,603.5 299.9,553.2 300.5,588.6 272.8,573.6 325.1,651.9"/></g>
<g class="p3"><polyline id="h35" points="313.7,621.6 285.8,610.9 362.9,598.7"/></g>
<use href="#h0" class="q0"/>
<use href="#h1" class="q1"/>
<use href="#h2" class="q2"/>
<use href="#h3" class="q3"/>
<use href="#h4" class="q0"/>
<use href="#h5" class="q1"/>
<use href="#h6" class="q2"/>
<use href="#h7" class="q3"/>
<use href="#h8" class="q0"/>
<use href="#h9" class="q1"/>
<use href="#h10" class="q2"/>
<use href="#h11" class="q3"/>
<use href="#h12" class="q0"/>
<use href="#h13" class="q1"/>
<use href="#h14" class="q2"/>
<use href="#h15" class="q3"/>
<use href="#h16" class="q0"/>
<use href="#h17" class="q1"/>
<use href="#h18" class="q2"/>
<use href="#h19" class="q3"/>
<use href="#h20" class="q0"/>
<use href="#h21" class="q1"/>
<use href="#h22" class="q2"/>
<use href="#h23" class="q3"/>
<use href="#h24" class="q0"/>
<use href="#h25" class="q1"/>
<use href="#h26" class="q2"/>
<use href="#h27" class="q3"/>
<use href="#h28" class="q0"/>
<use href="#h29" class="q1"/>
<use href="#h30" class="q2"/>
<use href="#h31" class="q3"/>
<use href="#h32" class="q0"/>
<use href="#h33" class="q1"/>
<use href="#h34" class="q2"/>
<use href="#h35" class="q3"/>
<g class="r0"><polyline points="253.3,615.3 253.3,573.4 253.3,567.9 253.3,653.6 253.3,671.9 253.3,643.9 253.3,668.6 253.3,646.1 253.3,632.1 253.3,669.9 253.3,560.2 253.3,655.2 253.3,622.6 253.3,623.2 253.3,639.1 253.3,578.4 253.3,550.9 253.3,559.1 253.3,596.6 253.3,597.2 253.3,614.3 253.3,591.9 253.3,667.7 253.3,644.1 253.3,652.5 253.3,655.4 253.3,605.1 253.3,572.9 253.3,669.7 253.3,632.2 253.3,595.3 253.3,553.9 253.3,657.2 253.3,621.3 253.3,636 253.3,674.6 253.3,599.3 253.3,576.4 253.3,604.6 253.3,624.2 253.3,597.5 253.3,642.9 253.3,575.4 253.3,641.6 253.3,565.9 253.3,674.5 253.3,605.6 253.3,666.6 253.3,602.9 253.3,606 253.3,655.7 253.3,575.7 253.3,660.8 253.3,627.3 253.3,629.1 253.3,562.9 253.3,670.9 253.3,602.9 253.3,648.5 253.3,608.1"/></g>
<g class="r0"><polyline points="253.3,644.9 253.3,659.6 253.3,588.4 253.3,616.1 253.3,656.2 253.3,621.4 253.3,601.2 253.3,591.9 253.3,573.1 253.3,549.9 253.3,608.5 253.3,643.2 253.3,598.8 253.3,619.7 253.3,610.5 253.3,565.4 253.3,635.4 253.3,572.6 253.3,670.5 253.3,630.4 253.3,649 253.3,578.3 253.3,578 253.3,555 253.3,569.5 253.3,656.6 253.3,663.5 253.3,655.1 253.3,585.1 253.3,586.1 253.3,598.5 253.3,644.6 253.3,557.8 253.3,577.2 253.3,565.5 253.3,593 253.3,656.2 253.3,665.4 253.3,548.1 253.3,581.9 253.3,652.8 253.3,643.6 253.3,602.9 253.3,554.4 253.3,570.8 253.3,653.8 253.3,572.4 253.3,611.6 253.3,545.2 253.3,609.7 253.3,669.2 253.3,595.6 253.3,588.8 253.3,583.5 253.3,546.2 253.3,659.8 253.3,627 253.3,558.7 253.3,548.3 253.3,627.4"/></g>
<g class="r0"><polyline points="253.3,549.8 253.3,569.2 253.3,590.6 253.3,664 253.3,628.5 253.3,668 253.3,670.2 253.3,562.2 253.3,658 253.3,623.2 253.3,629.5 253.3,662.2 253.3,631 253.3,552.2 253.3,649.1 253.3,558.3 253.3,579.7 253.3,613.9 253.3,587.8 253.3,640.4 253.3,608.6 253.3,568 253.3,669.6 253.3,598.6 253.3,609.8 253.3,605.4 253.3,644 253.3,654.3 253.3,545 253.3,673.7 253.3,575 253.3,654.2 253.3,616.7 253.3,621.8 253.3,564 253.3,614.7 253.3,654.6 253.3,620.2 253.3,618.1 253.3,667 253.3,645.7 253.3,576.1 253.3,624.4 253.3,660.7 253.3,623.1 253.3,636.7 253.3,647.1 253.3,602.9 253.3,591.8 253.3,642.4 253.3,550.9 253.3,622.7 253.3,628.1 253.3,602.9 253.3,634.4 253.3,644.3 253.3,604.4 253.3,635.5 253.3,563.2 253.3,619.9"/></g>
<g class="r0"><polyline points="253.3,599.7 253.3,625.6 253.3,547.3 253.3,607.2 253.3,560.5 253.3,634.7 253.3,615.3 253.3,586.1 253.3,615.1 253.3,594.9 253.3,592.1 253.3,610.2 253.3,635.5 253.3,613.7 253.3,575.9 253.3,566 253.3,551.5 253.3,625.4 253.3,556.6 253.3,647.6 253.3,610.6 253.3,646.6 253.3,602.4 253.3,548.7 253.3,649.3 253.3,564 253.3,635.1 253.3,594.4 253.3,563.7 253.3,603.8 253.3,610.9 253.3,644.8 253.3,596.5 253.3,573.4 253.3,577.4 253.3,598.7 253.3,641.5 253.3,591.4 253.3,625.8 253.3,554.8 253.3,633 253.3,620.5 253.3,564.9 253.3,640.7 253.3,600 253.3,647.1 253.3,615 253.3,597.7 253.3,560.7 253.3,615.3 253.3,639.2 253.3,617.7 253.3,636.1 253.3,664.9 253.3,586.8 253.3,655.4 253.3,596.5 253.3,549.8 253.3,588.7 253.3,555.3"/></g>
<g class="r0"><polyline points="253.3,602.4 253.3,619.8 253.3,673.6 253.3,577.8 253.3,624.4 253.3,565.5 253.3,604.4 253.3,624.9 253.3,557.3 253.3,548.1 253.3,607.5 253.3,609.3 253.3,612.7 253.3,602.2 253.3,601.2 253.3,614.5 253.3,578.8 253.3,611.3 253.3,545.4 253.3,588.7"/></g>
<g class="r1"><polyline points="253.3,606.8 253.3,599.6 253.3,577.6 253.3,602.4 253.3,656.3 253.3,605.1 253.3,606.2 253.3,603.4 253.3,599.8 253.3,593.3 253.3,582.1 253.3,576.3 253.3,611.2 253.3,581.4 253.3,609.7 253.3,597.7 253.3,585.3 253.3,613.9 253.3,621.1 253.3,628 253.3,580 253.3,623.8 253.3,558.9 253.3,569.1 253.3,613.3 253.3,563.6 253.3,598.1 253.3,587 253.3,601 253.3,633.2 253.3,582.3 253.3,646 253.3,607.8 253.3,642.1 253.3,587.6 253.3,571.7 253.3,588.7 253.3,667.4 253.3,559.8 253.3,604.1"/></g>
<g class="r1"><polyline points="253.3,562.4 253.3,644.5 253.3,582.7 253.3,611.3 253.3,624.9 253.3,603.5 253.3,578.5 253.3,586.6 253.3,639.6 253.3,628.2 253.3,629.9 253.3,633.2 253.3,617.1 253.3,602.1 253.3,639.3 253.3,576.2 253.3,585.5 253.3,628.7 253.3,602.7 253.3,598.7 253.3,577.7 253.3,558.4 253.3,607.4 253.3,603.7 253.3,597.7 253.3,619.1 253.3,576 253.3,619.2 253.3,633.7 253.3,555.2 253.3,598.1 253.3,606.4 253.3,586.9 253.3,622.9 253.3,611.9 253.3,584.2 253.3,633.6 253.3,575.7 253.3,586.6 253.3,617.7 253.3,610.7 253.3,618.9 253.3,618.3 253.3,600.3 253.3,610.5 253.3,660.8 253.3,571.5 253.3,611.5 253.3,619.9 253.3,567.4 253.3,599.1 253.3,576.7 253.3,638.8 253.3,664.2 253.3,616 253.3,620.7 253.3,655.5 253.3,618.8 253.3,573.9 253.3,586.5"/></g>
<g class="r1"><polyline points="253.3,585.7 253.3,606.1 253.3,622.2 253.3,629.3 253.3,578.3 253.3,604.2 253.3,566.6 253.3,604.6 253.3,632.6 253.3,637 253.3,615.3 253.3,653.2 253.3,598.7 253.3,575.2 253.3,619.3 253.3,648.4 253.3,623 253.3,583.1 253.3,656.4 253.3,587.6 253.3,605.5 253.3,601.1 253.3,608.3 253.3,618.2 253.3,645.4 253.3,612 253.3,590 253.3,648.8 253.3,611.3 253.3,645.2 253.3,565.9 253.3,568.2 253.3,583.7 253.3,656.3 253.3,620 253.3,597.7 253.3,576 253.3,564.3 253.3,608 253.3,590.2 253.3,643.8 253.3,591.6 253.3,636.8 253.3,560.3 253.3,559.3 253.3,582.9 253.3,647.8 253.3,623.4 253.3,624.5 253.3,614.9 253.3,609.7 253.3,644.8 253.3,644.5 253.3,616.6 253.3,623.4 253.3,577.7 253.3,604.9 253.3,622.4 253.3,622 253.3,618.8"/></g>
<g class="r1"><polyline points="253.3,622.6 253.3,561.9 253.3,635.5 253.3,583.8 253.3,633.9 253.3,574.6 253.3,578 253.3,605.7 253.3,606.3 253.3,622.7 253.3,607.3 253.3,581 253.3,582.6 253.3,630.7 253.3,628.2 253.3,569.8 253.3,591.2 253.3,602.8 253.3,604.4 253.3,639 253.3,622.6 253.3,558.1 253.3,580.9 253.3,614.1 253.3,591.1 253.3,619.9 253.3,600.2 253.3,635.7 253.3,641.5 253.3,638.6 253.3,584.7 253.3,613.6 253.3,611.7 253.3,574.9 253.3,645 253.3,574.4 253.3,574.2 253.3,615.4 253.3,592.9 253.3,592.5 253.3,597.7 253.3,632.8 253.3,613 253.3,665.8 253.3,655.6 253.3,583.3 253.3,641 253.3,621.8 253.3,639.4 253.3,594.3 253.3,656.9 253.3,665 253.3,572.6 253.3,567 253.3,621.8 253.3,577.9 253.3,627.7 253.3,660.3 253.3,617.2 253.3,657.7"/></g>
<g class="r1"><polyline points="253.3,613.2 253.3,629.1 253.3,644.9 253.3,624.2 253.3,589.7 253.3,646.4 253.3,582.3 253.3,597.3 253.3,569.3 253.3,626.2 253.3,590.9 253.3,630.6 253.3,654.4 253.3,647.3 253.3,600 253.3,627.3 253.3,624.3 253.3,573.6 253.3,608.8 253.3,647.6 253.3,581 253.3,616.2 253.3,648.5 253.3,586.1 253.3,598.5 253.3,594.5 253.3,598.5 253.3,606.2 253.3,607.3 253.3,596 253.3,609.9 253.3,607.8 253.3,633 253.3,598.4 253.3,581.7 253.3,595.6 253.3,630 253.3,642.7 253.3,575.1 253.3,599.2"/></g>
<g class="r2"><polyline points="253.3,610 253.3,580.2 253.3,602.3 253.3,609.7 253.3,653.3 253.3,583.4 253.3,636.3 253.3,650 253.3,613.1 253.3,630.1 253.3,621.6 253.3,619.9 253.3,600.1 253.3,619.1 253.3,596.9 253.3,582.4 253.3,579.5 253.3,629.2"/></g>
<g class="r3"><polyline points="253.3,574.4 253.3,569"/></g>
<g class="r2"><polyline points="253.3,593 253.3,576.7 253.3,573 253.3,616 253.3,620.9 253.3,584.6 253.3,589 253.3,614 253.3,637.9 253.3,582.4 253.3,629.6 253.3,643.1 253.3,592.5 253.3,597.7 253.3,606 253.3,622.6 253.3,574.8 253.3,596.4 253.3,632.7 253.3,633.1 253.3,606 253.3,597.7 253.3,599.2 253.3,634.1 253.3,650.2 253.3,601.2 253.3,565.4 253.3,592.8 253.3,582 253.3,573.2 253.3,583.9 253.3,585.7 253.3,591.5 253.3,572.8 253.3,632.9 253.3,594.5 253.3,642 253.3,600.5 253.3,602.5 253.3,632.6 253.3,626.7 253.3,565.8 253.3,653.2 253.3,614.1 253.3,622.6 253.3,624.6 253.3,618.5 253.3,587 253.3,647.4 253.3,652.6 253.3,559"/></g>
<g class="r3"><polyline points="253.3,610.8 253.3,561.5 253.3,575.8 253.3,610.9 253.3,607.2 253.3,570.6 253.3,621.3 253.3,582.9 253.3,617.7"/></g>
<g class="r2"><polyline points="253.3,595 253.3,589.2 253.3,591.1 253.3,600 253.3,612.8 253.3,629.6 253.3,625.9 253.3,619 253.3,618.6 253.3,595.8 253.3,596 253.3,597 253.3,596 253.3,599.7 253.3,594.4 253.3,580.5 253.3,622.3 253.3,618 253.3,603.9 253.3,591.4 253.3,639.8 253.3,559.7 253.3,621.9 253.3,636.5 253.3,612.3 253.3,613.8 253.3,623.7 253.3,604.2 253.3,610.5 253.3,639.3 253.3,582.4 253.3,614.8 253.3,575.9 253.3,601 253.3,607.4 253.3,593.1 253.3,574.7 253.3,597.1 253.3,613.4 253.3,609.5 253.3,635.6 253.3,599.4 253.3,591.8 253.3,635.1 253.3,603.9 253.3,603.1 253.3,595.8 253.3,623.2 253.3,624.3 253.3,583.5 253.3,602.5 253.3,634 253.3,603.2 253.3,592.1 253.3,634.1 253.3,624.3 253.3,632.2"/></g>
<g class="r3"><polyline points="253.3,588.6 253.3,618.3 253.3,631.9"/></g>
<g class="r2"><polyline points="253.3,620.2 253.3,624.8 253.3,609.3 253.3,622.9 253.3,599.9 253.3,606.2 253.3,582.2 253.3,616.3 253.3,568.8 253.3,576.4 253.3,563.5 253.3,605.7 253.3,631.7 253.3,604.4 253.3,597.7 253.3,604.9 253.3,568.8 253.3,633.7 253.3,571.9 253.3,587.7 253.3,584.7 253.3,606.7 253.3,579.9 253.3,600.1 253.3,597.6 253.3,605.5 253.3,626.2 253.3,619.5 253.3,599.3 253.3,614 253.3,603.2 253.3,596.8 253.3,599.5 253.3,590 253.3,625.2 253.3,575.5 253.3,597.5 253.3,606.7 253.3,617.3 253.3,614.9 253.3,622.1 253.3,602.4 253.3,617.1 253.3,593.3 253.3,592.4 253.3,566.6 253.3,616.3 253.3,628.3 253.3,614.6 253.3,574.4 253.3,626.3"/></g>
<g class="r3"><polyline points="253.3,620.6 253.3,609.3 253.3,619.8 253.3,649.5 253.3,575.7 253.3,613.4 253.3,581.3 253.3,571.6 253.3,603.9"/></g>
<g class="r2"><polyline points="253.3,593.1 253.3,564.2 253.3,610 253.3,583.3 253.3,628.5 253.3,604.6 253.3,576 253.3,576 253.3,635.6 253.3,635.5 253.3,600.5 253.3,642.1 253.3,620.7 253.3,613.4 253.3,632.4 253.3,640.8 253.3,623.9 253.3,634.1 253.3,616.3 253.3,588.5 253.3,626.9 253.3,631.3 253.3,593.2 253.3,615.6 253.3,592.6 253.3,639.2 253.3,598.5 253.3,644.1 253.3,612.9 253.3,622.7 253.3,621.8 253.3,573.8 253.3,611.4 253.3,588.3 253.3,591.8 253.3,586.9 253.3,616.9 253.3,576 253.3,615.2 253.3,610.8 253.3,591.7 253.3,629.4 253.3,624.3 253.3,600.5 253.3,585.6 253.3,610.1 253.3,614 253.3,616.5 253.3,612.4 253.3,589.2"/></g>
<g class="r3"><polyline points="253.3,621.6 253.3,605.4 253.3,621 253.3,598.6 253.3,593.4 253.3,633.2 253.3,598.1 253.3,600.1 253.3,633.3 253.3,630.9"/></g>
<g class="r2"><polyline points="253.3,614.6 253.3,604.5 253.3,616.7 253.3,634.5 253.3,606.8 253.3,610.3 253.3,585.6 253.3,619.5 253.3,609.2 253.3,642.1 253.3,569.7 253.3,605.4 253.3,610.2 253.3,573.4 253.3,632.5 253.3,605.5 253.3,578.8 253.3,602.2 253.3,594.9 253.3,573.2 253.3,585.4 253.3,605.8 253.3,610.4 253.3,590.3 253.3,614.9 253.3,600.8 253.3,590.4 253.3,635.5 253.3,602.1 253.3,629.2 253.3,626.5 253.3,606.9 253.3,583.1"/></g>
<g class="r3"><polyline points="253.3,612.9 253.3,607.3 253.3,629.5 253.3,585.7 253.3,624.2 253.3,586.4 253.3,587.1"/></g>
<g class="p0"><polyline points="253.3,535 253.3,535"/></g>
<g class="p2"><polyline points="253.3,527.7 253.3,527.7"/></g>
<path d="M253.1 605.7L254.6 605.7L256.1 605.8L257.6 605.8L259.1 605.8L260.6 605.9L262.1 605.9L263.6 606.0L265.1 606.0L266.6 606.1L268.1 606.2L269.6 606.2L271.1 606.3L272.6 606.3L274.1 606.4L275.6 606.5L277.1 606.6L278.6 606.7L280.1 606.8L281.6 606.8L283.1 606.9L284.6 607.0L286.1 607.1L287.6 607.1L289.1 607.2L290.6 607.3L292.1 607.3L293.6 607.4L295.1 607.4L296.6 607.5L298.1 607.5L299.6 607.6L301.1 607.6L302.6 607.7L304.1 607.7L305.6 607.7L307.1 607.8L308.6 607.8L310.1 607.8L311.6 607.8L313.1 607.8L314.6 607.8L316.1 607.8L317.6 607.8L319.1 607.8L320.6 607.8L322.1 607.8L323.6 607.8L325.1 607.8L326.6 607.8L328.1 607.8L329.6 607.8L331.1 607.8L332.6 607.8L334.1 607.8L335.6 607.8L337.1 607.7L338.6 607.7L340.1 607.6L341.6 607.5L343.1 607.4L344.6 607.3L346.1 607.2L347.6 607.1L349.1 607.0L350.6 606.9L352.1 606.7L353.6 606.6L355.1 606.3L356.6 606.1L358.1 605.9L359.6 605.6L361.1 605.4L362.6 605.1L364.1 604.9L365.6 604.6L367.1 604.3L368.6 604.0L370.1 603.7L371.6 603.4L373.1 603.1L374.6 602.8L376.1 602.4L377.6 602.1L379.1 601.8L380.6 601.5L382.1 601.1L383.6 600.8L385.1 600.5L386.6 600.2L388.1 599.8L389.6 599.5L391.1 599.2L392.6 598.9L394.1 598.6L395.6 598.2L397.1 597.9L398.6 597.6L400.1 597.3L401.6 597.0L403.1 596.7L404.6 596.5L406.1 596.2L407.6 596.0L409.1 595.8L410.6 595.5L412.1 595.3L413.6 595.1L414.4 595.1" stroke="#fff" stroke-width="2.2" stroke-opacity=".5" fill="none" stroke-linejoin="round"/>
<path d="M253.1 605.7L254.6 605.7L256.1 605.8L257.6 605.8L259.1 605.8L260.6 605.9L262.1 605.9L263.6 606.0L265.1 606.0L266.6 606.1L268.1 606.2L269.6 606.2L271.1 606.3L272.6 606.3L274.1 606.4L275.6 606.5L277.1 606.6L278.6 606.7L280.1 606.8L281.6 606.8L283.1 606.9L284.6 607.0L286.1 607.1L287.6 607.1L289.1 607.2L290.6 607.3L292.1 607.3L293.6 607.4L295.1 607.4L296.6 607.5L298.1 607.5L299.6 607.6L301.1 607.6L302.6 607.7L304.1 607.7L305.6 607.7L307.1 607.8L308.6 607.8L310.1 607.8L311.6 607.8L313.1 607.8L314.6 607.8L316.1 607.8L317.6 607.8L319.1 607.8L320.6 607.8L322.1 607.8L323.6 607.8L325.1 607.8L326.6 607.8L328.1 607.8L329.6 607.8L331.1 607.8L332.6 607.8L334.1 607.8L335.6 607.8L337.1 607.7L338.6 607.7L340.1 607.6L341.6 607.5L343.1 607.4L344.6 607.3L346.1 607.2L347.6 607.1L349.1 607.0L350.6 606.9L352.1 606.7L353.6 606.6L355.1 606.3L356.6 606.1L358.1 605.9L359.6 605.6L361.1 605.4L362.6 605.1L364.1 604.9L365.6 604.6L367.1 604.3L368.6 604.0L370.1 603.7L371.6 603.4L373.1 603.1L374.6 602.8L376.1 602.4L377.6 602.1L379.1 601.8L380.6 601.5L382.1 601.1L383.6 600.8L385.1 600.5L386.6 600.2L388.1 599.8L389.6 599.5L391.1 599.2L392.6 598.9L394.1 598.6L395.6 598.2L397.1 597.9L398.6 597.6L400.1 597.3L401.6 597.0L403.1 596.7L404.6 596.5L406.1 596.2L407.6 596.0L409.1 595.8L410.6 595.5L412.1 595.3L413.6 595.1L414.4 595.1" stroke="#000" stroke-width="1.2" fill="none" stroke-linejoin="round"/>
<path d="M253.25 681.1v-3.0M257.75 681.1v-3.0H263.5v3.0zM264 681.1v-3.0H272.25v3.0zM272.5 681.1v-3.0H283v3.0zM283.25 681.1v-3.0H284.25v3.0zM284.5 681.1v-3.0H310.25v3.0zM310.5 681.1v-3.0H332v3.0zM332.25 681.1v-3.0H334.75v3.0zM335 681.1v-3.0H348.75v3.0zM349 681.1v-3.0H351v3.0zM351.25 681.1v-3.0H353.75v3.0zM354.25 681.1v-3.0H357.5v3.0zM357.75 681.1v-3.0H368v3.0zM368.25 681.1v-3.0H369.75v3.0zM370 681.1v-3.0H371v3.0zM371.25 681.1v-3.0H379.5v3.0zM379.75 681.1v-3.0H381.75v3.0zM382 681.1v-3.0H383.25v3.0zM383.5 681.1v-3.0H385v3.0zM385.25 681.1v-3.0H386.25v3.0zM387 681.1v-3.0M387.5 681.1v-3.0H390.75v3.0zM391 681.1v-3.0H393.5v3.0zM393.75 681.1v-3.0H394.5v3.0zM394.75 681.1v-3.0H395.5v3.0zM396.5 681.1v-3.0M397.25 681.1v-3.0H399v3.0zM399.5 681.1v-3.0M401.25 681.1v-3.0H402.25v3.0zM404 681.1v-3.0M404.5 681.1v-3.0H406v3.0zM406.25 681.1v-3.0H407.25v3.0zM408.25 681.1v-3.0M408.75 681.1v-3.0H409.75v3.0zM415.5 681.1v-3.0" stroke="#000" stroke-width=".5" fill="#000"/>
</g>
<text class="t" text-anchor="end" x="241.4" y="670.6">-1.0</text>
<text class="t" text-anchor="end" x="241.4" y="640.1">-0.5</text>
<text class="t" text-anchor="end" x="241.4" y="609.6">0.0</text>
<text class="t" text-anchor="end" x="241.4" y="579.1">0.5</text>
<text class="t" text-anchor="end" x="241.4" y="548.6">1.0</text>
<text class="t" text-anchor="middle" x="253.3" y="691.7">0</text>
<text class="t" text-anchor="middle" x="308.3" y="691.7">1</text>
<text class="t" text-anchor="middle" x="363.3" y="691.7">2</text>
<text class="t" text-anchor="middle" x="418.3" y="691.7">3</text>
<path d="M245.0 668.0h-2.2M245.0 637.5h-2.2M245.0 607.0h-2.2M245.0 576.5h-2.2M245.0 546.0h-2.2M253.3 681.1v2.2M308.3 681.1v2.2M363.3 681.1v2.2M418.3 681.1v2.2" stroke="#333" stroke-width=".6" fill="none"/>
<text class="ti" x="245.0" y="514.7">seiners effort</text>
<text class="ax" text-anchor="middle" textLength="96.4" lengthAdjust="spacingAndGlyphs" x="333.2" y="703.1">log10(hours/cell/year)</text>
<text class="ay" text-anchor="middle" transform="translate(224.7 600.5) rotate(-90)">ENS</text>
<clipPath id="c8"><rect x="458.7" y="520.7" width="176.3" height="160.4"/></clipPath>
<rect x="458.7" y="520.7" width="176.3" height="160.4" fill="#EBEBEB"/>
<g clip-path="url(#c8)">
<path d="M483.9 520.7V681.1M518.8 520.7V681.1M553.8 520.7V681.1M588.7 520.7V681.1M623.7 520.7V681.1M458.7 653.2H635.0M458.7 622.7H635.0M458.7 592.3H635.0M458.7 561.8H635.0M458.7 531.4H635.0" stroke="#fff" stroke-width=".6" stroke-opacity=".9" fill="none"/>
<path d="M466.4 520.7V681.1M501.3 520.7V681.1M536.3 520.7V681.1M571.2 520.7V681.1M606.2 520.7V681.1M458.7 668.4H635.0M458.7 638.0H635.0M458.7 607.5H635.0M458.7 577.0H635.0M458.7 546.6H635.0" stroke="#fff" stroke-width=".95" fill="none"/>
<path d="M466.1 604.1L467.6 604.4L469.1 604.7L470.6 605.0L472.1 605.3L473.6 605.6L475.1 605.8L476.6 606.1L478.1 606.3L479.6 606.6L481.1 606.8L482.6 607.1L484.1 607.3L485.6 607.5L487.1 607.7L488.6 607.9L490.1 608.0L491.6 608.2L493.1 608.3L494.6 608.4L496.1 608.6L497.6 608.7L499.1 608.8L500.6 608.9L502.1 609.0L503.6 609.1L505.1 609.2L506.6 609.3L508.1 609.4L509.6 609.4L511.1 609.5L512.6 609.5L514.1 609.6L515.6 609.6L517.1 609.7L518.6 609.7L520.1 609.8L521.6 609.8L523.1 609.8L524.6 609.9L526.1 609.9L527.6 609.9L529.1 609.9L530.6 609.9L532.1 609.9L533.6 609.9L535.1 609.9L536.6 609.8L538.1 609.8L539.6 609.7L541.1 609.7L542.6 609.6L544.1 609.6L545.6 609.5L547.1 609.5L548.6 609.4L550.1 609.4L551.6 609.3L553.1 609.3L554.6 609.2L556.1 609.1L557.6 609.1L559.1 609.0L560.6 609.0L562.1 608.9L563.6 608.8L565.1 608.7L566.6 608.5L568.1 608.3L569.6 608.1L571.1 607.9L572.6 607.6L574.1 607.3L575.6 607.0L577.1 606.6L578.6 606.3L580.1 605.9L581.6 605.6L583.1 605.2L584.6 604.9L586.1 604.5L587.6 604.1L589.1 603.6L590.6 603.1L592.1 602.6L593.6 602.1L595.1 601.6L596.6 601.1L598.1 600.6L599.6 600.1L601.1 599.6L602.6 599.1L604.1 598.6L605.6 598.2L607.1 597.7L608.6 597.3L610.1 596.8L611.6 596.4L613.1 595.9L614.6 595.5L616.1 595.0L617.6 594.6L619.1 594.1L620.6 593.7L622.1 593.2L623.6 592.7L625.1 592.3L626.6 591.8L627.4 591.6L627.4 619.0L626.6 618.8L625.1 618.4L623.6 618.0L622.1 617.7L620.6 617.3L619.1 617.0L617.6 616.7L616.1 616.3L614.6 616.0L613.1 615.7L611.6 615.5L610.1 615.2L608.6 614.9L607.1 614.7L605.6 614.5L604.1 614.3L602.6 614.1L601.1 613.9L599.6 613.7L598.1 613.6L596.6 613.4L595.1 613.3L593.6 613.1L592.1 613.0L590.6 612.9L589.1 612.8L587.6 612.8L586.1 612.7L584.6 612.6L583.1 612.6L581.6 612.5L580.1 612.4L578.6 612.4L577.1 612.3L575.6 612.2L574.1 612.2L572.6 612.1L571.1 612.1L569.6 612.0L568.1 612.0L566.6 612.0L565.1 612.0L563.6 612.0L562.1 612.1L560.6 612.1L559.1 612.2L557.6 612.3L556.1 612.3L554.6 612.4L553.1 612.4L551.6 612.5L550.1 612.5L548.6 612.6L547.1 612.7L545.6 612.7L544.1 612.8L542.6 612.8L541.1 612.9L539.6 612.9L538.1 613.0L536.6 613.0L535.1 613.1L533.6 613.1L532.1 613.1L530.6 613.1L529.1 613.1L527.6 613.1L526.1 613.1L524.6 613.1L523.1 613.0L521.6 613.0L520.1 613.0L518.6 612.9L517.1 612.9L515.6 612.8L514.1 612.8L512.6 612.7L511.1 612.7L509.6 612.6L508.1 612.5L506.6 612.5L505.1 612.4L503.6 612.3L502.1 612.2L500.6 612.1L499.1 612.0L497.6 611.9L496.1 611.8L494.6 611.6L493.1 611.5L491.6 611.4L490.1 611.2L488.6 611.1L487.1 610.9L485.6 610.7L484.1 610.5L482.6 610.2L481.1 610.0L479.6 609.8L478.1 609.5L476.6 609.3L475.1 609.0L473.6 608.8L472.1 608.5L470.6 608.2L469.1 607.9L467.6 607.6L466.1 607.3Z" fill="#999" fill-opacity=".42"/>
<g class="p0"><polyline id="i0" points="481.6,624.4 579,634.6 591,598.4 521.2,599 547.1,615.4 493.4,630.4 531.8,628.1 490.9,589 497.2,630.9 513.2,623 481,619.6 539.3,591.5 499.6,600 565.1,592.7 473.9,600 509.8,597.4 509.5,636.1 518.9,612.8 481.8,573.4 505.5,591.7 527.5,634.6 510.8,612.9 490.4,608 546.6,615.1 534.8,585.1 479.8,613.8 488,583.2 576.2,555.6 476.3,622.6 503.2,604.9 580.7,630.5 567.9,615.2"/></g>
<g class="p1"><polyline id="i1" points="504.4,624 507.8,636 596,620.4 511,608.7 522.1,574 596.5,617.9 563.9,620 499.7,590.6 539.4,595.1 478.6,592.9 549.8,604.6 532,584.3 500.2,619.3 553.2,610.7 505.6,638 481.4,639.9 544.7,623.5 513.9,592 582,621.1 517.4,609.3 533.5,620.1 481.3,621.6 482.7,591.3 564.6,627.1 474.2,594.4 539.3,640.6 533.8,588.2 519.9,611.6 544.3,582.3"/></g>
<g class="p2"><polyline id="i2" points="547.7,587.4 583.7,602.4 476.2,619.9 590,624.5 475.1,592.2 483.8,662.7 555.9,578.3 498.1,624.6 528.3,603 488.3,613.2 526.1,608.2 487.4,626.4 478.7,621.7 524.7,618.5 541.3,619.4 576.8,620.9 490.4,602.6 508.7,619.9 558.5,598.2 510.2,577 516.3,593.6 477.9,562.6 543,585 487.2,586.8 534.2,606 552.4,635.7"/></g>
<g class="p3"><polyline id="i3" points="538.1,634.2 547,607.6 491.9,604.8"/></g>
<g class="p0"><polyline id="i4" points="525.9,579.5 552,602.6 571.4,561.1 480,615.4 480.1,621.1 494.5,578.9 519.2,596.3 529.6,571.2 567.1,610.9 542,617.1 560.1,653.6 516.3,608.5 475,638.9 580.8,608.1 479.5,619.1 561.5,629.5 545,654.6 517.4,624 577.2,602.1 563.1,617.1 523.3,616.7 570.9,613.1 525.9,595.1 484.1,588.7 481.6,575"/></g>
<g class="p1"><polyline id="i5" points="498.1,594.6 547.8,604.4 482.2,586.6 540,638.7 495.6,598.6 532.3,602.7 495.8,597.8 516.1,656.6 516.8,596.5 565.1,615.6 579.5,639.4 508.4,622.8 501.5,635.1 520.7,598 479.3,607.3 555.8,619.5 475,639.4 550.9,573.6 585.1,610.9 513.8,618.5 584.6,614.2 472.2,573.4 586.6,625.9 590.5,630.4 557.4,573.7 471.1,611.2 539,594.7 547.1,660.3 526,578.6 519.9,607.9 484.6,611.1 475.6,593.7 517.8,624.8 472.2,584.5 560.9,593.4 500.1,630.1 497.2,587.9"/></g>
<g class="p2"><polyline id="i6" points="568.3,625.1 470.6,622.9 572.8,609.9 523.9,650.1 524.9,617.1 492.8,610.1 568.7,639.6 472.8,605.1 539.5,590.6 517.2,616.4 589.5,614.8 495.4,570.1 526.9,576.9 515.8,623.1 512.3,606.1 486.2,622.4 501.2,614.7 563.4,586.3 515.7,613.2 593.4,596.2 557.5,620.4 533.7,578.9 499.6,585.9"/></g>
<g class="p3"><polyline id="i7" points="553.9,654.5 542.6,602.3 493.8,575.8 522.5,615.1 571.8,603"/></g>
<g class="p0"><polyline id="i8" points="538.2,621.7 500.7,636.7 556,581.1 493.4,635.1 502.8,639.5 475.3,562.8 521,613.8 539.3,607 571.3,605.3 555.7,615.7 483.7,606.4 495.3,602.4 476.8,624.3 543.7,596.4 541,636.9 553.8,639.8 541.4,593.6 493.1,612.1 497.6,626.1 517.2,617.5 503.7,625.1 520.4,611.6 507.3,590.1"/></g>
<g class="p1"><polyline id="i9" points="513.2,605.8 560.3,611.5 562.4,605.4 494.8,571.6 544.9,582.3 503.3,616.1 541.2,624.7 530.6,636.8 534.3,616.2 489.3,638.9 519.1,572.7 508.1,611.6 597.5,615.9 543.1,592 570.3,600.8 493.4,593.9 543.9,587.6 513.4,578.5 532.9,629.2 471.4,644.6 476.5,567.4 522.5,598.7 492.9,635.8 506.9,636 505.1,644.2 474.5,625.7 483.2,658 515.4,600.9 488.1,555.5 514.1,603.6 556.7,609.1 549.6,629.5 506.7,573.3 528.2,601.3 500,640.5 472.5,603.3 533.6,612.2 501.6,604.6"/></g>
<g class="p2"><polyline id="i10" points="595.7,612.1 494.2,613.1 472.5,612 544.7,601.9 547.7,631.7 520.4,630.2 547.9,600.3 500.5,635.1 527.6,598.6 512.1,592.9 548.6,575.5 541.2,609.9 475.4,604.4 473.5,628.8 490.1,659.7 540.4,607.8 528.1,594.3 509.1,591.9 536.7,627.8 544.1,565.6 560.4,590.3 505.9,623.1 552.9,647.1 555.1,626.6"/></g>
<g class="p3"><polyline id="i11" points="528.4,627.5 507.1,637.8 514.6,619.4 547.9,650.6 519.8,569.1"/></g>
<g class="p0"><polyline id="i12" points="565.8,595.9 530.3,600.8 509.5,621.4 518.6,623.7 510.3,630.4 563.4,632.9 502.6,602.3 472.7,630.4 548.5,626.5 554,585.7 513.1,666.7 540.2,618.9 569.8,620.1 499,573.4 495.6,608.8 531.6,628 507.3,617.8 517.7,625.7 628.6,602 500.4,599.8 510.3,626.4 521.6,582.8 511.9,603.7 486.3,602.8 520.1,605.5 537.9,595.6 483.9,616.8 500.2,608 501.6,589.3 525,605.1 544.7,590.3 498.4,612 559.2,571.7"/></g>
<g class="p1"><polyline id="i13" points="530.4,639.8 516.9,608.9 535.3,585.8 510.8,643.5 513,615.9 505.5,624.2 531.4,578.3 512.3,636.7 539.8,605.6 507.2,619.2 510.5,619 525.2,571.6 560.3,628.4 551.8,608.1 496.9,612.9 483,613.7 486.1,626.8 538.1,622.2 476.3,579.2 543.5,588.2 549.1,575.2 512.5,621.6 569.9,598.7 491.4,622.1 501.2,583.9 479.6,645.7 548.9,606.5 545.1,583.8 481.9,626.1 536.8,596.1 516,593.4 478,625.1 553.8,596.2"/></g>
<g class="p2"><polyline id="i14" points="479.3,591.1 516.9,559.4 562.8,607.3 573,561.6 495.3,579.4 523,629.2 479.3,603.2 527.5,620.5 506.1,616.5 485.5,608.5 510.7,631 504.6,616.5 502.2,630.9 484.5,631 542.9,575.7 482.4,616.5 497.3,625.1 487.7,611.1 495,661.8 479.2,651.9 545.9,640"/></g>
<g class="p3"><polyline id="i15" points="542.9,636.4 497.8,584.3 511.2,586.1"/></g>
<g class="p0"><polyline id="i16" points="505.5,599.7 478.6,611.3 490.1,640.3 563.6,603.7 494.3,580.1 530.6,575.6 493.9,624.3 576.9,583.7 582.2,578.4 478.4,574 497.3,616.4 521.5,635.4 488.5,592.5 495.8,598.3 514.4,575.6 562.4,599.2 520.2,618.8 484.5,617.4 588.5,610.3 511.3,643.3 493.4,630.7 515.8,589 562.9,596.2 528.4,579.9 476.6,610.6 537.9,626 511.1,576.3 511.8,621 487.4,616.9 498.1,607.5 498,564.9 543,633.5 519,626.6 557.3,591.5 542.2,588.7 473.7,620.4 540.4,590.5 479.4,620.4 564.5,644.8"/></g>
<g class="p1"><polyline id="i17" points="568.3,611.6 514.5,609 495.8,628.5 492.4,585.4 528.7,594.3 553.8,587.6 489.1,610.3 509.2,608.4 513.2,617.2 518.9,602.9 560.8,577.6 602.1,595.5 573.8,588 485.6,610.8 490.7,609.2 557.4,621.9 483.3,580.2 497.1,593.5 492.2,555.7 475.8,648.1 603.6,631.9 492.2,594.5 481.1,618.1 493.9,664.7 500.6,620.6 495.4,618.5 544.6,620.6 545.3,580.6 518.5,621.4 546.2,577.9"/></g>
<g class="p2"><polyline id="i18" points="517,598.5 475.5,605.8 509.9,620.6 516.6,623.1 555.7,577.9 497.3,618.8 530.2,622.3 511,608.6 511.6,631 491,627.9 505.3,627.9 510.5,610.6 533.1,611.3 495.9,615.8 584.2,588.3 501.9,601.1 578.4,614.5 512.7,618.9"/></g>
<g class="p3"><polyline id="i19" points="558.8,624.4 532.1,591 525.7,563.1"/></g>
<g class="p0"><polyline id="i20" points="509.1,610.8 517.2,573.2 545,663.5 499.9,625.8 474.3,619 490.7,599.8 533.9,590 505.1,632.6 568.6,609.4"/></g>
<g class="p1"><polyline id="i21" points="550.6,588.4 557.6,584.1 535.3,574.2 510.8,646.1 531.9,607.4 538.9,609.9 481.1,594.6 601.2,617"/></g>
<g class="p2"><polyline id="i22" points="590.3,614.3 563.1,610.8 524,616.6"/></g>
<g class="p3"><polyline id="i23" points="553.9,607 553.9,607"/></g>
<use href="#i0" class="q0"/>
<use href="#i1" class="q1"/>
<use href="#i2" class="q2"/>
<use href="#i3" class="q3"/>
<use href="#i4" class="q0"/>
<use href="#i5" class="q1"/>
<use href="#i6" class="q2"/>
<use href="#i7" class="q3"/>
<use href="#i8" class="q0"/>
<use href="#i9" class="q1"/>
<use href="#i10" class="q2"/>
<use href="#i11" class="q3"/>
<use href="#i12" class="q0"/>
<use href="#i13" class="q1"/>
<use href="#i14" class="q2"/>
<use href="#i15" class="q3"/>
<use href="#i16" class="q0"/>
<use href="#i17" class="q1"/>
<use href="#i18" class="q2"/>
<use href="#i19" class="q3"/>
<use href="#i20" class="q0"/>
<use href="#i21" class="q1"/>
<use href="#i22" class="q2"/>
<use href="#i23" class="q3"/>
<g class="r0"><polyline points="466.4,596.7 466.4,579.7 466.4,623.6 466.4,613.3 466.4,628.3 466.4,622.1 466.4,587.7 466.4,642.6 466.4,644.2 466.4,594.6 466.4,599.1 466.4,636.8 466.4,589.2 466.4,552.4 466.4,591.6 466.4,655.6 466.4,635.4 466.4,634.8 466.4,641 466.4,626.6 466.4,643.2 466.4,588.9 466.4,594.2 466.4,672.8 466.4,607.4 466.4,622.3 466.4,625.9 466.4,572.6 466.4,653.6 466.4,565.6 466.4,654.7 466.4,570.7 466.4,583.1 466.4,616.6 466.4,551.5 466.4,643.8 466.4,633.5 466.4,595.7 466.4,557.8 466.4,614.7 466.4,586.8 466.4,661.5 466.4,559.6 466.4,556.2 466.4,622.7 466.4,622.4 466.4,659.6 466.4,595.5 466.4,625.9 466.4,549.9 466.4,628.5 466.4,650 466.4,588.3 466.4,581.4 466.4,631.9 466.4,673.5 466.4,564.6 466.4,674.1 466.4,576.9 466.4,550.4"/></g>
<g class="r0"><polyline points="466.4,672 466.4,572.6 466.4,667.5 466.4,601.5 466.4,557.8 466.4,576.7 466.4,613.4 466.4,570 466.4,578.1 466.4,639.6 466.4,636.5 466.4,580.6 466.4,610.8 466.4,586.7 466.4,594.6 466.4,584.4 466.4,656.6 466.4,616.8 466.4,598.7 466.4,636.2 466.4,636.8 466.4,585.8 466.4,613.8 466.4,650.5 466.4,661.7 466.4,569.4 466.4,593.9 466.4,670.9 466.4,628.4 466.4,573.2 466.4,672.3 466.4,627.7 466.4,606.4 466.4,610.2 466.4,560.8 466.4,634.1 466.4,603.7 466.4,613.8 466.4,580.6 466.4,656.3 466.4,602.3 466.4,609.3 466.4,624.8 466.4,584.5 466.4,647.7 466.4,630.5 466.4,640.2 466.4,625.7 466.4,566 466.4,634.6 466.4,627 466.4,626.3 466.4,549.1 466.4,646.3 466.4,660.4 466.4,584.5 466.4,601.7 466.4,566 466.4,602.2 466.4,559.4"/></g>
<g class="r0"><polyline points="466.4,595.4 466.4,584.7 466.4,562.7 466.4,576.6 466.4,588.1 466.4,611.3 466.4,585.3 466.4,618.3 466.4,628.3 466.4,607.3 466.4,546.1 466.4,650.3 466.4,578.2 466.4,670.9 466.4,634.2 466.4,613.5 466.4,644.4 466.4,563.9 466.4,610.4 466.4,583.5 466.4,631.3 466.4,641.8 466.4,621 466.4,608.6 466.4,571.4 466.4,616.3 466.4,553.4 466.4,625.5 466.4,614 466.4,624.6 466.4,547.9 466.4,665.3 466.4,588 466.4,633.6 466.4,587.6 466.4,649.1 466.4,645.8 466.4,591.9 466.4,603.7 466.4,600 466.4,578.4 466.4,633.6 466.4,601.8 466.4,667.5 466.4,598.1 466.4,611.4 466.4,643.6 466.4,635 466.4,622.2 466.4,606.3 466.4,559.9 466.4,593.6 466.4,577 466.4,612.8 466.4,630 466.4,589.1 466.4,640.8 466.4,628.1 466.4,569 466.4,621.3"/></g>
<g class="r0"><polyline points="466.4,590.4 466.4,606 466.4,651.4 466.4,573.8 466.4,579.2 466.4,559.4 466.4,647.4 466.4,623.7 466.4,597 466.4,653.5 466.4,655.7 466.4,545.6 466.4,567.7 466.4,593.2 466.4,659.8 466.4,633.7 466.4,606.5 466.4,608 466.4,577.4 466.4,639.8 466.4,549.2 466.4,585 466.4,610.9 466.4,556.4 466.4,615.7 466.4,585 466.4,637.6 466.4,627.9 466.4,656 466.4,600.2 466.4,661.8 466.4,670.7 466.4,612.3 466.4,547.3 466.4,594.8 466.4,602.6 466.4,584.1 466.4,565.1 466.4,584.6 466.4,552.8 466.4,566.1 466.4,593.7 466.4,595.8 466.4,565.5 466.4,603.5 466.4,640.6 466.4,604.4 466.4,608.2 466.4,576.9 466.4,575.3 466.4,591.9 466.4,576.3 466.4,616 466.4,646 466.4,632.9 466.4,628 466.4,673 466.4,627.1 466.4,549.7 466.4,665.2"/></g>
<g class="r0"><polyline points="466.4,604 466.4,660.2 466.4,576.5 466.4,584.9 466.4,672.4 466.4,674.1 466.4,571.7 466.4,650.3 466.4,659 466.4,591.5 466.4,598.3 466.4,607.4 466.4,660.2 466.4,579.6 466.4,546 466.4,644.9 466.4,659.5 466.4,594.9 466.4,647.7 466.4,573.6"/></g>
<g class="r1"><polyline points="466.4,590.3 466.4,640 466.4,586.9 466.4,624.2 466.4,625.8 466.4,598.4 466.4,658.6 466.4,619.7 466.4,623.5 466.4,647.8 466.4,602.6 466.4,622.1 466.4,632.4 466.4,567.9 466.4,670.7 466.4,579.2 466.4,577.1 466.4,628 466.4,566.3 466.4,652.7 466.4,604.9 466.4,590.6 466.4,601.1 466.4,598 466.4,612.3 466.4,614.1 466.4,608.6 466.4,630.7 466.4,632.4 466.4,601.1 466.4,630.5 466.4,613.7 466.4,621.2 466.4,612.2 466.4,573.8 466.4,559.2 466.4,598.1 466.4,648.7 466.4,584.3 466.4,572.4"/></g>
<g class="r1"><polyline points="466.4,625.6 466.4,610.8 466.4,629.3 466.4,602.2 466.4,603 466.4,637 466.4,557.4 466.4,616.9 466.4,600.9 466.4,671.1 466.4,640.2 466.4,630 466.4,587.4 466.4,632 466.4,599.2 466.4,555.7 466.4,566.9 466.4,603.5 466.4,609.3 466.4,619.6 466.4,587.3 466.4,643.9 466.4,600.5 466.4,587.8 466.4,581.7 466.4,617.2 466.4,594.3 466.4,599.3 466.4,609.5 466.4,582.8 466.4,595.8 466.4,594.9 466.4,595.1 466.4,619.2 466.4,645.5 466.4,600.7 466.4,596.7 466.4,560.6 466.4,613 466.4,617.1 466.4,593.8 466.4,661.9 466.4,590.2 466.4,564.8 466.4,602.2 466.4,599 466.4,580.2 466.4,657.6 466.4,556.1 466.4,613 466.4,636.7 466.4,628.3 466.4,566.1 466.4,588.6 466.4,615.2 466.4,615.8 466.4,553.5 466.4,572.6 466.4,591.3 466.4,573.7"/></g>
<g class="r1"><polyline points="466.4,616.7 466.4,664.9 466.4,596.9 466.4,636.8 466.4,651.9 466.4,585.3 466.4,594.5 466.4,592.9 466.4,608.4 466.4,609.5 466.4,623.1 466.4,598 466.4,654.9 466.4,610.3 466.4,576.8 466.4,598.8 466.4,615.5 466.4,593.4 466.4,614 466.4,563.6 466.4,567.6 466.4,619.7 466.4,602.5 466.4,595.5 466.4,608.8 466.4,649.4 466.4,584.2 466.4,576 466.4,626.9 466.4,648 466.4,611.7 466.4,613.1 466.4,611.4 466.4,621.4 466.4,644.6 466.4,604 466.4,600.4 466.4,660.7 466.4,627.3 466.4,580.2 466.4,656 466.4,565.9 466.4,591.4 466.4,644 466.4,639 466.4,641.2 466.4,609.6 466.4,661.5 466.4,601 466.4,624.8 466.4,603.5 466.4,573.8 466.4,598.9 466.4,638.5 466.4,635.7 466.4,643.5 466.4,594.7 466.4,577.3 466.4,607.2 466.4,608"/></g>
<g class="r1"><polyline points="466.4,652.2 466.4,616 466.4,634.2 466.4,612.8 466.4,621 466.4,614.7 466.4,609.2 466.4,635.8 466.4,563.6 466.4,568.1 466.4,649.5 466.4,600 466.4,593.3 466.4,583.3 466.4,574.3 466.4,595.7 466.4,629.4 466.4,594.4 466.4,607.5 466.4,623.6 466.4,619.7 466.4,598.3 466.4,582.7 466.4,609.7 466.4,633.9 466.4,596.5 466.4,611.1 466.4,606.3 466.4,587.1 466.4,631.1 466.4,594.1 466.4,626.9 466.4,598.1 466.4,615.3 466.4,640.8 466.4,627.3 466.4,588.5 466.4,556.2 466.4,557.7 466.4,621.1 466.4,609.4 466.4,641.5 466.4,606.8 466.4,625.6 466.4,567 466.4,630.6 466.4,564.8 466.4,597.6 466.4,600.5 466.4,559.5 466.4,591.5 466.4,614.6 466.4,618.9 466.4,553.7 466.4,580.2 466.4,620 466.4,604.1 466.4,580.8 466.4,610.6 466.4,637"/></g>
<g class="r1"><polyline points="466.4,601 466.4,582.9 466.4,563.7 466.4,612.2 466.4,649.1 466.4,575.3 466.4,576.6 466.4,609.9 466.4,629.1 466.4,638.2 466.4,578.7 466.4,566.5 466.4,561.1 466.4,580 466.4,594.9 466.4,608.1 466.4,594.9 466.4,607.6 466.4,630.1 466.4,602.8 466.4,583.2 466.4,617.7 466.4,647.4 466.4,648 466.4,643.5 466.4,553.2 466.4,603.1 466.4,569.8 466.4,602.8 466.4,634.9 466.4,640 466.4,629 466.4,599.5 466.4,631.2 466.4,625 466.4,594.9 466.4,618.1 466.4,591.3 466.4,554.3 466.4,602.7"/></g>
<g class="r2"><polyline points="466.4,592.6 466.4,594.9 466.4,604.8 466.4,581.4 466.4,590.1 466.4,562.3 466.4,600.4 466.4,588.7 466.4,612.4 466.4,614.7 466.4,584.8 466.4,615.3 466.4,603.5 466.4,589.3 466.4,594.1 466.4,624"/></g>
<g class="r3"><polyline points="466.4,607.9 466.4,606.3 466.4,617.6 466.4,642.5"/></g>
<g class="r2"><polyline points="466.4,600.7 466.4,595.7 466.4,601 466.4,572.6 466.4,617.2 466.4,579.5 466.4,597.7 466.4,599.4 466.4,608.8 466.4,644.5 466.4,621.9 466.4,579.8 466.4,636.7 466.4,586.6 466.4,613.8 466.4,620.2 466.4,625.2 466.4,619.3 466.4,601.3 466.4,589.8 466.4,639.5 466.4,583.2 466.4,574.1 466.4,601.9 466.4,631.2 466.4,643.3 466.4,574.4 466.4,635.5 466.4,583.8 466.4,617.1 466.4,593.8 466.4,608.5 466.4,617.9 466.4,600.1 466.4,565.4 466.4,594.2 466.4,617.3 466.4,626.5 466.4,612 466.4,620.6 466.4,588 466.4,640.2 466.4,630.7 466.4,631.4 466.4,652.9 466.4,611.6 466.4,610.3 466.4,582 466.4,623.8 466.4,645.4 466.4,621.6 466.4,601.8"/></g>
<g class="r3"><polyline points="466.4,588.2 466.4,617.2 466.4,617.3 466.4,603.1 466.4,583.1 466.4,601.7 466.4,595.1 466.4,601.6"/></g>
<g class="r2"><polyline points="466.4,612.5 466.4,613.7 466.4,573.5 466.4,607.5 466.4,575.6 466.4,603.7 466.4,631 466.4,609.3 466.4,604.4 466.4,614.4 466.4,608 466.4,590.8 466.4,631.8 466.4,628.2 466.4,604.3 466.4,602.6 466.4,584.1 466.4,591.3 466.4,624 466.4,608.8 466.4,605 466.4,632 466.4,591.6 466.4,613.9 466.4,642 466.4,609.6 466.4,563.1 466.4,587.3 466.4,592.3 466.4,644 466.4,606.6 466.4,627.5 466.4,626.9 466.4,603.8 466.4,607.7 466.4,571.4 466.4,649.8 466.4,622.1 466.4,588.5 466.4,630 466.4,614.7 466.4,648.9 466.4,638.7 466.4,604.7 466.4,566 466.4,631.6 466.4,581.6 466.4,601.9 466.4,603.6 466.4,618.3 466.4,596.4 466.4,623.6 466.4,611.8"/></g>
<g class="r3"><polyline points="466.4,584.8 466.4,641.2 466.4,576.4 466.4,587.7 466.4,614.5 466.4,581.3 466.4,613.9"/></g>
<g class="r2"><polyline points="466.4,609.3 466.4,590.8 466.4,620.7 466.4,609.9 466.4,625 466.4,597 466.4,615.3 466.4,602.5 466.4,591.2 466.4,610.6 466.4,601.6 466.4,583.4 466.4,603.8 466.4,606.1 466.4,637.3 466.4,600 466.4,620.4 466.4,622.4 466.4,596.9 466.4,633.8 466.4,622.8 466.4,608.5 466.4,628.7 466.4,579.7 466.4,606.6 466.4,619.6 466.4,578.3 466.4,608.2 466.4,559.1 466.4,608.9 466.4,601.2 466.4,600.1 466.4,601.2 466.4,581.5 466.4,575.2 466.4,629.8 466.4,638.2 466.4,598.6 466.4,600 466.4,572 466.4,590.4 466.4,613.6 466.4,576.3 466.4,610.6 466.4,564.2 466.4,573.2 466.4,590.1 466.4,561.4 466.4,571 466.4,601.6 466.4,609.5"/></g>
<g class="r3"><polyline points="466.4,619.9 466.4,596 466.4,564.4 466.4,630.9 466.4,586.1 466.4,611.2 466.4,612.8 466.4,578.4 466.4,623.5"/></g>
<g class="r2"><polyline points="466.4,576.5 466.4,591.3 466.4,632.7 466.4,585.2 466.4,611.5 466.4,636.3 466.4,621 466.4,587.5 466.4,587.4 466.4,606 466.4,586.8 466.4,619.8 466.4,584.9 466.4,596.9 466.4,574 466.4,632.6 466.4,595.5 466.4,613 466.4,588.5 466.4,591.9 466.4,604.6 466.4,600 466.4,578.9 466.4,618.2 466.4,637 466.4,618.3 466.4,620.6 466.4,624.9 466.4,614.6 466.4,604.1 466.4,626.7 466.4,585.2 466.4,573 466.4,606.5 466.4,586.4 466.4,632.9 466.4,612.8 466.4,619.9 466.4,616.7 466.4,621.4 466.4,597.6 466.4,650.3 466.4,586.8 466.4,603.7 466.4,614.5 466.4,609.3 466.4,616.4 466.4,591.1 466.4,651.5 466.4,621.7 466.4,583.1 466.4,650 466.4,599.9"/></g>
<g class="r3"><polyline points="466.4,574.5 466.4,608.5 466.4,615.6 466.4,630.5 466.4,591.9 466.4,603.8 466.4,593.2"/></g>
<g class="r2"><polyline points="466.4,623 466.4,604.3 466.4,627.1 466.4,597.9 466.4,598.7 466.4,616 466.4,654.5 466.4,620.3 466.4,590.1 466.4,619.9 466.4,620.8 466.4,606.4 466.4,651.8 466.4,600.4 466.4,637.4 466.4,617.6 466.4,609.3 466.4,571.7 466.4,604.3 466.4,598.9 466.4,615.3 466.4,590.9 466.4,623.8 466.4,607.3 466.4,611.8 466.4,633.5 466.4,589.9 466.4,615.8 466.4,596.2 466.4,613.8 466.4,619.4 466.4,602.8 466.4,562.2 466.4,585.4 466.4,613"/></g>
<g class="r3"><polyline points="466.4,625.6 466.4,595.8 466.4,606 466.4,623.9 466.4,600.3"/></g>
<g class="p3"><polyline points="466.4,673.3 466.4,673.3"/></g>
<g class="p3"><polyline points="466.4,675.7 466.4,675.7"/></g>
<g class="p0"><polyline points="466.4,535.6 466.4,535.6"/></g>
<g class="p2"><polyline points="466.4,528.3 466.4,528.3"/></g>
<path d="M466.1 605.7L467.6 606.0L469.1 606.3L470.6 606.6L472.1 606.9L473.6 607.2L475.1 607.4L476.6 607.7L478.1 607.9L479.6 608.2L481.1 608.4L482.6 608.7L484.1 608.9L485.6 609.1L487.1 609.3L488.6 609.5L490.1 609.6L491.6 609.8L493.1 609.9L494.6 610.0L496.1 610.2L497.6 610.3L499.1 610.4L500.6 610.5L502.1 610.6L503.6 610.7L505.1 610.8L506.6 610.9L508.1 611.0L509.6 611.0L511.1 611.1L512.6 611.1L514.1 611.2L515.6 611.2L517.1 611.3L518.6 611.3L520.1 611.4L521.6 611.4L523.1 611.4L524.6 611.5L526.1 611.5L527.6 611.5L529.1 611.5L530.6 611.5L532.1 611.5L533.6 611.5L535.1 611.5L536.6 611.4L538.1 611.4L539.6 611.3L541.1 611.3L542.6 611.2L544.1 611.2L545.6 611.1L547.1 611.1L548.6 611.0L550.1 611.0L551.6 610.9L553.1 610.8L554.6 610.8L556.1 610.7L557.6 610.7L559.1 610.6L560.6 610.5L562.1 610.5L563.6 610.4L565.1 610.3L566.6 610.3L568.1 610.2L569.6 610.1L571.1 610.0L572.6 609.9L574.1 609.7L575.6 609.6L577.1 609.5L578.6 609.3L580.1 609.2L581.6 609.1L583.1 608.9L584.6 608.8L586.1 608.6L587.6 608.4L589.1 608.3L590.6 608.1L592.1 607.9L593.6 607.7L595.1 607.5L596.6 607.4L598.1 607.2L599.6 607.0L601.1 606.8L602.6 606.6L604.1 606.5L605.6 606.3L607.1 606.1L608.6 606.0L610.1 605.8L611.6 605.6L613.1 605.4L614.6 605.2L616.1 605.1L617.6 604.9L619.1 604.7L620.6 604.5L622.1 604.3L623.6 604.1L625.1 603.9L626.6 603.7L627.4 603.6" stroke="#fff" stroke-width="2.2" stroke-opacity=".5" fill="none" stroke-linejoin="round"/>
<path d="M466.1 605.7L467.6 606.0L469.1 606.3L470.6 606.6L472.1 606.9L473.6 607.2L475.1 607.4L476.6 607.7L478.1 607.9L479.6 608.2L481.1 608.4L482.6 608.7L484.1 608.9L485.6 609.1L487.1 609.3L488.6 609.5L490.1 609.6L491.6 609.8L493.1 609.9L494.6 610.0L496.1 610.2L497.6 610.3L499.1 610.4L500.6 610.5L502.1 610.6L503.6 610.7L505.1 610.8L506.6 610.9L508.1 611.0L509.6 611.0L511.1 611.1L512.6 611.1L514.1 611.2L515.6 611.2L517.1 611.3L518.6 611.3L520.1 611.4L521.6 611.4L523.1 611.4L524.6 611.5L526.1 611.5L527.6 611.5L529.1 611.5L530.6 611.5L532.1 611.5L533.6 611.5L535.1 611.5L536.6 611.4L538.1 611.4L539.6 611.3L541.1 611.3L542.6 611.2L544.1 611.2L545.6 611.1L547.1 611.1L548.6 611.0L550.1 611.0L551.6 610.9L553.1 610.8L554.6 610.8L556.1 610.7L557.6 610.7L559.1 610.6L560.6 610.5L562.1 610.5L563.6 610.4L565.1 610.3L566.6 610.3L568.1 610.2L569.6 610.1L571.1 610.0L572.6 609.9L574.1 609.7L575.6 609.6L577.1 609.5L578.6 609.3L580.1 609.2L581.6 609.1L583.1 608.9L584.6 608.8L586.1 608.6L587.6 608.4L589.1 608.3L590.6 608.1L592.1 607.9L593.6 607.7L595.1 607.5L596.6 607.4L598.1 607.2L599.6 607.0L601.1 606.8L602.6 606.6L604.1 606.5L605.6 606.3L607.1 606.1L608.6 606.0L610.1 605.8L611.6 605.6L613.1 605.4L614.6 605.2L616.1 605.1L617.6 604.9L619.1 604.7L620.6 604.5L622.1 604.3L623.6 604.1L625.1 603.9L626.6 603.7L627.4 603.6" stroke="#000" stroke-width="1.2" fill="none" stroke-linejoin="round"/>
<path d="M466.5 681.1v-3.0M470.5 681.1v-3.0M471 681.1v-3.0H471.75v3.0zM472 681.1v-3.0H473v3.0zM473.25 681.1v-3.0H477v3.0zM477.5 681.1v-3.0H480.25v3.0zM480.75 681.1v-3.0H484.75v3.0zM485.25 681.1v-3.0H486.5v3.0zM487 681.1v-3.0H489.5v3.0zM489.75 681.1v-3.0H496v3.0zM496.75 681.1v-3.0H504v3.0zM504.25 681.1v-3.0H514.75v3.0zM515.25 681.1v-3.0H518v3.0zM518.25 681.1v-3.0H524.25v3.0zM524.5 681.1v-3.0H526.25v3.0zM526.75 681.1v-3.0H529v3.0zM529.5 681.1v-3.0H531v3.0zM531.25 681.1v-3.0H535.5v3.0zM536.75 681.1v-3.0M537.75 681.1v-3.0H538.5v3.0zM538.75 681.1v-3.0H545.5v3.0zM545.75 681.1v-3.0H550v3.0zM550.25 681.1v-3.0H551.25v3.0zM551.5 681.1v-3.0H554.25v3.0zM555 681.1v-3.0M555.5 681.1v-3.0H556.25v3.0zM556.5 681.1v-3.0H557.75v3.0zM558.25 681.1v-3.0H559.5v3.0zM559.75 681.1v-3.0H561.75v3.0zM562.25 681.1v-3.0H565.25v3.0zM565.75 681.1v-3.0M567 681.1v-3.0M567.75 681.1v-3.0H569v3.0zM569.5 681.1v-3.0H570.5v3.0zM570.75 681.1v-3.0H572v3.0zM572.5 681.1v-3.0H573.25v3.0zM573.75 681.1v-3.0M576 681.1v-3.0H577.5v3.0zM578.25 681.1v-3.0H579.75v3.0zM580.75 681.1v-3.0M581.75 681.1v-3.0H582.5v3.0zM583.5 681.1v-3.0H585.25v3.0zM586.5 681.1v-3.0M588.5 681.1v-3.0M589.25 681.1v-3.0H591.25v3.0zM593.5 681.1v-3.0M595.5 681.1v-3.0H596.75v3.0zM597.5 681.1v-3.0M601.25 681.1v-3.0M602 681.1v-3.0M603.75 681.1v-3.0M628.5 681.1v-3.0" stroke="#000" stroke-width=".5" fill="#000"/>
</g>
<text class="t" text-anchor="end" x="455.1" y="671.0">-1.0</text>
<text class="t" text-anchor="end" x="455.1" y="640.6">-0.5</text>
<text class="t" text-anchor="end" x="455.1" y="610.1">0.0</text>
<text class="t" text-anchor="end" x="455.1" y="579.6">0.5</text>
<text class="t" text-anchor="end" x="455.1" y="549.2">1.0</text>
<text class="t" text-anchor="middle" x="466.4" y="691.7">0.0</text>
<text class="t" text-anchor="middle" x="501.3" y="691.7">0.5</text>
<text class="t" text-anchor="middle" x="536.3" y="691.7">1.0</text>
<text class="t" text-anchor="middle" x="571.2" y="691.7">1.5</text>
<text class="t" text-anchor="middle" x="606.2" y="691.7">2.0</text>
<path d="M458.7 668.4h-2.2M458.7 638.0h-2.2M458.7 607.5h-2.2M458.7 577.0h-2.2M458.7 546.6h-2.2M466.4 681.1v2.2M501.3 681.1v2.2M536.3 681.1v2.2M571.2 681.1v2.2M606.2 681.1v2.2" stroke="#333" stroke-width=".6" fill="none"/>
<text class="ti" x="458.7" y="514.7">fixed effort</text>
<text class="ax" text-anchor="middle" textLength="96.4" lengthAdjust="spacingAndGlyphs" x="546.6" y="703.1">log10(hours/cell/year)</text>
<text class="ay" text-anchor="middle" transform="translate(438.4 600.5) rotate(-90)">ENS</text>
<text class="lg" text-anchor="middle" x="671" y="327.0">500-800</text>
<rect x="664.9" y="335.2" width="12.2" height="12.2" fill="#000080" stroke="#000" stroke-width=".9"/>
<text class="lg" text-anchor="middle" x="671" y="364.4">200-500</text>
<rect x="664.9" y="373.0" width="12.2" height="12.2" fill="#0000FF" stroke="#000" stroke-width=".9"/>
<text class="lg" text-anchor="middle" x="671" y="402.3">100-200</text>
<rect x="664.9" y="410.7" width="12.2" height="12.2" fill="#4169E1" stroke="#000" stroke-width=".9"/>
<text class="lg" text-anchor="middle" x="671" y="440.0">0-100</text>
<rect x="664.9" y="448.1" width="12.2" height="12.2" fill="#ADD8E6" stroke="#000" stroke-width=".9"/>
<text class="s" x="0" y="12">a)</text>
<text class="s" x="0" y="746">b)</text>
</svg>
</body></html>
